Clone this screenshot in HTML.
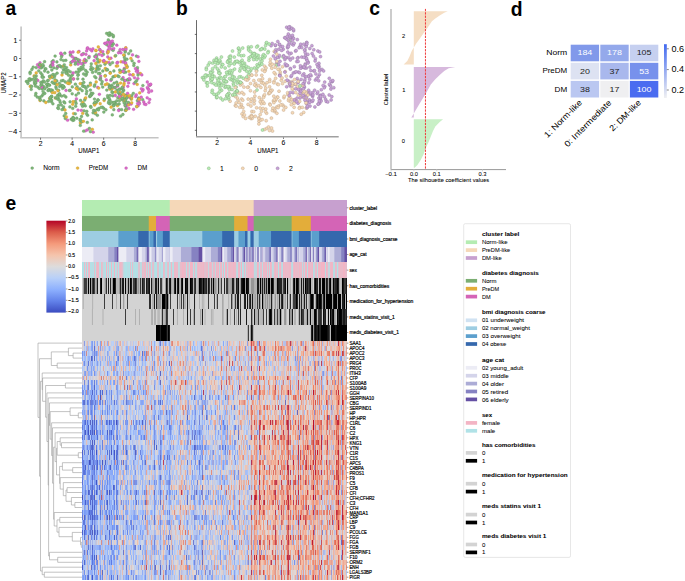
<!DOCTYPE html>
<html><head><meta charset="utf-8"><style>
html,body{margin:0;padding:0;background:#fff;width:685px;height:581px;overflow:hidden}
body{position:relative;font-family:"Liberation Sans", sans-serif}
.hr{position:absolute;left:82px;width:265px}
.aN{fill:rgb(128, 182, 122);stroke:rgb(96, 150, 92)}.aP{fill:rgb(232, 182, 62);stroke:rgb(196, 150, 45)}.aD{fill:rgb(218, 108, 200);stroke:rgb(185, 80, 168)}.b0{fill:rgb(245, 216, 182);stroke:rgb(185, 160, 135)}.b1{fill:rgb(184, 236, 180);stroke:rgb(125, 170, 122)}.b2{fill:rgb(200, 162, 214);stroke:rgb(145, 115, 160)}
</style></head><body>
<div class="hr" style="top:200.00px;height:16.09px;background:linear-gradient(90deg,#b4ecb2 87px,#c5e7b4 0 88px,#f5d8b8 0 171px,#e6c5c0 0 172px,#c7a0cf 0 265px)"></div>
<div class="hr" style="top:215.59px;height:16.09px;background:linear-gradient(90deg,#7bae72 66px,#94ae65 0 67px,#e3ad3a 0 74px,#d464b6 0 87px,#bd77a5 0 88px,#7bae72 0 152px,#d5ad42 0 153px,#e3ad3a 0 165px,#dc8a76 0 166px,#d464b6 0 171px,#b77d9f 0 172px,#7bae72 0 209px,#9fae5f 0 210px,#e3ad3a 0 228px,#e0a050 0 229px,#d464b6 0 265px)"></div>
<div class="hr" style="top:231.18px;height:16.09px;background:linear-gradient(90deg,#9dcde2 36px,#74b0d5 0 37px,#5b9fcd 0 56px,#3f77b6 0 57px,#3568ad 0 66px,#4e80ba 0 67px,#7bb5d7 0 68px,#5b9fcd 0 71px,#4782bc 0 72px,#3568ad 0 74px,#9dcde2 0 75px,#60a3cf 0 76px,#5b9fcd 0 80px,#5698c9 0 81px,#3568ad 0 87px,#5082bb 0 88px,#9dcde2 0 120px,#6fadd3 0 121px,#5b9fcd 0 140px,#3c73b3 0 141px,#3568ad 0 152px,#8fbfdb 0 153px,#9dcde2 0 156px,#7ab5d7 0 157px,#5b9fcd 0 162px,#5b9ecd 0 163px,#3568ad 0 165px,#6799c6 0 166px,#9dcde2 0 168px,#5695c7 0 169px,#3568ad 0 171px,#5789bf 0 172px,#9dcde2 0 176px,#8bc1dc 0 177px,#5b9fcd 0 189px,#366aae 0 190px,#3568ad 0 209px,#598bbf 0 210px,#74b0d5 0 211px,#5b9fcd 0 216px,#5799c9 0 217px,#3568ad 0 228px,#477ab6 0 229px,#7fb8d9 0 230px,#5b9fcd 0 237px,#3b70b2 0 238px,#3568ad 0 265px)"></div>
<div class="hr" style="top:246.77px;height:16.09px;background:linear-gradient(90deg,#ececf5 11px,#dedeef 0 12px,#d4d4ea 0 26px,#b6b6db 0 27px,#acacd6 0 32px,#9593ca 0 33px,#8682c2 0 34px,#847ec0 0 35px,#6550a4 0 36px,#b9b2d7 0 37px,#ececf5 0 44px,#dcdcee 0 45px,#d4d4ea 0 51px,#d1d1e9 0 52px,#acacd6 0 54px,#9895cb 0 55px,#776bb4 0 56px,#c7c2df 0 57px,#ececf5 0 59px,#e9e9f4 0 60px,#d4d4ea 0 63px,#c0c0e0 0 64px,#aaaad5 0 65px,#6f60ad 0 66px,#7f6fb5 0 67px,#d2d2e8 0 68px,#ececf5 0 69px,#dbdbed 0 70px,#cacae5 0 72px,#c2c2e1 0 73px,#918ec8 0 74px,#d1d1e8 0 75px,#e7e7f2 0 76px,#e1e1f0 0 77px,#d4d4ea 0 79px,#cbcbe6 0 80px,#a7a5d3 0 81px,#ececf5 0 83px,#dedeee 0 84px,#d4d4ea 0 87px,#cccce6 0 88px,#ececf5 0 90px,#e3e3f1 0 91px,#d4d4ea 0 98px,#d2d2e9 0 99px,#acacd6 0 109px,#9795cb 0 110px,#8682c2 0 116px,#7c72b8 0 117px,#6550a4 0 120px,#c3bddd 0 121px,#ececf5 0 123px,#d9d9ec 0 124px,#d4d4ea 0 128px,#d3d3ea 0 129px,#acacd6 0 135px,#a7a6d3 0 136px,#8682c2 0 139px,#6956a7 0 140px,#d1cde5 0 141px,#ececf5 0 142px,#d4d4ea 0 145px,#b6b6db 0 146px,#acacd6 0 148px,#a7a7d4 0 149px,#8682c2 0 151px,#6752a5 0 152px,#d6d4e9 0 153px,#d2d2e9 0 154px,#acacd6 0 155px,#8d86c2 0 156px,#aca2ce 0 157px,#e1e1f0 0 158px,#d4d4ea 0 160px,#b0b0d8 0 161px,#8a85c3 0 162px,#6652a5 0 163px,#c8c8e4 0 164px,#9694cb 0 165px,#a8a0ce 0 166px,#c4c4e2 0 167px,#968fc6 0 168px,#a69dcd 0 169px,#acacd6 0 170px,#847fc0 0 171px,#9284bf 0 172px,#d5d5ea 0 173px,#bbbbdd 0 174px,#dedeef 0 175px,#918ec8 0 176px,#958cc5 0 177px,#e8e8f3 0 178px,#b3b3da 0 179px,#ababd5 0 180px,#bdb5d9 0 181px,#d6d6eb 0 182px,#d4d4ea 0 183px,#b6b6db 0 184px,#acacd6 0 186px,#a7a6d3 0 187px,#8682c2 0 188px,#7b72b8 0 189px,#d9d8ec 0 190px,#d4d4ea 0 191px,#c3c3e1 0 192px,#acacd6 0 193px,#a2a1d1 0 194px,#8079bd 0 195px,#a397c9 0 196px,#ececf5 0 197px,#d4d4ea 0 198px,#cccce6 0 199px,#9a98cc 0 200px,#8581c1 0 201px,#bfb8da 0 202px,#ececf5 0 203px,#e0e0f0 0 204px,#d4d4ea 0 205px,#b8b8dc 0 206px,#acacd6 0 208px,#8e8bc6 0 209px,#9391c9 0 210px,#d4d4e9 0 211px,#d6d6eb 0 212px,#b3b3da 0 213px,#908dc7 0 214px,#7d74ba 0 215px,#cbcae4 0 216px,#babadd 0 217px,#dadaed 0 218px,#d4d4ea 0 221px,#b5b5db 0 222px,#acacd6 0 223px,#9593ca 0 224px,#7e6eb4 0 225px,#d9d9ec 0 226px,#b8b8dc 0 227px,#acacd6 0 228px,#8070b5 0 229px,#dfdfef 0 230px,#cccce6 0 231px,#8a83c1 0 232px,#dcdbec 0 233px,#d0d0e8 0 234px,#9d9cce 0 235px,#8682c2 0 236px,#6753a6 0 237px,#d8d5e9 0 238px,#dadaed 0 239px,#d4d4ea 0 240px,#aeaed7 0 241px,#a6a6d3 0 242px,#8682c2 0 243px,#6f5fad 0 244px,#dbdaed 0 245px,#d2d2e9 0 246px,#ececf5 0 247px,#e3e3f1 0 248px,#d4d4ea 0 252px,#babadd 0 253px,#acacd6 0 259px,#8e8bc6 0 260px,#8682c2 0 262px,#7467b2 0 263px,#6550a4 0 265px)"></div>
<div class="hr" style="top:262.36px;height:16.09px;background:linear-gradient(90deg,#b0e2e7 2px,#e8bcca 0 3px,#b3e0e6 0 4px,#ebbac8 0 5px,#b0e2e7 0 6px,#eabac9 0 7px,#f1b6c5 0 8px,#b5dfe5 0 9px,#b1e1e6 0 10px,#badbe2 0 11px,#b0e2e7 0 12px,#e0c1ce 0 13px,#b2e1e6 0 14px,#e9bbc9 0 15px,#f2b5c4 0 16px,#eeb7c7 0 17px,#bbdbe1 0 18px,#b0e2e7 0 19px,#ebbac8 0 20px,#e0c1ce 0 21px,#bed9e0 0 22px,#b8dce3 0 23px,#b0e2e7 0 24px,#f1b6c5 0 25px,#b5dfe4 0 26px,#e0c1ce 0 27px,#b0e2e7 0 29px,#ebbac8 0 30px,#b2e1e6 0 31px,#b9dce2 0 32px,#f2b5c5 0 33px,#b4e0e5 0 34px,#bbdbe1 0 35px,#e0c1ce 0 36px,#b0e2e7 0 37px,#e5becb 0 38px,#f0b6c5 0 39px,#ebbac8 0 40px,#e0c1ce 0 41px,#c1d6de 0 42px,#b5dfe4 0 43px,#b0e2e7 0 45px,#b7dde4 0 46px,#b4dfe5 0 47px,#b0e2e7 0 48px,#e0c1ce 0 49px,#b0e2e7 0 50px,#e4becc 0 51px,#b8dce3 0 52px,#b9dce2 0 53px,#b0e2e7 0 54px,#b5dee4 0 55px,#b6dee4 0 56px,#e0c1ce 0 58px,#bbdbe1 0 60px,#ebbac8 0 61px,#e0c1ce 0 62px,#ebbac8 0 63px,#efb7c6 0 64px,#c2d6de 0 65px,#eabbc9 0 66px,#b8dce3 0 67px,#eeb7c6 0 68px,#e0c1ce 0 69px,#b0e2e7 0 70px,#e0c1ce 0 72px,#bbdbe1 0 73px,#b0e2e7 0 75px,#e0c1ce 0 77px,#b1e2e7 0 78px,#c3d5dd 0 79px,#b2e1e6 0 80px,#b0e2e7 0 81px,#ebbac8 0 82px,#e0c1ce 0 83px,#b7dde3 0 84px,#b4dfe5 0 85px,#e2c0cd 0 86px,#e9bbc9 0 87px,#b0e2e7 0 88px,#c0d7df 0 89px,#f0b6c5 0 90px,#bbdbe1 0 91px,#b8dce3 0 92px,#edb8c7 0 93px,#eeb8c7 0 94px,#e8bbca 0 95px,#eabac9 0 96px,#bbdbe1 0 97px,#bfd8df 0 98px,#e7bcca 0 99px,#e9bbc9 0 100px,#f3b4c4 0 101px,#efb7c6 0 102px,#edb8c7 0 103px,#e9bbc9 0 104px,#bbdbe1 0 105px,#ebbac8 0 106px,#e0c1ce 0 107px,#bbdbe1 0 108px,#f3b4c4 0 110px,#f0b6c6 0 111px,#bbdbe1 0 112px,#e9bbc9 0 113px,#bdd9e0 0 114px,#bfd8df 0 115px,#e8bbca 0 116px,#f3b4c4 0 117px,#ecb9c8 0 118px,#ebbac8 0 119px,#edb8c7 0 120px,#e9bbc9 0 121px,#f2b4c4 0 122px,#e3bfcc 0 123px,#e0c1ce 0 124px,#ebbac8 0 126px,#c1d7de 0 127px,#e8bbca 0 128px,#f2b4c4 0 129px,#e9bbc9 0 130px,#c3d5dd 0 131px,#e8bbca 0 133px,#c3d5dd 0 134px,#f3b4c4 0 135px,#e8bbca 0 136px,#f3b4c4 0 137px,#c3d5dd 0 138px,#e8bbca 0 139px,#eeb7c7 0 140px,#bdd9e0 0 141px,#f3b4c4 0 142px,#b0e2e7 0 143px,#f0b6c5 0 144px,#f3b4c4 0 145px,#c3d5dd 0 146px,#e9bbc9 0 147px,#f3b4c4 0 148px,#efb7c6 0 149px,#ebbac8 0 150px,#e9bbc9 0 151px,#f3b4c4 0 152px,#efb7c6 0 153px,#ecb9c7 0 154px,#c3d5dd 0 155px,#bcdae1 0 156px,#f0b6c6 0 157px,#f3b4c4 0 158px,#c3d5dd 0 159px,#f3b4c4 0 160px,#b3e0e6 0 161px,#bed8e0 0 162px,#e8bbca 0 163px,#bbdbe2 0 164px,#ebbac8 0 165px,#e3bfcc 0 166px,#f2b5c5 0 167px,#e9bbc9 0 168px,#f3b4c4 0 170px,#f1b5c5 0 171px,#eabac9 0 172px,#bcdae1 0 173px,#c0d7df 0 174px,#c3d5dd 0 175px,#f3b4c4 0 176px,#e8bbca 0 177px,#b8dce3 0 178px,#e8bbca 0 180px,#bbdbe1 0 181px,#f1b6c5 0 182px,#e8bbca 0 184px,#f3b4c4 0 185px,#c3d5dd 0 186px,#f3b4c4 0 187px,#c3d5dd 0 188px,#f3b4c4 0 189px,#e8bbca 0 190px,#b8dce3 0 191px,#c3d5dd 0 192px,#e8bbca 0 193px,#f3b4c4 0 194px,#e3bfcd 0 195px,#ebbac8 0 196px,#b0e2e7 0 197px,#e8bbca 0 198px,#f3b4c4 0 199px,#c3d5dd 0 200px,#b8dce3 0 201px,#f3b4c4 0 202px,#e8bbca 0 203px,#efb7c6 0 204px,#ecb9c8 0 205px,#e9bbc9 0 206px,#ebbac8 0 207px,#efb6c6 0 208px,#f3b4c4 0 209px,#c3d5dd 0 210px,#b8dce3 0 211px,#e8bbca 0 212px,#f3b4c4 0 213px,#e8bbca 0 214px,#eabac8 0 215px,#ebbac8 0 216px,#e3bfcc 0 217px,#f2b5c4 0 218px,#e9bbc9 0 219px,#ecb9c7 0 220px,#bfd8df 0 221px,#e8bbca 0 222px,#c3d5dd 0 223px,#f3b4c4 0 225px,#b8dce3 0 226px,#f3b4c4 0 228px,#e8bbca 0 230px,#f3b4c4 0 231px,#b8dce3 0 232px,#c3d5dd 0 233px,#e5becb 0 234px,#ebbac8 0 235px,#b9dce2 0 236px,#f3b4c4 0 238px,#e8bbca 0 239px,#f3b4c4 0 242px,#f1b5c5 0 243px,#badbe2 0 244px,#f3b4c4 0 245px,#e8bbca 0 246px,#c3d5dd 0 248px,#ebbac8 0 249px,#f0b6c5 0 250px,#f0b6c6 0 251px,#bbdbe1 0 252px,#b9dce2 0 253px,#e8bbca 0 254px,#e4becc 0 255px,#b0e2e7 0 256px,#e0c1ce 0 257px,#ebbac8 0 260px,#eabac9 0 261px,#f3b4c4 0 263px,#e8bbca 0 265px)"></div>
<div class="hr" style="top:277.95px;height:16.09px;background:linear-gradient(90deg,#cacaca 1px,#969696 0 2px,#3c3c3c 0 3px,#3d3d3d 0 5px,#b0b0b0 0 6px,#000000 0 7px,#b9b9b9 0 8px,#000000 0 9px,#9a9a9a 0 10px,#3d3d3d 0 11px,#1a1a1a 0 12px,#3d3d3d 0 13px,#acacac 0 14px,#969696 0 15px,#171717 0 16px,#d3d3d3 0 18px,#1b1b1b 0 19px,#000000 0 20px,#cacaca 0 22px,#b9b9b9 0 23px,#969696 0 24px,#353535 0 25px,#d3d3d3 0 26px,#1a1a1a 0 27px,#d3d3d3 0 28px,#282828 0 29px,#b9b9b9 0 30px,#969696 0 31px,#000000 0 33px,#222222 0 34px,#b9b9b9 0 35px,#b8b8b8 0 36px,#bababa 0 37px,#969696 0 38px,#222222 0 39px,#969696 0 40px,#1b1b1b 0 41px,#1a1a1a 0 42px,#c8c8c8 0 43px,#030303 0 44px,#b6b6b6 0 45px,#ababab 0 46px,#1a1a1a 0 47px,#acacac 0 48px,#000000 0 49px,#171717 0 50px,#b1b1b1 0 51px,#3d3d3d 0 53px,#1a1a1a 0 54px,#3d3d3d 0 55px,#a8a8a8 0 56px,#979797 0 57px,#b8b8b8 0 58px,#353535 0 59px,#b1b1b1 0 60px,#1a1a1a 0 61px,#3d3d3d 0 63px,#d3d3d3 0 64px,#1a1a1a 0 65px,#3d3d3d 0 66px,#262626 0 67px,#0f0f0f 0 68px,#d3d3d3 0 69px,#1c1c1c 0 70px,#969696 0 71px,#a7a7a7 0 72px,#b1b1b1 0 73px,#1a1a1a 0 74px,#1b1b1b 0 75px,#9e9e9e 0 76px,#0a0a0a 0 77px,#d3d3d3 0 78px,#3d3d3d 0 80px,#b1b1b1 0 81px,#d3d3d3 0 83px,#9a9a9a 0 84px,#0e0e0e 0 85px,#3d3d3d 0 86px,#b3b3b3 0 87px,#222222 0 88px,#101010 0 89px,#a8a8a8 0 90px,#b9b9b9 0 91px,#b1b1b1 0 92px,#2a2a2a 0 93px,#000000 0 94px,#b9b9b9 0 95px,#1c1c1c 0 96px,#060606 0 97px,#a3a3a3 0 98px,#b1b1b1 0 99px,#1e1e1e 0 100px,#000000 0 101px,#c7c7c7 0 102px,#cdcdcd 0 103px,#000000 0 104px,#181818 0 105px,#0a0a0a 0 106px,#b9b9b9 0 108px,#000000 0 109px,#121212 0 110px,#1a1a1a 0 111px,#b1b1b1 0 112px,#3d3d3d 0 113px,#292929 0 114px,#b9b9b9 0 116px,#969696 0 117px,#000000 0 118px,#0e0e0e 0 119px,#1a1a1a 0 120px,#3d3d3d 0 121px,#020202 0 122px,#323232 0 123px,#353535 0 124px,#222222 0 125px,#979797 0 126px,#121212 0 127px,#333333 0 128px,#bababa 0 129px,#212121 0 130px,#969696 0 131px,#000000 0 132px,#969696 0 134px,#acacac 0 135px,#c5c5c5 0 136px,#282828 0 137px,#b3b3b3 0 138px,#aeaeae 0 139px,#3d3d3d 0 140px,#d3d3d3 0 142px,#232323 0 143px,#cacaca 0 144px,#3d3d3d 0 145px,#3b3b3b 0 146px,#969696 0 147px,#aaaaaa 0 148px,#a5a5a5 0 149px,#9a9a9a 0 150px,#1f1f1f 0 151px,#222222 0 152px,#969696 0 153px,#bebebe 0 154px,#1d1d1d 0 155px,#3a3a3a 0 156px,#0b0b0b 0 157px,#b9b9b9 0 158px,#969696 0 159px,#1a1a1a 0 160px,#090909 0 161px,#000000 0 163px,#969696 0 164px,#000000 0 165px,#0b0b0b 0 166px,#171717 0 167px,#b4b4b4 0 168px,#bebebe 0 169px,#969696 0 172px,#aeaeae 0 173px,#b1b1b1 0 175px,#1b1b1b 0 176px,#191919 0 177px,#9f9f9f 0 178px,#000000 0 179px,#969696 0 180px,#1b1b1b 0 181px,#9d9d9d 0 182px,#222222 0 183px,#969696 0 184px,#1d1d1d 0 185px,#9b9b9b 0 186px,#000000 0 188px,#969696 0 189px,#000000 0 191px,#292929 0 192px,#b2b2b2 0 193px,#b0b0b0 0 194px,#a0a0a0 0 195px,#090909 0 196px,#1a1a1a 0 197px,#222222 0 200px,#999999 0 201px,#3d3d3d 0 202px,#282828 0 203px,#0d0d0d 0 204px,#cecece 0 205px,#000000 0 206px,#b9b9b9 0 207px,#c8c8c8 0 208px,#b1b1b1 0 209px,#d3d3d3 0 210px,#bababa 0 211px,#222222 0 212px,#000000 0 213px,#969696 0 214px,#000000 0 216px,#222222 0 217px,#969696 0 218px,#b3b3b3 0 219px,#1a1a1a 0 220px,#b1b1b1 0 221px,#1a1a1a 0 222px,#b4b4b4 0 223px,#000000 0 224px,#313131 0 225px,#1a1a1a 0 226px,#3d3d3d 0 227px,#242424 0 228px,#000000 0 229px,#b9b9b9 0 231px,#d3d3d3 0 232px,#2a2a2a 0 233px,#000000 0 234px,#222222 0 235px,#1d1d1d 0 236px,#bebebe 0 237px,#0c0c0c 0 238px,#161616 0 239px,#b5b5b5 0 240px,#040404 0 241px,#000000 0 243px,#969696 0 244px,#181818 0 245px,#2c2c2c 0 246px,#9f9f9f 0 247px,#1a1a1a 0 248px,#000000 0 249px,#a9a9a9 0 250px,#a6a6a6 0 251px,#020202 0 252px,#3d3d3d 0 253px,#282828 0 254px,#222222 0 255px,#040404 0 256px,#1e1e1e 0 257px,#adadad 0 258px,#c5c5c5 0 259px,#b9b9b9 0 260px,#000000 0 261px,#181818 0 262px,#3d3d3d 0 264px,#1a1a1a 0 265px)"></div>
<div class="hr" style="top:293.54px;height:16.09px;background:linear-gradient(90deg,#cacaca 1px,#b8b8b8 0 2px,#d3d3d3 0 10px,#b6b6b6 0 11px,#cecece 0 12px,#d3d3d3 0 22px,#3d3d3d 0 23px,#d3d3d3 0 30px,#3d3d3d 0 31px,#d3d3d3 0 34px,#b1b1b1 0 35px,#d3d3d3 0 38px,#3d3d3d 0 39px,#d3d3d3 0 41px,#9e9e9e 0 42px,#c4c4c4 0 43px,#d3d3d3 0 45px,#3d3d3d 0 46px,#d3d3d3 0 67px,#2e2e2e 0 68px,#292929 0 69px,#d3d3d3 0 70px,#b1b1b1 0 72px,#1a1a1a 0 73px,#d3d3d3 0 74px,#222222 0 75px,#969696 0 79px,#b9b9b9 0 80px,#000000 0 83px,#393939 0 84px,#2e2e2e 0 85px,#000000 0 86px,#969696 0 87px,#d1d1d1 0 88px,#3d3d3d 0 89px,#d3d3d3 0 95px,#3d3d3d 0 96px,#d3d3d3 0 97px,#a5a5a5 0 98px,#bdbdbd 0 99px,#3d3d3d 0 100px,#d3d3d3 0 101px,#3d3d3d 0 102px,#b1b1b1 0 103px,#b3b3b3 0 104px,#d1d1d1 0 105px,#1a1a1a 0 106px,#cbcbcb 0 107px,#b9b9b9 0 108px,#d3d3d3 0 112px,#202020 0 113px,#cdcdcd 0 114px,#d3d3d3 0 117px,#b1b1b1 0 118px,#d3d3d3 0 119px,#cdcdcd 0 120px,#b6b6b6 0 121px,#bbbbbb 0 122px,#c9c9c9 0 123px,#d3d3d3 0 126px,#3d3d3d 0 127px,#d3d3d3 0 132px,#3d3d3d 0 133px,#d3d3d3 0 134px,#b1b1b1 0 135px,#3d3d3d 0 136px,#d3d3d3 0 140px,#a9a9a9 0 141px,#b8b8b8 0 142px,#d3d3d3 0 146px,#b7b7b7 0 147px,#cccccc 0 148px,#d3d3d3 0 149px,#393939 0 150px,#969696 0 151px,#cecece 0 152px,#b1b1b1 0 153px,#373737 0 154px,#b6b6b6 0 155px,#1a1a1a 0 157px,#d3d3d3 0 158px,#3d3d3d 0 159px,#d3d3d3 0 161px,#cacaca 0 162px,#222222 0 163px,#1b1b1b 0 164px,#d3d3d3 0 165px,#0f0f0f 0 166px,#bcbcbc 0 167px,#3d3d3d 0 168px,#1a1a1a 0 169px,#b1b1b1 0 170px,#1a1a1a 0 171px,#b4b4b4 0 172px,#aeaeae 0 173px,#a1a1a1 0 174px,#c0c0c0 0 175px,#3d3d3d 0 176px,#b1b1b1 0 177px,#2b2b2b 0 178px,#a0a0a0 0 179px,#d2d2d2 0 180px,#000000 0 181px,#969696 0 182px,#b9b9b9 0 183px,#999999 0 184px,#b6b6b6 0 185px,#969696 0 186px,#b9b9b9 0 187px,#9b9b9b 0 188px,#b4b4b4 0 189px,#222222 0 190px,#a5a5a5 0 191px,#cccccc 0 192px,#b8b8b8 0 193px,#989898 0 194px,#cacaca 0 195px,#a8a8a8 0 196px,#bababa 0 197px,#222222 0 198px,#b9b9b9 0 199px,#2d2d2d 0 200px,#171717 0 201px,#969696 0 202px,#b9b9b9 0 203px,#a3a3a3 0 204px,#d3d3d3 0 205px,#3d3d3d 0 206px,#d3d3d3 0 207px,#a2a2a2 0 208px,#292929 0 209px,#d3d3d3 0 210px,#b1b1b1 0 211px,#3d3d3d 0 213px,#3c3c3c 0 214px,#000000 0 215px,#222222 0 216px,#c3c3c3 0 217px,#181818 0 218px,#b3b3b3 0 219px,#282828 0 220px,#b9b9b9 0 221px,#9b9b9b 0 222px,#1e1e1e 0 223px,#b9b9b9 0 224px,#313131 0 225px,#cccccc 0 226px,#b7b7b7 0 227px,#989898 0 228px,#222222 0 229px,#000000 0 231px,#3d3d3d 0 232px,#d3d3d3 0 233px,#a6a6a6 0 234px,#222222 0 235px,#000000 0 236px,#222222 0 237px,#000000 0 239px,#1f1f1f 0 240px,#9a9a9a 0 241px,#222222 0 242px,#000000 0 243px,#969696 0 244px,#000000 0 250px,#a1a1a1 0 251px,#181818 0 252px,#000000 0 255px,#969696 0 256px,#000000 0 259px,#bfbfbf 0 260px,#1c1c1c 0 261px,#222222 0 262px,#000000 0 263px,#b9b9b9 0 264px,#000000 0 265px)"></div>
<div class="hr" style="top:309.13px;height:16.09px;background:linear-gradient(90deg,#d3d3d3 9px,#d0d0d0 0 10px,#b4b4b4 0 11px,#d3d3d3 0 20px,#c2c2c2 0 22px,#d3d3d3 0 43px,#3d3d3d 0 44px,#d3d3d3 0 53px,#b1b1b1 0 54px,#d3d3d3 0 56px,#d2d2d2 0 57px,#b1b1b1 0 58px,#d3d3d3 0 69px,#b2b2b2 0 70px,#afafaf 0 71px,#d3d3d3 0 72px,#b1b1b1 0 74px,#d3d3d3 0 75px,#c1c1c1 0 76px,#b9b9b9 0 77px,#bbbbbb 0 78px,#d3d3d3 0 79px,#b1b1b1 0 80px,#303030 0 81px,#b9b9b9 0 82px,#b5b5b5 0 83px,#9a9a9a 0 84px,#313131 0 85px,#3d3d3d 0 86px,#d3d3d3 0 91px,#3d3d3d 0 92px,#d3d3d3 0 94px,#d1d1d1 0 95px,#b3b3b3 0 96px,#d3d3d3 0 101px,#b1b1b1 0 102px,#d3d3d3 0 105px,#1a1a1a 0 106px,#d3d3d3 0 108px,#3d3d3d 0 109px,#d3d3d3 0 111px,#b1b1b1 0 112px,#3d3d3d 0 113px,#d3d3d3 0 118px,#a3a3a3 0 119px,#bfbfbf 0 120px,#1d1d1d 0 121px,#d1d1d1 0 122px,#c3c3c3 0 123px,#c1c1c1 0 124px,#d3d3d3 0 128px,#d1d1d1 0 129px,#b2b2b2 0 130px,#bfbfbf 0 131px,#c4c4c4 0 132px,#d3d3d3 0 140px,#a9a9a9 0 141px,#b8b8b8 0 142px,#d3d3d3 0 144px,#a7a7a7 0 145px,#242424 0 146px,#d3d3d3 0 148px,#b1b1b1 0 149px,#d3d3d3 0 152px,#3d3d3d 0 153px,#d3d3d3 0 154px,#b3b3b3 0 155px,#d0d0d0 0 156px,#3d3d3d 0 157px,#cccccc 0 158px,#222222 0 159px,#d3d3d3 0 164px,#1a1a1a 0 165px,#d3d3d3 0 169px,#2f2f2f 0 170px,#9c9c9c 0 171px,#d3d3d3 0 172px,#1a1a1a 0 173px,#b1b1b1 0 175px,#b2b2b2 0 176px,#3c3c3c 0 177px,#c2c2c2 0 178px,#b9b9b9 0 180px,#b2b2b2 0 181px,#3d3d3d 0 182px,#d3d3d3 0 184px,#3d3d3d 0 185px,#d3d3d3 0 186px,#b1b1b1 0 187px,#151515 0 188px,#000000 0 189px,#171717 0 190px,#b1b1b1 0 191px,#d3d3d3 0 192px,#3d3d3d 0 193px,#b1b1b1 0 195px,#3d3d3d 0 196px,#b0b0b0 0 197px,#969696 0 198px,#000000 0 199px,#a1a1a1 0 200px,#d3d3d3 0 202px,#9c9c9c 0 203px,#969696 0 204px,#bebebe 0 205px,#d3d3d3 0 207px,#2e2e2e 0 208px,#969696 0 210px,#191919 0 211px,#d3d3d3 0 212px,#b1b1b1 0 214px,#d3d3d3 0 216px,#b1b1b1 0 217px,#3a3a3a 0 218px,#b3b3b3 0 219px,#1a1a1a 0 220px,#3d3d3d 0 222px,#b4b4b4 0 223px,#b9b9b9 0 224px,#a5a5a5 0 225px,#141414 0 226px,#b7b7b7 0 227px,#b1b1b1 0 228px,#0a0a0a 0 229px,#c1c1c1 0 230px,#b0b0b0 0 231px,#b1b1b1 0 232px,#080808 0 233px,#000000 0 234px,#252525 0 235px,#b6b6b6 0 236px,#373737 0 237px,#303030 0 238px,#272727 0 239px,#3d3d3d 0 240px,#d3d3d3 0 241px,#0c0c0c 0 242px,#292929 0 243px,#1c1c1c 0 244px,#d1d1d1 0 245px,#c3c3c3 0 246px,#080808 0 247px,#d3d3d3 0 248px,#000000 0 249px,#353535 0 250px,#101010 0 251px,#000000 0 252px,#969696 0 253px,#ababab 0 254px,#c7c7c7 0 255px,#040404 0 256px,#1e1e1e 0 257px,#000000 0 259px,#060606 0 260px,#3d3d3d 0 261px,#1a1a1a 0 263px,#353535 0 264px,#222222 0 265px)"></div>
<div class="hr" style="top:324.72px;height:16.09px;background:linear-gradient(90deg,#d3d3d3 74px,#000000 0 77px,#020202 0 78px,#202020 0 79px,#000000 0 84px,#0e0e0e 0 85px,#363636 0 86px,#000000 0 87px,#181818 0 88px,#d3d3d3 0 165px,#b1b1b1 0 166px,#3d3d3d 0 167px,#d3d3d3 0 168px,#9b9b9b 0 169px,#0d0d0d 0 170px,#373737 0 171px,#b6b6b6 0 172px,#d3d3d3 0 228px,#c2c2c2 0 229px,#222222 0 230px,#000000 0 231px,#969696 0 232px,#222222 0 233px,#0a0a0a 0 234px,#1a1a1a 0 235px,#202020 0 236px,#000000 0 237px,#222222 0 239px,#000000 0 245px,#101010 0 246px,#1a1a1a 0 247px,#3d3d3d 0 248px,#b9b9b9 0 249px,#000000 0 253px,#141414 0 254px,#0e0e0e 0 255px,#000000 0 265px)"></div>
<div class="hr" style="top:340.65px;height:5.48px;background:linear-gradient(90deg,#dad3d7 1px,#d4cdd6 0 2px,#8c9ce3 0 3px,#ced7e7 0 4px,#e1cbc6 0 5px,#debcb7 0 6px,#bbcbee 0 7px,#e1d3d0 0 8px,#d1d3e0 0 9px,#8faef7 0 10px,#839dec 0 11px,#c6d4ee 0 12px,#85a1f0 0 13px,#e7cec4 0 14px,#b4cdf9 0 15px,#93a9ed 0 16px,#cfd8e7 0 17px,#d2d5e0 0 18px,#87a4f2 0 19px,#ea9781 0 20px,#ddd6d6 0 21px,#c0d2f2 0 22px,#e0a9a1 0 23px,#d7cdd3 0 24px,#e7cac0 0 25px,#8faffa 0 26px,#e2a59a 0 27px,#dfd2d1 0 28px,#d6d2d9 0 29px,#bccef1 0 30px,#bbd1f6 0 31px,#b8cef6 0 32px,#e1cecb 0 33px,#b8c1e7 0 34px,#d2bdc2 0 35px,#9dbaf9 0 36px,#d2ced7 0 37px,#e8bdb1 0 38px,#e6ab9d 0 39px,#dfd6d4 0 40px,#b8c8ee 0 41px,#bac7ec 0 42px,#ecc7b8 0 43px,#d1d3e0 0 44px,#d2c6d0 0 45px,#bbcdf2 0 46px,#d1d8e5 0 47px,#d7d9e0 0 48px,#c9c6da 0 49px,#cccfdf 0 50px,#dccdcf 0 51px,#b9caf0 0 52px,#ccd5e8 0 53px,#c3d0eb 0 54px,#c3cfec 0 55px,#e3d4ce 0 56px,#e6aea1 0 57px,#ebccbe 0 58px,#bccef2 0 59px,#d3d6e1 0 60px,#b2cbf8 0 61px,#ebbdae 0 62px,#dac9cb 0 63px,#ced1e2 0 64px,#e2cfcb 0 65px,#e6cdc5 0 66px,#e2c9c4 0 67px,#bcc4e0 0 68px,#c9d6eb 0 69px,#e5a496 0 70px,#bdd1f4 0 71px,#c2d3f1 0 72px,#95b2f6 0 73px,#bbd1f7 0 74px,#e2d4cf 0 75px,#d5d5de 0 76px,#cfcfdb 0 77px,#94abed 0 78px,#6b7ad3 0 79px,#bbcef2 0 80px,#afbdeb 0 81px,#ebb1a0 0 82px,#acc5f7 0 83px,#85a2f1 0 84px,#a6bef5 0 85px,#d5d4dd 0 86px,#b1c8f6 0 87px,#9bb1ee 0 88px,#cacedf 0 89px,#e59887 0 90px,#de8578 0 91px,#e6cec6 0 92px,#eecaba 0 93px,#e4cdc6 0 94px,#e1d8d5 0 95px,#f2aa90 0 96px,#f0ad95 0 97px,#e1d4cf 0 98px,#d5c8ce 0 99px,#dad1d3 0 100px,#e5d2cb 0 101px,#eacabe 0 102px,#c1d2f1 0 103px,#e5c4bb 0 104px,#dfc4c1 0 105px,#a4b8f0 0 106px,#bec3e3 0 107px,#eac0b3 0 108px,#efa68f 0 109px,#e8ccc2 0 110px,#d7d4da 0 111px,#9ab7f9 0 112px,#bad0f7 0 113px,#e1d1cd 0 114px,#f0c6b4 0 115px,#b3cbf8 0 116px,#c5d2ed 0 117px,#bacff5 0 118px,#acc3f5 0 119px,#93a8eb 0 120px,#e0cec9 0 121px,#da867d 0 122px,#e7c8be 0 123px,#a2b2ea 0 124px,#b5caf3 0 125px,#c8d0e8 0 126px,#f2ac92 0 127px,#c7cde6 0 128px,#dcd5d6 0 129px,#c1d0f0 0 130px,#c2bdda 0 131px,#c6c6df 0 132px,#e8beb3 0 133px,#dcd6d7 0 134px,#bcd0f4 0 135px,#d5cad3 0 136px,#e8a18f 0 137px,#cac8dd 0 138px,#cdd2e3 0 139px,#d7d9df 0 140px,#cfd6e5 0 141px,#87a9fa 0 142px,#d7d8df 0 143px,#b7cdf6 0 144px,#d1c8d3 0 145px,#90abf2 0 146px,#ebccbf 0 147px,#e3b5ad 0 148px,#f0c8b6 0 149px,#dccfd0 0 150px,#cad1e7 0 151px,#efc2b1 0 152px,#e0cfcd 0 153px,#ded7d6 0 154px,#cfd8e7 0 155px,#d0d0de 0 156px,#c9d1e8 0 157px,#e9a593 0 158px,#c4cae4 0 159px,#efbba8 0 160px,#eaccbf 0 161px,#ddbcba 0 162px,#dad8dc 0 163px,#eacec2 0 164px,#e4cec8 0 165px,#8da3ea 0 166px,#efb8a3 0 167px,#e7d0c7 0 168px,#e9b0a0 0 169px,#cb4953 0 170px,#f29d81 0 171px,#d97069 0 172px,#eaa28f 0 173px,#e3c9c3 0 174px,#eeb09b 0 175px,#8ca1ea 0 176px,#98a9e8 0 177px,#d06264 0 178px,#dfcecc 0 179px,#c6c1d8 0 180px,#ded7d7 0 181px,#f0a087 0 182px,#f4a68a 0 183px,#f1b29a 0 184px,#c0c9e8 0 185px,#eccbbd 0 186px,#efc7b5 0 187px,#dfcfcd 0 188px,#efc4b1 0 189px,#c6cbe5 0 190px,#f1c7b4 0 191px,#e8cac0 0 192px,#d1d8e5 0 193px,#df7b6b 0 194px,#e6d0c6 0 195px,#f3b198 0 196px,#f4b39a 0 197px,#c2c2de 0 198px,#d3d5e0 0 199px,#e1d0cc 0 200px,#e8a899 0 201px,#b4c4ee 0 202px,#b4bfe8 0 203px,#b7bee5 0 204px,#e2988f 0 205px,#ea9985 0 206px,#e7baaf 0 207px,#eea892 0 208px,#ba3a57 0 209px,#e49989 0 210px,#c9bace 0 211px,#edbeae 0 212px,#ddd8d9 0 213px,#f1b098 0 214px,#d1c0cc 0 215px,#b4b9e3 0 216px,#e9c9bc 0 217px,#dbd1d4 0 218px,#f2a488 0 219px,#da7a70 0 220px,#beb2d3 0 221px,#97a6e6 0 222px,#e5d4cc 0 223px,#e79a89 0 224px,#f3b69d 0 225px,#d2cedb 0 226px,#f1bda8 0 227px,#d8d8de 0 228px,#ecc5b5 0 229px,#eac0b4 0 230px,#f1977b 0 231px,#e16854 0 232px,#b4aed6 0 233px,#ecb8a8 0 234px,#dccfd0 0 235px,#f4a082 0 236px,#d5b5bb 0 237px,#ea9685 0 238px,#e5d2ca 0 239px,#eca08a 0 240px,#a9b9ec 0 241px,#f0bca8 0 242px,#e3cac5 0 243px,#d1cedc 0 244px,#f0c5b2 0 245px,#eb957d 0 246px,#cacfe4 0 247px,#efb19b 0 248px,#e4c6bf 0 249px,#d5c8cf 0 250px,#dec8c5 0 251px,#eebca9 0 252px,#c6c2db 0 253px,#efc3b1 0 254px,#e6d2ca 0 255px,#cac1d5 0 256px,#c53245 0 257px,#f1a78e 0 258px,#f4c2ac 0 259px,#b3bee8 0 260px,#ea846c 0 261px,#eea794 0 262px,#e3cac4 0 263px,#e5d0c8 0 264px,#ecccbf 0 265px)"></div>
<div class="hr" style="top:345.63px;height:5.48px;background:linear-gradient(90deg,#dccfd1 1px,#d0d4e0 0 2px,#b7c6ee 0 3px,#cad1e6 0 4px,#9db8f5 0 5px,#cdadb7 0 6px,#9bb4f5 0 7px,#b3c8f4 0 8px,#b6c8f0 0 9px,#87a8f8 0 10px,#829ff0 0 11px,#cfd1e0 0 12px,#6270ce 0 13px,#bac6eb 0 14px,#cfcdda 0 15px,#bcd0f4 0 16px,#e09c92 0 17px,#c6cee6 0 18px,#819ced 0 19px,#e1c3c0 0 20px,#a3b8f2 0 21px,#e6c1b8 0 22px,#afbfea 0 23px,#aec3f0 0 24px,#c8d5ec 0 25px,#c7d2ea 0 26px,#aec8fa 0 27px,#92b2fa 0 28px,#b3c9f3 0 29px,#cdd4e3 0 30px,#cbd5e9 0 31px,#e7c2b8 0 32px,#bbcbed 0 33px,#e3c8c0 0 34px,#9ab0ed 0 35px,#93abee 0 36px,#839fee 0 37px,#cbd2e3 0 38px,#d3d2db 0 39px,#e4c1ba 0 40px,#c1c9e1 0 41px,#d4d7e2 0 42px,#d2d7e3 0 43px,#b5cbf5 0 44px,#96aff3 0 45px,#99b7f9 0 46px,#e9baac 0 47px,#adc2f3 0 48px,#abc5f8 0 49px,#bacdf1 0 50px,#b2c9f6 0 51px,#a0b7f2 0 52px,#e8d0c5 0 53px,#788ee4 0 54px,#9ebaf9 0 55px,#d7908c 0 56px,#c3d3f0 0 57px,#aec8f9 0 58px,#bacff6 0 59px,#bdcbeb 0 60px,#c5cee4 0 61px,#b8cef6 0 62px,#d4c8cf 0 63px,#bed2f4 0 64px,#e4c6c1 0 65px,#bacff4 0 66px,#ecc2b4 0 67px,#dcd3d5 0 68px,#cbd5e8 0 69px,#d26061 0 70px,#e5d3cc 0 71px,#becbec 0 72px,#9db6f4 0 73px,#cdd3e5 0 74px,#f3a489 0 75px,#e2ccc6 0 76px,#e9b6a8 0 77px,#acc2f4 0 78px,#adc0f0 0 79px,#ded1d0 0 80px,#dbd1d3 0 81px,#e79a89 0 82px,#d3d9e4 0 83px,#eeb5a1 0 84px,#dbcbcd 0 85px,#eead97 0 86px,#e9cec2 0 87px,#a5baf2 0 88px,#9bb7f8 0 89px,#d0cfda 0 90px,#dad9dd 0 91px,#d5c3c6 0 92px,#e3bab2 0 93px,#d5d8e1 0 94px,#a1bdf9 0 95px,#b5cdf7 0 96px,#bfcfed 0 97px,#b3c8f3 0 98px,#df9185 0 99px,#e4d1ca 0 100px,#b4c4ed 0 101px,#eab8a9 0 102px,#ebbaaa 0 103px,#bac1e0 0 104px,#cec5d2 0 105px,#88a7f5 0 106px,#e8d1c6 0 107px,#ccd2e6 0 108px,#e39384 0 109px,#cbd4e8 0 110px,#97b7fd 0 111px,#c4d4ef 0 112px,#9ebbf9 0 113px,#aec8f9 0 114px,#c8d5ec 0 115px,#abc3f6 0 116px,#c2d2f0 0 117px,#c0d0f0 0 118px,#a2c0fb 0 119px,#5e76da 0 120px,#91a1e3 0 121px,#dcc4c2 0 122px,#dfc7c5 0 123px,#d7d2d9 0 124px,#d8d8dd 0 125px,#a2bef8 0 126px,#cad1e4 0 127px,#c6cde7 0 128px,#d8d7dd 0 129px,#7997ef 0 130px,#e1d5d1 0 131px,#a2b4ec 0 132px,#d1d8e6 0 133px,#eaac9b 0 134px,#e5d4cc 0 135px,#bfcae7 0 136px,#d8d9df 0 137px,#d1cddb 0 138px,#9fbbf8 0 139px,#f0b8a3 0 140px,#e1d2cf 0 141px,#b0c9f9 0 142px,#edc1b2 0 143px,#cdcad7 0 144px,#dfc1bf 0 145px,#a3c1fb 0 146px,#ecb9a7 0 147px,#bacbf1 0 148px,#b7caf2 0 149px,#adbded 0 150px,#ebb9a9 0 151px,#cad2e5 0 152px,#cad3e7 0 153px,#c6d2ec 0 154px,#f0a58c 0 155px,#cbcadd 0 156px,#c3c2dd 0 157px,#dc7b70 0 158px,#f1b59f 0 159px,#eaccbe 0 160px,#f4b095 0 161px,#e2d3ce 0 162px,#e6b6ab 0 163px,#8296e5 0 164px,#e5bdb2 0 165px,#cad2e7 0 166px,#b7bde3 0 167px,#bfd2f3 0 168px,#9ab8fa 0 169px,#c45c6c 0 170px,#e5cbc5 0 171px,#c7cce4 0 172px,#e27e6c 0 173px,#d24e4c 0 174px,#ed967e 0 175px,#b0b4e0 0 176px,#c9d2e9 0 177px,#e28674 0 178px,#d75b56 0 179px,#cdb7c8 0 180px,#edb7a4 0 181px,#f0af99 0 182px,#d14f50 0 183px,#aec1f0 0 184px,#ccd0e3 0 185px,#e7c4b8 0 186px,#d3bbc3 0 187px,#ebccbe 0 188px,#ebc5b7 0 189px,#e3cac4 0 190px,#f0a88f 0 191px,#f1b39c 0 192px,#e7ccc1 0 193px,#d5655f 0 194px,#f0a58c 0 195px,#e5ccc2 0 196px,#e77b64 0 197px,#f3ad93 0 198px,#e48f7e 0 199px,#d67872 0 200px,#e9a594 0 201px,#f29b7e 0 202px,#eeac99 0 203px,#d6c9cf 0 204px,#eebaa8 0 205px,#ec9b89 0 206px,#f09e84 0 207px,#f1a58b 0 208px,#f1a489 0 209px,#c4cae6 0 210px,#979dd9 0 211px,#d6d2db 0 212px,#dec9c9 0 213px,#dbd2d4 0 214px,#efc5b3 0 215px,#a7bdf2 0 216px,#ed9881 0 217px,#e7cac1 0 218px,#c4c3dd 0 219px,#e8d0c6 0 220px,#d5cdd5 0 221px,#f1ad95 0 222px,#efb6a2 0 223px,#b94462 0 224px,#eea18a 0 225px,#e5beb6 0 226px,#cebecd 0 227px,#e2d5d1 0 228px,#dfccc8 0 229px,#dcd6d7 0 230px,#f2b69f 0 231px,#ee9176 0 232px,#bcc1e3 0 233px,#f4b49b 0 234px,#c2c8e5 0 235px,#e7c4b8 0 236px,#e0aaa4 0 237px,#f0a58e 0 238px,#f0c3af 0 239px,#e5a092 0 240px,#c5cce7 0 241px,#d6d6de 0 242px,#ebb4a2 0 243px,#9babe7 0 244px,#eb9882 0 245px,#dfd6d5 0 246px,#dad6da 0 247px,#e1d8d5 0 248px,#e5b9b0 0 249px,#f0b5a0 0 250px,#d8c9ce 0 251px,#ecc9ba 0 252px,#e4c3bb 0 253px,#e7ccc2 0 254px,#eebca9 0 255px,#f2ad93 0 256px,#f19f84 0 257px,#eb8c75 0 258px,#edcaba 0 259px,#b2c5f1 0 260px,#edcbbc 0 261px,#ea917a 0 262px,#e4d2cb 0 263px,#dad7d9 0 264px,#daa7a3 0 265px)"></div>
<div class="hr" style="top:350.61px;height:5.48px;background:linear-gradient(90deg,#7495f2 1px,#a2baf2 0 2px,#859be7 0 3px,#adc7fa 0 4px,#cf8a8c 0 5px,#c3d0ea 0 6px,#a7c0f5 0 7px,#b1c9f7 0 8px,#c3d2ee 0 9px,#bacff5 0 10px,#93a9ee 0 11px,#a2b4ed 0 12px,#7089e4 0 13px,#95a6e8 0 14px,#7292ee 0 15px,#96aff3 0 16px,#dfb3af 0 17px,#b3c7f2 0 18px,#ddbdbc 0 19px,#e5cfc8 0 20px,#d3cfd9 0 21px,#decccc 0 22px,#b8c8ec 0 23px,#c6cee5 0 24px,#cfd6e6 0 25px,#8ba4ed 0 26px,#9eb8f4 0 27px,#d8cdd1 0 28px,#c8d2e7 0 29px,#cad0e2 0 30px,#d8d6dc 0 31px,#b3cbf7 0 32px,#8eacf7 0 33px,#e2c7c0 0 34px,#7c93e5 0 35px,#a3baf4 0 36px,#aebfe9 0 37px,#e7b6a8 0 38px,#d1b8be 0 39px,#cfd1e0 0 40px,#d1ced8 0 41px,#b7cef8 0 42px,#dfccc9 0 43px,#adc7f8 0 44px,#a2bdf7 0 45px,#bacbee 0 46px,#c8cbe2 0 47px,#eec9b9 0 48px,#d5d9e1 0 49px,#ddbfbe 0 50px,#d4c2c8 0 51px,#a5bff7 0 52px,#9eb1eb 0 53px,#dcd9db 0 54px,#9bb9fa 0 55px,#ced6e6 0 56px,#95b4f9 0 57px,#85a7fa 0 58px,#dec5c4 0 59px,#d6d8df 0 60px,#5871da 0 61px,#ddadaa 0 62px,#718feb 0 63px,#96b3f7 0 64px,#d07777 0 65px,#ce9da1 0 66px,#e69987 0 67px,#d6d9e1 0 68px,#e4d2cc 0 69px,#dea49e 0 70px,#a4bbf4 0 71px,#d0c8d3 0 72px,#8f9bde 0 73px,#cdcedd 0 74px,#dacccf 0 75px,#dbc9cb 0 76px,#d9c0c3 0 77px,#c9d5eb 0 78px,#b1c2ef 0 79px,#d4d2da 0 80px,#c2cbe6 0 81px,#e07f6f 0 82px,#dac7ca 0 83px,#d7dae1 0 84px,#b0bfec 0 85px,#e7cac2 0 86px,#a3b5ed 0 87px,#7e97e8 0 88px,#c6d1e9 0 89px,#d5d3db 0 90px,#d4d2db 0 91px,#e7c5bc 0 92px,#d5ced6 0 93px,#d8d8de 0 94px,#a6c1f8 0 95px,#aac4f9 0 96px,#e4cfc9 0 97px,#c0ceee 0 98px,#c2cae5 0 99px,#f4bfa8 0 100px,#e0cfcb 0 101px,#c7d2ea 0 102px,#dbced1 0 103px,#e5c4bc 0 104px,#d4ced6 0 105px,#b9c3e8 0 106px,#ced3e4 0 107px,#cbd1e5 0 108px,#eacfc3 0 109px,#d8d3d9 0 110px,#ced6e7 0 111px,#ebc3b5 0 112px,#ddc5c3 0 113px,#a5b7ee 0 114px,#f2a88e 0 115px,#b8c3e9 0 116px,#edc0b0 0 117px,#cccadc 0 118px,#d9d5d9 0 119px,#a8bdf2 0 120px,#837fc6 0 121px,#ddc3c0 0 122px,#a4bff7 0 123px,#cecfdf 0 124px,#becdee 0 125px,#ced7e7 0 126px,#ccd6e9 0 127px,#c7b5cc 0 128px,#afc1ef 0 129px,#d3d9e4 0 130px,#97aaea 0 131px,#d2d8e4 0 132px,#b2ccf9 0 133px,#aac2f5 0 134px,#c1c8e6 0 135px,#bccef2 0 136px,#dbcccf 0 137px,#c8cae0 0 138px,#efc9b8 0 139px,#e8aa9a 0 140px,#b8cff7 0 141px,#aec5f5 0 142px,#d5cdd4 0 143px,#b4c5ee 0 144px,#d8827c 0 145px,#7c92e3 0 146px,#e6a99b 0 147px,#e3c6c1 0 148px,#ddd6d6 0 149px,#dcd1d2 0 150px,#b2caf8 0 151px,#d5cfd5 0 152px,#b5c9f2 0 153px,#f1bfaa 0 154px,#eb947e 0 155px,#c3d0eb 0 156px,#cecede 0 157px,#e5aea2 0 158px,#e7c5b9 0 159px,#d8c2c4 0 160px,#e9cabf 0 161px,#ddd7d7 0 162px,#d0d3e2 0 163px,#c9d2e9 0 164px,#cbbecf 0 165px,#bdc3e3 0 166px,#ea866f 0 167px,#dbd6d9 0 168px,#d0d1dd 0 169px,#d16b6a 0 170px,#ded1cf 0 171px,#f1c8b4 0 172px,#aebeed 0 173px,#d0d2e0 0 174px,#f3c0ab 0 175px,#8495e1 0 176px,#cad4e9 0 177px,#ddd7d8 0 178px,#d3d3de 0 179px,#d2cdd9 0 180px,#e8aa99 0 181px,#de7265 0 182px,#e17e6d 0 183px,#e5d0c9 0 184px,#b0c7f5 0 185px,#cdcbdc 0 186px,#c3c8e4 0 187px,#d2d1dc 0 188px,#ceccdd 0 189px,#a7c3fa 0 190px,#e6cfc6 0 191px,#bbccf0 0 192px,#e8937f 0 193px,#e19d92 0 194px,#c2d2ef 0 195px,#efa68e 0 196px,#eca590 0 197px,#bfcff0 0 198px,#b7cdf6 0 199px,#d5d3da 0 200px,#e19c91 0 201px,#e6b7ae 0 202px,#bdc2e3 0 203px,#a0afe8 0 204px,#eea791 0 205px,#efc6b5 0 206px,#e7907c 0 207px,#dcd4d5 0 208px,#f3b39a 0 209px,#e8cec3 0 210px,#d6d7de 0 211px,#e8beb2 0 212px,#d5d7e0 0 213px,#f3a083 0 214px,#d9d3d7 0 215px,#9aa4e1 0 216px,#f2af97 0 217px,#cfd4e3 0 218px,#dad3d6 0 219px,#f1af96 0 220px,#efb8a4 0 221px,#f1987c 0 222px,#c7d5ed 0 223px,#e7b2a5 0 224px,#f3bfa9 0 225px,#e9b1a1 0 226px,#e9cabd 0 227px,#e8cbc0 0 228px,#efa58d 0 229px,#ebab99 0 230px,#f4a88c 0 231px,#e26d5b 0 232px,#c5b8d0 0 233px,#d35352 0 234px,#f2a88f 0 235px,#e89f91 0 236px,#ebb3a4 0 237px,#eb8a74 0 238px,#f4bda5 0 239px,#da675f 0 240px,#e2d2cb 0 241px,#f2bba5 0 242px,#dbcecf 0 243px,#ded7d6 0 244px,#e9c9bf 0 245px,#ea8971 0 246px,#e9836b 0 247px,#e67c65 0 248px,#d1d3e1 0 249px,#e1c9c2 0 250px,#e17766 0 251px,#de6658 0 252px,#f4ab8f 0 253px,#e7ccc3 0 254px,#ca545e 0 255px,#e2bdb8 0 256px,#c2354a 0 257px,#f2ab91 0 258px,#f4b49b 0 259px,#b1c0ec 0 260px,#ce4044 0 261px,#d25c5a 0 262px,#bcbedf 0 263px,#f2c1ab 0 264px,#eb9f8a 0 265px)"></div>
<div class="hr" style="top:355.59px;height:5.48px;background:linear-gradient(90deg,#88aafa 1px,#bfcdeb 0 2px,#9ebcfb 0 3px,#9bbafc 0 4px,#c6cee3 0 5px,#a9c2f7 0 6px,#94b2f7 0 7px,#8faff8 0 8px,#bac6ea 0 9px,#5062c9 0 10px,#6680e0 0 11px,#c8d3eb 0 12px,#5d6dcc 0 13px,#c4d3ef 0 14px,#8cabf7 0 15px,#b2c3ec 0 16px,#e8c9bf 0 17px,#a4c0f9 0 18px,#abc0f2 0 19px,#e3c4bf 0 20px,#9eb8f6 0 21px,#d1c8d2 0 22px,#c7ccdd 0 23px,#92acf2 0 24px,#e0d3d0 0 25px,#9bb5f4 0 26px,#cccfdf 0 27px,#8ea9f2 0 28px,#dbcbcd 0 29px,#bcc7e6 0 30px,#e4cfc9 0 31px,#9cb8f7 0 32px,#b2c2e9 0 33px,#dfcfce 0 34px,#ced5e5 0 35px,#7c9cf2 0 36px,#607adf 0 37px,#d7cfd5 0 38px,#e5b7ae 0 39px,#d0d3e2 0 40px,#e1b0a9 0 41px,#a8bef2 0 42px,#c7d3ec 0 43px,#a1bbf5 0 44px,#b8d0f9 0 45px,#8daffc 0 46px,#7e8fde 0 47px,#a8bef3 0 48px,#a0b9f5 0 49px,#e1cac8 0 50px,#9ebaf8 0 51px,#97b5f8 0 52px,#5b72d6 0 53px,#7b8fe0 0 54px,#a3b7f0 0 55px,#ccd4e6 0 56px,#a1befa 0 57px,#ddb7b2 0 58px,#d0c5d0 0 59px,#9cbbfc 0 60px,#7596f3 0 61px,#d3bbc3 0 62px,#a6c3fb 0 63px,#7e95e7 0 64px,#e18a7b 0 65px,#c8d2e7 0 66px,#b4c9f4 0 67px,#d6b9bb 0 68px,#d3d9e3 0 69px,#d9d0d5 0 70px,#93a4e6 0 71px,#cfd3e0 0 72px,#98b7fb 0 73px,#d9dadf 0 74px,#e0d4d2 0 75px,#f4a88c 0 76px,#e9a18e 0 77px,#89a6f3 0 78px,#c2d1ef 0 79px,#b4caf6 0 80px,#e9c9be 0 81px,#f0b7a2 0 82px,#d1cfdc 0 83px,#dcd8da 0 84px,#d3c8d2 0 85px,#abc3f6 0 86px,#c4d0e9 0 87px,#b5c7f0 0 88px,#d5c6ca 0 89px,#dcc6c4 0 90px,#b4c7f1 0 91px,#e8b8ac 0 92px,#d6d1d8 0 93px,#e4d0c8 0 94px,#ebcdc0 0 95px,#eecbbb 0 96px,#aec3f4 0 97px,#d1d4e1 0 98px,#dbcbcd 0 99px,#cfd7e7 0 100px,#f1c2ae 0 101px,#c5d2ec 0 102px,#cdd4e6 0 103px,#e7ad9f 0 104px,#c1c2dc 0 105px,#9eb4f1 0 106px,#c0ccec 0 107px,#e3d4ce 0 108px,#c0d1f1 0 109px,#b5c9f3 0 110px,#a4bdf5 0 111px,#b3c8f3 0 112px,#c6cbe4 0 113px,#d0d5e3 0 114px,#d7d3da 0 115px,#e0d7d4 0 116px,#eac7bb 0 117px,#8fa5ec 0 118px,#c6d4ee 0 119px,#9ab6f8 0 120px,#888bd1 0 121px,#d27b78 0 122px,#bacef3 0 123px,#c5cde6 0 124px,#bdcaec 0 125px,#bdd0f2 0 126px,#dad6da 0 127px,#9eb5f1 0 128px,#97afef 0 129px,#c7cee6 0 130px,#c4ceea 0 131px,#de8275 0 132px,#decdcc 0 133px,#7495f1 0 134px,#b2c5f1 0 135px,#b9c3e2 0 136px,#a9c5fb 0 137px,#b3caf5 0 138px,#abc1f2 0 139px,#c2586a 0 140px,#88a0ec 0 141px,#b1cafa 0 142px,#e7c9c1 0 143px,#cdd1e0 0 144px,#dfb9b6 0 145px,#c2d1ef 0 146px,#ddd0d0 0 147px,#d9928d 0 148px,#efc6b4 0 149px,#d7d7de 0 150px,#e8c3b9 0 151px,#b6c7ed 0 152px,#abc4f7 0 153px,#7d88d8 0 154px,#f0bfab 0 155px,#cbd3e7 0 156px,#b8caf2 0 157px,#e49a8b 0 158px,#bbcaed 0 159px,#c3c8e1 0 160px,#c4d2ee 0 161px,#dfb5b0 0 162px,#b2c8f3 0 163px,#bbcbf1 0 164px,#d7d5dc 0 165px,#b9cdf4 0 166px,#e5aca4 0 167px,#b0bbe6 0 168px,#aac3f7 0 169px,#c76e77 0 170px,#c3c5de 0 171px,#f1c2ad 0 172px,#d0cfde 0 173px,#eaaa9c 0 174px,#efbda9 0 175px,#aeb7e5 0 176px,#8ca0e8 0 177px,#dd7164 0 178px,#eeaa93 0 179px,#e3cdc5 0 180px,#d5d5de 0 181px,#f2ab91 0 182px,#eab8a9 0 183px,#bdd0f4 0 184px,#a6c2fa 0 185px,#e1d7d3 0 186px,#f1c7b4 0 187px,#a5bdf5 0 188px,#decac8 0 189px,#ded5d4 0 190px,#f2bfab 0 191px,#eeb19d 0 192px,#b2c3ee 0 193px,#d87f77 0 194px,#c7d0e8 0 195px,#ebc8ba 0 196px,#eba38e 0 197px,#aebceb 0 198px,#adc4f5 0 199px,#f0aa92 0 200px,#e2c1bb 0 201px,#f0b7a2 0 202px,#e8b2a4 0 203px,#b2bae4 0 204px,#dbcdcf 0 205px,#e47661 0 206px,#e4a395 0 207px,#b4cbf6 0 208px,#e0d4d1 0 209px,#e4d3cd 0 210px,#c7d4eb 0 211px,#e4c7c1 0 212px,#b4cbf6 0 213px,#848dd7 0 214px,#e1bcb5 0 215px,#909adb 0 216px,#f3ad92 0 217px,#a4b6ee 0 218px,#ef9276 0 219px,#cbd4e9 0 220px,#afb8e5 0 221px,#eab3a5 0 222px,#e0d9d5 0 223px,#e8baae 0 224px,#f3c3ad 0 225px,#eac9bd 0 226px,#adafdd 0 227px,#cfd3e3 0 228px,#dcd9da 0 229px,#b8cbf2 0 230px,#dfd3d2 0 231px,#afa9d5 0 232px,#b9c0e5 0 233px,#f4bea6 0 234px,#e9cabf 0 235px,#dccaca 0 236px,#b6bce3 0 237px,#c1c2df 0 238px,#cad6eb 0 239px,#deb6b3 0 240px,#a5bbf2 0 241px,#ccd3e4 0 242px,#e6c3bb 0 243px,#f5bca4 0 244px,#efb099 0 245px,#ded6d6 0 246px,#bcd1f5 0 247px,#efb29c 0 248px,#bbcbf0 0 249px,#dbdadc 0 250px,#cbd0e3 0 251px,#aab5e6 0 252px,#e1d6d2 0 253px,#c1d1f1 0 254px,#e2cfcb 0 255px,#eac0b2 0 256px,#eeb39f 0 257px,#cfcede 0 258px,#87a2ef 0 259px,#8492dc 0 260px,#e1cac4 0 261px,#c4cee9 0 262px,#eabdaf 0 263px,#c5cee9 0 264px,#d1d4df 0 265px)"></div>
<div class="hr" style="top:360.57px;height:5.48px;background:linear-gradient(90deg,#e4cdc6 1px,#9eb5f3 0 2px,#748ee6 0 3px,#a8c3f9 0 4px,#b5c6ed 0 5px,#b2bfe4 0 6px,#5f78dc 0 7px,#c1ceea 0 8px,#a6b0e5 0 9px,#94b4fc 0 10px,#87a0ee 0 11px,#c5d3ed 0 12px,#a3bef8 0 13px,#bbcdf1 0 14px,#a0bbf6 0 15px,#849eed 0 16px,#b0c4f1 0 17px,#c0d0ee 0 18px,#87a4f1 0 19px,#c7cee4 0 20px,#d0d4e1 0 21px,#b4cbf7 0 22px,#b5ccf8 0 23px,#c9c9db 0 24px,#e0c9c7 0 25px,#8eaef9 0 26px,#daafaf 0 27px,#9ebcfb 0 28px,#8db0fd 0 29px,#acbeeb 0 30px,#c9d5ec 0 31px,#acc1ef 0 32px,#9cbafb 0 33px,#eab8a9 0 34px,#6885e7 0 35px,#95b2f7 0 36px,#91b2fd 0 37px,#d5d8e1 0 38px,#d7c0c4 0 39px,#e3d6d0 0 40px,#c2cfea 0 41px,#a0b7f3 0 42px,#c0cbeb 0 43px,#bccff2 0 44px,#92acf1 0 45px,#9ab9fb 0 46px,#8798e2 0 47px,#f2a88e 0 48px,#9fbcfa 0 49px,#a2bbf3 0 50px,#baccf1 0 51px,#97b5f9 0 52px,#9db5f2 0 53px,#798ddf 0 54px,#b2c8f5 0 55px,#c9d5ea 0 56px,#aec5f6 0 57px,#e0cfce 0 58px,#d1d7e3 0 59px,#c2cfeb 0 60px,#97b4f6 0 61px,#bfcae7 0 62px,#b2caf8 0 63px,#9cbbfc 0 64px,#c8d4eb 0 65px,#d9d3d7 0 66px,#dfd7d5 0 67px,#d4cdd5 0 68px,#bbcdf2 0 69px,#e5c4bd 0 70px,#aac4f7 0 71px,#e8afa0 0 72px,#7a91e2 0 73px,#b8cdf5 0 74px,#d5d7e0 0 75px,#f3b299 0 76px,#e8a696 0 77px,#ccd6e9 0 78px,#899ae4 0 79px,#c9d5ea 0 80px,#c7d4ec 0 81px,#d8948e 0 82px,#e1c8c3 0 83px,#e0cecc 0 84px,#90a3e8 0 85px,#e0d3d1 0 86px,#aec8f9 0 87px,#586cd1 0 88px,#e1cfcc 0 89px,#cd656b 0 90px,#c8d0e7 0 91px,#d9c9cb 0 92px,#bfcaeb 0 93px,#c9d4ea 0 94px,#ced2e3 0 95px,#e4b3aa 0 96px,#c0d1f1 0 97px,#eeb5a0 0 98px,#e98e78 0 99px,#dacfd1 0 100px,#f0c4b2 0 101px,#d88d87 0 102px,#d6cfd4 0 103px,#dabebf 0 104px,#aab6e6 0 105px,#c8c9de 0 106px,#cfc4d2 0 107px,#e2cec9 0 108px,#f1bca7 0 109px,#e2cbc8 0 110px,#b2c9f7 0 111px,#f1c6b3 0 112px,#bcccef 0 113px,#adc3f4 0 114px,#c6d3ec 0 115px,#e8cfc4 0 116px,#decac7 0 117px,#bed2f4 0 118px,#9bb4f4 0 119px,#cad1e6 0 120px,#bec7e7 0 121px,#dcd7d8 0 122px,#e0d6d4 0 123px,#969edc 0 124px,#d5d1d8 0 125px,#c4c8e4 0 126px,#d6d8e0 0 127px,#c0cff0 0 128px,#c3ceea 0 129px,#c4d1eb 0 130px,#e0d2ce 0 131px,#becced 0 132px,#cdd7e8 0 133px,#b0c3f0 0 134px,#ecbeae 0 135px,#e9cec2 0 136px,#d3d9e4 0 137px,#ded5d5 0 138px,#bbcff4 0 139px,#d68985 0 140px,#d5d4de 0 141px,#bacef2 0 142px,#f0bca8 0 143px,#c7d2ea 0 144px,#e3bbb3 0 145px,#9cb4f2 0 146px,#e2d7d2 0 147px,#bc4b64 0 148px,#e1cecb 0 149px,#ddd7d7 0 150px,#cc565f 0 151px,#dfc4c2 0 152px,#a7bdf3 0 153px,#e0d0ce 0 154px,#d9d1d4 0 155px,#e7a899 0 156px,#b3c0eb 0 157px,#e6d1c8 0 158px,#b5bae1 0 159px,#e5d1c9 0 160px,#c9d3e9 0 161px,#bbcdf1 0 162px,#d7cacf 0 163px,#96adef 0 164px,#e0d7d4 0 165px,#ced3e4 0 166px,#a3a9df 0 167px,#cad4e8 0 168px,#e1cfcc 0 169px,#e59281 0 170px,#f2c4af 0 171px,#d6dae2 0 172px,#d3cbd4 0 173px,#eacbbe 0 174px,#e1d6d2 0 175px,#9db8f7 0 176px,#93b4fc 0 177px,#eac2b5 0 178px,#b8ccf3 0 179px,#e3d0ca 0 180px,#e8cdc3 0 181px,#eebdab 0 182px,#e0988e 0 183px,#bbd0f4 0 184px,#88a7f6 0 185px,#f1c6b3 0 186px,#a6b3e9 0 187px,#e7cfc6 0 188px,#a5c0f9 0 189px,#b6cbf4 0 190px,#e5bdb4 0 191px,#d1cdd8 0 192px,#e5cfc6 0 193px,#d9d5d9 0 194px,#dfbfbe 0 195px,#dfd4d2 0 196px,#ecbbab 0 197px,#c3d2ee 0 198px,#adc5f6 0 199px,#f0c5b2 0 200px,#ced0e0 0 201px,#d8c2c5 0 202px,#a6b0e5 0 203px,#b5caf4 0 204px,#b0bfed 0 205px,#e9cec2 0 206px,#d3acb1 0 207px,#bdcff1 0 208px,#ebccbf 0 209px,#c8d5ec 0 210px,#e0d2ce 0 211px,#e1d2cf 0 212px,#c8d1e8 0 213px,#a2b9f2 0 214px,#a3ade6 0 215px,#b5bbe3 0 216px,#f0a58c 0 217px,#89a2ec 0 218px,#ebcdbf 0 219px,#dec3c1 0 220px,#a9a6d8 0 221px,#e4cfc7 0 222px,#d2d3df 0 223px,#e6a899 0 224px,#ddd2d3 0 225px,#d8d3d8 0 226px,#f2c6b2 0 227px,#aec3f3 0 228px,#a4afe6 0 229px,#d6d4db 0 230px,#efbfac 0 231px,#efb8a5 0 232px,#8b8ccf 0 233px,#e98c76 0 234px,#f4b69c 0 235px,#f19f85 0 236px,#8080c8 0 237px,#d6b8bd 0 238px,#dcd8da 0 239px,#bb425e 0 240px,#a9bdf0 0 241px,#c0c4e3 0 242px,#f29b7e 0 243px,#e6d2ca 0 244px,#f4ac90 0 245px,#f4c0a9 0 246px,#ecc8b8 0 247px,#eba591 0 248px,#d3cfd9 0 249px,#bfadcd 0 250px,#d0cddb 0 251px,#e9c7ba 0 252px,#e4bab2 0 253px,#b8caf1 0 254px,#f2b69e 0 255px,#f0997e 0 256px,#c53645 0 257px,#e6b2a5 0 258px,#df7f71 0 259px,#a3b6ef 0 260px,#e87c64 0 261px,#eaa593 0 262px,#ddcbca 0 263px,#eeb4a1 0 264px,#eebaa8 0 265px)"></div>
<div class="hr" style="top:365.55px;height:5.48px;background:linear-gradient(90deg,#adc8fa 1px,#c0cded 0 2px,#bdcbee 0 3px,#dcd5d6 0 4px,#becae8 0 5px,#7695ef 0 6px,#b5c1ea 0 7px,#b7c5ec 0 8px,#bfc7e7 0 9px,#84a3f3 0 10px,#b1c6f2 0 11px,#92a8ec 0 12px,#9cb6f5 0 13px,#decac7 0 14px,#c9d0e4 0 15px,#98b7fb 0 16px,#d0d7e4 0 17px,#c4cfe8 0 18px,#a8c3f8 0 19px,#dcd7d9 0 20px,#c9d4e9 0 21px,#e2aaa1 0 22px,#ccd4e5 0 23px,#beceef 0 24px,#c9d2e6 0 25px,#d2d4e0 0 26px,#c8d2e8 0 27px,#c5cae3 0 28px,#e0d0ce 0 29px,#95b1f5 0 30px,#e4cbc5 0 31px,#dc958c 0 32px,#8baaf7 0 33px,#efa58d 0 34px,#a4bef7 0 35px,#bac8ed 0 36px,#d4d7e0 0 37px,#adc6f8 0 38px,#cbcddd 0 39px,#f0b59f 0 40px,#decdcc 0 41px,#9ab5f7 0 42px,#dfcecb 0 43px,#dfb6b2 0 44px,#b2caf6 0 45px,#bcd0f4 0 46px,#bccdf0 0 47px,#f1bfab 0 48px,#aec8fa 0 49px,#d5d9e2 0 50px,#b6ccf6 0 51px,#c1d3f2 0 52px,#abc2f4 0 53px,#8da8f1 0 54px,#c5d0eb 0 55px,#ddb8b6 0 56px,#bacef4 0 57px,#95aff3 0 58px,#ccd3e5 0 59px,#94b0f5 0 60px,#bbcbed 0 61px,#d6d1d8 0 62px,#d5d2db 0 63px,#a4b3ea 0 64px,#e7a393 0 65px,#dfa9a2 0 66px,#cbd3e5 0 67px,#a0bbf7 0 68px,#e1cac7 0 69px,#d9c6c9 0 70px,#7f8fdc 0 71px,#e9bdb0 0 72px,#8ba5ef 0 73px,#b5cdf9 0 74px,#d4d6e1 0 75px,#ebbfb1 0 76px,#e1d2ce 0 77px,#aebcea 0 78px,#eac6b8 0 79px,#d4c2ca 0 80px,#e3cfc9 0 81px,#e49181 0 82px,#dbd3d4 0 83px,#aec3f3 0 84px,#d2d1de 0 85px,#a4bef7 0 86px,#d3d8e3 0 87px,#c7d0e9 0 88px,#8ba4ed 0 89px,#d9b2b3 0 90px,#b6cdf8 0 91px,#e4d2cc 0 92px,#e7c8c0 0 93px,#d9d5da 0 94px,#d8d7dc 0 95px,#dfbebb 0 96px,#e9b9ab 0 97px,#bcccf0 0 98px,#ebcbbd 0 99px,#dcd1d2 0 100px,#d9c0c4 0 101px,#bdc0e3 0 102px,#b6c7ef 0 103px,#e6a190 0 104px,#d5d1d8 0 105px,#c5cae3 0 106px,#dfcdca 0 107px,#e5a497 0 108px,#e6c2b7 0 109px,#b5c7ef 0 110px,#a6bef3 0 111px,#ced7e8 0 112px,#d5dae2 0 113px,#c8d4eb 0 114px,#cacbe0 0 115px,#93a6e8 0 116px,#cfd6e5 0 117px,#edc8b8 0 118px,#ced3e2 0 119px,#b6c6ef 0 120px,#d6cbd1 0 121px,#eca895 0 122px,#c3cbe8 0 123px,#d5d8e1 0 124px,#bbcdf2 0 125px,#e9b8aa 0 126px,#e4d1ca 0 127px,#bfd2f3 0 128px,#e0d8d5 0 129px,#ebc5b7 0 130px,#e0d4d1 0 131px,#efc4b2 0 132px,#dcd7d8 0 133px,#b3c8f4 0 134px,#d7c8ce 0 135px,#d3d4de 0 136px,#a2bef8 0 137px,#d7d7de 0 138px,#e8ccc2 0 139px,#d9786f 0 140px,#ebc9bc 0 141px,#a5c1f9 0 142px,#dcbebf 0 143px,#d2ccd6 0 144px,#d07877 0 145px,#ced4e5 0 146px,#d8ccd0 0 147px,#dfb8b3 0 148px,#cdd3e5 0 149px,#849eed 0 150px,#c8cee6 0 151px,#a9b9ed 0 152px,#89a5f2 0 153px,#cfd5e5 0 154px,#c4d1ec 0 155px,#c2d0ee 0 156px,#b3bee8 0 157px,#e18f82 0 158px,#cad4e9 0 159px,#c55465 0 160px,#e7c5bc 0 161px,#b5c7ef 0 162px,#dbbfbd 0 163px,#f1c1ac 0 164px,#e6c0b5 0 165px,#adc0f1 0 166px,#c2bdd8 0 167px,#afc1f0 0 168px,#d0cdd9 0 169px,#af385e 0 170px,#dcd7d9 0 171px,#f1b9a3 0 172px,#ebbcae 0 173px,#e2cfc9 0 174px,#edc1b0 0 175px,#919ddf 0 176px,#dbcfd1 0 177px,#ba3957 0 178px,#e9cdc2 0 179px,#f4c1aa 0 180px,#d8ced4 0 181px,#e5ccc4 0 182px,#efa68e 0 183px,#e3cfca 0 184px,#bacdf1 0 185px,#c4d1ec 0 186px,#dfcdcb 0 187px,#e7c7be 0 188px,#e1d7d4 0 189px,#d1d3e0 0 190px,#e3c7c1 0 191px,#c8c6d8 0 192px,#99b7fa 0 193px,#f1b9a3 0 194px,#d6d5dd 0 195px,#b8c9f0 0 196px,#e7b7ab 0 197px,#d8d2d6 0 198px,#d8d4da 0 199px,#d9ced2 0 200px,#dccaca 0 201px,#e6c0b5 0 202px,#d1c6d1 0 203px,#cfcfdf 0 204px,#e8c7bc 0 205px,#eeae9b 0 206px,#e19c92 0 207px,#e3d3cd 0 208px,#db847a 0 209px,#dcc1c1 0 210px,#c5d2ec 0 211px,#edcbbc 0 212px,#eac7bb 0 213px,#f3b299 0 214px,#b6b5dd 0 215px,#b8b6db 0 216px,#ee9c83 0 217px,#8ea3e9 0 218px,#e5d4cc 0 219px,#eccbbd 0 220px,#dbcfd0 0 221px,#ed9c86 0 222px,#edc1b0 0 223px,#dc958e 0 224px,#ddc4c3 0 225px,#efbfad 0 226px,#db766b 0 227px,#eec2b0 0 228px,#e9cec3 0 229px,#edc1b1 0 230px,#ddd2d3 0 231px,#e6d1c8 0 232px,#8a8fd3 0 233px,#e16c59 0 234px,#e7cdc2 0 235px,#d7bbbf 0 236px,#d1cdda 0 237px,#b3bfea 0 238px,#b4c6f0 0 239px,#ebc9bc 0 240px,#c9d2e9 0 241px,#cdd6e8 0 242px,#c7d0e8 0 243px,#d8dae0 0 244px,#e5bbb2 0 245px,#de6b5b 0 246px,#e4c8c0 0 247px,#eec4b3 0 248px,#e6bbb1 0 249px,#a5baf0 0 250px,#ef9d84 0 251px,#d0d0df 0 252px,#e7d0c6 0 253px,#e8cbc0 0 254px,#e79c89 0 255px,#e8c0b3 0 256px,#e77860 0 257px,#e0d7d4 0 258px,#e5cfc8 0 259px,#bac9ee 0 260px,#eb8d75 0 261px,#ecc4b4 0 262px,#efb8a5 0 263px,#d9d0d3 0 264px,#a4c0f9 0 265px)"></div>
<div class="hr" style="top:370.53px;height:5.48px;background:linear-gradient(90deg,#c0cfed 1px,#d3cdd7 0 2px,#8ba6f0 0 3px,#819eee 0 4px,#cabfcf 0 5px,#ccb9c6 0 6px,#93aff4 0 7px,#97b7fc 0 8px,#a6baf1 0 9px,#80a0f4 0 10px,#adc5f6 0 11px,#ded4d4 0 12px,#7792e8 0 13px,#a3b9f3 0 14px,#acc4f6 0 15px,#d1ced9 0 16px,#d8d1d6 0 17px,#dab7b7 0 18px,#b0c5f2 0 19px,#beceee 0 20px,#cad3e6 0 21px,#c0d1f1 0 22px,#d5b5b7 0 23px,#c4d1eb 0 24px,#c7d5ed 0 25px,#7493ef 0 26px,#a6c2fa 0 27px,#b2cbf9 0 28px,#d3d7e3 0 29px,#eaccc0 0 30px,#dcdadb 0 31px,#89aaf9 0 32px,#8fadf6 0 33px,#c9d5eb 0 34px,#99b1f0 0 35px,#8f9bde 0 36px,#adc8fa 0 37px,#c9d1e7 0 38px,#dab9ba 0 39px,#c3cbe8 0 40px,#e7ccc4 0 41px,#8b94d9 0 42px,#becff1 0 43px,#9fbaf8 0 44px,#a9bff3 0 45px,#a6c3fb 0 46px,#91aff7 0 47px,#a9c2f6 0 48px,#b7cdf6 0 49px,#b3c1e6 0 50px,#b5ccf7 0 51px,#a9bdf0 0 52px,#899ce7 0 53px,#a7bdf2 0 54px,#bdcff2 0 55px,#afc5f4 0 56px,#bbccf1 0 57px,#afc7f6 0 58px,#d7d0d7 0 59px,#a4c0f8 0 60px,#c3c8df 0 61px,#a1bcf5 0 62px,#c2c9e3 0 63px,#c0d1f0 0 64px,#d97a71 0 65px,#c2cce7 0 66px,#eac8bd 0 67px,#d6d9e1 0 68px,#dad5d9 0 69px,#e7ad9f 0 70px,#d9cdd0 0 71px,#e2b2aa 0 72px,#cbd3e7 0 73px,#cdc3d2 0 74px,#9badea 0 75px,#e4d4ce 0 76px,#d1d3e0 0 77px,#b8c6ed 0 78px,#5e65c0 0 79px,#c4d1ea 0 80px,#c6cde5 0 81px,#e9bbae 0 82px,#abc5f8 0 83px,#c1d2f1 0 84px,#a7baef 0 85px,#e6ccc5 0 86px,#d0d8e6 0 87px,#a3bdf7 0 88px,#abbff0 0 89px,#dc7f72 0 90px,#a5bcf3 0 91px,#e7d2c9 0 92px,#e9cec2 0 93px,#f3b299 0 94px,#efc7b6 0 95px,#eccabb 0 96px,#eec7b8 0 97px,#d6d4dc 0 98px,#dfcbc9 0 99px,#ea957e 0 100px,#cdcbdd 0 101px,#efb49f 0 102px,#e4d0c9 0 103px,#e3c2bc 0 104px,#c9cbe0 0 105px,#b8c1e7 0 106px,#a9a5d5 0 107px,#ccd1e4 0 108px,#c9d1e8 0 109px,#e5c3ba 0 110px,#bdc9eb 0 111px,#d1d6e4 0 112px,#e9ccc1 0 113px,#a0b8f4 0 114px,#d4c8d0 0 115px,#c6cde6 0 116px,#e5d3cb 0 117px,#edc3b3 0 118px,#e7d0c6 0 119px,#c4cbe6 0 120px,#e5cac1 0 121px,#ec9b84 0 122px,#edcaba 0 123px,#a2aae1 0 124px,#e4d3cc 0 125px,#d0d3e2 0 126px,#efcab9 0 127px,#d9ced1 0 128px,#ceccdd 0 129px,#c4d1ed 0 130px,#999cd7 0 131px,#f2b7a0 0 132px,#e2c7c2 0 133px,#d8bec2 0 134px,#eec7b6 0 135px,#dad1d4 0 136px,#e6ccc3 0 137px,#dfd6d5 0 138px,#f0ad95 0 139px,#cecfe0 0 140px,#d9ced3 0 141px,#b0c6f5 0 142px,#b9d0f7 0 143px,#bacff6 0 144px,#da9893 0 145px,#cfd0df 0 146px,#e8c3b9 0 147px,#ded5d3 0 148px,#ebc7b9 0 149px,#cad5ea 0 150px,#b6caf2 0 151px,#dec7c6 0 152px,#d5cfd7 0 153px,#ecccbe 0 154px,#c4c5de 0 155px,#e6c5bd 0 156px,#a8bef3 0 157px,#ecc3b3 0 158px,#e0bfbb 0 159px,#dfc9c5 0 160px,#e1d0cc 0 161px,#e4cfc7 0 162px,#aac0f3 0 163px,#c3d1ef 0 164px,#d7d8df 0 165px,#f3baa3 0 166px,#eec0ae 0 167px,#bac9ee 0 168px,#d6cfd7 0 169px,#eeb9a5 0 170px,#ebbdae 0 171px,#a3abe1 0 172px,#eeb6a3 0 173px,#d6cfd6 0 174px,#eebfad 0 175px,#bfcff1 0 176px,#adc2f3 0 177px,#f0b099 0 178px,#d3d4de 0 179px,#bdd1f5 0 180px,#eec5b5 0 181px,#f2c1ac 0 182px,#e3d6cf 0 183px,#dcdadb 0 184px,#a8c4fa 0 185px,#e8cec3 0 186px,#e9cdc2 0 187px,#d6cfd6 0 188px,#dad9dd 0 189px,#b9cbf1 0 190px,#bbccf2 0 191px,#eebfad 0 192px,#d7d4da 0 193px,#e0b8b3 0 194px,#bed0f1 0 195px,#cfd3e3 0 196px,#c8d2e9 0 197px,#b8c5eb 0 198px,#b2c8f4 0 199px,#e4bfb9 0 200px,#ddbdbb 0 201px,#e8bfb3 0 202px,#bfc2e1 0 203px,#cdd4e6 0 204px,#ecb6a5 0 205px,#e5cdc4 0 206px,#e4bdb5 0 207px,#bdcef0 0 208px,#eab9aa 0 209px,#c0cfef 0 210px,#d3d9e4 0 211px,#d9d6da 0 212px,#b9c8ee 0 213px,#d2d5e1 0 214px,#e6c5ba 0 215px,#b5c0e8 0 216px,#e58874 0 217px,#acc4f5 0 218px,#e6cbc2 0 219px,#f1c0ab 0 220px,#b2b2dc 0 221px,#d45853 0 222px,#ccd4e5 0 223px,#e1bdb8 0 224px,#f1ac93 0 225px,#d4d2dc 0 226px,#a8a1d1 0 227px,#d1d3e1 0 228px,#e6c9be 0 229px,#e2c6c2 0 230px,#ced7e8 0 231px,#efad95 0 232px,#b3b0d9 0 233px,#f0c6b3 0 234px,#dfb7b3 0 235px,#e7c9be 0 236px,#c8c2d8 0 237px,#d2c6d1 0 238px,#eacbbd 0 239px,#e7c5bb 0 240px,#91acf1 0 241px,#7f97e9 0 242px,#bfc6e6 0 243px,#e7c8bf 0 244px,#adb2e1 0 245px,#eea892 0 246px,#bfd2f3 0 247px,#c8d4ea 0 248px,#cbd5e8 0 249px,#9daae5 0 250px,#de8376 0 251px,#c3c9e6 0 252px,#b3c2ed 0 253px,#a2bbf5 0 254px,#cacfe4 0 255px,#f1b59e 0 256px,#db756b 0 257px,#e7cfc5 0 258px,#edbead 0 259px,#a3b9f2 0 260px,#f2b9a2 0 261px,#e5ccc3 0 262px,#eaa38f 0 263px,#b7cdf5 0 264px,#dec8c6 0 265px)"></div>
<div class="hr" style="top:375.51px;height:5.48px;background:linear-gradient(90deg,#dfb2ae 1px,#99aeef 0 2px,#f5bea6 0 3px,#d3d6e1 0 4px,#dc9c94 0 5px,#c6d1ea 0 6px,#b0c8f7 0 7px,#ebcabd 0 8px,#cbc8db 0 9px,#cad6ea 0 10px,#cfcbda 0 11px,#d9d1d5 0 12px,#d9d7db 0 13px,#d2d4e0 0 14px,#d3cfd9 0 15px,#ded5d5 0 16px,#e5cfc8 0 17px,#e8c1b7 0 18px,#e3c6c0 0 19px,#d77f78 0 20px,#ccd6ea 0 21px,#df9186 0 22px,#decdcc 0 23px,#eecbbb 0 24px,#e8b1a3 0 25px,#c6d3ec 0 26px,#e7c1b6 0 27px,#cdc8d7 0 28px,#e4a89c 0 29px,#bfc0d9 0 30px,#e0ceca 0 31px,#d3d0da 0 32px,#e7d0c7 0 33px,#f2b69f 0 34px,#ced2e1 0 35px,#b2bfea 0 36px,#b3c7f2 0 37px,#e8a18f 0 38px,#dd9086 0 39px,#ddd6d6 0 40px,#df887c 0 41px,#cad3e8 0 42px,#e6c8bf 0 43px,#eebeac 0 44px,#6e82d9 0 45px,#a6c3fb 0 46px,#e3d1cb 0 47px,#eacdc1 0 48px,#a7c1f8 0 49px,#bdcae9 0 50px,#e9c1b3 0 51px,#d8d0d5 0 52px,#b3bee8 0 53px,#acbdee 0 54px,#ddd5d5 0 55px,#d6d2da 0 56px,#e0c4c1 0 57px,#d2d6e2 0 58px,#cacddf 0 59px,#b2caf7 0 60px,#d3d3de 0 61px,#dbd4d7 0 62px,#d3d1dd 0 63px,#c7c8e0 0 64px,#e9b4a6 0 65px,#dec7c7 0 66px,#ddcecf 0 67px,#d2d6e2 0 68px,#bed2f4 0 69px,#cbd5e8 0 70px,#c8d5ec 0 71px,#d7d7de 0 72px,#d3d2dd 0 73px,#c7d2eb 0 74px,#c0d2f3 0 75px,#e67d67 0 76px,#d4d2dc 0 77px,#8dabf6 0 78px,#cdc9da 0 79px,#ddced0 0 80px,#d6d9e1 0 81px,#e2b6af 0 82px,#bfceef 0 83px,#ddd8d9 0 84px,#9298d7 0 85px,#b1beeb 0 86px,#ced0e0 0 87px,#b8cef5 0 88px,#aec1ef 0 89px,#d4c4c8 0 90px,#c5d0ea 0 91px,#e2cfcb 0 92px,#e4c5bf 0 93px,#edc6b7 0 94px,#b7cbf3 0 95px,#b3ccf9 0 96px,#dfbab8 0 97px,#e4b6ad 0 98px,#bbcaec 0 99px,#e3c2bb 0 100px,#c7c8df 0 101px,#b2c3ef 0 102px,#bfd2f3 0 103px,#d6d5dd 0 104px,#acbef0 0 105px,#bbcdf2 0 106px,#94abee 0 107px,#cbd6ea 0 108px,#b9c7ec 0 109px,#8aa9f5 0 110px,#ccd2e3 0 111px,#ced7e8 0 112px,#b0c1ee 0 113px,#b2c1ec 0 114px,#e4cec7 0 115px,#c4cbe6 0 116px,#e6d3cb 0 117px,#cfd6e6 0 118px,#c5d0e8 0 119px,#a4c0fa 0 120px,#9fa9e2 0 121px,#e2c7c2 0 122px,#e8cbc1 0 123px,#d5d7e0 0 124px,#ccd4e7 0 125px,#e0d5d3 0 126px,#d6d7df 0 127px,#97aff1 0 128px,#d6d5db 0 129px,#c7cde0 0 130px,#d4ccd4 0 131px,#e1cec9 0 132px,#dfcecc 0 133px,#87a9fa 0 134px,#acc5f8 0 135px,#c0cfee 0 136px,#9dbbfb 0 137px,#b9ccf2 0 138px,#d4d6e0 0 139px,#efb19b 0 140px,#97b1f3 0 141px,#99b7fa 0 142px,#c0d0ee 0 143px,#bbcef1 0 144px,#d58e8c 0 145px,#b5cdf8 0 146px,#dc867c 0 147px,#cf7a79 0 148px,#aebfee 0 149px,#dda099 0 150px,#d6c3ca 0 151px,#e2cfca 0 152px,#b8cff8 0 153px,#c1d1f0 0 154px,#ebb1a0 0 155px,#efb19c 0 156px,#90aaf1 0 157px,#ebb6a5 0 158px,#b0beeb 0 159px,#dcd1d3 0 160px,#efbca8 0 161px,#e9c3b7 0 162px,#a5bbf1 0 163px,#e3d3cd 0 164px,#dbc8c9 0 165px,#8f94d6 0 166px,#f0977c 0 167px,#dfdad8 0 168px,#d5d4dc 0 169px,#e99e89 0 170px,#a7b8ed 0 171px,#ec9982 0 172px,#e78774 0 173px,#efb49f 0 174px,#e58a78 0 175px,#e7c5ba 0 176px,#b9cef4 0 177px,#d56463 0 178px,#f1ad95 0 179px,#ee8c71 0 180px,#f3c6b0 0 181px,#d65953 0 182px,#f2ab92 0 183px,#ddd6d7 0 184px,#afbbe8 0 185px,#ecc8b9 0 186px,#ced5e6 0 187px,#f2a88d 0 188px,#f2c6b1 0 189px,#f0c6b3 0 190px,#eec0ae 0 191px,#f2b8a2 0 192px,#eab6a6 0 193px,#d56765 0 194px,#e8d0c6 0 195px,#f39f81 0 196px,#f4bda6 0 197px,#ded1d0 0 198px,#eeb8a4 0 199px,#e8cdc3 0 200px,#e9b7a9 0 201px,#eebcaa 0 202px,#ccbecf 0 203px,#e4c9c1 0 204px,#e4c3ba 0 205px,#cd3c42 0 206px,#d5726d 0 207px,#f1aa91 0 208px,#f4b197 0 209px,#c2d3f1 0 210px,#bacef4 0 211px,#e1c3c0 0 212px,#bfc9e6 0 213px,#c6cce5 0 214px,#dbb8b8 0 215px,#b8c0e7 0 216px,#e9bdb1 0 217px,#c4cee6 0 218px,#edcbbc 0 219px,#e1d2cf 0 220px,#bfc6e5 0 221px,#dab3b6 0 222px,#b7cdf5 0 223px,#dac5c8 0 224px,#eec4b4 0 225px,#e3cac6 0 226px,#c5cee8 0 227px,#dbdadc 0 228px,#b6bce2 0 229px,#e8c8bd 0 230px,#f3ac91 0 231px,#f4b8a0 0 232px,#a4a8de 0 233px,#e17f6f 0 234px,#e4b7af 0 235px,#eab6a8 0 236px,#cdb7c8 0 237px,#c2b2cd 0 238px,#dfd4d2 0 239px,#d57069 0 240px,#b0bce9 0 241px,#c0cbeb 0 242px,#d3d8e3 0 243px,#d5d4dd 0 244px,#ed947b 0 245px,#ef9c83 0 246px,#e4cfc9 0 247px,#e2d7d2 0 248px,#ddcdce 0 249px,#9e9bd4 0 250px,#dfd0cd 0 251px,#f4bba3 0 252px,#e9937e 0 253px,#d8d1d6 0 254px,#edcbbc 0 255px,#c9c6da 0 256px,#df7362 0 257px,#f0c6b3 0 258px,#ccd2e4 0 259px,#6f7fd3 0 260px,#ee8e73 0 261px,#dad3d6 0 262px,#ded6d5 0 263px,#e5d2cb 0 264px,#eba38d 0 265px)"></div>
<div class="hr" style="top:380.49px;height:5.48px;background:linear-gradient(90deg,#c4cbe1 1px,#ddd8d9 0 2px,#738ce3 0 3px,#d0cad6 0 4px,#cbd0e1 0 5px,#aec4f2 0 6px,#6f85df 0 7px,#d8d7dc 0 8px,#b8cdf4 0 9px,#789af4 0 10px,#87a1ef 0 11px,#c0ceed 0 12px,#687fde 0 13px,#cbd1e4 0 14px,#7797f1 0 15px,#a9bdf1 0 16px,#e5cdc7 0 17px,#bccdef 0 18px,#a2bdf6 0 19px,#d8ccd2 0 20px,#9fbdfb 0 21px,#c5d1ea 0 22px,#d7b6b7 0 23px,#bcd0f4 0 24px,#c9d5ec 0 25px,#7492ed 0 26px,#d1d4df 0 27px,#e5bfb6 0 28px,#87a9fa 0 29px,#afc8f9 0 30px,#e4cfc9 0 31px,#85a6f8 0 32px,#7d9ef5 0 33px,#eabcaf 0 34px,#c8c9dc 0 35px,#92a1e3 0 36px,#c3cbe1 0 37px,#eabcad 0 38px,#e3b9b1 0 39px,#f1b6a0 0 40px,#c0d1f0 0 41px,#acc5f7 0 42px,#e69786 0 43px,#cccfe0 0 44px,#ebcabc 0 45px,#c3cde7 0 46px,#dbd3d6 0 47px,#eec4b4 0 48px,#d6d0d7 0 49px,#d9c6c9 0 50px,#ced4e4 0 51px,#7e8bd7 0 52px,#c5d0eb 0 53px,#bdd1f4 0 54px,#e3cac5 0 55px,#f2c5b0 0 56px,#afb6e3 0 57px,#96aff2 0 58px,#a0bdf9 0 59px,#c3d2ed 0 60px,#dab8b9 0 61px,#bfd1f3 0 62px,#e5b6ad 0 63px,#839ae8 0 64px,#e08b7e 0 65px,#c1cbe5 0 66px,#dcdbdb 0 67px,#dcd3d5 0 68px,#d5d8e1 0 69px,#d0c5d0 0 70px,#dfd2d0 0 71px,#d9d2d7 0 72px,#9aaae8 0 73px,#a2bcf6 0 74px,#d5d1da 0 75px,#e4cac3 0 76px,#b6c8ef 0 77px,#95b5fc 0 78px,#656abf 0 79px,#cfd8e7 0 80px,#ddd2d3 0 81px,#ebcdbf 0 82px,#abc6fa 0 83px,#e6cec6 0 84px,#c1cceb 0 85px,#c8d1e7 0 86px,#b2c9f6 0 87px,#9dbcfc 0 88px,#dfb9b4 0 89px,#e19183 0 90px,#d3cfd9 0 91px,#efc3b1 0 92px,#f0bda9 0 93px,#c65160 0 94px,#e4a599 0 95px,#c4cbe7 0 96px,#d6d7de 0 97px,#e8d0c5 0 98px,#ebcbbc 0 99px,#df7564 0 100px,#ee9f89 0 101px,#edae9a 0 102px,#c0c8e7 0 103px,#c84d59 0 104px,#f1a68b 0 105px,#9fb3ef 0 106px,#d0c5d3 0 107px,#e7bdb2 0 108px,#e9c5bb 0 109px,#ecbbab 0 110px,#ddd7d7 0 111px,#dbd8da 0 112px,#b2c0ec 0 113px,#9aace9 0 114px,#e7d0c6 0 115px,#e9c5b8 0 116px,#e29c91 0 117px,#cccbdc 0 118px,#a2bffa 0 119px,#e3d4cd 0 120px,#f2bda7 0 121px,#e08576 0 122px,#e1cfc9 0 123px,#d9bcbe 0 124px,#afc0ee 0 125px,#d3ced8 0 126px,#e5cfc7 0 127px,#cac8dc 0 128px,#eacdc1 0 129px,#e9b7a8 0 130px,#e8d0c5 0 131px,#dad1d4 0 132px,#edac97 0 133px,#e1d0cd 0 134px,#e7cfc5 0 135px,#dcd7d8 0 136px,#c2cdec 0 137px,#e1d5d1 0 138px,#c4bfd9 0 139px,#e38573 0 140px,#edc7b7 0 141px,#bbcbf0 0 142px,#efc0ac 0 143px,#dfcecd 0 144px,#c0576b 0 145px,#cfcedd 0 146px,#f5c3ac 0 147px,#df7b6c 0 148px,#bbb9da 0 149px,#c3cbe7 0 150px,#f2c5b1 0 151px,#e6bcb2 0 152px,#afc9f9 0 153px,#d0d6e5 0 154px,#b8c2e7 0 155px,#dfd2d1 0 156px,#aabff2 0 157px,#e0a49a 0 158px,#dec6c4 0 159px,#b4c1eb 0 160px,#e4cac4 0 161px,#dbc5c7 0 162px,#e6cfc7 0 163px,#eab9aa 0 164px,#eacdc0 0 165px,#e6c7be 0 166px,#dbbdbb 0 167px,#c6d3ec 0 168px,#d7cbd2 0 169px,#ebbfaf 0 170px,#aebeed 0 171px,#a9bdf1 0 172px,#eec8b8 0 173px,#bdbbda 0 174px,#ebcabc 0 175px,#a3abe2 0 176px,#809beb 0 177px,#e1b6b0 0 178px,#ddcbca 0 179px,#d0d4e2 0 180px,#d9d2d6 0 181px,#dbcfd1 0 182px,#ee977e 0 183px,#c6d1eb 0 184px,#c1cde9 0 185px,#d0d1e1 0 186px,#e88972 0 187px,#f0baa6 0 188px,#d2d1dc 0 189px,#dbd9db 0 190px,#d6d6dd 0 191px,#f2ab91 0 192px,#e9cabd 0 193px,#e4a396 0 194px,#97aef1 0 195px,#e6c4ba 0 196px,#bbd1f6 0 197px,#a2b5ef 0 198px,#dfd8d6 0 199px,#bdc6e8 0 200px,#d5b4bb 0 201px,#d27975 0 202px,#d3d7e2 0 203px,#cacade 0 204px,#e8c7bc 0 205px,#decbca 0 206px,#eab8a9 0 207px,#aec4f4 0 208px,#e58875 0 209px,#dfcbca 0 210px,#c3c4e0 0 211px,#ebc0b2 0 212px,#e3c1bb 0 213px,#d5d4dd 0 214px,#abb4e5 0 215px,#d5c7cf 0 216px,#cf4c4f 0 217px,#d5d1d9 0 218px,#e5d3cb 0 219px,#f3a488 0 220px,#deccc9 0 221px,#ebb7a6 0 222px,#d9d9de 0 223px,#ebc0b0 0 224px,#eacec2 0 225px,#dc7e72 0 226px,#f5b69c 0 227px,#d8d8dd 0 228px,#e0b6b1 0 229px,#d7ced3 0 230px,#f1b49c 0 231px,#e4c8bf 0 232px,#c3bbd6 0 233px,#dd5f4f 0 234px,#dfc9c5 0 235px,#e67661 0 236px,#b9b6d8 0 237px,#f5b89f 0 238px,#bac1e5 0 239px,#dc928a 0 240px,#aabdf0 0 241px,#d1d8e5 0 242px,#d7d8df 0 243px,#c5d0eb 0 244px,#eeae98 0 245px,#d75953 0 246px,#c4cae4 0 247px,#eacabd 0 248px,#e6c4bc 0 249px,#d3d4de 0 250px,#e18273 0 251px,#f2af97 0 252px,#ef997f 0 253px,#888cd2 0 254px,#f1baa4 0 255px,#e6beb3 0 256px,#e57c67 0 257px,#d1c4cf 0 258px,#efa78f 0 259px,#889ee7 0 260px,#ee8a6e 0 261px,#c5c8e2 0 262px,#cdd3e4 0 263px,#ded8d6 0 264px,#f4ad92 0 265px)"></div>
<div class="hr" style="top:385.47px;height:5.48px;background:linear-gradient(90deg,#7797f0 1px,#b8c9ef 0 2px,#7d9df3 0 3px,#a5c2fb 0 4px,#c1c5db 0 5px,#7897ee 0 6px,#6179da 0 7px,#cbd4e7 0 8px,#d7d7de 0 9px,#7d9ef4 0 10px,#88a6f3 0 11px,#a1b8f3 0 12px,#5364cb 0 13px,#bacff4 0 14px,#90b1fc 0 15px,#9bbafb 0 16px,#a7bff5 0 17px,#dabfc2 0 18px,#c6cde3 0 19px,#e2b7b0 0 20px,#dad2d5 0 21px,#e1beba 0 22px,#c1c6dc 0 23px,#9cb3f1 0 24px,#b2caf7 0 25px,#b1c6f2 0 26px,#d4cdd5 0 27px,#bdc8e9 0 28px,#e1bab5 0 29px,#b0c8f7 0 30px,#cdd6e8 0 31px,#bbd1f6 0 32px,#cfd6e4 0 33px,#e8cac0 0 34px,#7998f0 0 35px,#849eec 0 36px,#b1caf9 0 37px,#d5d6df 0 38px,#dbb6b3 0 39px,#e3d5cf 0 40px,#cfd6e3 0 41px,#c2d3f0 0 42px,#d8726b 0 43px,#ccc4d4 0 44px,#d2d7e3 0 45px,#6374d2 0 46px,#c9c7dc 0 47px,#e59280 0 48px,#85a6f8 0 49px,#d3b0b5 0 50px,#dbbcbc 0 51px,#bfd1f1 0 52px,#bacdf1 0 53px,#b7caf3 0 54px,#c9d4ea 0 55px,#eca38e 0 56px,#aac3f7 0 57px,#b2c1ec 0 58px,#809dee 0 59px,#bbc9ee 0 60px,#b0c5f1 0 61px,#cf9b9f 0 62px,#debebc 0 63px,#8fa7ed 0 64px,#ddcfcf 0 65px,#e3b0a6 0 66px,#f4aa8f 0 67px,#c1cfed 0 68px,#c4d2ed 0 69px,#ced7e8 0 70px,#d7d9df 0 71px,#dfd6d4 0 72px,#7c91e0 0 73px,#b5cbf6 0 74px,#decdcc 0 75px,#c4cfeb 0 76px,#bfc9e7 0 77px,#c3d2ed 0 78px,#99b4f5 0 79px,#b9cbef 0 80px,#c0ceec 0 81px,#edab95 0 82px,#ded2d3 0 83px,#a9c3f7 0 84px,#cad1e7 0 85px,#90adf5 0 86px,#acc7fa 0 87px,#7a99f0 0 88px,#c5cae1 0 89px,#e4ab9f 0 90px,#c3d4f0 0 91px,#d8ced2 0 92px,#e9b2a3 0 93px,#d3d6e1 0 94px,#dcd3d5 0 95px,#dad5d9 0 96px,#d2c4cd 0 97px,#edb9a7 0 98px,#dc8277 0 99px,#e5cfc8 0 100px,#dad0d3 0 101px,#edc8b8 0 102px,#c0cfef 0 103px,#e5b9b0 0 104px,#bac6eb 0 105px,#bac3e2 0 106px,#c2ceec 0 107px,#ccd4e7 0 108px,#d1ccd8 0 109px,#8faaf1 0 110px,#f1baa4 0 111px,#d6d7e0 0 112px,#c0cded 0 113px,#828ed8 0 114px,#f3c2ad 0 115px,#95a1e0 0 116px,#bec0e0 0 117px,#eebfad 0 118px,#b2c8f5 0 119px,#a8c1f7 0 120px,#cdd3e5 0 121px,#d4c0c4 0 122px,#e4c5bc 0 123px,#c0cceb 0 124px,#a8bff5 0 125px,#edbfae 0 126px,#cdd6e7 0 127px,#e4cec5 0 128px,#aeb3e0 0 129px,#e3d4cd 0 130px,#e9c6b9 0 131px,#e5ccc2 0 132px,#e9cec3 0 133px,#e6c0b7 0 134px,#e4cec5 0 135px,#dacbce 0 136px,#afc0ee 0 137px,#b6c4ec 0 138px,#d8dae0 0 139px,#c34d60 0 140px,#d4d5df 0 141px,#d7cbd1 0 142px,#a6bbf1 0 143px,#ddcdcd 0 144px,#d4d0da 0 145px,#9eaeeb 0 146px,#eccabd 0 147px,#d8d3d9 0 148px,#f0bca8 0 149px,#ebcbbe 0 150px,#df8274 0 151px,#ddd4d5 0 152px,#b2c8f5 0 153px,#dad7db 0 154px,#c3d1ee 0 155px,#a8bef3 0 156px,#ccd6e8 0 157px,#b2345a 0 158px,#eea38c 0 159px,#eba692 0 160px,#cdd6e8 0 161px,#eec8b8 0 162px,#e6cbc2 0 163px,#e5d3ca 0 164px,#d5cad2 0 165px,#bfceee 0 166px,#e8c4b7 0 167px,#ddcdcd 0 168px,#bdcdee 0 169px,#b3355a 0 170px,#e2d1cc 0 171px,#e8d1c7 0 172px,#ecb9a9 0 173px,#e8b0a3 0 174px,#e98770 0 175px,#e8b0a2 0 176px,#bdcaec 0 177px,#c03d54 0 178px,#efb9a6 0 179px,#c7c8e0 0 180px,#e8c9bf 0 181px,#ebad9e 0 182px,#ee9379 0 183px,#cbd3e7 0 184px,#ccd4e7 0 185px,#cdccde 0 186px,#bfc9e9 0 187px,#d8817a 0 188px,#eecbbb 0 189px,#e5d0c9 0 190px,#ebb3a2 0 191px,#f0a78e 0 192px,#e7b6a9 0 193px,#c3364b 0 194px,#c6d1eb 0 195px,#f4baa2 0 196px,#f2b69f 0 197px,#bac9ef 0 198px,#c8d4eb 0 199px,#e68d7a 0 200px,#e0968a 0 201px,#edbfae 0 202px,#e9c3b6 0 203px,#e9c9bd 0 204px,#efb29d 0 205px,#f0ae97 0 206px,#f0aa92 0 207px,#ccccde 0 208px,#dc6f64 0 209px,#d6d8e0 0 210px,#a7baef 0 211px,#eec2b0 0 212px,#bbcff3 0 213px,#eecbba 0 214px,#e5b4ab 0 215px,#bbc0e3 0 216px,#ca4d58 0 217px,#cdd4e5 0 218px,#f3a488 0 219px,#ef947a 0 220px,#dfb6b2 0 221px,#e9c7ba 0 222px,#f4ad92 0 223px,#dfd8d7 0 224px,#f2a286 0 225px,#e3cec7 0 226px,#f0c6b3 0 227px,#ded0ce 0 228px,#ddd0d1 0 229px,#d3d3dd 0 230px,#f0c7b4 0 231px,#ea8067 0 232px,#edc7b6 0 233px,#f19376 0 234px,#d7ccd2 0 235px,#efb09b 0 236px,#d2bec9 0 237px,#eca898 0 238px,#d8d2d7 0 239px,#e28170 0 240px,#9eb2ef 0 241px,#a6baf1 0 242px,#e6cec5 0 243px,#cfd5e5 0 244px,#ecccbe 0 245px,#f3bea7 0 246px,#d3cbd5 0 247px,#e8b1a2 0 248px,#e7c4bb 0 249px,#e6b6ab 0 250px,#d6cbd1 0 251px,#d8c4c7 0 252px,#ee9c83 0 253px,#f2c2ad 0 254px,#efc0ae 0 255px,#e5765f 0 256px,#ec9179 0 257px,#eecbba 0 258px,#efb39f 0 259px,#b1c9f7 0 260px,#ea836a 0 261px,#f2ac92 0 262px,#e7c9bf 0 263px,#ebae9c 0 264px,#eca995 0 265px)"></div>
<div class="hr" style="top:390.45px;height:5.48px;background:linear-gradient(90deg,#6f8fee 1px,#7d94e7 0 2px,#b0c8f7 0 3px,#7e9ef5 0 4px,#cb959a 0 5px,#7695ef 0 6px,#86a2f0 0 7px,#abbbec 0 8px,#89a4f0 0 9px,#8aadfc 0 10px,#5266cd 0 11px,#a6c1f9 0 12px,#6d8ceb 0 13px,#b2c4f0 0 14px,#6584e8 0 15px,#acc6f9 0 16px,#c2d2ef 0 17px,#a9bff1 0 18px,#5265cc 0 19px,#a8c0f3 0 20px,#4f67d3 0 21px,#d6c3ca 0 22px,#adc3f2 0 23px,#c8c0d0 0 24px,#607ee5 0 25px,#a8c2f8 0 26px,#bdcbea 0 27px,#83a0f0 0 28px,#b1c3ec 0 29px,#6e8ceb 0 30px,#b7ccf4 0 31px,#bcc6e4 0 32px,#d1cdd7 0 33px,#c7d3ea 0 34px,#abbeed 0 35px,#809ff2 0 36px,#acc1f0 0 37px,#a8bef4 0 38px,#9bb6f6 0 39px,#cad3e7 0 40px,#b9c8ea 0 41px,#b2c6f3 0 42px,#d4d0d9 0 43px,#d5d0d6 0 44px,#8cadfa 0 45px,#c6cfe6 0 46px,#d9c4c7 0 47px,#d2d6e2 0 48px,#c7cee2 0 49px,#9cbafa 0 50px,#b4c9f3 0 51px,#6d85e0 0 52px,#6f8eed 0 53px,#8dabf6 0 54px,#b0c6f4 0 55px,#b9cdf4 0 56px,#7f9def 0 57px,#d2c4ce 0 58px,#c7cadd 0 59px,#97b6fb 0 60px,#b6cbf4 0 61px,#728ee8 0 62px,#9ebcfb 0 63px,#86a6f7 0 64px,#db887f 0 65px,#c5bed2 0 66px,#e0b0a9 0 67px,#c3d2ef 0 68px,#afc8f7 0 69px,#f0bfac 0 70px,#c2d3f1 0 71px,#cfd7e6 0 72px,#dfcdcc 0 73px,#d2d5e2 0 74px,#d5d9e2 0 75px,#eccbbd 0 76px,#dcd2d3 0 77px,#d5d4db 0 78px,#9cb7f7 0 79px,#cad5ea 0 80px,#e8cfc4 0 81px,#e5aa9e 0 82px,#e9ac9c 0 83px,#7794ec 0 84px,#d8ccd0 0 85px,#a9b5e8 0 86px,#b2bde8 0 87px,#acc1f2 0 88px,#8899e3 0 89px,#d3ced8 0 90px,#99b4f5 0 91px,#cad6eb 0 92px,#99aeed 0 93px,#d6d3da 0 94px,#c8d1e9 0 95px,#a5b8f0 0 96px,#d4d9e3 0 97px,#e0aca4 0 98px,#d3d3dd 0 99px,#c8c9de 0 100px,#f1c3b0 0 101px,#c8cee5 0 102px,#c0cfec 0 103px,#e0a398 0 104px,#d8d0d5 0 105px,#c2cbe8 0 106px,#e1d4cf 0 107px,#dad9dd 0 108px,#e59381 0 109px,#d8c8cb 0 110px,#bdccec 0 111px,#cfd7e6 0 112px,#c1cfee 0 113px,#7b95e9 0 114px,#d2d8e4 0 115px,#e7cbc2 0 116px,#b3caf6 0 117px,#bcc6e9 0 118px,#ccd4e6 0 119px,#83a2f4 0 120px,#c7d1e9 0 121px,#af3b5d 0 122px,#c7cbdf 0 123px,#aec1f0 0 124px,#adbfef 0 125px,#e7cfc6 0 126px,#d6d4dc 0 127px,#a8b0e3 0 128px,#b5bee7 0 129px,#adc7f9 0 130px,#e8c8bc 0 131px,#b2bae4 0 132px,#d79892 0 133px,#d6d1d7 0 134px,#d6d5dc 0 135px,#d2bec6 0 136px,#becef0 0 137px,#e8cfc5 0 138px,#bdcef1 0 139px,#e8a999 0 140px,#ced4e5 0 141px,#9db6f3 0 142px,#b9c6e9 0 143px,#c5becf 0 144px,#e8b4a6 0 145px,#b3caf5 0 146px,#d8d2d6 0 147px,#e8cac0 0 148px,#e1cfcb 0 149px,#d7d3d9 0 150px,#ea9781 0 151px,#9ab8fb 0 152px,#b8cdf4 0 153px,#b7c6ee 0 154px,#d3d7e2 0 155px,#e7c5bc 0 156px,#8a93d9 0 157px,#ebc4b6 0 158px,#eebeac 0 159px,#cec3cd 0 160px,#ced5e5 0 161px,#cad4e7 0 162px,#e0b8b3 0 163px,#e3d0c9 0 164px,#d7ccd2 0 165px,#8397e5 0 166px,#f3ad94 0 167px,#d7c7ca 0 168px,#e7beb3 0 169px,#db8980 0 170px,#ecc2b2 0 171px,#c4c5df 0 172px,#dc6b5f 0 173px,#e2735f 0 174px,#f09174 0 175px,#c8c8e0 0 176px,#acb9e8 0 177px,#d25a5b 0 178px,#e38473 0 179px,#f0c0ad 0 180px,#f19d82 0 181px,#ef9981 0 182px,#e98770 0 183px,#dcd1d1 0 184px,#d5d0d9 0 185px,#f2b9a2 0 186px,#b6b8de 0 187px,#efa68e 0 188px,#efc7b6 0 189px,#d4d3dd 0 190px,#f3aa8f 0 191px,#f29e82 0 192px,#e5806b 0 193px,#d56966 0 194px,#edc9b9 0 195px,#d5ced6 0 196px,#f1a086 0 197px,#d1c7d2 0 198px,#dbd2d4 0 199px,#dd7f72 0 200px,#ecbcac 0 201px,#e8a898 0 202px,#f3b49b 0 203px,#dfc7c3 0 204px,#f1b19a 0 205px,#e37868 0 206px,#b72644 0 207px,#edb8a6 0 208px,#e57761 0 209px,#f3a98e 0 210px,#bfd0f2 0 211px,#dbd1d2 0 212px,#afc3f2 0 213px,#f1c8b6 0 214px,#f2c5b1 0 215px,#ed9f8b 0 216px,#ee8b70 0 217px,#bdcaec 0 218px,#f4a689 0 219px,#cad3e8 0 220px,#f4b79f 0 221px,#eb9b8a 0 222px,#f4a88b 0 223px,#e6a597 0 224px,#d96b5f 0 225px,#d8d9df 0 226px,#f1bea9 0 227px,#91a5eb 0 228px,#dfc8c4 0 229px,#e6ada1 0 230px,#d5cdd6 0 231px,#bc152d 0 232px,#e2a099 0 233px,#e27060 0 234px,#dad6d9 0 235px,#eac0b1 0 236px,#d6c9cf 0 237px,#ebb3a2 0 238px,#e9c7ba 0 239px,#e48a78 0 240px,#9ca9e6 0 241px,#e6c0b8 0 242px,#d8cfd5 0 243px,#f3c2ac 0 244px,#dc6f64 0 245px,#f4af95 0 246px,#dcd4d5 0 247px,#eecbba 0 248px,#db7f75 0 249px,#9394d5 0 250px,#eda995 0 251px,#ecb4a2 0 252px,#f0ad99 0 253px,#e8a898 0 254px,#d14f51 0 255px,#f5b79e 0 256px,#c2273a 0 257px,#eec7b6 0 258px,#f2b9a2 0 259px,#bacef4 0 260px,#dd685c 0 261px,#eda48f 0 262px,#f2a58a 0 263px,#f1b59f 0 264px,#e6c8c0 0 265px)"></div>
<div class="hr" style="top:395.43px;height:5.48px;background:linear-gradient(90deg,#adc2f1 1px,#dbc9ca 0 2px,#96b6fb 0 3px,#86a7f7 0 4px,#d2d5e0 0 5px,#b1c1e9 0 6px,#a0bdfa 0 7px,#8ea7ef 0 8px,#abbcee 0 9px,#647bda 0 10px,#8cadfb 0 11px,#8bacf9 0 12px,#6d85e0 0 13px,#a5bdf4 0 14px,#b4c7f1 0 15px,#90adf5 0 16px,#e7a18f 0 17px,#c3d0eb 0 18px,#4154c6 0 19px,#d0a1a6 0 20px,#afc3f0 0 21px,#cdcfde 0 22px,#cfd6e5 0 23px,#d2d6e1 0 24px,#87a5f3 0 25px,#9ebcfb 0 26px,#afc6f4 0 27px,#95aff3 0 28px,#b7ccf3 0 29px,#687edb 0 30px,#ddd5d5 0 31px,#d8d8dd 0 32px,#a9c4f9 0 33px,#bdd0f2 0 34px,#b6ccf6 0 35px,#8d9ce0 0 36px,#b1c2ef 0 37px,#c9d1e8 0 38px,#e0cbc9 0 39px,#f2c5b0 0 40px,#e4d3cd 0 41px,#b2bfec 0 42px,#c4b2cb 0 43px,#ced4e5 0 44px,#7c87d4 0 45px,#acc0f0 0 46px,#cacfe2 0 47px,#f3b79f 0 48px,#a9bef2 0 49px,#d5b3b6 0 50px,#b4cdf9 0 51px,#a2bef9 0 52px,#dbd7d9 0 53px,#a6bef6 0 54px,#d1d6e3 0 55px,#e88f7a 0 56px,#c5cfe9 0 57px,#a1b2ec 0 58px,#dacdd0 0 59px,#e2ccc8 0 60px,#c0d1f1 0 61px,#ebc6b9 0 62px,#bccef2 0 63px,#99aceb 0 64px,#c3d4f0 0 65px,#e0a9a2 0 66px,#c2ceec 0 67px,#c4cde5 0 68px,#abc4f7 0 69px,#a3b5e7 0 70px,#b3c5ef 0 71px,#d7acaa 0 72px,#a9c3f8 0 73px,#cdcfde 0 74px,#e1d5d0 0 75px,#e9cac0 0 76px,#99b5f8 0 77px,#c2d2f0 0 78px,#9aaeee 0 79px,#a1bef9 0 80px,#d2d3dd 0 81px,#e8a898 0 82px,#b2caf8 0 83px,#d5d4de 0 84px,#b0c3f0 0 85px,#96abec 0 86px,#afc9fa 0 87px,#c5d0e9 0 88px,#b3c8f2 0 89px,#d2bcc3 0 90px,#a8c0f5 0 91px,#b7c6ed 0 92px,#a0bcf8 0 93px,#c5d0e7 0 94px,#85a2f1 0 95px,#d0d4e3 0 96px,#97b1f4 0 97px,#dbd0d3 0 98px,#e1968a 0 99px,#b7c5ed 0 100px,#b3caf6 0 101px,#ddcbcc 0 102px,#e1cac6 0 103px,#d5c2c9 0 104px,#b5caf3 0 105px,#a9c0f5 0 106px,#d3cad5 0 107px,#b7ccf4 0 108px,#ccd6e8 0 109px,#91abf2 0 110px,#a0bdf9 0 111px,#c5d0e8 0 112px,#6170ca 0 113px,#8cabf6 0 114px,#abc4f7 0 115px,#c0ccec 0 116px,#b1c6f4 0 117px,#90adf6 0 118px,#9ebaf9 0 119px,#6981df 0 120px,#a9c2f5 0 121px,#e5c2b9 0 122px,#d4d6df 0 123px,#6e7ed2 0 124px,#ced6e6 0 125px,#c4d3ef 0 126px,#d2d6e2 0 127px,#838cd6 0 128px,#96b2f4 0 129px,#c0d3f2 0 130px,#90a6ed 0 131px,#ded1cf 0 132px,#ced6e6 0 133px,#97b7fc 0 134px,#a4bcf5 0 135px,#b0cafa 0 136px,#7289e0 0 137px,#98b6f9 0 138px,#bdd1f4 0 139px,#e4c5c0 0 140px,#c8d4ea 0 141px,#afc9f9 0 142px,#c5d2ec 0 143px,#5d76db 0 144px,#c7b7c5 0 145px,#8cabf7 0 146px,#db7f74 0 147px,#dfbfbc 0 148px,#b5cbf6 0 149px,#cecfe0 0 150px,#b6cdf7 0 151px,#7d98ec 0 152px,#e1c8c5 0 153px,#cad4e9 0 154px,#ddd9d9 0 155px,#bbc1e3 0 156px,#eaccc0 0 157px,#cad2e6 0 158px,#d5d8e0 0 159px,#dad4d7 0 160px,#cdcedf 0 161px,#dbdadc 0 162px,#c2d2f0 0 163px,#e1d7d3 0 164px,#f0ad96 0 165px,#7c9bf0 0 166px,#cad6eb 0 167px,#abc0f3 0 168px,#c2cbe5 0 169px,#b75069 0 170px,#b2c5f1 0 171px,#97a8e8 0 172px,#e2cec9 0 173px,#ddc9c7 0 174px,#eac0b1 0 175px,#bcc0e1 0 176px,#849dea 0 177px,#d47d79 0 178px,#e6cbc3 0 179px,#d7c6ca 0 180px,#e6cec6 0 181px,#f19d82 0 182px,#e7d0c6 0 183px,#d3d3df 0 184px,#dac3c3 0 185px,#e7c8bd 0 186px,#d4d0da 0 187px,#bed1f3 0 188px,#d1d7e5 0 189px,#e4cdc5 0 190px,#eac9bb 0 191px,#ee987f 0 192px,#ea8f78 0 193px,#e7b2a4 0 194px,#c2d1ee 0 195px,#a6b6ed 0 196px,#e67f69 0 197px,#bfc6e4 0 198px,#a0baf6 0 199px,#efb39e 0 200px,#d1ceda 0 201px,#e8cdc3 0 202px,#eecaba 0 203px,#9baae7 0 204px,#b7bfe6 0 205px,#d7c9ce 0 206px,#d78781 0 207px,#e2cec8 0 208px,#e2d7d2 0 209px,#f0bfab 0 210px,#eacabc 0 211px,#df6d5e 0 212px,#e78772 0 213px,#d5615d 0 214px,#ee9881 0 215px,#c9c2d7 0 216px,#f09175 0 217px,#ded3d2 0 218px,#c63646 0 219px,#f4ae92 0 220px,#f1ab94 0 221px,#eb9b8a 0 222px,#c7cce5 0 223px,#da8a82 0 224px,#ecb7a6 0 225px,#e1cfcc 0 226px,#e26a55 0 227px,#d0c7d3 0 228px,#f0b3a0 0 229px,#eabaad 0 230px,#f2b69e 0 231px,#e77c69 0 232px,#bba6c9 0 233px,#ebc4b4 0 234px,#e1cdc8 0 235px,#e36f5d 0 236px,#c9b4c7 0 237px,#e37061 0 238px,#e5ccc2 0 239px,#f2ab91 0 240px,#dbc7c6 0 241px,#f2b8a1 0 242px,#c9d2e8 0 243px,#f3aa8f 0 244px,#f09377 0 245px,#f0af9a 0 246px,#a499cf 0 247px,#ee8e73 0 248px,#d7d0d6 0 249px,#bfabc9 0 250px,#eec2b0 0 251px,#e3c2ba 0 252px,#f0baa6 0 253px,#f4b69d 0 254px,#eb967f 0 255px,#ef9075 0 256px,#e47c68 0 257px,#ed876c 0 258px,#eac8ba 0 259px,#b5c2ea 0 260px,#d44d4a 0 261px,#f4b69e 0 262px,#f3af95 0 263px,#f1977b 0 264px,#e78c77 0 265px)"></div>
<div class="hr" style="top:400.41px;height:5.48px;background:linear-gradient(90deg,#82a4f8 1px,#6076d8 0 2px,#5d6ecc 0 3px,#93b0f4 0 4px,#acc1ef 0 5px,#5d7ae1 0 6px,#708fee 0 7px,#abc3f5 0 8px,#6f7bcf 0 9px,#617ce0 0 10px,#667edd 0 11px,#7a97ed 0 12px,#86a4f3 0 13px,#6c78cf 0 14px,#83a4f7 0 15px,#7c9df4 0 16px,#e2c3be 0 17px,#7391ed 0 18px,#6482e8 0 19px,#c4cde4 0 20px,#6885e6 0 21px,#d0c0c9 0 22px,#d9b9b9 0 23px,#6a86e5 0 24px,#bbcef3 0 25px,#86a9fa 0 26px,#b9c5e5 0 27px,#9cb8f7 0 28px,#b2c1e9 0 29px,#7c9cf3 0 30px,#afc4f0 0 31px,#b1c0e8 0 32px,#5a71d7 0 33px,#c3ceea 0 34px,#7694ef 0 35px,#9cb3f2 0 36px,#bdc4df 0 37px,#d2d2de 0 38px,#cdcbda 0 39px,#aec1f1 0 40px,#b2caf7 0 41px,#7d9aee 0 42px,#c8cadf 0 43px,#b6c7ed 0 44px,#6378d6 0 45px,#809ced 0 46px,#869de9 0 47px,#91abf1 0 48px,#98aeee 0 49px,#adbfec 0 50px,#7392ee 0 51px,#cbd2e3 0 52px,#c8d4eb 0 53px,#8faffb 0 54px,#b5bfe8 0 55px,#d2d8e4 0 56px,#cad5ea 0 57px,#cad4e8 0 58px,#92b0f8 0 59px,#8ca5ed 0 60px,#83a5f9 0 61px,#8daefc 0 62px,#d7ccd1 0 63px,#b2c8f4 0 64px,#e7bfb5 0 65px,#dec4c3 0 66px,#dcd1d2 0 67px,#ddc0c0 0 68px,#9ab8f9 0 69px,#cdb3be 0 70px,#bacdf2 0 71px,#bacdf0 0 72px,#768bde 0 73px,#7a9af2 0 74px,#c0caea 0 75px,#dfcfce 0 76px,#7085df 0 77px,#8ca7f0 0 78px,#586acd 0 79px,#abc5f9 0 80px,#6c89e8 0 81px,#e1d1ce 0 82px,#d7c4ca 0 83px,#bfcff0 0 84px,#a8b4e8 0 85px,#9db9f9 0 86px,#bdcced 0 87px,#a2bffc 0 88px,#a7c1f6 0 89px,#dcc1c0 0 90px,#cdd0e1 0 91px,#c0d1f1 0 92px,#ecb4a2 0 93px,#cbd1e2 0 94px,#ebc9bb 0 95px,#a1bcf7 0 96px,#96b6fc 0 97px,#c4d0e9 0 98px,#e3bbb3 0 99px,#e7c7be 0 100px,#c3cdeb 0 101px,#dad9dc 0 102px,#d7ccd2 0 103px,#e9b1a1 0 104px,#eec2b0 0 105px,#a9bcf0 0 106px,#9fa7df 0 107px,#e3c5bf 0 108px,#cfcedc 0 109px,#b8cef6 0 110px,#d1d7e4 0 111px,#9fb7f4 0 112px,#cbd2e7 0 113px,#bfc2e1 0 114px,#eebfae 0 115px,#9cb7f7 0 116px,#96a0de 0 117px,#dad8db 0 118px,#cdd1e2 0 119px,#adbeee 0 120px,#919ee0 0 121px,#95b2f6 0 122px,#85a1ef 0 123px,#92a0e2 0 124px,#b4c6f0 0 125px,#9faee8 0 126px,#cdd0e1 0 127px,#d4d7e1 0 128px,#cbcbde 0 129px,#e3d3cc 0 130px,#d9d3d8 0 131px,#b9c7ed 0 132px,#cccede 0 133px,#e8a190 0 134px,#ecc1b2 0 135px,#e3c5c0 0 136px,#dcd7d8 0 137px,#a1b9f4 0 138px,#d5d5df 0 139px,#eebfae 0 140px,#9ab7f8 0 141px,#9ebaf7 0 142px,#d5ced5 0 143px,#b6caf3 0 144px,#cbd0e2 0 145px,#a4b3ea 0 146px,#e1a9a0 0 147px,#efc9b7 0 148px,#efcab9 0 149px,#ddcbcb 0 150px,#c1d2f1 0 151px,#bdcae9 0 152px,#e3cac4 0 153px,#e2d5cf 0 154px,#cecfdf 0 155px,#d6d2db 0 156px,#e1d7d4 0 157px,#df8476 0 158px,#f1bea8 0 159px,#e8ab9f 0 160px,#e7a596 0 161px,#e79b89 0 162px,#df8577 0 163px,#f0ad96 0 164px,#d5d9e2 0 165px,#abc2f3 0 166px,#f2b59e 0 167px,#c1d3f2 0 168px,#d9d9dd 0 169px,#e0c6c4 0 170px,#e69280 0 171px,#f3a387 0 172px,#d9d2d6 0 173px,#edb29e 0 174px,#e2cfcb 0 175px,#b0c0ed 0 176px,#e7cac2 0 177px,#e89784 0 178px,#ecbeaf 0 179px,#cbc4d6 0 180px,#f1c6b3 0 181px,#e0d8d5 0 182px,#eccabc 0 183px,#b2caf8 0 184px,#d1d3e0 0 185px,#e6d0c7 0 186px,#d8d4da 0 187px,#efcab9 0 188px,#b3caf5 0 189px,#dec7c6 0 190px,#e2c8c3 0 191px,#e7cdc2 0 192px,#eec3b2 0 193px,#ecbbac 0 194px,#d6d8df 0 195px,#ecaf9d 0 196px,#d6d7de 0 197px,#aab6e7 0 198px,#cccfe1 0 199px,#ebc0b2 0 200px,#d6cbd1 0 201px,#cccfe1 0 202px,#efcab8 0 203px,#6f6dbd 0 204px,#d5d8e1 0 205px,#e7c8bc 0 206px,#ebb2a0 0 207px,#becdf0 0 208px,#e0d7d5 0 209px,#dbdadc 0 210px,#c9d2e9 0 211px,#e6d0c6 0 212px,#d9ced2 0 213px,#eda690 0 214px,#da968f 0 215px,#bcc3e6 0 216px,#efb6a1 0 217px,#c0d2f3 0 218px,#dfd5d2 0 219px,#ea9781 0 220px,#ddbfbd 0 221px,#dfb4b1 0 222px,#cbd5e8 0 223px,#ecc6b8 0 224px,#f2af96 0 225px,#cbd0e3 0 226px,#e3d4ce 0 227px,#e8b5a6 0 228px,#e3cec7 0 229px,#e69d8d 0 230px,#f4bba3 0 231px,#e06b5c 0 232px,#e8c3b6 0 233px,#d65049 0 234px,#e2d1cc 0 235px,#e97d64 0 236px,#c7bacf 0 237px,#e26f5e 0 238px,#f5bfa8 0 239px,#e78b76 0 240px,#c2cae7 0 241px,#dfd5d3 0 242px,#f4b79e 0 243px,#e3d0c9 0 244px,#ce474f 0 245px,#e17867 0 246px,#c3aec8 0 247px,#ebbaaa 0 248px,#eabfb1 0 249px,#cfbbc7 0 250px,#ed9c84 0 251px,#eac5b7 0 252px,#eabeaf 0 253px,#e7cec3 0 254px,#f3ab90 0 255px,#f0967b 0 256px,#ca343d 0 257px,#f09f86 0 258px,#efc3b1 0 259px,#cdd2e5 0 260px,#c22537 0 261px,#e06755 0 262px,#ebc4b5 0 263px,#bdccef 0 264px,#eec9b7 0 265px)"></div>
<div class="hr" style="top:405.39px;height:5.48px;background:linear-gradient(90deg,#b3cbf7 1px,#9caeec 0 2px,#a3b6ee 0 3px,#bec7e2 0 4px,#cfd0dd 0 5px,#9fbaf5 0 6px,#82a4f9 0 7px,#b1c9f8 0 8px,#8697e2 0 9px,#7191ef 0 10px,#81a0f3 0 11px,#cbd5e7 0 12px,#5e77dc 0 13px,#8ca8f1 0 14px,#a2bbf4 0 15px,#9bbafc 0 16px,#e8bbae 0 17px,#e8c0b4 0 18px,#a7c1f8 0 19px,#bacef3 0 20px,#85a5f6 0 21px,#dcd9db 0 22px,#d7d5dc 0 23px,#8fb1fd 0 24px,#acc6f9 0 25px,#6d8ced 0 26px,#c0c7df 0 27px,#7a92e5 0 28px,#c9c8d9 0 29px,#b8cef7 0 30px,#aac5f9 0 31px,#a5c2fb 0 32px,#9eb4ec 0 33px,#bdc8e9 0 34px,#b5cdf8 0 35px,#9eb6f3 0 36px,#a4c0fa 0 37px,#ccd3e6 0 38px,#b6c4e8 0 39px,#e1c6bf 0 40px,#e7cbc2 0 41px,#dbd8da 0 42px,#c1cded 0 43px,#bfcaeb 0 44px,#b9c3e8 0 45px,#abc5f9 0 46px,#d0d8e6 0 47px,#efb8a4 0 48px,#a8bef3 0 49px,#c9d2e6 0 50px,#d6d4db 0 51px,#c7d4ec 0 52px,#d2d3de 0 53px,#7fa0f6 0 54px,#a6bdf2 0 55px,#c4d1ed 0 56px,#c5c6dc 0 57px,#9bb2f1 0 58px,#c6cde1 0 59px,#a6c2f9 0 60px,#bfcce8 0 61px,#d9d4d8 0 62px,#b2c8f4 0 63px,#9fb0eb 0 64px,#dfb7b4 0 65px,#d78782 0 66px,#dd8f86 0 67px,#c2d0ee 0 68px,#d3d7e2 0 69px,#c45d6c 0 70px,#a1b6f1 0 71px,#d8c3c7 0 72px,#8ba7f1 0 73px,#afc5f3 0 74px,#d1cdda 0 75px,#c6cfe9 0 76px,#ced3e3 0 77px,#9bb8f9 0 78px,#b2caf7 0 79px,#d1d1de 0 80px,#e7bab0 0 81px,#e8bdb1 0 82px,#debdbd 0 83px,#9fb9f7 0 84px,#b5bce3 0 85px,#e5d0c9 0 86px,#95b6fd 0 87px,#d7d4db 0 88px,#c8cee0 0 89px,#dc968d 0 90px,#8ca0e8 0 91px,#cbcadd 0 92px,#a1bffc 0 93px,#ddcdce 0 94px,#b5c6ef 0 95px,#bcd1f4 0 96px,#c5d2ec 0 97px,#b7caf2 0 98px,#e1b3ab 0 99px,#ddd7d7 0 100px,#ec8e75 0 101px,#eda994 0 102px,#e0d5d2 0 103px,#d87d75 0 104px,#dfc0be 0 105px,#abc0f3 0 106px,#8a90d6 0 107px,#bfd0f1 0 108px,#e8b3a6 0 109px,#d8c7cc 0 110px,#ced1e2 0 111px,#cfd5e3 0 112px,#8da8f2 0 113px,#819ef0 0 114px,#eac0b3 0 115px,#c1cfec 0 116px,#abbef0 0 117px,#a3b6f0 0 118px,#98b7fa 0 119px,#93abf0 0 120px,#828cd6 0 121px,#eaa795 0 122px,#cdd4e6 0 123px,#7180d2 0 124px,#b1c7f5 0 125px,#c3cde8 0 126px,#e5cdc5 0 127px,#e4d1ca 0 128px,#b0b7e2 0 129px,#adc6f7 0 130px,#d9d9de 0 131px,#d3d7e2 0 132px,#b2c9f6 0 133px,#a0bdf9 0 134px,#baccf2 0 135px,#e3a093 0 136px,#d4d9e3 0 137px,#93a8ec 0 138px,#dfd7d5 0 139px,#e5cfc8 0 140px,#d7dae0 0 141px,#bccff4 0 142px,#dfada7 0 143px,#b2c9f5 0 144px,#dda6a1 0 145px,#d1ccd7 0 146px,#c8d1e8 0 147px,#cfd0dd 0 148px,#ced7e7 0 149px,#839eec 0 150px,#ebc9bc 0 151px,#e8b6a8 0 152px,#5c76dc 0 153px,#a6c3fb 0 154px,#d8d0d6 0 155px,#9cbbfc 0 156px,#d8d9de 0 157px,#e4bbb3 0 158px,#c7d2e9 0 159px,#e7ccc3 0 160px,#cdcbdb 0 161px,#c9d1e6 0 162px,#b9c0e5 0 163px,#f1bca7 0 164px,#c7d4ed 0 165px,#8ca9f4 0 166px,#e8c3b7 0 167px,#ded7d7 0 168px,#e3b4ab 0 169px,#d56461 0 170px,#c9c5d9 0 171px,#ebbaab 0 172px,#f0b8a3 0 173px,#dac7c7 0 174px,#f3a58a 0 175px,#ebbfaf 0 176px,#dbcacb 0 177px,#eeb29e 0 178px,#efa087 0 179px,#f1c8b5 0 180px,#dbcfd0 0 181px,#e99380 0 182px,#d86159 0 183px,#cfc9d8 0 184px,#ef987e 0 185px,#df6655 0 186px,#dfc0bc 0 187px,#ee9076 0 188px,#e9cec2 0 189px,#d7d3d9 0 190px,#f2a489 0 191px,#eac2b5 0 192px,#e3cbc5 0 193px,#ce595e 0 194px,#d0d1e0 0 195px,#d3c8d1 0 196px,#ce4144 0 197px,#dfd2cf 0 198px,#d2d4e0 0 199px,#d04c50 0 200px,#e59b8c 0 201px,#e4a198 0 202px,#f0a189 0 203px,#b2b2db 0 204px,#e7b1a5 0 205px,#d44d49 0 206px,#b2335a 0 207px,#f2b29b 0 208px,#f5bba2 0 209px,#aebceb 0 210px,#d4d6e1 0 211px,#eac5b8 0 212px,#bfc0df 0 213px,#f4a98d 0 214px,#dbbbb9 0 215px,#cbcce0 0 216px,#e37764 0 217px,#a4bbf2 0 218px,#f3aa90 0 219px,#f1c3ae 0 220px,#e1bab4 0 221px,#f4b399 0 222px,#d4d5df 0 223px,#e5907e 0 224px,#e6d0c8 0 225px,#d7dae0 0 226px,#e6d2ca 0 227px,#cad6ea 0 228px,#e1d2ce 0 229px,#e0cecb 0 230px,#f0c5b3 0 231px,#df6657 0 232px,#cdc3d2 0 233px,#ef9b83 0 234px,#c9c6dc 0 235px,#e7c4b8 0 236px,#d8c4c8 0 237px,#a697cb 0 238px,#f3a589 0 239px,#f4bda6 0 240px,#c9cfe6 0 241px,#9fb4f0 0 242px,#c3ceea 0 243px,#a7b6eb 0 244px,#ebcabc 0 245px,#e17b6a 0 246px,#adc0f0 0 247px,#ddd9da 0 248px,#ecbbab 0 249px,#7d87d3 0 250px,#f4b59c 0 251px,#b2aed9 0 252px,#e2d0ca 0 253px,#dbcdce 0 254px,#e89e8b 0 255px,#ee9176 0 256px,#eda58f 0 257px,#edcbbc 0 258px,#c2c6e2 0 259px,#8fa0e5 0 260px,#f3b9a1 0 261px,#eb8d75 0 262px,#dbcfd1 0 263px,#eaaf9d 0 264px,#d6c6ca 0 265px)"></div>
<div class="hr" style="top:410.37px;height:5.48px;background:linear-gradient(90deg,#83a5f8 1px,#9ab3f4 0 2px,#8aa2ed 0 3px,#a0bcf7 0 4px,#dcbdbc 0 5px,#86a5f4 0 6px,#6a87e6 0 7px,#d0d0db 0 8px,#7f9aec 0 9px,#6380e5 0 10px,#81a1f5 0 11px,#dbd3d6 0 12px,#6e8ae7 0 13px,#b1c9f7 0 14px,#b6c8ee 0 15px,#bccff1 0 16px,#afc8f9 0 17px,#c8d4eb 0 18px,#91b3fc 0 19px,#c8c3d5 0 20px,#6888eb 0 21px,#b9cbef 0 22px,#9eb7f2 0 23px,#84a2f3 0 24px,#bbcef2 0 25px,#6e87e1 0 26px,#a2bcf6 0 27px,#89abfb 0 28px,#d4d7e1 0 29px,#7695ef 0 30px,#bdc9ec 0 31px,#94b0f4 0 32px,#adc7fa 0 33px,#eac8bb 0 34px,#8aa8f5 0 35px,#6a86e6 0 36px,#aec8f9 0 37px,#dad7db 0 38px,#cacbdc 0 39px,#c5d0ea 0 40px,#8da2ea 0 41px,#acc3f6 0 42px,#e7c1b6 0 43px,#d7c6ca 0 44px,#728ce4 0 45px,#a1bffb 0 46px,#d1d1dd 0 47px,#c0c9e8 0 48px,#aec8f9 0 49px,#bdceef 0 50px,#dac6c9 0 51px,#afc9fa 0 52px,#bbcaee 0 53px,#dadade 0 54px,#a3bffa 0 55px,#d7d9df 0 56px,#acc2f4 0 57px,#bcd0f4 0 58px,#c0d0f0 0 59px,#c5d2eb 0 60px,#97b7fd 0 61px,#c4d0ec 0 62px,#e7c8bf 0 63px,#95a2e3 0 64px,#e1c7c3 0 65px,#bfcfee 0 66px,#ebc4b5 0 67px,#c9cee0 0 68px,#cbd3e6 0 69px,#e8ccc2 0 70px,#b9c4e8 0 71px,#a9c3f7 0 72px,#96b4f8 0 73px,#89a7f4 0 74px,#c7d2eb 0 75px,#c8d4eb 0 76px,#9db9f6 0 77px,#aabfee 0 78px,#869eeb 0 79px,#91aef5 0 80px,#93b3fb 0 81px,#e1aaa2 0 82px,#c3d1eb 0 83px,#afc3f2 0 84px,#6470c7 0 85px,#93b2fa 0 86px,#a2bffb 0 87px,#7494f0 0 88px,#9cb5f2 0 89px,#d1b1b8 0 90px,#7d90e0 0 91px,#b6cef9 0 92px,#a7c3fa 0 93px,#bdcff0 0 94px,#b6c0e8 0 95px,#eabcae 0 96px,#d8c2c6 0 97px,#c6d4ee 0 98px,#bcd1f6 0 99px,#ded8d7 0 100px,#dec5c3 0 101px,#d28987 0 102px,#afbeec 0 103px,#dfc6c3 0 104px,#e3b3ab 0 105px,#7e98eb 0 106px,#a1b5ef 0 107px,#99b8fa 0 108px,#ddd3d3 0 109px,#bdcdee 0 110px,#87a6f6 0 111px,#b4c5f0 0 112px,#96b6fd 0 113px,#7790e5 0 114px,#bbccf0 0 115px,#afc8f7 0 116px,#cad3e7 0 117px,#99b8fc 0 118px,#c1cfed 0 119px,#a6bdf4 0 120px,#626fc8 0 121px,#e4cbc4 0 122px,#d6dae1 0 123px,#c3d3f0 0 124px,#7f98ea 0 125px,#96abec 0 126px,#bfcbeb 0 127px,#afb9e7 0 128px,#bcd0f5 0 129px,#7e9df2 0 130px,#bfd0f1 0 131px,#c1d1f0 0 132px,#bccdf0 0 133px,#6e8eee 0 134px,#dcd5d6 0 135px,#e2c1bd 0 136px,#e7cac0 0 137px,#c3d0ec 0 138px,#b9cef5 0 139px,#ded2d2 0 140px,#cdd3e4 0 141px,#b5c5eb 0 142px,#acc3f5 0 143px,#88abfc 0 144px,#ddaba6 0 145px,#9eb1ed 0 146px,#ced1e2 0 147px,#d0c1c9 0 148px,#c4d0ea 0 149px,#a6c1f8 0 150px,#d6d4db 0 151px,#becbea 0 152px,#c5cfe6 0 153px,#dccccc 0 154px,#cacfe5 0 155px,#d7d5db 0 156px,#f0bfac 0 157px,#e38d7c 0 158px,#c4cde9 0 159px,#dac8ca 0 160px,#a0b9f5 0 161px,#edbeae 0 162px,#abc7fa 0 163px,#d5d2da 0 164px,#eec5b4 0 165px,#8f97d9 0 166px,#eeaa97 0 167px,#d9d5d9 0 168px,#edb7a4 0 169px,#e07e6e 0 170px,#e67861 0 171px,#eac6b8 0 172px,#eaa08d 0 173px,#e0c8c4 0 174px,#e3bfb8 0 175px,#aab5e5 0 176px,#b8cef6 0 177px,#d46a66 0 178px,#e18e80 0 179px,#f1ae98 0 180px,#cccfe1 0 181px,#f4c1aa 0 182px,#f1ae95 0 183px,#aec5f4 0 184px,#e3d0cb 0 185px,#f4baa2 0 186px,#e7cec4 0 187px,#decccc 0 188px,#e5b1a6 0 189px,#b0cafa 0 190px,#e7d0c6 0 191px,#e6d3ca 0 192px,#e9ad9c 0 193px,#e5bcb4 0 194px,#e6b8ae 0 195px,#dfd0cc 0 196px,#dfd6d4 0 197px,#bfc7e7 0 198px,#c7d1e8 0 199px,#e68e7c 0 200px,#e8846f 0 201px,#e1d4d1 0 202px,#dcd4d5 0 203px,#7c80cc 0 204px,#edc5b5 0 205px,#e07362 0 206px,#c55562 0 207px,#eabeaf 0 208px,#ef9b81 0 209px,#d9d7db 0 210px,#bbc5e9 0 211px,#f0bba6 0 212px,#abc5f9 0 213px,#decece 0 214px,#d0c1ce 0 215px,#6767b9 0 216px,#f0bda9 0 217px,#d3c9d1 0 218px,#d3cdd6 0 219px,#d9d7db 0 220px,#deb4b3 0 221px,#e8aa9e 0 222px,#a6bff6 0 223px,#e1d8d5 0 224px,#edcabb 0 225px,#e9927d 0 226px,#f2c0ab 0 227px,#d1d0de 0 228px,#f1b9a3 0 229px,#e8c1b6 0 230px,#efa088 0 231px,#f2b59d 0 232px,#8e89cb 0 233px,#e9856e 0 234px,#edbdab 0 235px,#ef9d85 0 236px,#d6c6cc 0 237px,#f19174 0 238px,#ddcdcd 0 239px,#e48775 0 240px,#cdcedf 0 241px,#c4c9e5 0 242px,#f4a285 0 243px,#e0d5d2 0 244px,#f2a88e 0 245px,#ee9075 0 246px,#e6d2c9 0 247px,#efcab9 0 248px,#cbcfe3 0 249px,#b8afd3 0 250px,#c6afc6 0 251px,#d5cbd4 0 252px,#e6baae 0 253px,#eac4b6 0 254px,#efbba8 0 255px,#ee8c71 0 256px,#f3ad92 0 257px,#b5bee7 0 258px,#f0c7b4 0 259px,#c8cde5 0 260px,#e5765f 0 261px,#e67a64 0 262px,#ecb7a5 0 263px,#e0d8d5 0 264px,#e7d2c9 0 265px)"></div>
<div class="hr" style="top:415.35px;height:5.48px;background:linear-gradient(90deg,#d8d6db 1px,#a9b7ea 0 2px,#a9c3f9 0 3px,#8ea6ed 0 4px,#d9a8a5 0 5px,#cbc8d7 0 6px,#8fb1fd 0 7px,#dfd5d3 0 8px,#c2ceec 0 9px,#7d9cf2 0 10px,#7d97eb 0 11px,#d3d3df 0 12px,#626cc5 0 13px,#efc4b2 0 14px,#abc4f7 0 15px,#bacdf1 0 16px,#ceccdb 0 17px,#b7c6ed 0 18px,#a2bbf3 0 19px,#cf898b 0 20px,#d6d9e0 0 21px,#d4d1db 0 22px,#dcd2d4 0 23px,#b0bfec 0 24px,#becdee 0 25px,#98b1f2 0 26px,#dbd2d4 0 27px,#afc2f2 0 28px,#cbd5e8 0 29px,#c8d4ea 0 30px,#c8cee2 0 31px,#8fb0fb 0 32px,#aac5f9 0 33px,#d1d5e1 0 34px,#8babf8 0 35px,#a3bdf6 0 36px,#d9cace 0 37px,#e4c7c0 0 38px,#b0c6f3 0 39px,#c8d3eb 0 40px,#d5d6df 0 41px,#bdc6e8 0 42px,#d4cdd6 0 43px,#d8d5db 0 44px,#7796f0 0 45px,#c6d2ea 0 46px,#decccb 0 47px,#daced1 0 48px,#b3c7f3 0 49px,#cdd5e7 0 50px,#c2cfed 0 51px,#aabdf0 0 52px,#bbccf1 0 53px,#9bb1f0 0 54px,#dcd4d6 0 55px,#e4d5ce 0 56px,#afc2ee 0 57px,#c9d4ea 0 58px,#c0d1f0 0 59px,#b8cdf5 0 60px,#c4d3ed 0 61px,#81a3f8 0 62px,#95aef1 0 63px,#9aa6e3 0 64px,#e5a394 0 65px,#b4cdf9 0 66px,#c3cae6 0 67px,#d4d1da 0 68px,#c2d2ef 0 69px,#c7bdcf 0 70px,#b0bfed 0 71px,#8facf6 0 72px,#6e86e1 0 73px,#c8cee2 0 74px,#abc3f5 0 75px,#ccd2e5 0 76px,#617add 0 77px,#9ab9fc 0 78px,#93b0f5 0 79px,#b0c7f6 0 80px,#d1cdd9 0 81px,#cecfdd 0 82px,#abc4f6 0 83px,#b5c6f0 0 84px,#a1b8f2 0 85px,#a2b8f2 0 86px,#bed0f1 0 87px,#7d99ec 0 88px,#abbcec 0 89px,#dcb7b4 0 90px,#d3d9e3 0 91px,#a7c3fb 0 92px,#aec8fa 0 93px,#d8d1d6 0 94px,#e39586 0 95px,#d7d8df 0 96px,#b9cbef 0 97px,#d0d4e2 0 98px,#b8c2e6 0 99px,#d9d6db 0 100px,#cfd0df 0 101px,#dec2c1 0 102px,#b8cef6 0 103px,#e7c9c0 0 104px,#bcc9eb 0 105px,#5562c5 0 106px,#d6d3db 0 107px,#debebc 0 108px,#bed1f3 0 109px,#adc5f5 0 110px,#a2baf4 0 111px,#c9d5eb 0 112px,#a1b7f1 0 113px,#87a4f2 0 114px,#b0c9f8 0 115px,#cbd4e8 0 116px,#b5c8f2 0 117px,#7b8fe1 0 118px,#c1d0ef 0 119px,#bdceee 0 120px,#8faaf1 0 121px,#e9c6bb 0 122px,#a8c0f6 0 123px,#dcd3d4 0 124px,#6470c7 0 125px,#8298e6 0 126px,#ddd4d4 0 127px,#e1d2ce 0 128px,#b6cef9 0 129px,#d7a9aa 0 130px,#e3ccc5 0 131px,#e9d0c4 0 132px,#e1d7d3 0 133px,#b8cff7 0 134px,#bac9ed 0 135px,#e6b7ad 0 136px,#d0cfdb 0 137px,#919ddf 0 138px,#97a8e8 0 139px,#edc3b4 0 140px,#9fb9f6 0 141px,#cdd5e6 0 142px,#95b5fb 0 143px,#cdbfc9 0 144px,#bac6e6 0 145px,#bcccee 0 146px,#dcd2d3 0 147px,#dca8a2 0 148px,#d3cfd9 0 149px,#b8cff7 0 150px,#c9d6eb 0 151px,#bfc9e5 0 152px,#6f8be8 0 153px,#b6cef8 0 154px,#e9cbc0 0 155px,#b8c3e8 0 156px,#bec8e9 0 157px,#ebc5b7 0 158px,#d0d4e1 0 159px,#dcced0 0 160px,#dabfc1 0 161px,#e6bdb3 0 162px,#e5b3a8 0 163px,#dcd1d2 0 164px,#bdc1e2 0 165px,#b1c4f1 0 166px,#e5bfb5 0 167px,#c5d4ee 0 168px,#e8c6bc 0 169px,#d7716b 0 170px,#e7c8bc 0 171px,#d0d3e2 0 172px,#eaa592 0 173px,#efa992 0 174px,#e8ad9d 0 175px,#c4bbd4 0 176px,#bdcff1 0 177px,#e5afa3 0 178px,#e7baae 0 179px,#c6d0ea 0 180px,#f0bfac 0 181px,#eea18b 0 182px,#ec9279 0 183px,#bcc9eb 0 184px,#ccd7e9 0 185px,#f2c6b2 0 186px,#ed8b70 0 187px,#ded4d2 0 188px,#e4c3bc 0 189px,#d7d0d6 0 190px,#f2b9a2 0 191px,#d8cfd3 0 192px,#dfd0ce 0 193px,#f3ad93 0 194px,#e5c7c0 0 195px,#e2c3bd 0 196px,#f4ac91 0 197px,#a1afe9 0 198px,#cec6d3 0 199px,#e28c7c 0 200px,#cfcddb 0 201px,#d35855 0 202px,#f3ae95 0 203px,#d4d1db 0 204px,#e59788 0 205px,#edab97 0 206px,#cf7071 0 207px,#eda690 0 208px,#f4b49b 0 209px,#c4d4ef 0 210px,#cfc4d1 0 211px,#e78d78 0 212px,#f1c2ad 0 213px,#eebba9 0 214px,#dbc5c6 0 215px,#e5d1ca 0 216px,#eda18a 0 217px,#dcd7d8 0 218px,#e97d64 0 219px,#ef9378 0 220px,#d3bbc3 0 221px,#e49084 0 222px,#efb49f 0 223px,#ddd9d9 0 224px,#f3b9a1 0 225px,#e8baad 0 226px,#f4ac91 0 227px,#d3d2dd 0 228px,#f1ad96 0 229px,#e1cfcb 0 230px,#f3b299 0 231px,#f0a28a 0 232px,#b6a5ca 0 233px,#f1b39c 0 234px,#ddc3c1 0 235px,#ec9a85 0 236px,#e3c4bd 0 237px,#e8ad9f 0 238px,#d9d4d9 0 239px,#dad1d3 0 240px,#c4d0eb 0 241px,#e3c3bd 0 242px,#ed876c 0 243px,#dec9c6 0 244px,#f3ac92 0 245px,#c73644 0 246px,#7a72c1 0 247px,#db685d 0 248px,#cacfe4 0 249px,#ecaf9d 0 250px,#decac8 0 251px,#d3c3cc 0 252px,#e4bcb1 0 253px,#e4735d 0 254px,#c03147 0 255px,#bac3e6 0 256px,#d5635f 0 257px,#e78f7c 0 258px,#dcd5d7 0 259px,#b1bbe7 0 260px,#eb8d75 0 261px,#ebb7a8 0 262px,#ebcabc 0 263px,#d9dade 0 264px,#f1c5b1 0 265px)"></div>
<div class="hr" style="top:420.33px;height:5.48px;background:linear-gradient(90deg,#85a3f1 1px,#83a2f4 0 2px,#6785e8 0 3px,#5068d5 0 4px,#a1b6ec 0 5px,#5975e0 0 6px,#87a9fa 0 7px,#9ab6f7 0 8px,#5863c2 0 9px,#9cbafb 0 10px,#4f60c6 0 11px,#8ca8f2 0 12px,#4f64cd 0 13px,#afc3f1 0 14px,#5068d5 0 15px,#a4c0f9 0 16px,#d6d4dc 0 17px,#99b7fa 0 18px,#87a5f3 0 19px,#c9a1aa 0 20px,#6e8eee 0 21px,#c9d2e6 0 22px,#c2c2d7 0 23px,#a5bff7 0 24px,#566ed6 0 25px,#617fe6 0 26px,#97b3f6 0 27px,#4a5fcd 0 28px,#7897f0 0 29px,#6582e6 0 30px,#b3ccf8 0 31px,#647cdb 0 32px,#6886e8 0 33px,#b8c8ed 0 34px,#4051c3 0 35px,#6f82d8 0 36px,#93aef2 0 37px,#c9d2e6 0 38px,#d5bec3 0 39px,#dcd9da 0 40px,#cfcfdc 0 41px,#86a5f5 0 42px,#ddd8d9 0 43px,#8995de 0 44px,#7d9df3 0 45px,#7495f2 0 46px,#cdd2e2 0 47px,#e7c6bc 0 48px,#d1d5e0 0 49px,#d0898b 0 50px,#bfd0f0 0 51px,#6985e5 0 52px,#cfd7e6 0 53px,#90aef7 0 54px,#6b86e4 0 55px,#94aff3 0 56px,#a7bff4 0 57px,#6e7ed6 0 58px,#a6c2fb 0 59px,#96b4f9 0 60px,#4d60ca 0 61px,#93aef3 0 62px,#b5ccf7 0 63px,#6978d0 0 64px,#d2c4cb 0 65px,#aac2f3 0 66px,#c8cbe2 0 67px,#db958e 0 68px,#8baaf5 0 69px,#e6b6ab 0 70px,#ced4e5 0 71px,#cecfdb 0 72px,#7c84d0 0 73px,#acc1f2 0 74px,#f1ab91 0 75px,#c9d4e9 0 76px,#d5d8e1 0 77px,#a7c2fa 0 78px,#b0c4f2 0 79px,#e5c2bb 0 80px,#ced2e2 0 81px,#d3cfd8 0 82px,#baccf0 0 83px,#bfc8e6 0 84px,#95a5e6 0 85px,#6c7bd3 0 86px,#9ab4f3 0 87px,#7999f2 0 88px,#beceee 0 89px,#cd9fa5 0 90px,#acc6f8 0 91px,#94b1f6 0 92px,#afc8f7 0 93px,#d0c0cb 0 94px,#cad0e5 0 95px,#99b7fa 0 96px,#d6d2d8 0 97px,#afc5f4 0 98px,#d78883 0 99px,#edbcaa 0 100px,#8292e2 0 101px,#afc0f1 0 102px,#d4d7e1 0 103px,#e7cdc3 0 104px,#94b4fa 0 105px,#85a1f0 0 106px,#99b4f5 0 107px,#85a5f5 0 108px,#b8cef6 0 109px,#96b6fc 0 110px,#b0c9f8 0 111px,#bccff2 0 112px,#667cd8 0 113px,#9dafec 0 114px,#b0c1ee 0 115px,#bdcaeb 0 116px,#bdd2f5 0 117px,#7182d8 0 118px,#c4d2ed 0 119px,#b9ccf2 0 120px,#9dbaf9 0 121px,#bdcbed 0 122px,#96b5fa 0 123px,#d6d4dc 0 124px,#c3d0ed 0 125px,#b2c9f7 0 126px,#c5ceea 0 127px,#f0c3b0 0 128px,#95b5fb 0 129px,#a8c4fa 0 130px,#c6cfe8 0 131px,#efc1af 0 132px,#ecab96 0 133px,#e1a89e 0 134px,#c3d0ed 0 135px,#dabdbd 0 136px,#b9c4ea 0 137px,#97acee 0 138px,#ccd4e5 0 139px,#ea9f8c 0 140px,#89a9f9 0 141px,#607ce3 0 142px,#9fbdfb 0 143px,#bccff1 0 144px,#bdc3dd 0 145px,#a0b3ef 0 146px,#eccdbe 0 147px,#e3aea5 0 148px,#d0d4e3 0 149px,#d0d7e6 0 150px,#abc5f8 0 151px,#c4d3ef 0 152px,#d1d8e6 0 153px,#e3d1cc 0 154px,#eacbbf 0 155px,#d9d9de 0 156px,#bdc3e4 0 157px,#dac5c7 0 158px,#f19c80 0 159px,#e4aca0 0 160px,#e5ccc4 0 161px,#e2c8c3 0 162px,#c7c4d7 0 163px,#bbc5e8 0 164px,#ded7d7 0 165px,#b0c7f6 0 166px,#ecc3b4 0 167px,#8bacfa 0 168px,#d8cacf 0 169px,#d68e8c 0 170px,#e9b7a9 0 171px,#eec2b0 0 172px,#d34a47 0 173px,#ddb0ae 0 174px,#ed8d73 0 175px,#c1c7e5 0 176px,#f1bca7 0 177px,#d1565a 0 178px,#c33246 0 179px,#f2b7a0 0 180px,#edab97 0 181px,#e4b5ad 0 182px,#f5bca3 0 183px,#f5baa2 0 184px,#eda088 0 185px,#f19e84 0 186px,#ebb4a4 0 187px,#f0b19a 0 188px,#ba2844 0 189px,#e5a89b 0 190px,#c5394b 0 191px,#efac98 0 192px,#dbd5d8 0 193px,#c83e4c 0 194px,#de695a 0 195px,#f1a990 0 196px,#ef9075 0 197px,#dbc6c7 0 198px,#eb8c74 0 199px,#f19c81 0 200px,#f0af99 0 201px,#d86a62 0 202px,#cccadc 0 203px,#eabdae 0 204px,#d35552 0 205px,#bc223d 0 206px,#ba465e 0 207px,#d3c0c7 0 208px,#d7615c 0 209px,#e8cfc4 0 210px,#a0ace5 0 211px,#f3b59d 0 212px,#f4b9a0 0 213px,#d65550 0 214px,#e1bbb6 0 215px,#e3c5bd 0 216px,#e2735f 0 217px,#becced 0 218px,#e36e58 0 219px,#f4a589 0 220px,#d9babe 0 221px,#e9a396 0 222px,#efc7b5 0 223px,#efb39e 0 224px,#f2a489 0 225px,#edc8b8 0 226px,#e26e59 0 227px,#b6c1e9 0 228px,#e3d4ce 0 229px,#edc3b3 0 230px,#f1c6b3 0 231px,#ba112c 0 232px,#d2adb7 0 233px,#ef8e73 0 234px,#ee9e89 0 235px,#ea7f66 0 236px,#e67e6e 0 237px,#e78c7d 0 238px,#e3725f 0 239px,#d35858 0 240px,#e2d4ce 0 241px,#eac5b6 0 242px,#f2b7a0 0 243px,#e3c0b9 0 244px,#e9846d 0 245px,#d44e4c 0 246px,#ddb2b1 0 247px,#e88973 0 248px,#e9a593 0 249px,#aba8d9 0 250px,#bfbddd 0 251px,#e5c5ba 0 252px,#f5af94 0 253px,#e4826e 0 254px,#dd6859 0 255px,#c3283a 0 256px,#c22537 0 257px,#ee8d72 0 258px,#eea48d 0 259px,#d6d1d8 0 260px,#e5755f 0 261px,#e37c6a 0 262px,#f2b39c 0 263px,#f2baa4 0 264px,#eb9782 0 265px)"></div>
<div class="hr" style="top:425.31px;height:5.48px;background:linear-gradient(90deg,#5e7be3 1px,#87a7f6 0 2px,#6f8deb 0 3px,#b1c8f5 0 4px,#81a2f7 0 5px,#7594ee 0 6px,#475ccc 0 7px,#b9cdf2 0 8px,#8aaaf8 0 9px,#6c8def 0 10px,#5665c7 0 11px,#84a4f5 0 12px,#627cdf 0 13px,#99b0f0 0 14px,#5873dd 0 15px,#b2cbf8 0 16px,#afc7f6 0 17px,#9cb9f9 0 18px,#a2b5ec 0 19px,#c9bccb 0 20px,#80a2f7 0 21px,#9db6f1 0 22px,#9fb7f1 0 23px,#d5d0d8 0 24px,#baccf0 0 25px,#94b0f3 0 26px,#9cb9f8 0 27px,#82a3f6 0 28px,#a5c0f8 0 29px,#a7c1f6 0 30px,#6d88e4 0 31px,#85a6f8 0 32px,#7696f1 0 33px,#c7d0e6 0 34px,#8aa9f5 0 35px,#7086dc 0 36px,#b6cef8 0 37px,#cad5ea 0 38px,#8faff9 0 39px,#edcabb 0 40px,#dcc9ca 0 41px,#acbff0 0 42px,#ccccdf 0 43px,#becdee 0 44px,#8aabfa 0 45px,#99aff1 0 46px,#e2cbc8 0 47px,#e2d6d1 0 48px,#95abee 0 49px,#b1bee5 0 50px,#c5d3ec 0 51px,#a6c2fb 0 52px,#758de2 0 53px,#8da7f1 0 54px,#7a97ef 0 55px,#dbd4d6 0 56px,#bfc4db 0 57px,#b6cef9 0 58px,#95b6fd 0 59px,#ddbcbc 0 60px,#8cacf9 0 61px,#d6babf 0 62px,#e0c0bd 0 63px,#717ed0 0 64px,#dfcecb 0 65px,#b5c3e8 0 66px,#c9d3e7 0 67px,#cecddb 0 68px,#7090ee 0 69px,#c2cee9 0 70px,#c7cbe2 0 71px,#97b6f9 0 72px,#778fe4 0 73px,#bacdf3 0 74px,#b7ccf5 0 75px,#f1c6b3 0 76px,#d6c4c9 0 77px,#bfcbe7 0 78px,#c0d2f2 0 79px,#7692ea 0 80px,#d4d7e1 0 81px,#e9aa99 0 82px,#95b5fb 0 83px,#aac3f7 0 84px,#a2b8f1 0 85px,#aac5fa 0 86px,#abc6fa 0 87px,#5d76dc 0 88px,#6f8ae6 0 89px,#82a1f3 0 90px,#adc6f8 0 91px,#b8cdf5 0 92px,#d4d9e3 0 93px,#c4d2ed 0 94px,#e7d1c7 0 95px,#abc6fb 0 96px,#adc8fa 0 97px,#809def 0 98px,#e3bab2 0 99px,#e4cdc7 0 100px,#e8cabf 0 101px,#afc0ed 0 102px,#e2c8c4 0 103px,#d9c4c8 0 104px,#d4ced6 0 105px,#99b3f4 0 106px,#d3d2dd 0 107px,#d4c2c7 0 108px,#a8c2f7 0 109px,#86a6f7 0 110px,#c8d2e7 0 111px,#a5bff7 0 112px,#95b4fb 0 113px,#d4d4de 0 114px,#a8b9ed 0 115px,#b9ccf2 0 116px,#a0bbf7 0 117px,#89a8f7 0 118px,#9db3ee 0 119px,#a2b7f2 0 120px,#8da0e6 0 121px,#dacccd 0 122px,#bdcff1 0 123px,#cdd3e6 0 124px,#93aef4 0 125px,#d1d8e5 0 126px,#7a96ec 0 127px,#c3cfec 0 128px,#c0ceee 0 129px,#c8d4ea 0 130px,#b3c3ee 0 131px,#dad8dc 0 132px,#dfaca4 0 133px,#829fef 0 134px,#bcc6ea 0 135px,#d7d3d9 0 136px,#d6dae2 0 137px,#c7d5ed 0 138px,#7491eb 0 139px,#deb6b3 0 140px,#a7c3fa 0 141px,#8fb0fb 0 142px,#7286dc 0 143px,#7898f1 0 144px,#cac3d3 0 145px,#6d87e2 0 146px,#dcd5d7 0 147px,#c2cee8 0 148px,#c7cfe8 0 149px,#b8cef5 0 150px,#d2d8e4 0 151px,#c6c1d3 0 152px,#7c9cf2 0 153px,#6580e2 0 154px,#b3c4ef 0 155px,#c3d1ed 0 156px,#878ed7 0 157px,#d3d0da 0 158px,#a8baee 0 159px,#e5a395 0 160px,#d2d6e2 0 161px,#c9d4e8 0 162px,#adc4f4 0 163px,#c2d3f0 0 164px,#bbccf0 0 165px,#c2d2f0 0 166px,#b9bade 0 167px,#c3d2ed 0 168px,#e3b8af 0 169px,#c1596b 0 170px,#f0bca8 0 171px,#e3d3cc 0 172px,#f5b297 0 173px,#d4afb7 0 174px,#e68874 0 175px,#d5d0d8 0 176px,#b0bdea 0 177px,#c03148 0 178px,#e17663 0 179px,#e1d8d5 0 180px,#f1b49d 0 181px,#c93842 0 182px,#d14848 0 183px,#e3d1cb 0 184px,#f0c8b5 0 185px,#f3ac92 0 186px,#e4c8c0 0 187px,#f3af95 0 188px,#e9c5b9 0 189px,#cdd5e7 0 190px,#f3b59c 0 191px,#f1a88e 0 192px,#f5b298 0 193px,#e67e69 0 194px,#e8cfc5 0 195px,#eeac97 0 196px,#e3b2ac 0 197px,#cac5d8 0 198px,#cccfe2 0 199px,#db7a70 0 200px,#ebb2a2 0 201px,#f1a68c 0 202px,#d7c4c8 0 203px,#eab9a9 0 204px,#f3a489 0 205px,#bf374c 0 206px,#b53557 0 207px,#d9d3d8 0 208px,#d96059 0 209px,#e8a18f 0 210px,#e4d5ce 0 211px,#e77b64 0 212px,#efbba6 0 213px,#f3c2ac 0 214px,#f3b39b 0 215px,#c5bdd5 0 216px,#cc3e45 0 217px,#c1c2df 0 218px,#f19c7f 0 219px,#f2aa90 0 220px,#ebb3a4 0 221px,#bc243e 0 222px,#dec6c4 0 223px,#cf5c60 0 224px,#dc685d 0 225px,#de7b6d 0 226px,#eebfad 0 227px,#e2ccc5 0 228px,#c9cadf 0 229px,#e5c2ba 0 230px,#f2a88e 0 231px,#b50727 0 232px,#c2adc6 0 233px,#e77963 0 234px,#d8bfc1 0 235px,#ddbcba 0 236px,#bfb5d4 0 237px,#e27163 0 238px,#ee9176 0 239px,#e37c68 0 240px,#d3bdc5 0 241px,#eaaa98 0 242px,#efc7b5 0 243px,#ecc8b9 0 244px,#ed8c72 0 245px,#cf4f52 0 246px,#c7bfd6 0 247px,#e9b1a1 0 248px,#e1a297 0 249px,#d6aeb4 0 250px,#e4c6bd 0 251px,#dbbdbe 0 252px,#ddc0bf 0 253px,#eebfad 0 254px,#e88068 0 255px,#e47762 0 256px,#e67963 0 257px,#ebb4a4 0 258px,#f3ac92 0 259px,#8b9ce2 0 260px,#e57762 0 261px,#ea8870 0 262px,#e4ccc3 0 263px,#f09479 0 264px,#f2a084 0 265px)"></div>
<div class="hr" style="top:430.29px;height:5.48px;background:linear-gradient(90deg,#93b1f8 1px,#9db7f4 0 2px,#657edd 0 3px,#475bca 0 4px,#92adf1 0 5px,#6c8ae9 0 6px,#4053c6 0 7px,#abc6f9 0 8px,#4d63ce 0 9px,#7592ec 0 10px,#4f5fc6 0 11px,#7894ea 0 12px,#4356c6 0 13px,#ddcccb 0 14px,#5972db 0 15px,#6d8ded 0 16px,#9eb6f3 0 17px,#93b3fa 0 18px,#6a89eb 0 19px,#c5cade 0 20px,#6e8deb 0 21px,#92b3fc 0 22px,#adbfeb 0 23px,#a8c3f9 0 24px,#a5c0f8 0 25px,#495ecb 0 26px,#bccae9 0 27px,#6275d3 0 28px,#7192f0 0 29px,#4d65d2 0 30px,#81a2f7 0 31px,#7c9cf3 0 32px,#b4c6ef 0 33px,#dcd7d8 0 34px,#7392ee 0 35px,#80a1f6 0 36px,#c6bcce 0 37px,#9ab8f9 0 38px,#cccfdf 0 39px,#bfd0f1 0 40px,#bfc8e4 0 41px,#b2c8f4 0 42px,#b1bfea 0 43px,#b5c6ec 0 44px,#7692ea 0 45px,#bbc9ea 0 46px,#dcc1c2 0 47px,#c7d3eb 0 48px,#97b3f7 0 49px,#acc7fa 0 50px,#b7cef6 0 51px,#99b7fb 0 52px,#acc1f2 0 53px,#a1bdf8 0 54px,#a9c4f9 0 55px,#d6cbd2 0 56px,#7495f2 0 57px,#83a6f9 0 58px,#88a8f9 0 59px,#a4c0f9 0 60px,#9fbcf9 0 61px,#aac4f8 0 62px,#c4bbcd 0 63px,#94b3fa 0 64px,#e1a99e 0 65px,#dbbdbc 0 66px,#b7c6eb 0 67px,#ddcbcb 0 68px,#9fbdfb 0 69px,#d6cdd5 0 70px,#d5d7e0 0 71px,#a8c2f7 0 72px,#7690e7 0 73px,#8fabf3 0 74px,#bdcaec 0 75px,#dbd0d2 0 76px,#adc5f6 0 77px,#cdc2d0 0 78px,#8395e3 0 79px,#abc2f4 0 80px,#ded5d4 0 81px,#ecad9a 0 82px,#d4c7cf 0 83px,#abc6fa 0 84px,#dfcbc9 0 85px,#a8c3f9 0 86px,#99aeee 0 87px,#96b6fc 0 88px,#708fec 0 89px,#99b3f2 0 90px,#c5d1ec 0 91px,#b4c8f2 0 92px,#d6ced5 0 93px,#ced7e8 0 94px,#bbcef2 0 95px,#d0d4e2 0 96px,#a5b9eb 0 97px,#819dee 0 98px,#d3b8bc 0 99px,#e5b7ad 0 100px,#d1d4e2 0 101px,#8eacf8 0 102px,#e8b1a3 0 103px,#d0cddb 0 104px,#87a7f7 0 105px,#96b5fb 0 106px,#707dcf 0 107px,#a6bdf2 0 108px,#b8ccf2 0 109px,#a1bdf8 0 110px,#7b85d5 0 111px,#9cb9f8 0 112px,#7e9aec 0 113px,#697bd4 0 114px,#9fb8f4 0 115px,#82a2f5 0 116px,#85a6f7 0 117px,#667ad6 0 118px,#82a1f3 0 119px,#8da9f3 0 120px,#b4c7f1 0 121px,#bdcae9 0 122px,#cfd1df 0 123px,#cad4e9 0 124px,#b2caf7 0 125px,#ced6e7 0 126px,#acc1f2 0 127px,#e3d0ca 0 128px,#ced1e1 0 129px,#decccb 0 130px,#e0d3d1 0 131px,#d0d2e1 0 132px,#e4c5be 0 133px,#90b0fa 0 134px,#bacef3 0 135px,#c1cfec 0 136px,#829eee 0 137px,#b9c7ed 0 138px,#b8cdf4 0 139px,#e6c7bf 0 140px,#9abafc 0 141px,#87a6f6 0 142px,#90aff8 0 143px,#a4b8ed 0 144px,#dcbab8 0 145px,#89a3ed 0 146px,#d4ccd4 0 147px,#cfd1dd 0 148px,#e9ad9c 0 149px,#dcd2d4 0 150px,#d3d7e2 0 151px,#e3beb8 0 152px,#7592eb 0 153px,#e5cdc4 0 154px,#e9cdc1 0 155px,#dbced1 0 156px,#6f7dd1 0 157px,#e5bab0 0 158px,#d2d4e1 0 159px,#edcbbc 0 160px,#e7d2c9 0 161px,#d9cace 0 162px,#b7cdf5 0 163px,#d1d8e6 0 164px,#a7bdf2 0 165px,#acc5f7 0 166px,#d8cbcf 0 167px,#cdd5e5 0 168px,#dcc0c0 0 169px,#dd8b80 0 170px,#e8afa4 0 171px,#f3baa2 0 172px,#c5c0d7 0 173px,#cdc2d1 0 174px,#c5cee8 0 175px,#7c89da 0 176px,#abbff1 0 177px,#d05a5c 0 178px,#ecae9a 0 179px,#d7d8df 0 180px,#ebb4a3 0 181px,#f0bba6 0 182px,#f0b19a 0 183px,#c2d1f0 0 184px,#e8cac0 0 185px,#d6d6de 0 186px,#dcd5d7 0 187px,#d7d6dc 0 188px,#d8d6db 0 189px,#ced1de 0 190px,#bc3f59 0 191px,#c5d4ee 0 192px,#d98a84 0 193px,#e59c8b 0 194px,#c2d1ed 0 195px,#d2ceda 0 196px,#ea917a 0 197px,#c3c3dd 0 198px,#cdd0df 0 199px,#ebb2a1 0 200px,#edac97 0 201px,#c03549 0 202px,#debfbc 0 203px,#ecb7a5 0 204px,#d9b2b5 0 205px,#f09f86 0 206px,#b94360 0 207px,#d0cddb 0 208px,#e9c7bb 0 209px,#d5d3dd 0 210px,#f4b398 0 211px,#f4a68a 0 212px,#efc0ad 0 213px,#ef8f73 0 214px,#dbbebe 0 215px,#d5b5bb 0 216px,#e3ada5 0 217px,#a0b0e9 0 218px,#e06551 0 219px,#f1a389 0 220px,#bcacce 0 221px,#e8a598 0 222px,#edc0af 0 223px,#eca28c 0 224px,#cf4549 0 225px,#edc0af 0 226px,#f19275 0 227px,#e7c7bc 0 228px,#edc0af 0 229px,#d26a67 0 230px,#f5bfa7 0 231px,#d44d4a 0 232px,#d9c0c4 0 233px,#e26e5c 0 234px,#f29f84 0 235px,#e47768 0 236px,#e8a295 0 237px,#c8a9bd 0 238px,#f4a588 0 239px,#e98d77 0 240px,#d3c4cc 0 241px,#f4c0a9 0 242px,#e5c5bb 0 243px,#e0c6c0 0 244px,#e58d7a 0 245px,#e6c5b9 0 246px,#d5c7ce 0 247px,#e58a77 0 248px,#eaccbf 0 249px,#d8adb0 0 250px,#ee9d86 0 251px,#c3acc5 0 252px,#df6554 0 253px,#f4b399 0 254px,#da584c 0 255px,#ec9b87 0 256px,#e67a67 0 257px,#dacfd3 0 258px,#f2ac93 0 259px,#b2bfeb 0 260px,#e87f6d 0 261px,#f2b6a0 0 262px,#e98b79 0 263px,#e8c6ba 0 264px,#eaccbf 0 265px)"></div>
<div class="hr" style="top:435.27px;height:5.48px;background:linear-gradient(90deg,#5874df 1px,#97b3f5 0 2px,#6482e7 0 3px,#c5cce2 0 4px,#a8baea 0 5px,#8ca9f3 0 6px,#5c76dd 0 7px,#5f77d9 0 8px,#b4cbf6 0 9px,#5f78dc 0 10px,#89a8f5 0 11px,#84a5f6 0 12px,#829eee 0 13px,#95adef 0 14px,#86a7f7 0 15px,#556dd6 0 16px,#aec7f7 0 17px,#c5cfe6 0 18px,#9cb5f1 0 19px,#d7b4b6 0 20px,#bbccee 0 21px,#cacddf 0 22px,#8daaf3 0 23px,#9eb8f4 0 24px,#85a7f9 0 25px,#5c79e2 0 26px,#b1c1e9 0 27px,#6a88e9 0 28px,#82a4f9 0 29px,#6e8dec 0 30px,#b2caf7 0 31px,#6074d3 0 32px,#9db8f5 0 33px,#dbc5c4 0 34px,#6f8eec 0 35px,#6478d4 0 36px,#b9d0f8 0 37px,#89a6f4 0 38px,#9fb8f4 0 39px,#bcccf0 0 40px,#d7d0d5 0 41px,#c0caea 0 42px,#c7d1e8 0 43px,#92b0f6 0 44px,#6d8bea 0 45px,#8aa8f4 0 46px,#bac8ea 0 47px,#bbcdf2 0 48px,#586fd6 0 49px,#a7bbed 0 50px,#bdd0f2 0 51px,#b7caf1 0 52px,#c6d3ed 0 53px,#9ab7f8 0 54px,#abbaec 0 55px,#99b8fb 0 56px,#b7c8ed 0 57px,#dbd5d7 0 58px,#95b5fc 0 59px,#708eeb 0 60px,#a6bef3 0 61px,#7c9df5 0 62px,#667cdc 0 63px,#99b3f5 0 64px,#dd9187 0 65px,#c7c5d6 0 66px,#b1c7f3 0 67px,#c9d3e7 0 68px,#c8bbca 0 69px,#ddd3d4 0 70px,#bed0f0 0 71px,#9cb9fa 0 72px,#7f9bee 0 73px,#92aef4 0 74px,#a7bef4 0 75px,#d8d5db 0 76px,#bccaed 0 77px,#acc0f0 0 78px,#7894eb 0 79px,#9ebbfa 0 80px,#93a7ea 0 81px,#de7d6f 0 82px,#91b2fc 0 83px,#b1c7f6 0 84px,#c2d3f1 0 85px,#bfd2f2 0 86px,#aac3f8 0 87px,#b3c6f2 0 88px,#7fa0f5 0 89px,#b0c8f7 0 90px,#91b1fb 0 91px,#cdd7e9 0 92px,#9dbafa 0 93px,#b8cdf5 0 94px,#bec4e3 0 95px,#e1c9c5 0 96px,#9fbdfb 0 97px,#adc2f0 0 98px,#98b1f1 0 99px,#dfd4d2 0 100px,#d2cbd7 0 101px,#b5c9f4 0 102px,#d6d5dc 0 103px,#d8c5c7 0 104px,#baccf0 0 105px,#99b8fb 0 106px,#9599d7 0 107px,#bec5e6 0 108px,#c3d4f0 0 109px,#a6c0f7 0 110px,#7081d4 0 111px,#b2cbf9 0 112px,#5a6dce 0 113px,#9db5f2 0 114px,#9ba5e0 0 115px,#8facf5 0 116px,#b0cafa 0 117px,#7a99f0 0 118px,#84a5f7 0 119px,#bbcbed 0 120px,#8aa5f1 0 121px,#d6bdc1 0 122px,#b6c5ec 0 123px,#aebdec 0 124px,#cad2e3 0 125px,#c4d2ee 0 126px,#b5caf5 0 127px,#c9cbe1 0 128px,#b2c7f4 0 129px,#e2c9c6 0 130px,#afbbe8 0 131px,#e4d1c9 0 132px,#ced7e7 0 133px,#8daffc 0 134px,#ced5e6 0 135px,#a5bef7 0 136px,#afc6f5 0 137px,#c1d3f2 0 138px,#96b1f3 0 139px,#d8b7b9 0 140px,#a4bef7 0 141px,#aec6f5 0 142px,#b9cff6 0 143px,#8aa7f1 0 144px,#d59f9e 0 145px,#899de8 0 146px,#b6cbf3 0 147px,#d7abaa 0 148px,#eca793 0 149px,#b9cef5 0 150px,#a2bdf7 0 151px,#dac7c9 0 152px,#cad0e2 0 153px,#ced5e4 0 154px,#cfd2e2 0 155px,#dbd6d9 0 156px,#5a6dce 0 157px,#d7d3da 0 158px,#e5c4ba 0 159px,#d2d1dc 0 160px,#eca48f 0 161px,#d0d8e6 0 162px,#c1c7e5 0 163px,#f09f85 0 164px,#ebcdbf 0 165px,#dad8db 0 166px,#bec9eb 0 167px,#b4c9f3 0 168px,#93b0f6 0 169px,#b14864 0 170px,#e9c8bc 0 171px,#dedad9 0 172px,#da6a62 0 173px,#ee9279 0 174px,#e67c66 0 175px,#cbc8dc 0 176px,#d6cfd7 0 177px,#bb3956 0 178px,#cdd4e6 0 179px,#cdc3d2 0 180px,#df887c 0 181px,#e89a8c 0 182px,#c43447 0 183px,#edcaba 0 184px,#e9cec3 0 185px,#f19c81 0 186px,#eac1b2 0 187px,#bc4159 0 188px,#d0d6e4 0 189px,#e2c5c0 0 190px,#d86b62 0 191px,#edc2b2 0 192px,#d86b65 0 193px,#c1354b 0 194px,#f1c0ab 0 195px,#f3c5af 0 196px,#e4cbc2 0 197px,#c9bed1 0 198px,#dc665b 0 199px,#d14c50 0 200px,#e99a85 0 201px,#e17769 0 202px,#df675a 0 203px,#e4b3a9 0 204px,#ddb3b2 0 205px,#ea8168 0 206px,#bd3954 0 207px,#ecab99 0 208px,#e57c68 0 209px,#dcdbdc 0 210px,#f0c2ae 0 211px,#f1c7b4 0 212px,#e3d3ce 0 213px,#ec967f 0 214px,#efc1ae 0 215px,#f09073 0 216px,#ea9483 0 217px,#686cbf 0 218px,#f4b298 0 219px,#f0bfaa 0 220px,#bfb2d2 0 221px,#e99986 0 222px,#d8d5db 0 223px,#eec1af 0 224px,#eb8a71 0 225px,#f1ab91 0 226px,#eba999 0 227px,#e6d1c8 0 228px,#c6c8e0 0 229px,#e8937f 0 230px,#ef8e73 0 231px,#dd5f50 0 232px,#9f9cd5 0 233px,#ed8e77 0 234px,#e8afa3 0 235px,#e67e6e 0 236px,#e8ab9d 0 237px,#e99586 0 238px,#efc1ae 0 239px,#bf2f46 0 240px,#9b9dd7 0 241px,#e5ccc4 0 242px,#f3b097 0 243px,#f5bba3 0 244px,#f4bca4 0 245px,#d85952 0 246px,#f1c4b0 0 247px,#f5b399 0 248px,#eeb09b 0 249px,#daa7a8 0 250px,#f1a78f 0 251px,#c3bbd5 0 252px,#f1b099 0 253px,#e3c5bc 0 254px,#d65954 0 255px,#e98067 0 256px,#cc4951 0 257px,#e6b6ab 0 258px,#f4b399 0 259px,#8a99e1 0 260px,#ca353b 0 261px,#de6252 0 262px,#ef9c84 0 263px,#ebccbe 0 264px,#ee9b82 0 265px)"></div>
<div class="hr" style="top:440.25px;height:5.48px;background:linear-gradient(90deg,#99b8fb 1px,#92aff6 0 2px,#afc7f8 0 3px,#b7cbf2 0 4px,#e2c0bb 0 5px,#c0cae5 0 6px,#b2caf7 0 7px,#b6cdf6 0 8px,#7087e0 0 9px,#afc3f0 0 10px,#525bbe 0 11px,#a8c2f7 0 12px,#5264cc 0 13px,#c9cfe5 0 14px,#c4cfe8 0 15px,#a0bdfb 0 16px,#ddcbcb 0 17px,#a4bdf6 0 18px,#a8beef 0 19px,#bbcaeb 0 20px,#6682e4 0 21px,#e6c7bf 0 22px,#dcbab8 0 23px,#c5c6d9 0 24px,#ddd1d2 0 25px,#87a2f1 0 26px,#d5cad1 0 27px,#8aacfc 0 28px,#8daaf4 0 29px,#94b3fa 0 30px,#ced6e7 0 31px,#adc2f3 0 32px,#6983e1 0 33px,#e3c5bf 0 34px,#9dbbfa 0 35px,#98b8fd 0 36px,#8fb0fb 0 37px,#c6d4ed 0 38px,#b4caf5 0 39px,#c8d1e9 0 40px,#eb9e8a 0 41px,#a1b8f4 0 42px,#d3d0db 0 43px,#d1d5e2 0 44px,#9fb3ef 0 45px,#cad4e8 0 46px,#dccecf 0 47px,#efbeab 0 48px,#b6cef8 0 49px,#c7d2e9 0 50px,#aec0f0 0 51px,#c2c9e7 0 52px,#bdccef 0 53px,#ccd2e5 0 54px,#c3c5e1 0 55px,#baccf1 0 56px,#d8cbcf 0 57px,#dbcdd0 0 58px,#bccef3 0 59px,#c1d2f1 0 60px,#c6d4ee 0 61px,#e0d7d4 0 62px,#d8dae0 0 63px,#99b4f4 0 64px,#dfc6c3 0 65px,#c0cae5 0 66px,#e9afa0 0 67px,#a2bcf7 0 68px,#e3d1cc 0 69px,#f0c6b4 0 70px,#acc2f3 0 71px,#cfbdc7 0 72px,#5365cc 0 73px,#b1c4f1 0 74px,#9fb8f3 0 75px,#d1d0dc 0 76px,#a5b8ef 0 77px,#cbd3e6 0 78px,#6677d1 0 79px,#7391ed 0 80px,#b4c8f3 0 81px,#eec2b1 0 82px,#bdceef 0 83px,#cdd6e8 0 84px,#c1cae8 0 85px,#9db8f5 0 86px,#d2d0da 0 87px,#92b3fc 0 88px,#b6cdf6 0 89px,#d0b4bb 0 90px,#ccd5e7 0 91px,#e5ab9e 0 92px,#ced6e6 0 93px,#dad4d8 0 94px,#cbd5e8 0 95px,#b3cbf8 0 96px,#96b7fc 0 97px,#ced6e5 0 98px,#deaca6 0 99px,#eea58e 0 100px,#edc3b2 0 101px,#cfceda 0 102px,#98b1f2 0 103px,#ebbaaa 0 104px,#b8c8f0 0 105px,#838ed7 0 106px,#899de6 0 107px,#ced7e8 0 108px,#d67f79 0 109px,#b1c8f5 0 110px,#cdd5e6 0 111px,#b8ccf2 0 112px,#9dafec 0 113px,#98b4f7 0 114px,#cacfe4 0 115px,#9bb9fb 0 116px,#dad8dc 0 117px,#88a7f6 0 118px,#adc3f2 0 119px,#95b5fc 0 120px,#88a4f1 0 121px,#edbdad 0 122px,#eaccc0 0 123px,#c2c4e0 0 124px,#99a2de 0 125px,#dcd5d7 0 126px,#e9cec2 0 127px,#ebc7b9 0 128px,#cdd0e1 0 129px,#c7d1e7 0 130px,#bac8ed 0 131px,#9cb1ed 0 132px,#e8c8bd 0 133px,#b8c7ea 0 134px,#b7b8dd 0 135px,#d0ccd8 0 136px,#ced5e5 0 137px,#cbd4e8 0 138px,#ced5e6 0 139px,#e3b3aa 0 140px,#93b5fd 0 141px,#a0bdf8 0 142px,#9bb1ef 0 143px,#bdc9e7 0 144px,#dabbbb 0 145px,#9fbcfa 0 146px,#dad7da 0 147px,#ddadaa 0 148px,#e99f8c 0 149px,#cfd1de 0 150px,#93adf1 0 151px,#dbd8da 0 152px,#7792ea 0 153px,#838ed8 0 154px,#b7cdf5 0 155px,#e3c1bb 0 156px,#cbd0e4 0 157px,#d5d3db 0 158px,#e2d5d0 0 159px,#e3b3aa 0 160px,#cad1e6 0 161px,#d9b0b1 0 162px,#c4c4dc 0 163px,#d3d0db 0 164px,#a1ade5 0 165px,#a6bef6 0 166px,#e6cfc6 0 167px,#e4c7c0 0 168px,#eac2b4 0 169px,#ebc8ba 0 170px,#e2d1cb 0 171px,#edc6b5 0 172px,#eb856c 0 173px,#dcafae 0 174px,#f2bca6 0 175px,#bbb5d7 0 176px,#dfd9d8 0 177px,#da7e74 0 178px,#e9a390 0 179px,#cdcbdc 0 180px,#ebc3b3 0 181px,#eb9e8e 0 182px,#d34f4c 0 183px,#cdd0e2 0 184px,#e0d4d1 0 185px,#f2a286 0 186px,#f4a082 0 187px,#e8c7ba 0 188px,#d3cdd7 0 189px,#e9c9be 0 190px,#ecb5a4 0 191px,#ee9980 0 192px,#eea993 0 193px,#e17f6e 0 194px,#e7c5bb 0 195px,#ec856b 0 196px,#dd6051 0 197px,#bcc3e5 0 198px,#ebcbbd 0 199px,#ef9980 0 200px,#e3a299 0 201px,#e9816c 0 202px,#efa088 0 203px,#d1c5d0 0 204px,#e27c6b 0 205px,#d6524c 0 206px,#af3058 0 207px,#e8a192 0 208px,#d95d55 0 209px,#d9ccd1 0 210px,#ebcabc 0 211px,#f4b298 0 212px,#cdcfe0 0 213px,#bdcbed 0 214px,#e5beb4 0 215px,#b5bbe4 0 216px,#f19f83 0 217px,#cfcbda 0 218px,#f0c7b4 0 219px,#e1cfca 0 220px,#ecaf9e 0 221px,#eb9380 0 222px,#d9c8cb 0 223px,#ef9e85 0 224px,#f5b59c 0 225px,#e68c78 0 226px,#e6b8ac 0 227px,#c0bedb 0 228px,#cccbdc 0 229px,#da7e75 0 230px,#da6d62 0 231px,#d04140 0 232px,#c5abc2 0 233px,#ef8e72 0 234px,#d7544d 0 235px,#db5b4d 0 236px,#cb3b42 0 237px,#eda38f 0 238px,#edbeac 0 239px,#c1263b 0 240px,#ccb8c9 0 241px,#e8baaf 0 242px,#f2a084 0 243px,#d86e65 0 244px,#ea9984 0 245px,#c1354c 0 246px,#e6cbc1 0 247px,#e1bfb9 0 248px,#f1bba5 0 249px,#bdc4e6 0 250px,#f4b59b 0 251px,#ecb1a0 0 252px,#e8c7bb 0 253px,#f0b7a2 0 254px,#eb8e76 0 255px,#f29477 0 256px,#bf1e35 0 257px,#eab1a3 0 258px,#e37e6c 0 259px,#9eb8f5 0 260px,#e26d5c 0 261px,#e88771 0 262px,#ddaeac 0 263px,#ebc1b1 0 264px,#eebeac 0 265px)"></div>
<div class="hr" style="top:445.23px;height:5.48px;background:linear-gradient(90deg,#7e9ff6 1px,#748de5 0 2px,#8aa5f0 0 3px,#aac4f8 0 4px,#96b2f4 0 5px,#6c8aea 0 6px,#9ab8fa 0 7px,#87a5f4 0 8px,#7286dc 0 9px,#526cd9 0 10px,#4f5ec3 0 11px,#6c82dc 0 12px,#8eadf6 0 13px,#ddc9c7 0 14px,#617de3 0 15px,#a4c0f9 0 16px,#d0d0db 0 17px,#88aafb 0 18px,#82a3f6 0 19px,#c3cce4 0 20px,#6582e6 0 21px,#cebec9 0 22px,#c9b8c7 0 23px,#93b0f4 0 24px,#7a9af2 0 25px,#8facf5 0 26px,#9cb8f6 0 27px,#88a8f6 0 28px,#a0bcf7 0 29px,#546bd3 0 30px,#b1c5f0 0 31px,#88a7f6 0 32px,#a9c4f9 0 33px,#cbd5e8 0 34px,#88a9fa 0 35px,#576bcf 0 36px,#87a8f8 0 37px,#abc1f4 0 38px,#a9c0f3 0 39px,#c1d2f0 0 40px,#c9c3d3 0 41px,#697dd7 0 42px,#d0d4e0 0 43px,#8595e0 0 44px,#7490e9 0 45px,#a4b9ec 0 46px,#acc5f7 0 47px,#c3d3ef 0 48px,#88a2ee 0 49px,#a7bef3 0 50px,#d0d8e6 0 51px,#708ce7 0 52px,#6474cd 0 53px,#7495f1 0 54px,#dad4d7 0 55px,#acc3f4 0 56px,#bec2dc 0 57px,#c7d4ec 0 58px,#c0cce9 0 59px,#88a7f5 0 60px,#9ab8fa 0 61px,#c9d1e6 0 62px,#c4d4ef 0 63px,#afc7f7 0 64px,#cdd4e5 0 65px,#ccc4d3 0 66px,#e0beba 0 67px,#cfc9d5 0 68px,#cacfe0 0 69px,#dbb8b6 0 70px,#c8d3e9 0 71px,#bdcbe9 0 72px,#5d70d0 0 73px,#d4d9e3 0 74px,#4b61cf 0 75px,#c2cae5 0 76px,#bec8e7 0 77px,#b3c9f4 0 78px,#7f9df0 0 79px,#8aaaf8 0 80px,#bacef4 0 81px,#d4c9d2 0 82px,#a6c0f7 0 83px,#bec8e8 0 84px,#c3c8e5 0 85px,#c3d3f0 0 86px,#b0c7f5 0 87px,#9ab9fc 0 88px,#6e8eee 0 89px,#c0cae5 0 90px,#b5c7f1 0 91px,#899be6 0 92px,#c0cce9 0 93px,#c5cfe7 0 94px,#aec8f8 0 95px,#a5c2fb 0 96px,#b6cdf7 0 97px,#adc5f6 0 98px,#d1ccd6 0 99px,#a9c2f7 0 100px,#ddd9da 0 101px,#bfceed 0 102px,#91acf2 0 103px,#b8c7ea 0 104px,#8fadf5 0 105px,#8ca3eb 0 106px,#c0cded 0 107px,#cfc9d4 0 108px,#cabac8 0 109px,#a3c0fa 0 110px,#86a8fa 0 111px,#97b6fa 0 112px,#4c62ce 0 113px,#6770c9 0 114px,#91a6eb 0 115px,#6885e6 0 116px,#8bacfa 0 117px,#7c98ec 0 118px,#708de9 0 119px,#93aff4 0 120px,#6986e6 0 121px,#d0cdd9 0 122px,#84a1f0 0 123px,#778cdf 0 124px,#96b4f9 0 125px,#9bbafc 0 126px,#95acf0 0 127px,#b7c6ed 0 128px,#b1c7f4 0 129px,#bacbed 0 130px,#c1c8e6 0 131px,#ddd3d3 0 132px,#bfd0f0 0 133px,#c9cbdb 0 134px,#d1d3e0 0 135px,#c8c1d1 0 136px,#b1c8f5 0 137px,#7d8fde 0 138px,#8a9ee7 0 139px,#d5c9d1 0 140px,#637fe1 0 141px,#7d9df3 0 142px,#a9c4f8 0 143px,#586acd 0 144px,#bec8e5 0 145px,#94b1f6 0 146px,#8ba5f0 0 147px,#c3c7da 0 148px,#9fbcf9 0 149px,#b0c6f4 0 150px,#95b3f9 0 151px,#b0c3ed 0 152px,#81a3f7 0 153px,#bcc8e9 0 154px,#e1d5d2 0 155px,#bdd0f4 0 156px,#decbc9 0 157px,#d9847c 0 158px,#e3d1ca 0 159px,#b6bfe2 0 160px,#d9d8dc 0 161px,#e5ab9e 0 162px,#c1cee9 0 163px,#f2b29a 0 164px,#dfccc8 0 165px,#9baeee 0 166px,#c5cfea 0 167px,#6886e8 0 168px,#b7c7ec 0 169px,#e1cbc7 0 170px,#e3cdc7 0 171px,#c6d1eb 0 172px,#eda18b 0 173px,#efa38c 0 174px,#eb8369 0 175px,#dcb9b9 0 176px,#d4d1dc 0 177px,#c2374d 0 178px,#d66661 0 179px,#f3af96 0 180px,#f2c4af 0 181px,#e6b2a8 0 182px,#f4a486 0 183px,#f2c3ae 0 184px,#e9b0a0 0 185px,#f3ae94 0 186px,#f3c5b0 0 187px,#d96860 0 188px,#d4d8e3 0 189px,#cecddd 0 190px,#ecac99 0 191px,#f0ae99 0 192px,#edbaa7 0 193px,#f0b099 0 194px,#ebb09f 0 195px,#bdb5d6 0 196px,#f1a58c 0 197px,#aeb8e7 0 198px,#e3c9c3 0 199px,#ed9c85 0 200px,#eac8bc 0 201px,#ea9380 0 202px,#ea8870 0 203px,#d5d5de 0 204px,#ea917b 0 205px,#e36d58 0 206px,#d7847f 0 207px,#ded8d6 0 208px,#f2baa3 0 209px,#b9caf1 0 210px,#c3b6cf 0 211px,#ec9178 0 212px,#e4afa5 0 213px,#f0b9a4 0 214px,#d8c4c8 0 215px,#e7b7ac 0 216px,#c43043 0 217px,#d1d2df 0 218px,#f1a88f 0 219px,#f1bfaa 0 220px,#d7c6cb 0 221px,#e77a67 0 222px,#f4a88c 0 223px,#d1595c 0 224px,#f4ac90 0 225px,#ba3451 0 226px,#e06654 0 227px,#f39b7d 0 228px,#ea9884 0 229px,#e1beba 0 230px,#ed9178 0 231px,#d8554d 0 232px,#9e9ad5 0 233px,#e2715d 0 234px,#e9c9bc 0 235px,#eca595 0 236px,#ecafa0 0 237px,#e78777 0 238px,#f4a68a 0 239px,#bc2d47 0 240px,#c1c9e7 0 241px,#e6d3ca 0 242px,#e8cfc4 0 243px,#f4bea7 0 244px,#f2ac92 0 245px,#cc444c 0 246px,#c4c0da 0 247px,#f0c0ab 0 248px,#d8ccd0 0 249px,#c0b7d3 0 250px,#cec8d8 0 251px,#a4a2d9 0 252px,#efc5b2 0 253px,#f09e84 0 254px,#f09479 0 255px,#ee9780 0 256px,#d96b62 0 257px,#edc3b3 0 258px,#f1bfaa 0 259px,#97b2f5 0 260px,#ec876d 0 261px,#f1b099 0 262px,#e3ccc5 0 263px,#d8645a 0 264px,#e2c0ba 0 265px)"></div>
<div class="hr" style="top:450.21px;height:5.48px;background:linear-gradient(90deg,#4c64d2 1px,#c1c9e0 0 2px,#677fdd 0 3px,#a8c2f7 0 4px,#acc0ed 0 5px,#a1b9f0 0 6px,#607adf 0 7px,#c2d0ec 0 8px,#576acf 0 9px,#93b1f7 0 10px,#475ccc 0 11px,#98b7fb 0 12px,#768fe6 0 13px,#cbd0e4 0 14px,#4053c6 0 15px,#95b2f6 0 16px,#dfcac7 0 17px,#ced0df 0 18px,#84a2f2 0 19px,#bac1de 0 20px,#a5bff5 0 21px,#c4cce4 0 22px,#bbc6e3 0 23px,#99b8fa 0 24px,#b6cbf3 0 25px,#576dd3 0 26px,#b6c9f0 0 27px,#5b74da 0 28px,#b5c3e8 0 29px,#4457c7 0 30px,#acc6fa 0 31px,#7b98ed 0 32px,#4356c7 0 33px,#bbcbed 0 34px,#5975de 0 35px,#586bcf 0 36px,#adbfeb 0 37px,#c0cbe7 0 38px,#c7c5d4 0 39px,#99b8fb 0 40px,#dab4b2 0 41px,#7d9bf1 0 42px,#e5c1b9 0 43px,#93adf1 0 44px,#4f64cf 0 45px,#7797f1 0 46px,#d7d2d7 0 47px,#e0d5d2 0 48px,#c5cee5 0 49px,#acc5f7 0 50px,#c3d0eb 0 51px,#a3c0fb 0 52px,#93adef 0 53px,#5460c3 0 54px,#8698e2 0 55px,#dfcbc9 0 56px,#acc5f7 0 57px,#b9cff7 0 58px,#6c84de 0 59px,#96b6fb 0 60px,#8ca9f4 0 61px,#a6c2f9 0 62px,#b6cdf7 0 63px,#a0bbf7 0 64px,#e0cdca 0 65px,#afc5f2 0 66px,#d7ccd1 0 67px,#bdccef 0 68px,#9ebbfa 0 69px,#cd9ca2 0 70px,#c2d1ee 0 71px,#abc5f9 0 72px,#99b5f7 0 73px,#dad2d5 0 74px,#cdd6e7 0 75px,#dbcfd1 0 76px,#a9c4f9 0 77px,#90b0fb 0 78px,#7c89d8 0 79px,#86a7f9 0 80px,#ced2e1 0 81px,#dfbeba 0 82px,#e3ccc7 0 83px,#aec7f9 0 84px,#9bb5f4 0 85px,#83a0f1 0 86px,#85a4f4 0 87px,#8babf7 0 88px,#afc1ee 0 89px,#b2bde1 0 90px,#abbff3 0 91px,#beccea 0 92px,#acc6f8 0 93px,#c5d2ec 0 94px,#acc5f7 0 95px,#ebcabd 0 96px,#c3d1ec 0 97px,#d3d5df 0 98px,#d8948f 0 99px,#dbd7d9 0 100px,#ecc4b5 0 101px,#d1c1c9 0 102px,#dbd8da 0 103px,#dcc5c4 0 104px,#dcc2c4 0 105px,#aec7f7 0 106px,#a8b9ed 0 107px,#eaa693 0 108px,#c4d0e9 0 109px,#9fb5f1 0 110px,#c4d2ee 0 111px,#bfceef 0 112px,#6378d7 0 113px,#acc2f3 0 114px,#8fa0e4 0 115px,#d7dae0 0 116px,#a8bff5 0 117px,#cfd5e4 0 118px,#acc3f4 0 119px,#7b9af0 0 120px,#8fa0e4 0 121px,#e8a594 0 122px,#bfd2f4 0 123px,#b9c2e7 0 124px,#98b4f6 0 125px,#bfd2f3 0 126px,#e6b9ae 0 127px,#d9d2d6 0 128px,#9eb0ec 0 129px,#bacbee 0 130px,#95a6e8 0 131px,#808bd8 0 132px,#bdccef 0 133px,#e7bdb3 0 134px,#bdd1f3 0 135px,#b1c8f6 0 136px,#a9c3f8 0 137px,#d5d9e2 0 138px,#b0c3f2 0 139px,#e5c1b8 0 140px,#becdec 0 141px,#9ab9fc 0 142px,#8eabf4 0 143px,#7792ea 0 144px,#c8cee1 0 145px,#7e96e7 0 146px,#ccd0e3 0 147px,#d27f7c 0 148px,#edb6a3 0 149px,#d6d9e1 0 150px,#95b4fa 0 151px,#bacdf2 0 152px,#ced4e3 0 153px,#9db5f4 0 154px,#c9d4ea 0 155px,#89a5f1 0 156px,#decdcb 0 157px,#eab0a0 0 158px,#c6c5dc 0 159px,#e7b5a9 0 160px,#e8c6bb 0 161px,#c5d4ee 0 162px,#ebb4a4 0 163px,#f2c1ac 0 164px,#d0c5d2 0 165px,#b6c5ee 0 166px,#d7cacf 0 167px,#d3d8e2 0 168px,#c1cbe9 0 169px,#eca893 0 170px,#e5d3cc 0 171px,#eacabd 0 172px,#e39080 0 173px,#f0b5a0 0 174px,#e69382 0 175px,#b2b2db 0 176px,#aec3f2 0 177px,#f3ad93 0 178px,#cb4c56 0 179px,#f5c0a9 0 180px,#cdd3e6 0 181px,#f3aa8f 0 182px,#f4a284 0 183px,#e0d3cf 0 184px,#edbbaa 0 185px,#e7c1b5 0 186px,#f5b79d 0 187px,#f1bca6 0 188px,#d0cfdd 0 189px,#efaf9a 0 190px,#ea947f 0 191px,#e3806d 0 192px,#e2ccc8 0 193px,#f2a88e 0 194px,#f3bda6 0 195px,#d9ced0 0 196px,#f0b8a3 0 197px,#ebc1b3 0 198px,#dad6d9 0 199px,#df8476 0 200px,#eb9079 0 201px,#ec9a84 0 202px,#f3b197 0 203px,#bdc3e4 0 204px,#eba895 0 205px,#eb8b73 0 206px,#cc525b 0 207px,#e59382 0 208px,#e18878 0 209px,#d3d4e0 0 210px,#9cace8 0 211px,#e77c65 0 212px,#ddd1d1 0 213px,#e5c4ba 0 214px,#c3b6d2 0 215px,#eabcad 0 216px,#c52e3e 0 217px,#d1d4e2 0 218px,#d4504e 0 219px,#f1ae98 0 220px,#b8a4ca 0 221px,#e9826e 0 222px,#eb957e 0 223px,#f1bca6 0 224px,#ee957b 0 225px,#e1c6c2 0 226px,#ed8b71 0 227px,#decbc9 0 228px,#dd6557 0 229px,#eca38e 0 230px,#f3b097 0 231px,#dd5f50 0 232px,#bba9ca 0 233px,#c8333e 0 234px,#e2c6c0 0 235px,#be1a30 0 236px,#eab3a6 0 237px,#e77d6a 0 238px,#f4b398 0 239px,#e3735f 0 240px,#c1c3e0 0 241px,#eac9bc 0 242px,#eeb9a7 0 243px,#efc6b5 0 244px,#e5816d 0 245px,#e77b64 0 246px,#bdbad9 0 247px,#f2ac92 0 248px,#e2d0ca 0 249px,#d5c2c8 0 250px,#f4b299 0 251px,#d5c3ca 0 252px,#e2c3bc 0 253px,#e5715b 0 254px,#ee9e87 0 255px,#de6454 0 256px,#ba1f3c 0 257px,#e4b8ae 0 258px,#e7c5ba 0 259px,#c8d0e8 0 260px,#e57e6a 0 261px,#f4a88c 0 262px,#f4af94 0 263px,#d7d4da 0 264px,#da6c61 0 265px)"></div>
<div class="hr" style="top:455.19px;height:5.48px;background:linear-gradient(90deg,#5672dd 1px,#a0b8f1 0 2px,#96b6fc 0 3px,#9cb5f2 0 4px,#99b4f4 0 5px,#8fa9ee 0 6px,#bdcbea 0 7px,#a4c0fa 0 8px,#667bd9 0 9px,#83a4f7 0 10px,#5b72d7 0 11px,#7089e2 0 12px,#7392ee 0 13px,#c3d0ea 0 14px,#6685e9 0 15px,#8eadf7 0 16px,#ddc9ca 0 17px,#90b1fc 0 18px,#a0bbf5 0 19px,#d2bac3 0 20px,#a7c2f9 0 21px,#cdc0cc 0 22px,#9bb8f7 0 23px,#e2a195 0 24px,#91b2fc 0 25px,#94b4fc 0 26px,#bdccec 0 27px,#596ccf 0 28px,#adbfeb 0 29px,#aac1f3 0 30px,#bccff2 0 31px,#87a5f3 0 32px,#4a60ce 0 33px,#bbc8e8 0 34px,#5068d5 0 35px,#7088e1 0 36px,#a5bef5 0 37px,#d1d2de 0 38px,#bacbf0 0 39px,#cacfe4 0 40px,#c0d1f1 0 41px,#dcd1d3 0 42px,#d7d4db 0 43px,#e9c9bd 0 44px,#aab0e1 0 45px,#88a7f5 0 46px,#a7bef3 0 47px,#e1d4d0 0 48px,#bacef3 0 49px,#b3ccf9 0 50px,#adc5f6 0 51px,#b5ccf7 0 52px,#9dbafa 0 53px,#6a7dd8 0 54px,#c3d2ef 0 55px,#bbcff4 0 56px,#afc5f5 0 57px,#e0b6af 0 58px,#a6bff6 0 59px,#6d88e6 0 60px,#a0befb 0 61px,#d1d7e5 0 62px,#92aef6 0 63px,#93b0f7 0 64px,#e0b0a9 0 65px,#e7b7ab 0 66px,#9fbaf6 0 67px,#d1c9d3 0 68px,#9fbcfb 0 69px,#e0c4c1 0 70px,#bed1f2 0 71px,#c1cfed 0 72px,#91b2fb 0 73px,#c1d3f2 0 74px,#c3d4f0 0 75px,#b0c3f1 0 76px,#85a1f1 0 77px,#a0baf4 0 78px,#6072d0 0 79px,#82a3f7 0 80px,#ddcbc9 0 81px,#e2a094 0 82px,#6e88e4 0 83px,#9fbdfb 0 84px,#a8c3f9 0 85px,#5f6fcb 0 86px,#8faaf2 0 87px,#5f7de4 0 88px,#bac7eb 0 89px,#b8ccf2 0 90px,#dcc4c5 0 91px,#b2caf8 0 92px,#728ce5 0 93px,#b7ccf3 0 94px,#ddbab9 0 95px,#e3d3ce 0 96px,#aec3f1 0 97px,#97b4f9 0 98px,#dfc0bd 0 99px,#b3c4ef 0 100px,#aab6e7 0 101px,#a3baf3 0 102px,#b1bfec 0 103px,#eab0a0 0 104px,#b5bde1 0 105px,#bcccef 0 106px,#c1c7e5 0 107px,#e5bdb4 0 108px,#c5d3ee 0 109px,#b9ccf1 0 110px,#dfc4c1 0 111px,#9ebcfc 0 112px,#8aa9f6 0 113px,#7b9af1 0 114px,#bccff2 0 115px,#9ab9fc 0 116px,#b0c6f4 0 117px,#a2bbf5 0 118px,#7e9df2 0 119px,#9fb8f4 0 120px,#7888db 0 121px,#d8d9de 0 122px,#bbd1f6 0 123px,#8ea7ee 0 124px,#b7cff8 0 125px,#bbc6ea 0 126px,#dbd8da 0 127px,#97aaea 0 128px,#a0aee8 0 129px,#b5cbf5 0 130px,#a3b1e9 0 131px,#f1c4b0 0 132px,#c1cde9 0 133px,#99b9fb 0 134px,#bec4e4 0 135px,#d3ced8 0 136px,#a3bffa 0 137px,#94a7e7 0 138px,#a0bdfa 0 139px,#eabaac 0 140px,#cbcfe0 0 141px,#c1c0d6 0 142px,#cbd5e9 0 143px,#94b1f5 0 144px,#bfbbd1 0 145px,#aec6f6 0 146px,#cdc5d2 0 147px,#e0b8b4 0 148px,#edc8b9 0 149px,#d4d9e3 0 150px,#aec8fa 0 151px,#d7d9e0 0 152px,#758de5 0 153px,#c9cee4 0 154px,#dfd1cf 0 155px,#aac2f6 0 156px,#a1bcf8 0 157px,#e7b8ab 0 158px,#f2b9a2 0 159px,#eecbbb 0 160px,#eca38e 0 161px,#dd8e84 0 162px,#bbcff4 0 163px,#dfc9c5 0 164px,#c3cbe7 0 165px,#b0c5f4 0 166px,#eeb09d 0 167px,#bbd1f7 0 168px,#e1c2bf 0 169px,#e69280 0 170px,#e79989 0 171px,#c1b6d3 0 172px,#f2c4b0 0 173px,#f1a88f 0 174px,#ec947c 0 175px,#a3afe6 0 176px,#cbd6e9 0 177px,#e9a695 0 178px,#e9b6a8 0 179px,#b1c2ee 0 180px,#efb7a2 0 181px,#ccb7c8 0 182px,#df8274 0 183px,#9dade9 0 184px,#e8bdb2 0 185px,#f3af96 0 186px,#f3b9a1 0 187px,#eeb39f 0 188px,#f1c5b0 0 189px,#dbc5c5 0 190px,#eca28c 0 191px,#dedad9 0 192px,#eea089 0 193px,#ec8d74 0 194px,#ecc2b4 0 195px,#edc4b4 0 196px,#f0c5b3 0 197px,#b6bee5 0 198px,#e59f91 0 199px,#f0b8a3 0 200px,#e8907b 0 201px,#e4d0c9 0 202px,#f19d81 0 203px,#e1ccc7 0 204px,#eab3a3 0 205px,#f2a286 0 206px,#cb5356 0 207px,#d1cfdb 0 208px,#e5816d 0 209px,#c7bfd5 0 210px,#ec9178 0 211px,#eb8870 0 212px,#e1b2ab 0 213px,#eeb19e 0 214px,#ecb0a0 0 215px,#9590ce 0 216px,#d04949 0 217px,#c2cce9 0 218px,#d44f4b 0 219px,#f4b69d 0 220px,#dcc1c0 0 221px,#e88673 0 222px,#d25d5b 0 223px,#ddcdcc 0 224px,#d75854 0 225px,#e9a999 0 226px,#eea692 0 227px,#eaccbf 0 228px,#ea9b8b 0 229px,#e79e8d 0 230px,#f0c9b6 0 231px,#e16a57 0 232px,#9b8bca 0 233px,#db5a4b 0 234px,#ec866c 0 235px,#f29e82 0 236px,#d6b1b5 0 237px,#e98f7e 0 238px,#eac4b6 0 239px,#c43649 0 240px,#e1beb7 0 241px,#e3d1cb 0 242px,#ddd9da 0 243px,#d7d7dd 0 244px,#eda48e 0 245px,#f0ab93 0 246px,#c6c9e2 0 247px,#eec4b3 0 248px,#e5ccc4 0 249px,#d3bbc2 0 250px,#e3cfc8 0 251px,#b9abd0 0 252px,#e8ab9e 0 253px,#e6c5bc 0 254px,#efa68f 0 255px,#f5c1a9 0 256px,#c33145 0 257px,#e9b8ab 0 258px,#f09b81 0 259px,#8c92d6 0 260px,#d3504e 0 261px,#f19d82 0 262px,#d0c8d5 0 263px,#e4cbc2 0 264px,#f2bba4 0 265px)"></div>
<div class="hr" style="top:460.17px;height:5.48px;background:linear-gradient(90deg,#5e7de6 1px,#6b7bd5 0 2px,#80a0f5 0 3px,#8fb0fa 0 4px,#83a0ee 0 5px,#88a2ed 0 6px,#7b98ed 0 7px,#3f50c2 0 8px,#5164cb 0 9px,#88a7f5 0 10px,#80a0f4 0 11px,#5f74d5 0 12px,#7191ef 0 13px,#7e95e7 0 14px,#6987e8 0 15px,#5064ce 0 16px,#a6c2fa 0 17px,#7394f1 0 18px,#829eed 0 19px,#bcc7e4 0 20px,#4458c8 0 21px,#b4bfe2 0 22px,#b0bee6 0 23px,#5264ca 0 24px,#9fb9f4 0 25px,#95b1f5 0 26px,#c2c1d6 0 27px,#aabbe8 0 28px,#acc1f0 0 29px,#7f9ef1 0 30px,#afc8f8 0 31px,#a4bdf3 0 32px,#6684e9 0 33px,#df9b91 0 34px,#88a6f4 0 35px,#6479d6 0 36px,#9db7f3 0 37px,#9cb8f7 0 38px,#cad1e4 0 39px,#7085db 0 40px,#deb8b4 0 41px,#6471c8 0 42px,#bbcaef 0 43px,#99b2f3 0 44px,#7f9bee 0 45px,#b9c6e8 0 46px,#d9cdd0 0 47px,#b5ccf7 0 48px,#a5c0f7 0 49px,#b0c8f7 0 50px,#d0cfdb 0 51px,#7c9af0 0 52px,#a3b5ed 0 53px,#b6caf3 0 54px,#b3caf6 0 55px,#a7c2fa 0 56px,#c6becf 0 57px,#bad0f7 0 58px,#c2d3f1 0 59px,#c5d2eb 0 60px,#6f8ff0 0 61px,#aec6f5 0 62px,#84a3f4 0 63px,#606fca 0 64px,#e3b9b2 0 65px,#c0d1f1 0 67px,#d3d5e0 0 68px,#c7cee3 0 69px,#c5d4ef 0 70px,#b9cbf0 0 71px,#b9c2df 0 72px,#697bd3 0 73px,#d2d6e1 0 74px,#f0bfaa 0 75px,#e3cdc8 0 76px,#869fec 0 77px,#b9bfdf 0 78px,#6f88e2 0 79px,#b0cafa 0 80px,#cbd2e6 0 81px,#be3f58 0 82px,#b8cdf4 0 83px,#cfd3e2 0 84px,#92a3e6 0 85px,#9ab2f3 0 86px,#a6c1f8 0 87px,#93adf2 0 88px,#85a3f3 0 89px,#b1c4ee 0 90px,#e2d5d1 0 91px,#c4d4f0 0 92px,#c1d3f2 0 93px,#d9b7b6 0 94px,#c3d4f0 0 95px,#eac4b7 0 96px,#8aacfa 0 97px,#d5ced6 0 98px,#b9c8ea 0 99px,#e0a49b 0 100px,#dfc8c6 0 101px,#e4c2bb 0 102px,#b1c5f2 0 103px,#f1c8b6 0 104px,#d3d7e2 0 105px,#697ad3 0 106px,#c1d0ee 0 107px,#b2c8f4 0 108px,#e4c1ba 0 109px,#7696f2 0 110px,#c1d1f0 0 111px,#b3ccf9 0 112px,#b6cdf6 0 113px,#808edb 0 114px,#cad2e8 0 115px,#e8cbc1 0 116px,#91adf4 0 117px,#5569cf 0 118px,#84a3f3 0 119px,#aec0ef 0 120px,#9ab3f4 0 121px,#e9beb1 0 122px,#c5d4ef 0 123px,#acbeef 0 124px,#b3cbf8 0 125px,#b4c4ef 0 126px,#92a8ed 0 127px,#a7abdd 0 128px,#c0d1f2 0 129px,#9ab9fb 0 130px,#a1a8df 0 131px,#9ba5e0 0 132px,#c2d0ee 0 133px,#a7c1f7 0 134px,#a2b2ea 0 135px,#becae8 0 136px,#a4c0fa 0 137px,#90aef6 0 138px,#b5c5ef 0 139px,#e2b1a9 0 140px,#a2bcf6 0 141px,#82a3f6 0 142px,#a0bdf9 0 143px,#d3acaf 0 144px,#85a6f8 0 145px,#84a6f9 0 146px,#dad8dc 0 147px,#dbc5c6 0 148px,#d5d9e2 0 149px,#dfb2ae 0 150px,#ccc8d7 0 151px,#bacdf1 0 152px,#abc6fa 0 153px,#8496e3 0 154px,#c5d3ed 0 155px,#a6c1f8 0 156px,#ccd3e5 0 157px,#e5c4bd 0 158px,#e7d2c8 0 159px,#eeb7a4 0 160px,#d7d8df 0 161px,#cecbd8 0 162px,#bed0f1 0 163px,#ccd4e7 0 164px,#dcd8d9 0 165px,#c7d0e8 0 166px,#f3b9a2 0 167px,#dcd8d9 0 168px,#cecbd9 0 169px,#b1345a 0 170px,#e88f7b 0 171px,#f3af96 0 172px,#f1b7a1 0 173px,#ed9f89 0 174px,#ebae9e 0 175px,#d7c6cb 0 176px,#e6d0c8 0 177px,#d35252 0 178px,#d56562 0 179px,#f1c2ae 0 180px,#ea8167 0 181px,#e37c6c 0 182px,#e1d6d1 0 183px,#dad7dc 0 184px,#ebc9bb 0 185px,#d8a4a7 0 186px,#f1a68f 0 187px,#f1bba5 0 188px,#e1b0a9 0 189px,#efa38b 0 190px,#f3b9a1 0 191px,#efac96 0 192px,#f4b399 0 193px,#eba592 0 194px,#eec3b2 0 195px,#f0af97 0 196px,#d45350 0 197px,#e3cdc6 0 198px,#efb39d 0 199px,#e37b67 0 200px,#e9c2b5 0 201px,#ed9985 0 202px,#f39e82 0 203px,#a5b1e6 0 204px,#edb09d 0 205px,#c5404f 0 206px,#e1aca4 0 207px,#e3d1cb 0 208px,#f0c6b4 0 209px,#e8d1c7 0 210px,#d7babe 0 211px,#bf1c32 0 212px,#dec7c6 0 213px,#f5bfa7 0 214px,#e7bfb4 0 215px,#d2b5bd 0 216px,#d6534b 0 217px,#aab8ea 0 218px,#ed947d 0 219px,#ebbaab 0 220px,#ea846e 0 221px,#de6759 0 222px,#c8cde3 0 223px,#ce696e 0 224px,#ca4651 0 225px,#efb19b 0 226px,#f19377 0 227px,#e6d1c8 0 228px,#e28677 0 229px,#ecb4a3 0 230px,#e98a73 0 231px,#c42836 0 232px,#debfbd 0 233px,#c42937 0 234px,#f2b8a1 0 235px,#e49f96 0 236px,#e87b63 0 237px,#e9a597 0 238px,#df6f5f 0 239px,#eb876d 0 240px,#adbeee 0 241px,#e6cdc3 0 242px,#eda692 0 243px,#e8c5b8 0 244px,#be3952 0 245px,#f1ae96 0 246px,#c4b7cf 0 247px,#da776d 0 248px,#e59f91 0 249px,#e3b3a9 0 250px,#ecbaaa 0 251px,#d9bfc2 0 252px,#f0ad98 0 253px,#e3d1cb 0 254px,#cb3e45 0 255px,#e06652 0 256px,#d4504c 0 257px,#f3a88e 0 258px,#f0a289 0 259px,#ced2e3 0 260px,#f19275 0 261px,#d75a53 0 262px,#eca692 0 263px,#f0a891 0 264px,#ef957b 0 265px)"></div>
<div class="hr" style="top:465.15px;height:5.48px;background:linear-gradient(90deg,#7c9ef6 1px,#657ddd 0 2px,#7394f2 0 3px,#4a5fcd 0 4px,#a3baf1 0 5px,#a6b3e0 0 6px,#6d8ded 0 7px,#a5c2fb 0 8px,#8cadfb 0 9px,#7999f1 0 10px,#5e73d3 0 11px,#7e91e0 0 12px,#5768cc 0 13px,#b6ccf5 0 14px,#6281e7 0 15px,#5169d5 0 16px,#cdd2e1 0 17px,#9cb9f9 0 18px,#6483e9 0 19px,#d5aeb1 0 20px,#6a88e9 0 21px,#cacdde 0 22px,#5a75de 0 23px,#85a4f4 0 24px,#83a3f5 0 25px,#b0cafa 0 26px,#94b4fb 0 27px,#7090ee 0 28px,#485dcd 0 29px,#9fb6ef 0 30px,#b5c7ee 0 31px,#8fadf7 0 32px,#7999f2 0 33px,#aac2f5 0 34px,#5f7be1 0 35px,#87a6f5 0 36px,#7898f2 0 37px,#cdd3e2 0 38px,#c3cae1 0 39px,#94b1f7 0 40px,#c8d3ea 0 41px,#b7c5ec 0 42px,#dfc8c6 0 43px,#7e96e7 0 44px,#6680df 0 45px,#92b3fc 0 46px,#85a4f5 0 47px,#d7d6dd 0 48px,#c3cee8 0 49px,#92b1f9 0 50px,#d6d7de 0 51px,#a2b6ef 0 52px,#9dabe6 0 53px,#a5bff7 0 54px,#c4cfe9 0 55px,#dab9ba 0 56px,#aec8fa 0 57px,#bbccef 0 58px,#85a6f7 0 59px,#adc7f9 0 60px,#7ea0f7 0 61px,#c1cde9 0 62px,#b2c3ef 0 63px,#a4baf3 0 64px,#a8c2f8 0 65px,#d2c7d1 0 66px,#d8b1b3 0 67px,#7a9bf4 0 68px,#8daefa 0 69px,#c3d4f1 0 70px,#afbae6 0 71px,#8fabf3 0 72px,#5468cf 0 73px,#99b8fa 0 74px,#cad4ea 0 75px,#ced2e0 0 76px,#a0baf7 0 77px,#6d85e1 0 78px,#8c98de 0 79px,#a0bdf9 0 80px,#d0d5e3 0 81px,#e9ab9b 0 82px,#aec7f7 0 83px,#83a0f0 0 84px,#f1beaa 0 85px,#96b5fa 0 86px,#a7c3fa 0 87px,#8eb0fd 0 88px,#a0b9f3 0 89px,#dec4c1 0 90px,#b8caf1 0 91px,#cac9dd 0 92px,#b1c5f2 0 93px,#dfc9c8 0 94px,#ecc6b8 0 95px,#ddd3d4 0 96px,#b7cdf6 0 97px,#e1d5d2 0 98px,#e5a99c 0 99px,#bec8e9 0 100px,#dad1d4 0 101px,#c0ccea 0 102px,#aec8f8 0 103px,#ccd2e3 0 104px,#afc6f6 0 105px,#a6bef4 0 106px,#d2c9d4 0 107px,#efc7b5 0 108px,#f0baa5 0 109px,#b1c8f6 0 110px,#bdcbed 0 111px,#d4d7e1 0 112px,#8aa6f2 0 113px,#c3d1eb 0 114px,#97b2f5 0 115px,#90acf2 0 116px,#b1c2ef 0 117px,#6a83e2 0 118px,#b6cdf6 0 119px,#9dbcfc 0 120px,#778cde 0 121px,#d7d7dc 0 122px,#d6d7df 0 123px,#868bd2 0 124px,#91a0e3 0 125px,#8daffc 0 126px,#b1c1ed 0 127px,#eacfc2 0 128px,#d3ced8 0 129px,#b4ccf7 0 130px,#c8cbe1 0 131px,#a5b8ee 0 132px,#d6d9e1 0 133px,#9bbbfc 0 134px,#e8c9bf 0 135px,#b8c9ee 0 136px,#a3bcf4 0 137px,#c3d2ef 0 138px,#bfd2f3 0 139px,#e6bfb6 0 140px,#96b7fd 0 141px,#7d9cf1 0 142px,#bdc5e4 0 143px,#b4caf5 0 144px,#cfd6e5 0 145px,#c7d4ec 0 146px,#dfd4d3 0 147px,#d1d5e1 0 148px,#e7cec5 0 149px,#d1d8e5 0 150px,#b9cef5 0 151px,#d6cace 0 152px,#bbcdf1 0 153px,#ccd5e8 0 154px,#e9c7bc 0 155px,#cdccdd 0 156px,#e9bfb1 0 157px,#d2d8e4 0 158px,#d6ced5 0 159px,#ebbbac 0 160px,#d1d6e3 0 161px,#c6d1e8 0 162px,#dad3d6 0 163px,#eac5b6 0 164px,#f2c4af 0 165px,#ddc7c6 0 166px,#d4cbd4 0 167px,#c0d1f1 0 168px,#cac9da 0 169px,#d28685 0 170px,#ecc6b7 0 171px,#f0baa5 0 172px,#f1a186 0 173px,#ed8b73 0 174px,#eeae9c 0 175px,#dbd5d7 0 176px,#e3d1cb 0 177px,#d9756d 0 178px,#eeb19c 0 179px,#d7d6dc 0 180px,#f4a488 0 181px,#f3b298 0 182px,#ca424d 0 183px,#dfcbc7 0 184px,#b0c7f5 0 185px,#ccc5d7 0 186px,#cdcbdb 0 187px,#ce5357 0 188px,#ebb6a5 0 189px,#ebcabc 0 190px,#f4c0a9 0 191px,#edccbd 0 192px,#dd7265 0 193px,#e37763 0 194px,#d7cfd5 0 195px,#f2a88e 0 196px,#e2d3ce 0 197px,#e2bcb5 0 198px,#d9d1d5 0 199px,#e07465 0 200px,#e79988 0 201px,#e2806f 0 202px,#df7464 0 203px,#e8a797 0 204px,#dfc3bf 0 205px,#bc1b35 0 206px,#b13359 0 207px,#f2bea9 0 208px,#f4ae93 0 209px,#eac3b4 0 210px,#f4b298 0 211px,#dd6a5c 0 212px,#e49f91 0 213px,#e6d0c8 0 214px,#eaa99a 0 215px,#d3bfca 0 216px,#d34e4a 0 217px,#cacade 0 218px,#db5e51 0 219px,#e8a497 0 220px,#a195cf 0 221px,#eab4a6 0 222px,#f5af95 0 223px,#cf4a4f 0 224px,#c6303e 0 225px,#f4b196 0 226px,#e87b63 0 227px,#cbc4d5 0 228px,#c2293c 0 229px,#e49586 0 230px,#ea846f 0 231px,#f2b7a0 0 232px,#9689ca 0 233px,#d7534b 0 234px,#f3b59d 0 235px,#e88d7c 0 236px,#ddcac9 0 237px,#d9afb1 0 238px,#f4bda6 0 239px,#ed9e87 0 240px,#e0bfba 0 241px,#c8cee5 0 242px,#f3ab91 0 243px,#e2d5d0 0 244px,#f2987b 0 245px,#e77a62 0 246px,#cab0c3 0 247px,#f09074 0 248px,#c9d5ec 0 249px,#c1b0cd 0 250px,#f1a289 0 251px,#f0b6a1 0 252px,#d3d3de 0 253px,#f3b59d 0 254px,#e5735d 0 255px,#ef967d 0 256px,#cc4248 0 257px,#ecbaaa 0 258px,#ea8971 0 259px,#95a1e1 0 260px,#e87f69 0 261px,#f3b8a0 0 262px,#cbc6d9 0 263px,#e88872 0 264px,#f4b095 0 265px)"></div>
<div class="hr" style="top:470.13px;height:5.48px;background:linear-gradient(90deg,#85a2f1 1px,#5e75d8 0 2px,#5871da 0 3px,#6281e7 0 4px,#a4bdf3 0 5px,#7a99f0 0 6px,#7493ef 0 7px,#728ee9 0 8px,#b3c4ef 0 9px,#81a2f5 0 10px,#7b96eb 0 11px,#7393ef 0 12px,#607be0 0 13px,#a9c4fa 0 14px,#7d99ed 0 15px,#a0bdfa 0 16px,#b6cdf7 0 17px,#9ebbf9 0 18px,#80a0f3 0 19px,#c58087 0 20px,#a8c2f7 0 21px,#d5cad1 0 22px,#abc2f2 0 23px,#aac5f9 0 24px,#adbfec 0 25px,#6a86e6 0 26px,#8bacfa 0 27px,#a1b6ed 0 28px,#8eabf5 0 29px,#89aafa 0 30px,#87a7f6 0 31px,#d0d8e6 0 32px,#87a7f7 0 33px,#b6c9f3 0 34px,#90b2fd 0 35px,#89a6f1 0 36px,#a1bdf7 0 37px,#eeb7a4 0 38px,#d7b6b6 0 39px,#bfcded 0 40px,#a1baf4 0 41px,#8fa6ec 0 42px,#edc1b1 0 43px,#d0d8e6 0 44px,#8fa6eb 0 45px,#b6c5e9 0 46px,#a6bef4 0 47px,#e0cfcc 0 48px,#97b4f7 0 49px,#b3c2e8 0 50px,#adc6f7 0 51px,#d5d8e1 0 52px,#a7bdf3 0 53px,#7692ea 0 54px,#d1d4e2 0 55px,#d1d0de 0 56px,#a2bffb 0 57px,#cfd3e0 0 58px,#98b7fa 0 59px,#8cacf8 0 60px,#c2d0ec 0 61px,#b9ccf1 0 62px,#b4ccf8 0 63px,#a3baf4 0 64px,#e5a496 0 65px,#bccbeb 0 66px,#bad0f6 0 67px,#b8c4e5 0 68px,#cbd2e3 0 69px,#efc2b0 0 70px,#bdcced 0 71px,#d2ccd6 0 72px,#a8bef3 0 73px,#abbdef 0 74px,#e0d7d5 0 75px,#e6d3ca 0 76px,#bccdf0 0 77px,#b1bee6 0 78px,#a2bef8 0 79px,#d2cbd7 0 80px,#b7cdf6 0 81px,#e3d1cc 0 82px,#9fbdfb 0 83px,#b5c8f0 0 84px,#96b4f8 0 85px,#98b8fd 0 86px,#c1d1ef 0 87px,#7694ee 0 88px,#c9ccde 0 89px,#cecbd8 0 90px,#acc5f8 0 91px,#b0c3f0 0 92px,#d9dbdf 0 93px,#d0d7e6 0 94px,#a6c2fb 0 95px,#d5c6ce 0 96px,#dad8dc 0 97px,#d1d5e3 0 98px,#e0b5ae 0 99px,#bcc5e8 0 100px,#d1d6e3 0 101px,#d8d1d6 0 102px,#dbcfd1 0 103px,#eeb09b 0 104px,#c7cde4 0 105px,#859eed 0 106px,#c7cde6 0 107px,#e5c3bb 0 108px,#e8b5a7 0 109px,#cdd6e8 0 110px,#8398e3 0 111px,#d0d4e3 0 112px,#abc4f6 0 113px,#b0c6f4 0 114px,#d2c9d3 0 115px,#b7cbf3 0 116px,#bed2f4 0 117px,#7997ee 0 118px,#a7c3fa 0 119px,#b6cef8 0 120px,#7885d6 0 121px,#c5cbe5 0 122px,#c8d3e9 0 123px,#c2cbe8 0 124px,#e3d6d0 0 125px,#bfceed 0 126px,#d7d7de 0 127px,#d7c6cb 0 128px,#cfd4e3 0 129px,#e58e7c 0 130px,#c6cde6 0 131px,#c2cbe8 0 132px,#d7dae1 0 133px,#cdd4e5 0 134px,#e8cfc5 0 135px,#d6d5dc 0 136px,#c6d4ee 0 137px,#cad5ea 0 138px,#8eaef9 0 139px,#eec2b1 0 140px,#d9d3d8 0 141px,#bfd1f1 0 142px,#e7cec4 0 143px,#bed1f3 0 144px,#d8c7cb 0 145px,#dad5d8 0 146px,#d3c8d2 0 147px,#a9c0f5 0 148px,#a3b7f0 0 149px,#ecab96 0 150px,#acc4f6 0 151px,#ddada7 0 152px,#7f99ea 0 153px,#aabef1 0 154px,#ccd6e9 0 155px,#bfcae5 0 156px,#7f88d5 0 157px,#e7c4bb 0 158px,#d7cacf 0 159px,#e4b8af 0 160px,#e0d2d0 0 161px,#d1d4e1 0 162px,#e0cac7 0 163px,#a8bef3 0 164px,#a4bef7 0 165px,#a5c1f9 0 166px,#cbcee2 0 167px,#b7cff7 0 168px,#d3c1c7 0 169px,#de958b 0 170px,#eca691 0 171px,#c8cfe7 0 172px,#f2b49c 0 173px,#da5d52 0 174px,#ee8a6e 0 175px,#e5b7ac 0 176px,#c3d3f0 0 177px,#be2038 0 178px,#f49d7f 0 179px,#eac6b8 0 180px,#f3b198 0 181px,#eaac9d 0 182px,#f1a78f 0 183px,#e7ccc1 0 184px,#ea856c 0 185px,#f0a58d 0 186px,#f2ac92 0 187px,#d56763 0 188px,#e6cbc2 0 189px,#efa791 0 190px,#eec7b6 0 191px,#dc7064 0 192px,#edcbbb 0 193px,#e27d6b 0 194px,#f0b099 0 195px,#eabcac 0 196px,#e9bcae 0 197px,#eeb5a1 0 198px,#c7515e 0 199px,#f4b8a0 0 200px,#e1897b 0 201px,#ccc1d2 0 202px,#f1987c 0 203px,#cac9dd 0 204px,#e2beb7 0 205px,#dd6557 0 206px,#bb3653 0 207px,#e1cfca 0 208px,#c64351 0 209px,#c8cce2 0 210px,#e9ccbf 0 211px,#db7469 0 212px,#c4cfeb 0 213px,#f3b8a0 0 214px,#ecc1b1 0 215px,#cbc2d4 0 216px,#ec876c 0 217px,#d6ccd3 0 218px,#f3a68b 0 219px,#ddd3d3 0 220px,#c0bcd9 0 221px,#e17e71 0 222px,#ecc7b8 0 223px,#e9a08c 0 224px,#f0bfab 0 225px,#eaac9b 0 226px,#d5b7bc 0 227px,#c0c6e5 0 228px,#e6c7bd 0 229px,#e18c7e 0 230px,#f3b79f 0 231px,#d34843 0 232px,#d6bbbf 0 233px,#bf1d32 0 234px,#f0967a 0 235px,#e48f85 0 236px,#dc5f52 0 237px,#e1b2ac 0 238px,#c9bdd2 0 239px,#b83454 0 240px,#ccc5d7 0 241px,#eac0b2 0 242px,#e4725d 0 243px,#e9c7ba 0 244px,#f1ae96 0 245px,#e47661 0 246px,#e5c9c0 0 247px,#f4b89f 0 248px,#df8679 0 249px,#c5b2c9 0 250px,#eb8a73 0 251px,#9c9cda 0 252px,#f1a68d 0 253px,#e6cbc1 0 254px,#cb3d45 0 255px,#d95549 0 256px,#d8625c 0 257px,#f1a88f 0 258px,#f09174 0 259px,#b6bce3 0 260px,#db6155 0 261px,#ee9e8a 0 262px,#bec2e4 0 263px,#edc2b2 0 264px,#f2a78c 0 265px)"></div>
<div class="hr" style="top:475.11px;height:5.48px;background:linear-gradient(90deg,#6281e9 1px,#97b4f8 0 2px,#c6cade 0 3px,#d5d7df 0 4px,#9fb3ec 0 5px,#7998f1 0 6px,#8cacf7 0 7px,#b0c7f6 0 8px,#99b5f7 0 9px,#7d9df4 0 10px,#5d6dcb 0 11px,#8aa7f3 0 12px,#6e8cea 0 13px,#96abed 0 14px,#91b0f7 0 15px,#96b7fd 0 16px,#e4b5aa 0 17px,#a8c2f6 0 18px,#a9bff0 0 19px,#d2c0c6 0 20px,#96b1f2 0 21px,#daa09d 0 22px,#c2cde7 0 23px,#b2c3ee 0 24px,#87a7f8 0 25px,#7999f0 0 26px,#dbc8cb 0 27px,#6f8eee 0 28px,#9fb8f3 0 29px,#99b3f2 0 30px,#99b7fb 0 31px,#7fa1f7 0 32px,#8eadf7 0 33px,#b1caf8 0 34px,#92adf1 0 35px,#95b4f9 0 36px,#d8d1d7 0 37px,#cfd1e1 0 38px,#c6c2d3 0 39px,#d5d8e0 0 40px,#f0c6b4 0 41px,#91a9ef 0 42px,#a9c0f4 0 43px,#bccef2 0 44px,#b0c8f7 0 45px,#cacfe2 0 46px,#d7d2d8 0 47px,#c2d0ed 0 48px,#b6caf4 0 49px,#e1c0bc 0 50px,#c9d4e9 0 51px,#90aff8 0 52px,#9ebaf9 0 53px,#afbdea 0 54px,#bfc3e2 0 55px,#dcd2d3 0 56px,#bccbeb 0 57px,#d9dade 0 58px,#b1c8f5 0 59px,#a2bdf8 0 60px,#97b6fa 0 61px,#bac6e6 0 62px,#dedad9 0 63px,#b0c5f2 0 64px,#e2cac5 0 65px,#c5d1e9 0 66px,#ebcec1 0 67px,#e3cac5 0 68px,#c9d6eb 0 69px,#d1cad5 0 70px,#acbaeb 0 71px,#e4bbb3 0 72px,#a5b8ef 0 73px,#a1b8f3 0 74px,#ccd6e9 0 75px,#cfd0de 0 76px,#a4c0fb 0 77px,#7c9bf2 0 78px,#646ac1 0 79px,#89a8f5 0 80px,#c6d5ee 0 81px,#ccd4e5 0 82px,#acc5f7 0 83px,#8fa4ec 0 84px,#b3c6f2 0 85px,#bdcbeb 0 86px,#a4bff9 0 87px,#7d9ff6 0 88px,#88a2ee 0 89px,#cdd0dd 0 90px,#9cbafa 0 91px,#e5cdc6 0 92px,#a8c2f8 0 93px,#cfc5d0 0 94px,#bbcff3 0 95px,#b6cdf8 0 96px,#ddbfbd 0 97px,#b1c4ef 0 98px,#cacde1 0 99px,#e6cbc2 0 100px,#efb5a0 0 101px,#b4c9f4 0 102px,#d5d8e0 0 103px,#e2bab3 0 104px,#90aaf2 0 105px,#b5c9f2 0 106px,#a4b9f1 0 107px,#c5d4ef 0 108px,#d6d7de 0 109px,#b4c9f4 0 110px,#86a2ef 0 111px,#a1befb 0 112px,#97b7fc 0 113px,#a1b4ee 0 114px,#bebedc 0 115px,#c0cfee 0 116px,#a1b4ee 0 117px,#9db8f6 0 118px,#90b1fa 0 119px,#9cb9f9 0 120px,#6a69b9 0 121px,#e99f8c 0 122px,#e7c4b9 0 123px,#a7c2f9 0 124px,#a7c4fb 0 125px,#7e9ff5 0 126px,#bdcff3 0 127px,#b3bae3 0 128px,#8b9be1 0 129px,#adc7f9 0 130px,#9db4f3 0 131px,#bccdf0 0 132px,#c7d3ea 0 133px,#b4c0e4 0 134px,#a0aee8 0 135px,#9ebaf7 0 136px,#bed0f2 0 137px,#9faeea 0 138px,#a7bef4 0 139px,#e4ada2 0 140px,#7797f1 0 141px,#9fbcf8 0 142px,#9bbafc 0 143px,#d0b3ba 0 144px,#da9e99 0 145px,#97b6fa 0 146px,#cad4e9 0 147px,#c6d3ec 0 148px,#edc4b4 0 149px,#e9c9bd 0 150px,#c4d1ed 0 151px,#d8c9ce 0 152px,#6f86dd 0 153px,#ddd1d2 0 154px,#a0baf5 0 155px,#9ab3f2 0 156px,#86a1ef 0 157px,#ddc3c2 0 158px,#f2b8a1 0 159px,#aabcef 0 160px,#c4d0eb 0 161px,#b4caf4 0 162px,#bfc5e0 0 163px,#c2d3f1 0 164px,#e7c7be 0 165px,#8aacfb 0 166px,#e5c8c1 0 167px,#dcd9da 0 168px,#cacfe1 0 169px,#e5ab9f 0 170px,#cdcadb 0 171px,#cbd2e6 0 172px,#e17562 0 173px,#e3c5bc 0 174px,#f1b6a0 0 175px,#abaadd 0 176px,#cecddf 0 177px,#ce595f 0 178px,#dcd7d8 0 179px,#f4bea6 0 180px,#eec8b7 0 181px,#e47c68 0 182px,#e48977 0 183px,#b0c6f5 0 184px,#d5ced5 0 185px,#d8c3c6 0 186px,#ecc9b9 0 187px,#f3a286 0 188px,#eacbbf 0 189px,#dfdad8 0 190px,#f3a88c 0 191px,#f3bba5 0 192px,#eac5b9 0 193px,#eeb3a0 0 194px,#f2c5b0 0 195px,#f4b197 0 196px,#efc7b5 0 197px,#d0cbd8 0 198px,#bcc9ed 0 199px,#f0b59f 0 200px,#efb7a3 0 201px,#e9907a 0 202px,#ec866c 0 203px,#e0d7d4 0 204px,#e27b68 0 205px,#e59280 0 206px,#cf5b60 0 207px,#e9d0c5 0 208px,#f3b69e 0 209px,#d4cbd3 0 210px,#d1bfca 0 211px,#f2b69f 0 212px,#eebfae 0 213px,#e36d57 0 214px,#e4cac1 0 215px,#e0d0cc 0 216px,#bf283f 0 217px,#c4c1db 0 218px,#ce4f52 0 219px,#f4aa8f 0 220px,#dfb4b0 0 221px,#f1987c 0 222px,#e5d3cb 0 223px,#ea8c75 0 224px,#ea8268 0 225px,#e1c6c0 0 226px,#e68573 0 227px,#e4c4ba 0 228px,#e1ccc7 0 229px,#e6ac9f 0 230px,#f3b097 0 231px,#cf403f 0 232px,#deb3af 0 233px,#e5745e 0 234px,#f19e85 0 235px,#ed876d 0 236px,#e4aea3 0 237px,#e67b69 0 238px,#f4ad92 0 239px,#ea9f8b 0 240px,#efac96 0 241px,#e4cdc5 0 242px,#e5d0c7 0 243px,#e4c9c1 0 244px,#edc2b2 0 245px,#e97e65 0 246px,#e3bbb2 0 247px,#eea58e 0 248px,#d6d4dc 0 249px,#e1bdb5 0 250px,#e4c8c0 0 251px,#ceb5c3 0 252px,#d75047 0 253px,#f2a68c 0 254px,#d6514a 0 255px,#da5b4f 0 256px,#c3354a 0 257px,#f2ae95 0 258px,#f2a489 0 259px,#c8cde5 0 260px,#e26f5b 0 261px,#efb19e 0 262px,#f0c1ae 0 263px,#f0c9b8 0 264px,#e5836e 0 265px)"></div>
<div class="hr" style="top:480.09px;height:5.48px;background:linear-gradient(90deg,#5974de 1px,#c1cceb 0 2px,#90b1fc 0 3px,#8daffb 0 4px,#a7c1f8 0 5px,#7594ef 0 6px,#87a9fb 0 7px,#beceee 0 8px,#85a5f5 0 9px,#90b0fb 0 10px,#6677d3 0 11px,#aec7f8 0 12px,#7c9cf3 0 13px,#809ff2 0 14px,#4154c6 0 15px,#95b0f3 0 16px,#e1d4d0 0 17px,#d5bbc1 0 18px,#85a5f6 0 19px,#e4c0b8 0 20px,#7091f1 0 21px,#d6c9d0 0 22px,#98b3f3 0 23px,#85a5f5 0 24px,#b6c2e4 0 25px,#6b8aeb 0 26px,#9cb9f7 0 27px,#799af2 0 28px,#8bacfa 0 29px,#bac8e8 0 30px,#9dbbfb 0 31px,#9abafc 0 32px,#b8cdf4 0 33px,#d2d7e2 0 34px,#6e8ae9 0 35px,#93a7eb 0 36px,#87a5f4 0 37px,#e3c8c2 0 38px,#d1b7bf 0 39px,#8d9ce2 0 40px,#e4b0a6 0 41px,#aebfee 0 42px,#ebb6a5 0 43px,#b9c5ea 0 44px,#ccd6e9 0 45px,#80a2f7 0 46px,#dac8ca 0 47px,#b1c4f1 0 48px,#99b4f4 0 49px,#d99b97 0 50px,#ccd5e8 0 51px,#7e9aee 0 52px,#858bd2 0 53px,#7793eb 0 54px,#7b92e4 0 55px,#b0c4f2 0 56px,#bec8e4 0 57px,#c8cbdc 0 58px,#9eb7f5 0 59px,#d9d5da 0 60px,#9db3f1 0 61px,#bac9eb 0 62px,#cbc8d7 0 63px,#a4bff8 0 64px,#bbccef 0 65px,#c6c2d5 0 66px,#c0c2d9 0 67px,#7493ee 0 68px,#c9d1e5 0 69px,#a9c2f7 0 70px,#a9c4f9 0 71px,#bcc0da 0 72px,#7190ed 0 73px,#98b6f8 0 74px,#8c9adf 0 75px,#d5d9e1 0 76px,#a7c3fa 0 77px,#8babf9 0 78px,#8197e8 0 79px,#d2cad1 0 80px,#a7baef 0 81px,#e7ad9e 0 82px,#cdc6d1 0 83px,#a5c1fa 0 84px,#8ca3ea 0 85px,#829bed 0 86px,#7692ea 0 87px,#6781e1 0 88px,#8eacf5 0 89px,#e5c8c1 0 90px,#d4ced7 0 91px,#d0ccda 0 92px,#bbcff4 0 93px,#dfcdcb 0 94px,#b3b7e0 0 95px,#d5d9e2 0 96px,#d3d4df 0 97px,#e1c9c7 0 98px,#d7cdd2 0 99px,#eba997 0 100px,#eebba9 0 101px,#d4ccd4 0 102px,#8aa2eb 0 103px,#e5cec6 0 104px,#d6bec1 0 105px,#c2cdea 0 106px,#e3d1ca 0 107px,#b4c8f3 0 108px,#e2c9c4 0 109px,#8dadf8 0 110px,#c9d4e9 0 111px,#91aff8 0 112px,#b3c6f1 0 113px,#d4ced7 0 114px,#c2d1ee 0 115px,#7384d9 0 116px,#e9cabf 0 117px,#d7d7dd 0 118px,#9ab7f8 0 119px,#adc6f8 0 120px,#d9d9de 0 121px,#eecab9 0 122px,#c6d4ee 0 123px,#aebcea 0 124px,#cbd5e9 0 125px,#bdc9ec 0 126px,#99adeb 0 127px,#dfd4d1 0 128px,#c1d2f0 0 129px,#e1d8d5 0 130px,#bdcaec 0 131px,#d1cdd9 0 132px,#c7cce3 0 133px,#cad1e3 0 134px,#c2d2f0 0 135px,#bac9ec 0 136px,#b4ccf7 0 137px,#a0b3ee 0 138px,#95b1f5 0 139px,#dfc9c8 0 140px,#a9c3f9 0 141px,#99b6f7 0 142px,#7b95e9 0 143px,#bacbef 0 144px,#aac4f7 0 145px,#9bb3f3 0 146px,#bfd2f4 0 147px,#d3c4cd 0 148px,#d4d8e3 0 149px,#e4c3bc 0 150px,#bed2f3 0 151px,#e8d0c6 0 152px,#abc4f6 0 153px,#bfcbeb 0 154px,#e9cfc3 0 155px,#c5d1ed 0 156px,#e5d1ca 0 157px,#e0998e 0 158px,#eec9b9 0 159px,#e2b1a9 0 160px,#ddcdcd 0 161px,#e6b5a8 0 162px,#e2b4ad 0 163px,#cdcedf 0 164px,#f4ae94 0 165px,#d7d3d9 0 166px,#ea8f78 0 167px,#c3d3ef 0 168px,#c2cae2 0 169px,#dfb5b0 0 170px,#c8c5d9 0 171px,#cfd1e1 0 172px,#f4a082 0 173px,#f19f85 0 174px,#f09e85 0 175px,#cccbde 0 176px,#ebccbe 0 177px,#bb2640 0 178px,#eeb5a2 0 179px,#d7cad0 0 180px,#f4bca4 0 181px,#d96056 0 182px,#f3ac91 0 183px,#e4cec8 0 184px,#ea9d89 0 185px,#ef9f87 0 186px,#f1bea9 0 187px,#ddd5d6 0 188px,#eec3b1 0 189px,#ec937b 0 190px,#e77e68 0 191px,#f4bea6 0 192px,#d95d57 0 193px,#c53e4e 0 194px,#bf3851 0 195px,#e99d8f 0 196px,#f5b89f 0 197px,#efb5a0 0 198px,#e2c2bb 0 199px,#c3394c 0 200px,#d8c4c8 0 201px,#d7c7cc 0 202px,#dcc7c6 0 203px,#c2c9e6 0 204px,#e3bfb7 0 205px,#dd6051 0 206px,#bb3855 0 207px,#eda994 0 208px,#c54455 0 209px,#bacdf0 0 210px,#cec3d2 0 211px,#e16c5a 0 212px,#da5f55 0 213px,#cc4550 0 214px,#d1b2bc 0 215px,#a6ade2 0 216px,#da6054 0 217px,#c6cae3 0 218px,#ee8c71 0 219px,#f3b69f 0 220px,#d5b9bf 0 221px,#eb907d 0 222px,#f0ad96 0 223px,#c03a52 0 224px,#e57a64 0 225px,#e4c1ba 0 226px,#e87a62 0 227px,#a3b2ea 0 228px,#e6cec5 0 229px,#e79b8a 0 230px,#ed9178 0 231px,#f09073 0 232px,#afa1cd 0 233px,#dcc0be 0 234px,#ef9075 0 235px,#e36e58 0 236px,#cdbdcb 0 237px,#e7a499 0 238px,#d3ccd7 0 239px,#cc555e 0 240px,#e9ccbf 0 241px,#cbcade 0 242px,#eda995 0 243px,#f2ab90 0 244px,#ea9079 0 245px,#e28170 0 246px,#929cdd 0 247px,#ebb5a4 0 248px,#e4c5bf 0 249px,#cabbce 0 250px,#ecb8a9 0 251px,#a89ed2 0 252px,#c9d1e7 0 253px,#e9ccc0 0 254px,#f19a7e 0 255px,#f3a588 0 256px,#b92543 0 257px,#ef9176 0 258px,#ee987f 0 259px,#b1c6f4 0 260px,#f5b095 0 261px,#edc9b9 0 262px,#cad3e8 0 263px,#d5d5de 0 264px,#f2b8a1 0 265px)"></div>
<div class="hr" style="top:485.07px;height:5.48px;background:linear-gradient(90deg,#7493ed 1px,#9bb6f4 0 2px,#95b6fd 0 3px,#7897f1 0 4px,#c7cfe4 0 5px,#9fb7f2 0 6px,#7794ed 0 7px,#a9c4fa 0 8px,#7588dc 0 9px,#7190ed 0 10px,#5267cf 0 11px,#7f99ea 0 12px,#718eea 0 13px,#bccff2 0 14px,#7799f4 0 15px,#6a83e1 0 16px,#99b5f6 0 17px,#4d61cd 0 18px,#a9c2f5 0 19px,#cfbeca 0 20px,#6c8ced 0 21px,#c4cde4 0 22px,#7594ef 0 23px,#acbdea 0 24px,#799af5 0 25px,#83a5f8 0 26px,#aec8f8 0 27px,#81a1f5 0 28px,#88a8f7 0 29px,#a0bbf6 0 30px,#b4c8f1 0 31px,#4a5fcd 0 32px,#5a75dd 0 33px,#c5d0e8 0 34px,#6883e3 0 35px,#9ebcfb 0 36px,#afc9f9 0 37px,#ded3d3 0 38px,#82a1f3 0 39px,#c8cfe6 0 40px,#cdbeca 0 41px,#d5d7e1 0 42px,#dacfd0 0 43px,#8dacf7 0 44px,#83a3f4 0 45px,#a0bcf7 0 46px,#ced3e1 0 47px,#cbd3e6 0 48px,#9abafc 0 49px,#b0c0e9 0 50px,#ebc9bc 0 51px,#a3c0fa 0 52px,#b5caf4 0 53px,#a6bdf4 0 54px,#bed0f1 0 55px,#dcd6d8 0 56px,#c9d0e6 0 57px,#b9c6e7 0 58px,#d1d2dd 0 59px,#cad4e8 0 60px,#8daefb 0 61px,#c6d3eb 0 62px,#aec9fa 0 63px,#9bbafb 0 64px,#ea9d89 0 65px,#dcd6d8 0 66px,#c8d1e5 0 67px,#e4bdb5 0 68px,#e7cac2 0 69px,#e0bab6 0 70px,#edc8b9 0 71px,#dfc7c4 0 72px,#a4bff9 0 73px,#8fa9ef 0 74px,#c7cee7 0 75px,#ccd2e5 0 76px,#adc3f2 0 77px,#8dadf8 0 78px,#84a7fa 0 79px,#dac5c8 0 80px,#cad1e5 0 81px,#d9d6da 0 82px,#a0befb 0 83px,#c8d3ea 0 84px,#adc5f7 0 85px,#b3cbf8 0 86px,#8da7f0 0 87px,#7895ed 0 88px,#d4d0d6 0 89px,#e0a49a 0 90px,#ccccde 0 91px,#f1c4b1 0 92px,#f3c3ae 0 93px,#dfd4d2 0 94px,#e9d0c4 0 95px,#d5d8e1 0 96px,#cfc6d1 0 97px,#eda892 0 98px,#dda9a2 0 99px,#f0ae96 0 100px,#adbdec 0 101px,#e4ada1 0 102px,#c6cce6 0 103px,#e29284 0 104px,#abb9eb 0 105px,#cfc5d3 0 106px,#decfce 0 107px,#e7a99b 0 108px,#d2cfda 0 109px,#b3c4ef 0 110px,#8fa9ef 0 111px,#ddd6d6 0 112px,#95aaea 0 113px,#becbec 0 114px,#97abeb 0 115px,#a1b0e8 0 116px,#cfccda 0 117px,#bcd0f4 0 118px,#edb7a4 0 119px,#d6d8e0 0 120px,#777cc9 0 121px,#e9c5b9 0 122px,#e3d2cc 0 123px,#d0cfdf 0 124px,#bcc3e5 0 125px,#c9cce2 0 126px,#b5c7f0 0 127px,#d9d0d5 0 128px,#cdc9da 0 129px,#e6cbc1 0 130px,#b5bfe7 0 131px,#d1c9d6 0 132px,#dfd7d5 0 133px,#afc9fa 0 134px,#ceccdc 0 135px,#ddcdcc 0 136px,#f1c0ab 0 137px,#cbc4d6 0 138px,#eacdc0 0 139px,#d06668 0 140px,#c0d2f2 0 141px,#c2d2f0 0 142px,#a6c0f7 0 143px,#e0c5c3 0 144px,#ddc3c2 0 145px,#e0d5d2 0 146px,#e58470 0 147px,#aabbed 0 148px,#d7d7de 0 149px,#ef9e85 0 150px,#d7d5dc 0 151px,#e6beb5 0 152px,#afc3f2 0 153px,#ddc8c6 0 154px,#d4c5cd 0 155px,#d4d9e2 0 156px,#d8cfd4 0 157px,#d67e78 0 158px,#e2d7d1 0 159px,#ec9e88 0 160px,#c9d0e6 0 161px,#e79b89 0 162px,#ecbbab 0 163px,#b3c1ec 0 164px,#dbcccd 0 165px,#edc4b4 0 166px,#b1c7f5 0 167px,#7996ed 0 168px,#bcc9e9 0 169px,#d39697 0 170px,#c1c5e2 0 171px,#c8d0e7 0 172px,#e16c5a 0 173px,#ee9f89 0 174px,#dcc8c8 0 175px,#c3c7e2 0 176px,#99a4e0 0 177px,#e5816d 0 178px,#f1bba6 0 179px,#d6c9d0 0 180px,#f0b6a0 0 181px,#e8856e 0 182px,#f2c7b2 0 183px,#aabff1 0 184px,#dfc7c5 0 185px,#ec9881 0 186px,#eec1af 0 187px,#d55955 0 188px,#dfb6b1 0 189px,#e6baaf 0 190px,#ecb09e 0 191px,#ecc4b5 0 192px,#e9a18e 0 193px,#e58e7b 0 194px,#ecc7b8 0 195px,#eeac98 0 196px,#f0a48a 0 197px,#b2b4de 0 198px,#dfd5d2 0 199px,#dc6c60 0 200px,#d9776d 0 201px,#f2ac92 0 202px,#e8c7bb 0 203px,#dcc6c5 0 204px,#e38375 0 205px,#e77964 0 206px,#e99883 0 207px,#de6959 0 208px,#ec8b72 0 209px,#ddc8c7 0 210px,#dacdcf 0 211px,#d56866 0 212px,#d0c8d3 0 213px,#f1a68d 0 214px,#d7c4ca 0 215px,#eeac99 0 216px,#dc675a 0 217px,#dbcfd1 0 218px,#e4715c 0 219px,#f4a689 0 220px,#f2ae95 0 221px,#efae99 0 222px,#d1d2e0 0 223px,#f1c1ac 0 224px,#f1b39c 0 225px,#e7a393 0 226px,#e9c3b6 0 227px,#d1c9d4 0 228px,#d8c6cb 0 229px,#d7817c 0 230px,#ed8a70 0 231px,#bd182f 0 232px,#ccb6c6 0 233px,#e97c64 0 234px,#ddc5c2 0 235px,#eb856c 0 236px,#d3c7d1 0 237px,#e5b9ae 0 238px,#eec8b9 0 239px,#f0a389 0 240px,#b5bee6 0 241px,#cecada 0 242px,#f3a88c 0 243px,#f4ab8f 0 244px,#f4bba3 0 245px,#f0ae9a 0 246px,#c8abc0 0 247px,#ed9f87 0 248px,#eac3b7 0 249px,#e4a9a0 0 250px,#f4ac91 0 251px,#b0aed8 0 252px,#eeb8a5 0 253px,#efb8a4 0 254px,#c83644 0 255px,#ed886d 0 256px,#e87a62 0 257px,#e36f5b 0 258px,#eac6b9 0 259px,#9eafea 0 260px,#ea927f 0 261px,#dcc0c0 0 262px,#ddcfcf 0 263px,#f1c7b3 0 264px,#eec3b0 0 265px)"></div>
<div class="hr" style="top:490.05px;height:5.48px;background:linear-gradient(90deg,#7798f2 1px,#9ab9fb 0 2px,#92abf2 0 3px,#6985e6 0 4px,#89a7f3 0 5px,#a2b9ef 0 6px,#4d62cf 0 7px,#5d73d7 0 8px,#a3bdf6 0 9px,#617fe5 0 10px,#5063cb 0 11px,#d4d4de 0 12px,#6078db 0 13px,#9ab8f9 0 14px,#485ccb 0 15px,#6e8fef 0 16px,#bfcce9 0 17px,#acbce6 0 18px,#88a3ee 0 19px,#c998a0 0 20px,#80a1f6 0 21px,#b5c1e4 0 22px,#c4c5d8 0 23px,#bbcbec 0 24px,#6a89eb 0 25px,#4a60d0 0 26px,#c0c8e1 0 27px,#4457c7 0 28px,#82a0f1 0 29px,#6b87e5 0 30px,#c4d0e9 0 31px,#7899f3 0 32px,#81a1f4 0 33px,#b9cbf0 0 34px,#6584e7 0 35px,#617adc 0 36px,#a2b8ee 0 37px,#bbcbee 0 38px,#dab4b3 0 39px,#c7d4eb 0 40px,#cfc6d1 0 41px,#adc4f5 0 42px,#9ab0ef 0 43px,#d8d4d9 0 44px,#98b8fc 0 45px,#7491ea 0 46px,#c8d2e7 0 47px,#bacef4 0 48px,#7489dd 0 49px,#8faff9 0 50px,#c9c6d5 0 51px,#afc2f1 0 52px,#86a4f3 0 53px,#7d97eb 0 54px,#5d6dcc 0 55px,#9bbafb 0 56px,#7f9ff4 0 57px,#c6d1e8 0 58px,#bbcff2 0 59px,#c3d1ec 0 60px,#8bacfa 0 61px,#b4c3e9 0 62px,#6b83df 0 63px,#8ba9f5 0 64px,#d27875 0 65px,#d5bbc2 0 66px,#bac3e1 0 67px,#edb8a5 0 68px,#d9d4d9 0 69px,#b5ccf8 0 70px,#c4cfeb 0 71px,#e1b0a9 0 72px,#5a6ccc 0 73px,#b0c8f7 0 74px,#a7c1f7 0 75px,#c1cfee 0 76px,#92acf2 0 77px,#a4bcf2 0 78px,#5e73d4 0 79px,#7fa0f6 0 80px,#adc4f5 0 81px,#e4a092 0 82px,#ced7e7 0 83px,#c7d3ec 0 84px,#9baeeb 0 85px,#7593ed 0 86px,#a5bff8 0 87px,#6d8ded 0 88px,#839fed 0 89px,#bccaea 0 90px,#8aa9f7 0 91px,#cbd5e8 0 92px,#8fb1fc 0 93px,#bacef3 0 94px,#7c94e6 0 95px,#d1d5e1 0 96px,#b7cdf5 0 97px,#ecc4b6 0 98px,#edc0b0 0 99px,#bd3854 0 100px,#ea9d89 0 101px,#c9d1e5 0 102px,#a6bdf3 0 103px,#c7ccdf 0 104px,#c1ccea 0 105px,#84a2f2 0 106px,#96b3f6 0 107px,#ddc2c1 0 108px,#dad4d8 0 109px,#aac4f9 0 110px,#acc2f3 0 111px,#c8d4eb 0 112px,#7989d9 0 113px,#97b0f1 0 114px,#6a6dbf 0 115px,#96b3f7 0 116px,#b2c8f5 0 117px,#8cacf9 0 118px,#a1bdf8 0 119px,#6c7dd5 0 120px,#8988ce 0 121px,#ced5e5 0 122px,#bfd1f2 0 123px,#bfc7e7 0 124px,#96b2f6 0 125px,#d2d0db 0 126px,#6e82d9 0 127px,#b8c1e7 0 128px,#95aaeb 0 129px,#ced7e8 0 130px,#c6cee7 0 131px,#f4a082 0 132px,#cad0e4 0 133px,#dcbbb8 0 134px,#97aaeb 0 135px,#a6bbf1 0 136px,#92aff6 0 137px,#ced7e6 0 138px,#9dbcfc 0 139px,#c5d2ec 0 140px,#d7d7de 0 141px,#bed2f4 0 142px,#e4b0a5 0 143px,#88a8f7 0 144px,#c66974 0 145px,#ccd0e3 0 146px,#e2b6ae 0 147px,#cacbdb 0 148px,#ecaf9c 0 149px,#b3cbf7 0 150px,#ced5e4 0 151px,#dfbab5 0 152px,#7b9bf2 0 153px,#ddd4d4 0 154px,#c2d1ef 0 155px,#c6cfe9 0 156px,#9daee9 0 157px,#eab2a2 0 158px,#cbcddf 0 159px,#c1c6e3 0 160px,#b8c8ee 0 161px,#ebcbbe 0 162px,#e3d0cb 0 163px,#c0c8e6 0 164px,#d2cad5 0 165px,#9eb3f1 0 166px,#b5bfe8 0 167px,#cad3e8 0 168px,#d4d2db 0 169px,#d2c2cc 0 170px,#d4d5df 0 171px,#eacec1 0 172px,#efac96 0 173px,#dd695e 0 174px,#d9574c 0 175px,#e4cfc7 0 176px,#e4d5ce 0 177px,#bc3551 0 178px,#ecb2a0 0 179px,#f2aa91 0 180px,#eac2b3 0 181px,#ea9785 0 182px,#c9414c 0 183px,#e6c9c0 0 184px,#efc7b5 0 185px,#f39e80 0 186px,#f5b79d 0 187px,#ee9d84 0 188px,#e89b88 0 189px,#f0a187 0 190px,#f0b8a6 0 191px,#e6826f 0 192px,#cb4a54 0 193px,#b63051 0 194px,#d2cdda 0 195px,#f3ae94 0 196px,#ee9a84 0 197px,#ebb9aa 0 198px,#e58a77 0 199px,#ee967e 0 200px,#e9a99b 0 201px,#e0705f 0 202px,#efb7a3 0 203px,#c4c0d9 0 204px,#e89384 0 205px,#dc5e50 0 206px,#da7a70 0 207px,#e8bcaf 0 208px,#ec9880 0 209px,#edccbd 0 210px,#edc8b8 0 211px,#ea856d 0 212px,#e4d1ca 0 213px,#d25556 0 214px,#d4c6cf 0 215px,#d5bfc5 0 216px,#c0253a 0 217px,#d5d8e0 0 218px,#f3b198 0 219px,#f4b9a1 0 220px,#bdb6d6 0 221px,#edac9b 0 222px,#eaccbe 0 223px,#f3a588 0 224px,#f1bea8 0 225px,#cb3e48 0 226px,#f49f81 0 227px,#e5d3cb 0 228px,#ebbeae 0 229px,#f1bca7 0 230px,#f4bfa8 0 231px,#e47465 0 232px,#cab4c6 0 233px,#ea8069 0 234px,#f2a68c 0 235px,#e87c68 0 236px,#e97e67 0 237px,#f0b7a1 0 238px,#e6cfc6 0 239px,#eda994 0 240px,#aca3d1 0 241px,#f1a78d 0 242px,#eca793 0 243px,#c5b9d1 0 244px,#eb8c74 0 245px,#dd5f51 0 246px,#b7b6db 0 247px,#f2c0ab 0 248px,#e99682 0 249px,#efaa93 0 250px,#dfd1cf 0 251px,#e4c6bd 0 252px,#d5b7be 0 253px,#f49e81 0 254px,#c42b3e 0 255px,#f39d80 0 256px,#c43043 0 257px,#bdbbdb 0 258px,#e8cfc5 0 259px,#8197e7 0 260px,#e57562 0 261px,#d0c1ce 0 262px,#f0a891 0 263px,#edcbbc 0 264px,#e89581 0 265px)"></div>
<div class="hr" style="top:495.03px;height:5.48px;background:linear-gradient(90deg,#4154c6 1px,#b3c2ec 0 2px,#7c99ee 0 3px,#85a6f7 0 4px,#b6bedc 0 5px,#a9bae8 0 6px,#8eb0fc 0 7px,#9bbafc 0 8px,#6675ce 0 9px,#5769cc 0 10px,#5f74d5 0 11px,#728fea 0 12px,#485dcb 0 13px,#d6d1d7 0 14px,#aac3f5 0 15px,#aac5f9 0 16px,#b9ccf1 0 17px,#6a8aed 0 18px,#90b0f9 0 19px,#bc5b6f 0 20px,#80a1f7 0 21px,#dcaeac 0 22px,#b1c9f6 0 23px,#9bb7f6 0 24px,#8cacf9 0 25px,#9cbafa 0 26px,#adc5f6 0 27px,#7591e9 0 28px,#a1bdf8 0 29px,#a7bcee 0 30px,#a4c1fb 0 31px,#7a9cf5 0 32px,#98b5f7 0 33px,#dbd6d8 0 34px,#627bde 0 35px,#98b3f5 0 36px,#c7d1e7 0 37px,#d5d7df 0 38px,#a4bcf4 0 39px,#dfd9d7 0 40px,#c2d0ed 0 41px,#c3d0ec 0 42px,#e1ccc9 0 43px,#bccbef 0 44px,#aec1f1 0 45px,#c6bfd1 0 46px,#b6c9f2 0 47px,#efc9b7 0 48px,#c9d1e6 0 49px,#d8b2b3 0 50px,#ced6e6 0 51px,#b8cef5 0 52px,#d6d6de 0 53px,#647ddd 0 54px,#aac4f7 0 55px,#bfd1f2 0 56px,#a8c1f4 0 57px,#b7caf3 0 58px,#ddd1d2 0 59px,#a4c0fa 0 60px,#dacfd3 0 61px,#d1cfdb 0 62px,#b6c9f2 0 63px,#94aff5 0 64px,#eca18c 0 65px,#e3bfb9 0 66px,#dcd2d5 0 67px,#b9cbf1 0 68px,#aac3f7 0 69px,#d7c7cd 0 70px,#ced5e6 0 71px,#bdcae8 0 72px,#6f8fef 0 73px,#abc6f9 0 74px,#9fb4ef 0 75px,#d5d3dc 0 76px,#ceceda 0 77px,#aec3f1 0 78px,#7184da 0 79px,#bacbef 0 80px,#afc9f9 0 81px,#e3b2a8 0 82px,#beceee 0 83px,#9fb6f3 0 84px,#727bcb 0 85px,#e6c8c0 0 86px,#b1c6f4 0 87px,#7fa0f5 0 88px,#afc4f1 0 89px,#d1c4cd 0 90px,#b2c6f0 0 91px,#d1c5ce 0 92px,#738fe8 0 93px,#ddd3d3 0 94px,#e7c9be 0 95px,#c8d2e7 0 96px,#9cbbfc 0 97px,#c5d0ea 0 98px,#e2cac5 0 99px,#b9ccf3 0 100px,#d8d2d7 0 101px,#b2c5f1 0 102px,#becff1 0 103px,#ebbdae 0 104px,#bec5e1 0 105px,#5f71d0 0 106px,#c3d2ef 0 107px,#d6dae2 0 108px,#d9c0c0 0 109px,#7190ed 0 110px,#aac5fa 0 111px,#7895eb 0 112px,#7088e2 0 113px,#c6c6de 0 114px,#dfd2d0 0 115px,#abc5f9 0 116px,#bfd0f1 0 117px,#889de8 0 118px,#8ba9f5 0 119px,#c1d2f0 0 120px,#818cd7 0 121px,#e0d6d3 0 122px,#dfd7d6 0 123px,#839ae6 0 124px,#82a2f4 0 125px,#85a5f6 0 126px,#abc6fb 0 127px,#e7cec4 0 128px,#bfc2e1 0 129px,#d5d9e3 0 130px,#adbceb 0 131px,#f4b8a0 0 132px,#cfd5e3 0 133px,#afc1eb 0 134px,#d8d7de 0 135px,#99b8fc 0 136px,#81a0f2 0 137px,#ced5e5 0 138px,#819ced 0 139px,#ddbfbe 0 140px,#8eadf7 0 141px,#97b0f0 0 142px,#bfd0f0 0 143px,#8caefb 0 144px,#cdc9d7 0 145px,#cfcad4 0 146px,#e1d5d1 0 147px,#dda099 0 148px,#edb29f 0 149px,#cbd4e7 0 150px,#b0c5f3 0 151px,#df9a90 0 152px,#7d98eb 0 153px,#a7bff5 0 154px,#ded1cf 0 155px,#bdccec 0 156px,#ced3e3 0 157px,#e8c0b5 0 158px,#cfd6e6 0 159px,#bacbf0 0 160px,#ced4e5 0 161px,#e3cac5 0 162px,#c0bedb 0 163px,#f4c4ad 0 164px,#d3d3de 0 165px,#c2d0ed 0 166px,#e2cfca 0 167px,#a4c0f9 0 168px,#caccdf 0 169px,#b1345b 0 170px,#b9cdf4 0 171px,#e5d4cc 0 172px,#c93f4b 0 173px,#bc1a33 0 174px,#c8343f 0 175px,#f0b7a2 0 176px,#b8c0e5 0 177px,#c33f51 0 178px,#ce5356 0 179px,#e6cec5 0 180px,#ebb8a7 0 181px,#ddb6b6 0 182px,#eb8870 0 183px,#ecc9ba 0 184px,#f1b7a0 0 185px,#f2a88e 0 186px,#dba8a7 0 187px,#e6bfb5 0 188px,#f1b49c 0 189px,#ea917b 0 190px,#f0a890 0 191px,#f39a7c 0 192px,#f09579 0 193px,#be3650 0 194px,#f3a286 0 195px,#f3a589 0 196px,#ea9a8b 0 197px,#e2d1cb 0 198px,#e6cfc6 0 199px,#ef9f87 0 200px,#e79585 0 201px,#ea9d8d 0 202px,#efb6a3 0 203px,#f2bda7 0 204px,#e5c2b8 0 205px,#c83743 0 206px,#c22c40 0 207px,#edbeac 0 208px,#cd3f45 0 209px,#ebc0b2 0 210px,#c6cae3 0 211px,#ea8a72 0 212px,#f0c3af 0 213px,#f0bfab 0 214px,#e07667 0 215px,#a7a4d6 0 216px,#e57761 0 217px,#b2bae5 0 218px,#f1ab95 0 219px,#f3a387 0 220px,#ee9981 0 221px,#e16e5f 0 222px,#f2bfa9 0 223px,#e6806b 0 224px,#e16e5b 0 225px,#f1ab91 0 226px,#e9ab9c 0 227px,#e7c9bf 0 228px,#e9846d 0 229px,#e8bdb1 0 230px,#edaf9e 0 231px,#b80d2a 0 232px,#c8b4c8 0 233px,#c72f3b 0 234px,#f4bca4 0 235px,#eabcac 0 236px,#beb1cf 0 237px,#e89c90 0 238px,#f09d82 0 239px,#c2374d 0 240px,#bec6e7 0 241px,#c9cfe5 0 242px,#ecbcab 0 243px,#d6cfd7 0 244px,#eeaf9c 0 245px,#f3b39b 0 246px,#c1c9e7 0 247px,#f3baa2 0 248px,#ded8d7 0 249px,#f1b39d 0 250px,#ec9c86 0 251px,#e4b2a9 0 252px,#f3a78c 0 253px,#d4c6ce 0 254px,#f09579 0 255px,#ed927c 0 256px,#ea836b 0 257px,#efc6b3 0 258px,#f2b7a0 0 259px,#cbc3d6 0 260px,#efa088 0 261px,#cfc2d0 0 262px,#f3b69e 0 263px,#bac8ec 0 264px,#e5c7bd 0 265px)"></div>
<div class="hr" style="top:500.01px;height:5.48px;background:linear-gradient(90deg,#6f8deb 1px,#8eacf6 0 2px,#7a9cf5 0 3px,#495fcf 0 4px,#88a2ed 0 5px,#6b89e8 0 6px,#6483e9 0 7px,#d4c3cb 0 8px,#5367cf 0 9px,#8eaffb 0 10px,#5264cb 0 11px,#8fb0fa 0 12px,#5670da 0 13px,#6b8bec 0 14px,#6584e8 0 15px,#92b3fd 0 16px,#e7bfb5 0 17px,#9fbdfb 0 18px,#7394f1 0 19px,#85a4f4 0 20px,#8aa8f4 0 21px,#c3c8de 0 22px,#7490e9 0 23px,#c5cbe0 0 24px,#6882e2 0 25px,#495ecc 0 26px,#beceef 0 27px,#7893e9 0 28px,#8fb0fb 0 29px,#8eabf3 0 30px,#bacff5 0 31px,#93b5fd 0 32px,#5d78df 0 33px,#cbcede 0 34px,#627fe4 0 35px,#7f9cef 0 36px,#bcc2dd 0 37px,#d4d0d8 0 38px,#ceb9c3 0 39px,#788cde 0 40px,#cbccdc 0 41px,#91a3e7 0 42px,#bbccf0 0 43px,#9fb0eb 0 44px,#89a4ef 0 45px,#b3c8f3 0 46px,#83a3f5 0 47px,#e3cac5 0 48px,#b6cef8 0 49px,#a9c3f8 0 50px,#c1d0ee 0 51px,#80a1f5 0 52px,#bccdf0 0 53px,#83a3f6 0 54px,#6570c9 0 55px,#cfd3e2 0 56px,#799af3 0 57px,#c9cede 0 58px,#bcc9e9 0 59px,#94b1f7 0 60px,#99b8fb 0 61px,#d4c3cc 0 62px,#97b2f6 0 63px,#646dc3 0 64px,#da766a 0 65px,#caa2ab 0 66px,#d8b5b7 0 67px,#c6d0e6 0 68px,#b3c9f4 0 69px,#ced1e0 0 70px,#b3c9f5 0 71px,#d3c3ca 0 72px,#85a0ee 0 73px,#869deb 0 74px,#9fbbf9 0 75px,#ccd5e9 0 76px,#93aff5 0 77px,#d6d0d7 0 78px,#6369c0 0 79px,#e0c5c2 0 80px,#c6d2ea 0 81px,#de968c 0 82px,#b8c8ec 0 83px,#c7d2ea 0 84px,#adbdec 0 85px,#bed0f1 0 86px,#9cbafb 0 87px,#86a8fa 0 88px,#8ba1ea 0 89px,#acc3f4 0 90px,#d1d8e4 0 91px,#b0c7f5 0 92px,#c5d1ea 0 93px,#dbd4d6 0 94px,#a0baf7 0 95px,#a8c3f9 0 96px,#98b7fa 0 97px,#d6babf 0 98px,#ddb6b3 0 99px,#dfd1d0 0 100px,#bbccf1 0 101px,#d3d3de 0 102px,#91b3fd 0 103px,#decccb 0 104px,#b3c7f3 0 105px,#5a66c7 0 106px,#ded4d4 0 107px,#c5cfe6 0 108px,#dbb9ba 0 109px,#c1d1ee 0 110px,#d5d6df 0 111px,#a1bdf9 0 112px,#7a99f0 0 113px,#a7bff5 0 114px,#bacff4 0 115px,#c7c3d5 0 116px,#9ebbfa 0 117px,#7e98eb 0 118px,#8babf9 0 119px,#c8d3e9 0 120px,#bfc5e5 0 121px,#cd7b7b 0 122px,#a8c2f7 0 123px,#ced3e4 0 124px,#a8c4fb 0 125px,#afc9fa 0 126px,#9eb7f5 0 127px,#c8d1e9 0 128px,#9eb0ec 0 129px,#95b5fb 0 130px,#a1b2ed 0 131px,#e2cec8 0 132px,#e0cfcc 0 133px,#6582e4 0 134px,#f4b69d 0 135px,#b5caf5 0 136px,#9bb8f7 0 137px,#a8c1f6 0 138px,#b2caf7 0 139px,#e19f93 0 140px,#81a1f5 0 141px,#d4ced7 0 142px,#8baaf6 0 143px,#b5cdf8 0 144px,#c5bccd 0 145px,#b2c5ed 0 146px,#a5b6ed 0 147px,#d0d0dd 0 148px,#e8a897 0 149px,#bbd0f4 0 150px,#ddcecf 0 151px,#dfb6b0 0 152px,#a1bbf6 0 153px,#bdc5e7 0 154px,#c2cbe8 0 155px,#adc4f4 0 156px,#a7bcf1 0 157px,#c64b59 0 158px,#e9d0c5 0 159px,#bec7e7 0 160px,#e0d5d3 0 161px,#e79b89 0 162px,#cac0d3 0 163px,#dfdad7 0 164px,#cacee3 0 165px,#bccff3 0 166px,#aeb5e2 0 167px,#b7c1e4 0 168px,#cdc1cd 0 169px,#deb4b0 0 170px,#d2d6e2 0 171px,#c9cde4 0 172px,#bf2b41 0 173px,#d95d54 0 174px,#efa893 0 175px,#edb5a2 0 176px,#eecbbb 0 177px,#c23043 0 178px,#f2bfaa 0 179px,#eba691 0 180px,#d6ccd3 0 181px,#ce4f52 0 182px,#bc233c 0 183px,#e3cbc4 0 184px,#dfd7d6 0 185px,#e98b79 0 186px,#dac3c4 0 187px,#ec8b72 0 188px,#f4af94 0 189px,#f0a48a 0 190px,#d66b66 0 191px,#d04e52 0 192px,#e1d8d3 0 193px,#db6f63 0 194px,#d6d0d8 0 195px,#e67c67 0 196px,#dfb6b3 0 197px,#a8a5d9 0 198px,#e7cbc1 0 199px,#f3ac92 0 200px,#eba38f 0 201px,#e8a99c 0 202px,#d5504b 0 203px,#e9b9aa 0 204px,#d65854 0 205px,#e7806a 0 206px,#bc2640 0 207px,#f0b09a 0 208px,#e77961 0 209px,#f4a487 0 210px,#edc4b3 0 211px,#c1374e 0 212px,#e9ccc1 0 213px,#f5b99f 0 214px,#cd4045 0 215px,#cfc0cd 0 216px,#c83743 0 217px,#d9c6c8 0 218px,#f1ab94 0 219px,#e67862 0 220px,#f0b6a1 0 221px,#e2715d 0 222px,#cacde3 0 223px,#eb876d 0 224px,#e07f6f 0 225px,#e8c6bc 0 226px,#e5d2ca 0 227px,#f1c4b0 0 228px,#e9c7ba 0 229px,#e5b6ac 0 230px,#f2a388 0 231px,#ee9075 0 232px,#d7b8bd 0 233px,#f1a88f 0 234px,#f29a7d 0 235px,#f39b7d 0 236px,#f2b19a 0 237px,#c4adc7 0 238px,#f0b6a1 0 239px,#ced3e2 0 240px,#b3afd7 0 241px,#cfd3e2 0 242px,#f0a389 0 243px,#e3c9c1 0 244px,#ebad9b 0 245px,#cac8dc 0 246px,#babcde 0 247px,#efb6a2 0 248px,#d8d1d7 0 249px,#c0b7d5 0 250px,#ecb3a3 0 251px,#c7bfd5 0 252px,#ddcfce 0 253px,#f2a68b 0 254px,#dd675c 0 255px,#e67a64 0 256px,#bf223a 0 257px,#bab2d3 0 258px,#ed8c72 0 259px,#bdc9ea 0 260px,#f49f82 0 261px,#dd7c71 0 262px,#aeacd9 0 263px,#d9d0d5 0 264px,#e7cfc5 0 265px)"></div>
<div class="hr" style="top:504.99px;height:5.48px;background:linear-gradient(90deg,#b2c7f3 1px,#c9cedf 0 2px,#83a2f4 0 3px,#91b2fb 0 4px,#b8c5e6 0 5px,#bbbfd9 0 6px,#5d79e2 0 7px,#b5cbf5 0 8px,#88a3ef 0 9px,#8eaffb 0 10px,#4a5cc7 0 11px,#89a8f6 0 12px,#4d61cb 0 13px,#96b5fa 0 14px,#7495f2 0 15px,#c4d4ef 0 16px,#d6d6dd 0 17px,#bfd0f0 0 18px,#6685ea 0 19px,#ceafb7 0 20px,#96b5fa 0 21px,#d5c6cd 0 22px,#6e87e3 0 23px,#ddcccd 0 24px,#aec6f5 0 25px,#5e71d1 0 26px,#b2c8f3 0 27px,#92b1f9 0 28px,#89a9f7 0 29px,#a1befa 0 30px,#819def 0 31px,#90adf4 0 32px,#6787eb 0 33px,#b1c6f3 0 34px,#819ff0 0 35px,#758de2 0 36px,#bccae9 0 37px,#e2cac5 0 38px,#b9cef5 0 39px,#c2cfed 0 40px,#b4c6f1 0 41px,#778add 0 42px,#e3d0ca 0 43px,#e5b5ab 0 44px,#94a1e1 0 45px,#b3c2e9 0 46px,#bacdf2 0 47px,#e6cdc4 0 48px,#b4ccf8 0 49px,#adc0ed 0 50px,#c0cfee 0 51px,#9fbaf7 0 52px,#e9c2b6 0 53px,#93adf4 0 54px,#c8d3eb 0 55px,#dfd0ce 0 56px,#bbcdef 0 57px,#c4d3ef 0 58px,#b7cff8 0 59px,#c6d4ed 0 60px,#98b7fb 0 61px,#d5c8cf 0 62px,#d1d3e0 0 63px,#acbbec 0 64px,#f0beaa 0 65px,#e6c3ba 0 66px,#c9d5eb 0 67px,#cad4e8 0 68px,#d5d8e2 0 69px,#c7cfe7 0 70px,#bed0f1 0 71px,#bfcfef 0 72px,#7695ef 0 73px,#9ebcfa 0 74px,#eacfc3 0 75px,#a6baf0 0 76px,#cdd3e5 0 77px,#e0d7d4 0 78px,#a2b2ea 0 79px,#d3d4df 0 80px,#8a9be3 0 81px,#e2988a 0 82px,#e1d8d5 0 83px,#bcc0e1 0 84px,#dbd2d4 0 85px,#b9d0f7 0 86px,#bacdf2 0 87px,#9abafc 0 88px,#cdd0de 0 89px,#e2b9b0 0 90px,#c4d2ef 0 91px,#b1c4f2 0 92px,#edbcaa 0 93px,#c0d2f3 0 94px,#eec8b8 0 95px,#d0d7e6 0 96px,#e7d2c8 0 97px,#d4d4de 0 98px,#dc8379 0 99px,#c5cae5 0 100px,#f0c8b6 0 101px,#f2c0ab 0 102px,#d9d7dc 0 103px,#ecab98 0 104px,#e2d6d1 0 105px,#e2c9c4 0 106px,#c6c9e1 0 107px,#f0bea9 0 108px,#e8a494 0 109px,#ccd5e7 0 110px,#edbeac 0 111px,#f3b59c 0 112px,#a4b5ed 0 113px,#9da7e3 0 114px,#c9cadf 0 115px,#d3d6e1 0 116px,#d6d3dc 0 117px,#a5c0f8 0 118px,#b4c7f1 0 119px,#ebcbbe 0 120px,#b9b2d6 0 121px,#c9cee3 0 122px,#e0d3d0 0 123px,#cdcee0 0 124px,#ebc1b3 0 125px,#c3d3f1 0 126px,#dbc1c1 0 127px,#dac4c5 0 128px,#f4c0a9 0 129px,#d8d7dc 0 130px,#c0ccec 0 131px,#f3c1ab 0 132px,#f2c5b1 0 133px,#ddd3d4 0 134px,#a6bdf3 0 135px,#eac0b4 0 136px,#c7c7df 0 137px,#e5d4cd 0 138px,#e5cac3 0 139px,#eab09f 0 140px,#e2d6d1 0 141px,#9ebaf7 0 142px,#c2cfec 0 143px,#c9d2e6 0 144px,#daadaa 0 145px,#92acf1 0 146px,#e1d3d0 0 147px,#e6cdc5 0 148px,#b8c2e8 0 149px,#d2d7e3 0 150px,#e8cdc2 0 151px,#f0a890 0 152px,#91b3fd 0 153px,#b3c3ee 0 154px,#c2d0ed 0 155px,#ccd3e4 0 156px,#cdcede 0 157px,#d4817e 0 158px,#c5cae2 0 159px,#b3c4ef 0 160px,#bbcaee 0 161px,#c8d2e9 0 162px,#f2b198 0 163px,#eec2b0 0 164px,#bbc6e9 0 165px,#93b1f8 0 166px,#f0c0ad 0 167px,#dad1d6 0 168px,#e5a495 0 169px,#d67f79 0 170px,#dbd7da 0 171px,#f0bba6 0 172px,#ec977f 0 173px,#e2b6af 0 174px,#efa38c 0 175px,#eac1b3 0 176px,#edc7b6 0 177px,#d45958 0 178px,#cf4b51 0 179px,#f0c3b1 0 180px,#eaa28e 0 181px,#ea917d 0 182px,#eda791 0 183px,#e8bfb4 0 184px,#eeae9a 0 185px,#f0a88f 0 186px,#f3ab90 0 187px,#ee9176 0 188px,#eec3b3 0 189px,#d7ced2 0 190px,#eea28b 0 191px,#e9cbbf 0 192px,#eec2b1 0 193px,#ee9d85 0 194px,#efbeab 0 195px,#e7c0b4 0 196px,#c73a49 0 197px,#d5b9c0 0 198px,#f1ac95 0 199px,#d9625a 0 200px,#e5a89e 0 201px,#e78876 0 202px,#f2a68b 0 203px,#b7bfe6 0 204px,#f1c6b3 0 205px,#d9584f 0 206px,#b8304f 0 207px,#e88b76 0 208px,#eeaf9a 0 209px,#f1c5b1 0 210px,#eec8b7 0 211px,#e58571 0 212px,#efb7a2 0 213px,#db665b 0 214px,#f2977a 0 215px,#e8c0b2 0 216px,#f0b5a0 0 217px,#ebbfb0 0 218px,#f5b79d 0 219px,#f2a58a 0 220px,#e88674 0 221px,#df786d 0 222px,#acb3e2 0 223px,#e27663 0 224px,#c54353 0 225px,#efc7b6 0 226px,#c3374c 0 227px,#cacfe5 0 228px,#e0cbc6 0 229px,#bcccef 0 230px,#f39b7d 0 231px,#ec927c 0 232px,#8383cc 0 233px,#e67864 0 234px,#e4c7be 0 235px,#eeb19f 0 236px,#dbc3c4 0 237px,#ecad9c 0 238px,#e0d6d2 0 239px,#efaf99 0 240px,#c6c9e2 0 241px,#d8d3d9 0 242px,#e6d2ca 0 243px,#a2bef8 0 244px,#e9b0a0 0 245px,#e57a65 0 246px,#a2a2da 0 247px,#ccd3e5 0 248px,#d9756b 0 249px,#bbb2d4 0 250px,#bebedf 0 251px,#b3bbe4 0 252px,#d5d1db 0 253px,#ebbbac 0 254px,#e9a593 0 255px,#efad97 0 256px,#e2715e 0 257px,#f3a98e 0 258px,#f2b199 0 259px,#c6cbe4 0 260px,#c42938 0 261px,#f1ac94 0 262px,#e2c6bf 0 263px,#e1d7d3 0 264px,#f4baa2 0 265px)"></div>
<div class="hr" style="top:509.97px;height:5.48px;background:linear-gradient(90deg,#6988e9 1px,#9bb8f9 0 2px,#7899f4 0 3px,#7c9ef6 0 4px,#87a4f1 0 5px,#87a8f7 0 6px,#6988eb 0 7px,#4f65d0 0 8px,#617de1 0 9px,#5a74dc 0 10px,#5770d8 0 11px,#a8c4f9 0 12px,#5a71d5 0 13px,#c5d2eb 0 14px,#6c8aea 0 15px,#b9c5e6 0 16px,#d7d2d8 0 17px,#afc8f9 0 18px,#546fdb 0 19px,#b9beda 0 20px,#7596f2 0 21px,#bec6e1 0 22px,#a0b8f3 0 23px,#7999f1 0 24px,#6a88ea 0 25px,#b2c4ed 0 26px,#8facf2 0 27px,#6f8eed 0 28px,#9cbafb 0 29px,#5e7ce4 0 30px,#c7cee2 0 31px,#83a3f5 0 32px,#94b5fc 0 33px,#d6d7de 0 34px,#6f8eec 0 35px,#a5b7ed 0 36px,#90b0fa 0 37px,#dbd5d8 0 38px,#b7c6e9 0 39px,#edc6b7 0 40px,#d6c5ca 0 41px,#9ebbf9 0 42px,#d9d8dc 0 43px,#90a8ef 0 44px,#89a6f3 0 45px,#85a6f8 0 46px,#b1caf9 0 47px,#d6cdd4 0 48px,#aac5fa 0 49px,#a9beee 0 50px,#a9c0f5 0 51px,#9bb4f4 0 52px,#8ba5f0 0 53px,#a3bbf1 0 54px,#b9c8ec 0 55px,#dbd9db 0 56px,#aec1ee 0 57px,#adc7f9 0 58px,#a2bcf6 0 59px,#adc5f6 0 60px,#97b6fb 0 61px,#89acfc 0 62px,#c3c9df 0 63px,#829ff0 0 64px,#ecc2b3 0 65px,#d3acb0 0 66px,#d0c4cf 0 67px,#ccd3e5 0 68px,#9fbdfc 0 69px,#8daefa 0 70px,#a5bff7 0 71px,#c7d5ed 0 72px,#7c9bf0 0 73px,#b3cbf8 0 74px,#d9d7dc 0 75px,#d5d8e1 0 76px,#e2c6c1 0 77px,#a5bef6 0 78px,#b5c3eb 0 79px,#e4bfb7 0 80px,#d6d1d8 0 81px,#e29c90 0 82px,#92b2fa 0 83px,#96b0f4 0 84px,#bcccef 0 85px,#738ee8 0 86px,#a8c3f8 0 87px,#6883e2 0 88px,#c6cfe6 0 89px,#d3ced6 0 90px,#efc6b5 0 91px,#e4d0ca 0 92px,#e28c7d 0 93px,#d5c9d0 0 94px,#e3d4ce 0 95px,#cfd7e7 0 96px,#c7d4ec 0 97px,#eec5b5 0 98px,#e8b1a3 0 99px,#c6cce6 0 100px,#d6c5cb 0 101px,#e0b2ad 0 102px,#b1c2ef 0 103px,#e9c0b5 0 104px,#d98a81 0 105px,#b9c2e7 0 106px,#b0aed8 0 107px,#e5cbc4 0 108px,#beceee 0 109px,#a6bcf3 0 110px,#9fbbf8 0 111px,#8aa6f0 0 112px,#adbfef 0 113px,#bac5e9 0 114px,#c9c9de 0 115px,#bdcdf0 0 116px,#d3d7e3 0 117px,#b9ccf2 0 118px,#b6c5e9 0 119px,#b0c7f6 0 120px,#d5d5de 0 121px,#e5b8ad 0 122px,#cdd1e2 0 123px,#7f84cf 0 124px,#e9ccc1 0 125px,#c6d3ec 0 126px,#cdcdde 0 127px,#e5c8bf 0 128px,#c5d4ee 0 129px,#e2d4cf 0 130px,#c3c8e4 0 131px,#b0b7e3 0 132px,#e4b8b0 0 133px,#d2ccd7 0 134px,#cbcadd 0 135px,#e0bfbb 0 136px,#c5cee9 0 137px,#dbdbdd 0 138px,#edcaba 0 139px,#e3cbc5 0 140px,#a7c3fb 0 141px,#cec7d4 0 142px,#cdd6e8 0 143px,#b8cff8 0 144px,#d7bcc0 0 145px,#93aaef 0 146px,#b9caf1 0 147px,#ba4e67 0 148px,#edad99 0 149px,#acc2f3 0 150px,#7f99ea 0 151px,#d7d4db 0 152px,#abc3f5 0 153px,#97adf0 0 154px,#d4d2dc 0 155px,#d9d0d5 0 156px,#9ab7f9 0 157px,#c97173 0 158px,#c4c9e3 0 159px,#dcd3d6 0 160px,#c4cbe5 0 161px,#adbeea 0 162px,#a7c2f8 0 163px,#d5d6df 0 164px,#e2d6d1 0 165px,#bed1f3 0 166px,#c0cae9 0 167px,#b6cbf4 0 168px,#8eacf6 0 169px,#d49796 0 170px,#bdccee 0 171px,#b6c8f1 0 172px,#ea9079 0 173px,#ea8d7a 0 174px,#f0b29c 0 175px,#c6b7cf 0 176px,#bfc6e5 0 177px,#cf4b50 0 178px,#f2ae95 0 179px,#eea78f 0 180px,#eaa18d 0 181px,#d34946 0 182px,#dd6a5d 0 183px,#eccbbd 0 184px,#c3cae6 0 185px,#e8beb3 0 186px,#eabbac 0 187px,#d9d6db 0 188px,#ecc5b6 0 189px,#efc8b6 0 190px,#f1c4b0 0 191px,#f2b39b 0 192px,#ecc4b5 0 193px,#bf374e 0 194px,#c7cde6 0 195px,#cfd0e0 0 196px,#f4ae93 0 197px,#edb29f 0 198px,#e6cbc3 0 199px,#bd3852 0 200px,#f1bfaa 0 201px,#d37873 0 202px,#e5c5bc 0 203px,#c7c6dd 0 204px,#eca28d 0 205px,#f1ab91 0 206px,#e48573 0 207px,#e2d2cd 0 208px,#de6d5f 0 209px,#ecbdac 0 210px,#b7c6ed 0 211px,#ee9379 0 212px,#e6bcb2 0 213px,#f1997d 0 214px,#ed917b 0 215px,#dec3bf 0 216px,#e16d5c 0 217px,#bec4e5 0 218px,#f19477 0 219px,#e6765f 0 220px,#e1afa9 0 221px,#eb9e8e 0 222px,#e9cbbf 0 223px,#f1c1ac 0 224px,#ec9178 0 225px,#d86e67 0 226px,#efaa95 0 227px,#a8b5e8 0 228px,#e7b6a9 0 229px,#efae98 0 230px,#ee9d87 0 231px,#c62f3e 0 232px,#ac9fce 0 233px,#ea8f79 0 234px,#e38272 0 235px,#da584b 0 236px,#c0b2cf 0 237px,#ef9076 0 238px,#f2a489 0 239px,#ee8f75 0 240px,#d4c4cb 0 241px,#d47f7c 0 242px,#e48674 0 243px,#eacdc0 0 244px,#e88973 0 245px,#e47763 0 246px,#d2cfdb 0 247px,#e67862 0 248px,#e8c8be 0 249px,#cdacbb 0 250px,#e8b3a6 0 251px,#cfbac7 0 252px,#eda796 0 253px,#f0bdaa 0 254px,#c22b3f 0 255px,#d04242 0 256px,#df6655 0 257px,#e6765e 0 258px,#f29577 0 259px,#c6cee7 0 260px,#c43448 0 261px,#efa894 0 262px,#f0b7a3 0 263px,#f2aa90 0 264px,#d86c66 0 265px)"></div>
<div class="hr" style="top:514.95px;height:5.48px;background:linear-gradient(90deg,#5b77e0 1px,#c7c6da 0 2px,#5064ce 0 3px,#6e8eed 0 4px,#b2c0e6 0 5px,#95b0f1 0 6px,#6882e1 0 7px,#8baaf7 0 8px,#586acd 0 9px,#7a99f0 0 10px,#495bc7 0 11px,#6d89e7 0 12px,#5669cc 0 13px,#738ee6 0 14px,#6e8ce9 0 15px,#5f7ce4 0 16px,#abc4f7 0 17px,#b1caf8 0 18px,#607de3 0 19px,#acc6f8 0 20px,#93b3fb 0 21px,#b7c8ed 0 22px,#d4a2a2 0 23px,#a4baef 0 24px,#708de8 0 25px,#4d62ce 0 26px,#c8c7d9 0 27px,#545bbc 0 28px,#90adf4 0 29px,#7f9ef3 0 30px,#80a2f8 0 31px,#a6b7e7 0 32px,#6b86e5 0 33px,#e5a496 0 34px,#6d8ceb 0 35px,#5a6dcf 0 36px,#bac8ea 0 37px,#7690e7 0 38px,#98b6f8 0 39px,#95a6e7 0 40px,#dcb0ae 0 41px,#6b86e3 0 42px,#c3d0eb 0 43px,#cacfe0 0 44px,#92b2fa 0 45px,#ddbcba 0 46px,#cdcede 0 47px,#acc2f3 0 48px,#afc8f7 0 49px,#8caefb 0 50px,#afc8f7 0 51px,#84a3f5 0 52px,#7c9cf2 0 53px,#82a1f3 0 54px,#8eaefa 0 55px,#7b97ed 0 56px,#d3babe 0 57px,#adc8fa 0 58px,#bed0f2 0 59px,#cbd4e7 0 60px,#6888ed 0 61px,#bacdf2 0 62px,#dbbdbd 0 63px,#5c6ece 0 64px,#d3cfd7 0 65px,#98b4f4 0 66px,#b8ccf2 0 67px,#a8c3f8 0 68px,#d6dae1 0 69px,#e1b1aa 0 70px,#b5bde4 0 71px,#b5ccf7 0 72px,#5d6ccb 0 73px,#c1cdeb 0 74px,#d1cad6 0 75px,#ebbaaa 0 76px,#eac5b9 0 77px,#d5b6ba 0 78px,#929adb 0 79px,#f1c8b5 0 80px,#c8d4eb 0 81px,#bfd0f1 0 82px,#ded3d2 0 83px,#b3c9f5 0 84px,#dbd5d8 0 85px,#a5bff8 0 86px,#c2d2ef 0 87px,#90b1fb 0 88px,#a4bbf1 0 89px,#aec1ee 0 90px,#a5bff7 0 91px,#e1cfcb 0 92px,#d0d7e5 0 93px,#e2a297 0 94px,#89a8f6 0 95px,#90b0f9 0 96px,#97b7fc 0 97px,#9ebbf9 0 98px,#dfb8b4 0 99px,#e7c1b7 0 100px,#ccd2e5 0 101px,#d9d6da 0 102px,#a3bef8 0 103px,#eac5b9 0 104px,#a3bdf6 0 105px,#cad4e9 0 106px,#a8c0f5 0 107px,#b7c3e5 0 108px,#d5d4dd 0 109px,#a4bef6 0 110px,#b4c2ea 0 111px,#bfceed 0 112px,#6d7ed3 0 113px,#768adf 0 114px,#7a8bdd 0 115px,#95b1f5 0 116px,#85a4f5 0 117px,#8dabf5 0 118px,#cad2e5 0 119px,#8faffa 0 120px,#7581d3 0 121px,#c5cfe6 0 122px,#88a7f5 0 123px,#8e9bdf 0 124px,#849fec 0 125px,#a3bef7 0 126px,#9db9f8 0 127px,#d7cdd2 0 128px,#cdd5e7 0 129px,#c7cae1 0 130px,#dec6c5 0 131px,#93a4e7 0 132px,#c7d0e5 0 133px,#acc7f9 0 134px,#bdd0f3 0 135px,#d8c7cc 0 136px,#b8cff8 0 137px,#acc3f5 0 138px,#c7d4ed 0 139px,#e9bfb2 0 140px,#a2bef9 0 141px,#97b4f6 0 142px,#b2c4ed 0 143px,#93aff3 0 144px,#cbd1e2 0 145px,#b0c2ee 0 146px,#eb9f89 0 147px,#d3d3dd 0 148px,#e8cabf 0 149px,#bbd0f5 0 150px,#abc6f9 0 151px,#6d83dd 0 152px,#95b4f9 0 153px,#98b8fc 0 154px,#b1c6f4 0 155px,#df958a 0 156px,#bbd0f5 0 157px,#d0bcc3 0 158px,#d9cbcc 0 159px,#cfccda 0 160px,#b6c9f1 0 161px,#d6ced5 0 162px,#91a6eb 0 163px,#d7cdd2 0 164px,#96a1e0 0 165px,#93adf2 0 166px,#e0c4be 0 167px,#e0d0cd 0 168px,#beceee 0 169px,#bc3953 0 170px,#edb5a3 0 171px,#edc7b8 0 172px,#e68874 0 173px,#d9b3b5 0 174px,#e78f7b 0 175px,#c8c8de 0 176px,#dbcfd1 0 177px,#ea8a72 0 178px,#f2b69e 0 179px,#c5c9e2 0 180px,#ed8f75 0 181px,#e3b3ac 0 182px,#ee9278 0 183px,#f4c1aa 0 184px,#dad4d8 0 185px,#e5cec5 0 186px,#edb9a8 0 187px,#e9b9ad 0 188px,#f3bda6 0 189px,#edbeac 0 190px,#eea38e 0 191px,#d6c9cf 0 192px,#ecbcac 0 193px,#e16d5b 0 194px,#da7c71 0 195px,#f1b6a0 0 196px,#e5bbb1 0 197px,#9cafed 0 198px,#e8d0c5 0 199px,#e39889 0 200px,#e5a092 0 201px,#df8072 0 202px,#f4bba3 0 203px,#dfc7c3 0 204px,#e7a190 0 205px,#f3a185 0 206px,#c44658 0 207px,#f0b19b 0 208px,#d66e69 0 209px,#c0c0de 0 210px,#f4b49c 0 211px,#d8534a 0 212px,#e1d2cd 0 213px,#eea48d 0 214px,#e16a59 0 215px,#c5abc2 0 216px,#de6454 0 217px,#a2ace3 0 218px,#c12237 0 219px,#efa792 0 220px,#e4bab2 0 221px,#d65750 0 222px,#e58472 0 223px,#ce5257 0 224px,#e17462 0 225px,#ea9a85 0 226px,#f2a287 0 227px,#ec8d75 0 228px,#f1987c 0 229px,#eaaf9f 0 230px,#f2b19a 0 231px,#de9996 0 232px,#aca9d7 0 233px,#eb8670 0 234px,#f2c0aa 0 235px,#f2a489 0 236px,#c2b8d4 0 237px,#e1a49e 0 238px,#e6d2ca 0 239px,#e8b1a3 0 240px,#ebbcac 0 241px,#d8ced3 0 242px,#dec4c1 0 243px,#d2d8e3 0 244px,#f2a58b 0 245px,#e5b1a6 0 246px,#cec2cf 0 247px,#eccabd 0 248px,#e7aa9c 0 249px,#cdbbcb 0 250px,#cc5a5f 0 251px,#e0afaa 0 252px,#f2997c 0 253px,#e5cfc6 0 254px,#cf494d 0 255px,#e36f5b 0 256px,#ee8c72 0 257px,#eea791 0 258px,#ebc2b3 0 259px,#b1bbe8 0 260px,#bb142e 0 261px,#dc6053 0 262px,#f3b49c 0 263px,#f3ae95 0 264px,#e6cfc7 0 265px)"></div>
<div class="hr" style="top:519.93px;height:5.48px;background:linear-gradient(90deg,#9cb9f8 1px,#6178da 0 2px,#5c77dd 0 3px,#96b6fd 0 4px,#bfbcd2 0 5px,#93acee 0 6px,#85a1f0 0 7px,#c7d2ea 0 8px,#91aef5 0 9px,#8daef9 0 10px,#5c74d8 0 11px,#a7bef5 0 12px,#738ee7 0 13px,#99aae9 0 14px,#9db7f3 0 15px,#a4c0fa 0 16px,#c9d1e7 0 17px,#b6cdf6 0 18px,#93b1f7 0 19px,#bbccef 0 20px,#b6c5ea 0 21px,#c4cde6 0 22px,#e3c1bc 0 23px,#acc3f5 0 24px,#8ca8f1 0 25px,#96b6fb 0 26px,#bfcfef 0 27px,#758ce3 0 28px,#98b5f7 0 29px,#7e9df1 0 30px,#dfcecd 0 31px,#9ebcfb 0 32px,#80a2f6 0 33px,#ddd4d4 0 34px,#c9d3e9 0 35px,#e4d3cd 0 36px,#d0cdd6 0 37px,#ccd3e3 0 38px,#b9cbf0 0 39px,#b8cef6 0 40px,#aec6f6 0 41px,#a6bbf2 0 42px,#cdd1e4 0 43px,#afbfee 0 44px,#6b7ed6 0 45px,#8eaffa 0 46px,#b4c4ee 0 47px,#dcdadb 0 48px,#768cdf 0 49px,#6785e8 0 50px,#d4ced7 0 51px,#9dbbfa 0 52px,#aec0ee 0 53px,#a5bdf4 0 54px,#c5cee9 0 55px,#aec5f5 0 56px,#abbff0 0 57px,#9db9f7 0 58px,#c1cdeb 0 59px,#9db5f4 0 60px,#d5cad3 0 61px,#91b3fd 0 62px,#ded0d0 0 63px,#a0b6f1 0 64px,#e9ad9c 0 65px,#dea198 0 66px,#a2bef9 0 67px,#8aabf9 0 68px,#b8c7ea 0 69px,#bcc6e2 0 70px,#cad0e5 0 71px,#cab5c2 0 72px,#647ddd 0 73px,#91aff7 0 74px,#d9d4d8 0 75px,#dad7d9 0 76px,#ef9f86 0 77px,#a4c0fa 0 78px,#7788db 0 79px,#92b1f9 0 80px,#acb8e9 0 81px,#e7bfb4 0 82px,#b4c8f2 0 83px,#ebc7b9 0 84px,#abb1e1 0 85px,#8994db 0 86px,#7a98ef 0 87px,#6e88e3 0 88px,#a5bef5 0 89px,#d9acab 0 90px,#b3c7f4 0 91px,#98a8e8 0 92px,#c8d3e8 0 93px,#d5d9e1 0 94px,#d4d9e3 0 95px,#d8d5db 0 96px,#a7bef3 0 97px,#8cacf8 0 98px,#d37b78 0 99px,#cad2e7 0 100px,#dfcecb 0 101px,#bbcbee 0 102px,#9cbafa 0 103px,#d2d5df 0 104px,#9dbbfa 0 105px,#7792e9 0 106px,#adbdec 0 107px,#ced3e2 0 108px,#c1d1f0 0 109px,#b2bae4 0 110px,#bac3e8 0 111px,#c7cee3 0 112px,#8eabf4 0 113px,#c3cae4 0 114px,#d1d5df 0 115px,#adc6f8 0 116px,#cfd4e3 0 117px,#93abf0 0 118px,#a6bff7 0 119px,#bdcdf0 0 120px,#b4ccf7 0 121px,#e7b4a6 0 122px,#829eee 0 123px,#a6bef4 0 124px,#7b94e8 0 125px,#c2d3f1 0 126px,#a3bff9 0 127px,#9eaee9 0 128px,#bac7eb 0 129px,#799af4 0 130px,#e4c2bb 0 131px,#d9d1d5 0 132px,#e9ad9d 0 133px,#859fee 0 134px,#ccd5e8 0 135px,#becef0 0 136px,#9dbaf9 0 137px,#adc5f7 0 138px,#b8c4eb 0 139px,#c5d2ea 0 140px,#667edd 0 141px,#a4bcf1 0 142px,#adc6f7 0 143px,#a7c3fa 0 144px,#d1c9d4 0 145px,#a5c0f8 0 146px,#c9ccdf 0 147px,#e5c2bb 0 148px,#edb3a1 0 149px,#decece 0 150px,#c1d3f1 0 151px,#bbcef2 0 152px,#7393ef 0 153px,#dfd1d0 0 154px,#dcdadb 0 155px,#bbccf0 0 156px,#8fa0e5 0 157px,#ebb5a5 0 158px,#e2d4cf 0 159px,#d0bfc6 0 160px,#cdd3e5 0 161px,#e7a999 0 162px,#abc5f8 0 163px,#c5c6df 0 164px,#b3c6f1 0 165px,#ccd3e5 0 166px,#afb9e6 0 167px,#b5ccf7 0 168px,#d5cdd5 0 169px,#dc968f 0 170px,#bfcced 0 171px,#ded7d6 0 172px,#eba08b 0 173px,#eb9884 0 174px,#dc5e4f 0 175px,#edcabb 0 176px,#eb9982 0 177px,#df8577 0 178px,#f3bba3 0 179px,#f0c5b2 0 180px,#ddd7d7 0 181px,#ee947c 0 182px,#e0d8d5 0 183px,#cdccde 0 184px,#d0d8e6 0 185px,#de6c5c 0 186px,#c3c5e0 0 187px,#dfcdcc 0 188px,#a1b6f0 0 189px,#f3c4ae 0 190px,#f4c3ac 0 191px,#e7a191 0 192px,#eeab94 0 193px,#e19589 0 194px,#eccdbe 0 195px,#f4b095 0 196px,#f1bea8 0 197px,#cfc9d6 0 198px,#eac3b6 0 199px,#d16063 0 200px,#db7d72 0 201px,#f2b29a 0 202px,#d3d1dd 0 203px,#ced0e2 0 204px,#c3c2dd 0 205px,#e6b9ad 0 206px,#e07d6e 0 207px,#eeac97 0 208px,#f4aa8f 0 209px,#e2d1ca 0 210px,#eeb4a1 0 211px,#f4b59c 0 212px,#e9ccc0 0 213px,#b4c8f3 0 214px,#e0bcb9 0 215px,#afb0dc 0 216px,#c22b3f 0 217px,#a5b1e6 0 218px,#ecbdab 0 219px,#f4bea6 0 220px,#e7beb2 0 221px,#f0b7a3 0 222px,#e8cdc2 0 223px,#bb4058 0 224px,#e77e67 0 225px,#eecaba 0 226px,#cfc6d5 0 227px,#bfb9d7 0 228px,#eb9e8d 0 229px,#e79b8a 0 230px,#d4c6cf 0 231px,#f09d82 0 232px,#e7b6a8 0 233px,#ecb8a7 0 234px,#eec7b5 0 235px,#f2af96 0 236px,#cebdcc 0 237px,#dbaeaf 0 238px,#f2a990 0 239px,#e28271 0 240px,#a4a2d6 0 241px,#c5c7e1 0 242px,#edc6b5 0 243px,#e2d1cb 0 244px,#e6cdc3 0 245px,#e67a63 0 246px,#bbc6ea 0 247px,#da5f56 0 248px,#e7b0a2 0 249px,#ddcece 0 250px,#ce494d 0 251px,#979bde 0 252px,#f3baa3 0 253px,#cebcc8 0 254px,#f29a7e 0 255px,#e87e67 0 256px,#c23348 0 257px,#f09b80 0 258px,#f0ae96 0 259px,#bac4e8 0 260px,#df6b5b 0 261px,#e37b6a 0 262px,#e1cdc9 0 263px,#f2b199 0 264px,#f4a68a 0 265px)"></div>
<div class="hr" style="top:524.91px;height:5.48px;background:linear-gradient(90deg,#7798f2 1px,#a0bdf9 0 2px,#7d9bef 0 3px,#4b5fcb 0 4px,#cdb1bb 0 5px,#acbae4 0 6px,#6b8cee 0 7px,#9bbafb 0 8px,#6987e9 0 9px,#6171ce 0 10px,#83a2f3 0 11px,#d2d6e2 0 12px,#5266ce 0 13px,#8daaf3 0 14px,#a5bbef 0 15px,#83a3f6 0 16px,#c8d1e6 0 17px,#bcccef 0 18px,#95b2f5 0 19px,#a2b6eb 0 20px,#8daffc 0 21px,#d6c0c5 0 22px,#b0c1ee 0 23px,#a7c2f9 0 24px,#a8bff2 0 25px,#5c71d4 0 26px,#aec2ee 0 27px,#9bb8f9 0 28px,#96b3f6 0 29px,#94b1f5 0 30px,#7492ed 0 31px,#81a2f6 0 32px,#7999f2 0 33px,#b9cef4 0 34px,#6986e7 0 35px,#7084da 0 36px,#9fbbf8 0 37px,#dcd3d4 0 38px,#c2c6db 0 39px,#cfd7e6 0 40px,#c4c7d9 0 41px,#adc1f1 0 42px,#bacdf2 0 43px,#a8bdf2 0 44px,#92aaee 0 45px,#7b9cf4 0 46px,#a6bdf5 0 47px,#96b2f5 0 48px,#b3c8f2 0 49px,#6c89e9 0 50px,#9db9f8 0 51px,#6c79cd 0 52px,#b4c6f0 0 53px,#b6c7ee 0 54px,#809cee 0 55px,#abc5f9 0 56px,#c2cce6 0 57px,#adc7f8 0 58px,#94b4fb 0 59px,#9ab9fc 0 60px,#b6caf1 0 61px,#aac5fb 0 62px,#9ab8fa 0 63px,#8ea6ed 0 64px,#daa6a2 0 65px,#d1a7ab 0 66px,#b7cbf2 0 67px,#cdd7e9 0 68px,#9cbafa 0 69px,#ccd6ea 0 70px,#dcd3d4 0 71px,#d8d7dc 0 72px,#a4bcf4 0 73px,#e6cac3 0 74px,#c9cadf 0 75px,#f1bba6 0 76px,#b5c8f1 0 77px,#9ab7f8 0 78px,#9da9e4 0 79px,#cad3e6 0 80px,#efbfab 0 81px,#e2d1cd 0 82px,#a2befa 0 83px,#d2d4e0 0 84px,#f5b89f 0 85px,#e1d3cf 0 86px,#b4c8f3 0 87px,#a3c0fa 0 88px,#82a1f2 0 89px,#e2c1ba 0 90px,#cfd1e0 0 91px,#d2d3df 0 92px,#c6c6d9 0 93px,#dcb5b3 0 94px,#e0d8d5 0 95px,#b6cef8 0 96px,#ddd0d1 0 97px,#cf5a5d 0 98px,#e0bdb9 0 99px,#e7cfc6 0 100px,#d9cdd2 0 101px,#f0a990 0 102px,#b8c4ea 0 103px,#d7cbd2 0 104px,#a9bff4 0 105px,#98b0f2 0 106px,#dfd7d5 0 107px,#afc9f9 0 108px,#bdc8ea 0 109px,#d8d3d8 0 110px,#b0c8f8 0 111px,#cad2e8 0 112px,#819def 0 113px,#a3b3eb 0 114px,#e4d2cc 0 115px,#abc3f6 0 116px,#f2bfa9 0 117px,#dcd4d5 0 118px,#9ebcfc 0 119px,#eaad9c 0 120px,#8f9de0 0 121px,#e8b3a5 0 122px,#cfd6e4 0 123px,#d0d6e4 0 124px,#93b0f7 0 125px,#dfd9d7 0 126px,#afc3f1 0 127px,#a6b0e3 0 128px,#dbd5d8 0 129px,#eca895 0 130px,#d5d1d9 0 131px,#ddd3d3 0 132px,#cfd7e7 0 133px,#e2c2bc 0 134px,#8090dc 0 135px,#e9cabf 0 136px,#d7d8de 0 137px,#ecc9ba 0 138px,#a6c1f8 0 139px,#edbead 0 140px,#a2baf4 0 141px,#ddd4d5 0 142px,#d2d6e1 0 143px,#95b1f7 0 144px,#edad98 0 145px,#e0d1cf 0 146px,#edbbab 0 147px,#ebcabd 0 148px,#e6cec6 0 149px,#d5b4b7 0 150px,#f3a58a 0 151px,#ddc2c2 0 152px,#8daaf4 0 153px,#8cabf7 0 154px,#becae8 0 155px,#b8ccf4 0 156px,#a7c1f7 0 157px,#e2aaa0 0 158px,#c7c7de 0 159px,#c8c6d9 0 160px,#a7bef5 0 161px,#d2d2dc 0 162px,#c0cfec 0 163px,#f2b39b 0 164px,#ccc6d7 0 165px,#97a9e7 0 166px,#e3c9c1 0 167px,#ecc1b2 0 168px,#bfcce9 0 169px,#d48987 0 170px,#e7ac9e 0 171px,#c9c9de 0 172px,#e47b66 0 173px,#f19679 0 174px,#f4a88c 0 175px,#e0b8b4 0 176px,#e1cac7 0 177px,#f1bda8 0 178px,#ec937b 0 179px,#ecc9bb 0 180px,#dfdad9 0 181px,#ea9e8d 0 182px,#edc9b9 0 183px,#dcd5d6 0 184px,#d7d1d7 0 185px,#e98b75 0 186px,#ddb4b3 0 187px,#f4ab8f 0 188px,#f1a68b 0 189px,#c7d3eb 0 190px,#efae98 0 191px,#cb5a63 0 192px,#de8f85 0 193px,#c34d61 0 194px,#e4d3cc 0 195px,#d3ccd7 0 196px,#e6b6aa 0 197px,#dbc3c4 0 198px,#9eafeb 0 199px,#f49f81 0 200px,#e9c7ba 0 201px,#e1cfca 0 202px,#e7c2b5 0 203px,#c5c9e3 0 204px,#e18879 0 205px,#de7163 0 206px,#b13057 0 207px,#eb9f89 0 208px,#e38776 0 209px,#d3d6e1 0 210px,#acaad9 0 211px,#e79684 0 212px,#ddc5c4 0 213px,#f2baa4 0 214px,#dac2c4 0 215px,#dcd0d1 0 216px,#e07260 0 217px,#b7c0e7 0 218px,#f2baa4 0 219px,#e5c2b7 0 220px,#ccc3d4 0 221px,#ec9a85 0 222px,#eb9179 0 223px,#f2b9a1 0 224px,#ee957c 0 225px,#ecc9bb 0 226px,#f1aa91 0 227px,#909bdd 0 228px,#d5d2dc 0 229px,#edc8b9 0 230px,#f3b39b 0 231px,#f3a084 0 232px,#8473c0 0 233px,#ea8972 0 234px,#e3d1ca 0 235px,#f1a48c 0 236px,#deb7b3 0 237px,#dea8a5 0 238px,#cecedd 0 239px,#e49889 0 240px,#cbd2e6 0 241px,#eba693 0 242px,#f3ac92 0 243px,#f0a58c 0 244px,#f0b8a3 0 245px,#eb9079 0 246px,#b1bae6 0 247px,#eebaa8 0 248px,#dbbcbd 0 249px,#d9c5c6 0 250px,#cdcedf 0 251px,#cdb0be 0 252px,#eacdc0 0 253px,#f3c3ae 0 254px,#ed8c72 0 255px,#f1977b 0 256px,#bc1630 0 257px,#ef967c 0 258px,#dfcdca 0 259px,#a4abe1 0 260px,#f09e84 0 261px,#f09377 0 262px,#d0ccda 0 263px,#f0baa5 0 264px,#e4a79a 0 265px)"></div>
<div class="hr" style="top:529.89px;height:5.48px;background:linear-gradient(90deg,#4c62cf 1px,#aac5fa 0 2px,#5164cd 0 3px,#6887eb 0 4px,#7596f3 0 5px,#aabdeb 0 6px,#8bacfa 0 7px,#8098e7 0 8px,#5c6bc8 0 9px,#7f9df1 0 10px,#505dc1 0 11px,#afc6f5 0 12px,#4b5cc6 0 13px,#6780df 0 14px,#95b1f4 0 15px,#5064ce 0 16px,#a3c0fa 0 17px,#a8c1f6 0 18px,#8aa9f6 0 19px,#dbaba9 0 20px,#82a2f6 0 21px,#bccbed 0 22px,#b1bee6 0 23px,#98b4f5 0 24px,#9ab7f7 0 25px,#9fbcfa 0 26px,#a9c2f5 0 27px,#5169d5 0 28px,#ccb6c0 0 29px,#b8c6e8 0 30px,#83a3f5 0 31px,#c7cee2 0 32px,#cbd4e7 0 33px,#e7c2b9 0 34px,#8bacfa 0 35px,#606fcb 0 36px,#a3bcf4 0 37px,#e0c6c2 0 38px,#b5c9f0 0 39px,#e0d8d5 0 40px,#baccf2 0 41px,#758de4 0 42px,#b7ccf3 0 43px,#9bb4f4 0 44px,#bcd1f6 0 45px,#6886e8 0 46px,#ced2df 0 47px,#97b3f6 0 48px,#98b7fb 0 49px,#b9c3e2 0 50px,#c4d1ed 0 51px,#839deb 0 52px,#b6cef8 0 53px,#99b5f6 0 54px,#c2d3f1 0 55px,#bdd0f3 0 56px,#b9c7eb 0 57px,#caccdc 0 58px,#7898f0 0 59px,#b1c9f6 0 60px,#8aabfa 0 61px,#91b0f9 0 62px,#c8d1e8 0 63px,#ccd2e4 0 64px,#b4c6ee 0 65px,#cd969b 0 66px,#e1b8b3 0 67px,#b8cbf0 0 68px,#c2d2ef 0 69px,#c1cbe9 0 70px,#c6d1eb 0 71px,#d4ced7 0 72px,#a5baf1 0 73px,#adc0f0 0 74px,#dfd2d0 0 75px,#e6d0c7 0 76px,#e2c6c1 0 77px,#d8d0d6 0 78px,#92a2e6 0 79px,#e4cfc9 0 80px,#b4c7f1 0 81px,#eca995 0 82px,#a4bef7 0 83px,#f4bea6 0 84px,#bbbddf 0 85px,#e6cfc7 0 86px,#e4d2cb 0 87px,#839ae8 0 88px,#ddc4c2 0 89px,#d1c0c9 0 90px,#cad0e6 0 91px,#d5d1da 0 92px,#d5d5df 0 93px,#ebc1b4 0 94px,#d9cccf 0 95px,#c7d5ed 0 96px,#b9cff6 0 97px,#c6cbe4 0 98px,#efa991 0 99px,#e5d3cb 0 100px,#f09f85 0 101px,#c9d3e9 0 102px,#dfd0cd 0 103px,#d97369 0 104px,#dccdce 0 105px,#94a9eb 0 106px,#ee9379 0 107px,#d7d8df 0 108px,#e0cbc8 0 109px,#cbd5e9 0 110px,#dfcecc 0 111px,#afc8f8 0 112px,#b4c8f3 0 113px,#b9c9ef 0 114px,#b5c2ea 0 115px,#afbdea 0 116px,#cdd0e2 0 117px,#8a9fe8 0 118px,#abc6fb 0 119px,#bdc9ec 0 120px,#c5cbe6 0 121px,#d7d0d6 0 122px,#d3d4df 0 123px,#b9bfe2 0 124px,#bbc7ea 0 125px,#abc6fb 0 126px,#aab7ea 0 127px,#e7d1c7 0 128px,#a6b5ea 0 129px,#c4d3ef 0 130px,#bdc8ea 0 131px,#c5cae5 0 132px,#bccef3 0 133px,#ebc6ba 0 134px,#dbd8db 0 135px,#c3c8dc 0 136px,#e8ccc2 0 137px,#aabbee 0 138px,#e0d9d6 0 139px,#e69c8b 0 140px,#b2caf7 0 141px,#b2c6f3 0 142px,#a3bffa 0 143px,#d7bdbf 0 144px,#adbfeb 0 145px,#afc7f6 0 146px,#d68d88 0 147px,#d3d2db 0 148px,#cacce1 0 149px,#d4d4dd 0 150px,#b7c7ee 0 151px,#dcc8c8 0 152px,#c3cee7 0 153px,#d5d0da 0 154px,#bbcdf0 0 155px,#eec8b7 0 156px,#ddd6d6 0 157px,#da7f75 0 158px,#a2b0e7 0 159px,#e5d2ca 0 160px,#f2bba4 0 161px,#eda58e 0 162px,#97b5f8 0 163px,#f0b19c 0 164px,#b7c4eb 0 165px,#a7c0f6 0 166px,#d5c9d0 0 167px,#c5cde5 0 168px,#c2cfec 0 169px,#d9837b 0 170px,#d5c9ce 0 171px,#c6c1da 0 172px,#ef9c82 0 173px,#e8c0b3 0 174px,#f2b39b 0 175px,#b4bae2 0 176px,#cad4e8 0 177px,#ebc5b7 0 178px,#efc1af 0 179px,#e0ccc8 0 180px,#f4ab90 0 181px,#ddb6b5 0 182px,#f3a98e 0 183px,#e4cdc5 0 184px,#ddd6d6 0 185px,#e2cec9 0 186px,#f4bea7 0 187px,#dfcbca 0 188px,#cdd6e6 0 189px,#e3bfb8 0 190px,#dfb3ae 0 191px,#dfc4c2 0 192px,#ddd5d5 0 193px,#b9304e 0 194px,#eb9e89 0 195px,#efb9a6 0 196px,#e3d5cf 0 197px,#b8c5eb 0 198px,#b7bee3 0 199px,#e2cfc9 0 200px,#dcc7c7 0 201px,#d4cad1 0 202px,#e1c4c1 0 203px,#daced0 0 204px,#e0bab4 0 205px,#de6c5b 0 206px,#cb636a 0 207px,#ecc6b8 0 208px,#f4bba3 0 209px,#b2c8f5 0 210px,#b1b5df 0 211px,#f0ad95 0 212px,#cbd0e4 0 213px,#e9cdc2 0 214px,#bebada 0 215px,#c8bed3 0 216px,#f4a083 0 217px,#c9c8de 0 218px,#e58a77 0 219px,#ddcecd 0 220px,#f1af98 0 221px,#eaa79a 0 222px,#efbfad 0 223px,#f3ad92 0 224px,#f0beab 0 225px,#d5d6df 0 226px,#c1b8d3 0 227px,#e3d0c9 0 228px,#f29f83 0 229px,#e6b3a7 0 230px,#efb5a0 0 231px,#cb373d 0 232px,#928bca 0 233px,#f1b6a1 0 234px,#d3d8e3 0 235px,#f4b79e 0 236px,#d9cbce 0 237px,#d6bbc0 0 238px,#d2d3df 0 239px,#e69e8e 0 240px,#8082cb 0 241px,#dfd7d5 0 242px,#e6d3ca 0 243px,#aeb8e6 0 244px,#e08779 0 245px,#f0b8a3 0 246px,#e0d9d6 0 247px,#cdd3e5 0 248px,#da8880 0 249px,#e4d1c9 0 250px,#f0a187 0 251px,#e1d1ce 0 252px,#babddf 0 253px,#c9c8dd 0 254px,#d5605e 0 255px,#f39d80 0 256px,#efbfad 0 257px,#d1cfdd 0 258px,#eec8b9 0 259px,#d1cfdc 0 260px,#f2ab91 0 261px,#e0d2ce 0 262px,#c7cce4 0 263px,#eec6b6 0 264px,#e6c1b8 0 265px)"></div>
<div class="hr" style="top:534.87px;height:5.48px;background:linear-gradient(90deg,#89aaf9 1px,#bfd1f2 0 2px,#6078db 0 3px,#97b6fb 0 4px,#b7c1e1 0 5px,#c9b6c4 0 6px,#5d75d8 0 7px,#bdcdee 0 8px,#bec1e0 0 9px,#6785e9 0 10px,#96aff2 0 11px,#a3baf3 0 12px,#566acf 0 13px,#b9cbf0 0 14px,#6481e6 0 15px,#a0b9f4 0 16px,#c8d5eb 0 17px,#b1cafa 0 18px,#80a2f8 0 19px,#b4c3e9 0 20px,#b3caf6 0 21px,#cdd4e4 0 22px,#c6d1e9 0 23px,#5c73d7 0 24px,#8faaf2 0 25px,#9fbaf6 0 26px,#afc2ed 0 27px,#617bde 0 28px,#99b7f9 0 29px,#90aef6 0 30px,#a9c3f8 0 31px,#a2bef9 0 32px,#4f62cc 0 33px,#becbea 0 34px,#637ddf 0 35px,#9ab4f3 0 36px,#cfc4ce 0 37px,#aebdec 0 38px,#92b0f5 0 39px,#e0cdca 0 40px,#ded9d8 0 41px,#a8bbef 0 42px,#e2d3ce 0 43px,#edbdac 0 44px,#a1bdf8 0 45px,#cbd4e8 0 46px,#94b3f9 0 47px,#c3d1ee 0 48px,#acc6f9 0 49px,#bbc4e1 0 50px,#db9c97 0 51px,#a6bff6 0 52px,#afbeec 0 53px,#97aaeb 0 54px,#bfcff0 0 55px,#f1b8a3 0 56px,#9ab2f1 0 57px,#a6bff6 0 58px,#a7bdf2 0 59px,#a0b9f4 0 60px,#84a0ef 0 61px,#cfcad5 0 62px,#bccdee 0 63px,#9db5f3 0 64px,#c4cde5 0 65px,#d4c3ca 0 66px,#c8d5ec 0 67px,#c1ceea 0 68px,#95b4fa 0 69px,#dfc8c5 0 70px,#bbb4d3 0 71px,#c2c3d7 0 72px,#839eef 0 73px,#839deb 0 74px,#bdcaed 0 75px,#b8caf1 0 76px,#aec4f4 0 77px,#c9d0e6 0 78px,#8b9fe7 0 79px,#b0c6f4 0 80px,#d4d5df 0 81px,#e7ab9d 0 82px,#d9d1d6 0 83px,#b6c8f0 0 84px,#8b93d9 0 85px,#b5cbf5 0 86px,#6774cd 0 87px,#98b7fa 0 88px,#6471ca 0 89px,#e2b7b0 0 90px,#bccbef 0 91px,#cecfe0 0 92px,#c0d2f2 0 93px,#dfcccb 0 94px,#d7d2d8 0 95px,#e7c6bd 0 96px,#d4d8e1 0 97px,#cad3e8 0 98px,#e3bbb4 0 99px,#bdcaec 0 100px,#bebfde 0 101px,#ded6d6 0 102px,#ddd4d4 0 103px,#c2cfea 0 104px,#b2c4f1 0 105px,#96b0f4 0 106px,#ced6e6 0 107px,#d1d2df 0 108px,#e9a392 0 109px,#86a6f7 0 110px,#c7d1e9 0 111px,#bfceed 0 112px,#a1b3ec 0 113px,#9daeeb 0 114px,#91a4e8 0 115px,#9ebaf7 0 116px,#acc4f6 0 117px,#a6c2fa 0 118px,#d7d1d8 0 119px,#c2d1ee 0 120px,#b2c8f3 0 121px,#dac0c0 0 122px,#ced1df 0 123px,#a3b7f0 0 124px,#93b2fa 0 125px,#abc2f5 0 126px,#b2cbfa 0 127px,#dfd3d0 0 128px,#b9bfe3 0 129px,#b6caf3 0 130px,#b0c0ed 0 131px,#e8d0c5 0 132px,#d0d5e2 0 133px,#bbcbec 0 134px,#b9cbf1 0 135px,#b2c3eb 0 136px,#b4c3e9 0 137px,#d3d3de 0 138px,#6a85e3 0 139px,#c9cee0 0 140px,#a6c3fb 0 141px,#b3c2e9 0 142px,#edcbbc 0 143px,#b8c8ec 0 144px,#c5d2ea 0 145px,#82a2f5 0 146px,#b0c9f9 0 147px,#edc1b0 0 148px,#e5d3cc 0 149px,#b8c9f1 0 150px,#7d9aee 0 151px,#daced2 0 152px,#b1cafa 0 153px,#bbcdf2 0 154px,#bac3e6 0 155px,#d4d7e0 0 156px,#a4b3ea 0 157px,#e8cfc4 0 158px,#cfd7e7 0 159px,#efc0ad 0 160px,#cad1e4 0 161px,#e2c8c4 0 162px,#93a3e6 0 163px,#cdd1e3 0 164px,#a7b4e8 0 165px,#92a7eb 0 166px,#edbcab 0 167px,#a9c5fb 0 168px,#dac9cc 0 169px,#d47b77 0 170px,#d8d0d5 0 171px,#dec9c7 0 172px,#de9187 0 173px,#e99888 0 174px,#f4a184 0 175px,#c9bed3 0 176px,#eea68e 0 177px,#eda28b 0 178px,#e97c63 0 179px,#f0b8a3 0 180px,#d7dae1 0 181px,#e4bbb3 0 182px,#eaa28e 0 183px,#f3ae94 0 184px,#d7d4da 0 185px,#de6c5f 0 186px,#ee9781 0 187px,#f19f85 0 188px,#eac3b5 0 189px,#f4bca4 0 190px,#e88771 0 191px,#f5bda5 0 192px,#f3ab90 0 193px,#be455d 0 194px,#ed9c85 0 195px,#f3bea8 0 196px,#e5afa7 0 197px,#c8bed4 0 198px,#ecc4b5 0 199px,#ddcecd 0 200px,#e89987 0 201px,#f2b7a0 0 202px,#dcd5d6 0 203px,#d5cad1 0 204px,#d45f59 0 205px,#ef8f73 0 206px,#bf3951 0 207px,#f3b9a1 0 208px,#c1364c 0 209px,#f4af95 0 210px,#c7b7ce 0 211px,#dc6054 0 212px,#d4d0da 0 213px,#d87f78 0 214px,#e5c2b8 0 215px,#f1b29c 0 216px,#da5a4e 0 217px,#b1b7e2 0 218px,#c03249 0 219px,#f29a7d 0 220px,#eab3a4 0 221px,#e0c9c3 0 222px,#f4a285 0 223px,#e68c79 0 224px,#e68470 0 225px,#ddd4d4 0 226px,#ef9b83 0 227px,#f0c9b7 0 228px,#ef9479 0 229px,#efbfab 0 230px,#f3b096 0 231px,#e26e59 0 232px,#c9aec2 0 233px,#f2a78d 0 234px,#d8d5da 0 235px,#efc0ad 0 236px,#ebb5a6 0 237px,#e6aba1 0 238px,#f1c2ad 0 239px,#da7970 0 240px,#d6ced5 0 241px,#d1d1e0 0 242px,#dec8c5 0 243px,#dacfd2 0 244px,#e09d93 0 245px,#f1a991 0 246px,#cacde1 0 247px,#efc8b7 0 248px,#e1d2ce 0 249px,#d3b7bf 0 250px,#e6c1b8 0 251px,#e9ccc0 0 252px,#cac7db 0 253px,#e4cdc5 0 254px,#ef9a80 0 255px,#e47762 0 256px,#d6635e 0 257px,#e1d2cd 0 258px,#f2ac93 0 259px,#7a89d8 0 260px,#e47661 0 261px,#ebc7b8 0 262px,#e3d3cd 0 263px,#ebc9bb 0 264px,#e8b4a7 0 265px)"></div>
<div class="hr" style="top:539.85px;height:5.48px;background:linear-gradient(90deg,#adbfeb 1px,#d9d3d7 0 2px,#b9cff6 0 3px,#82a1f3 0 4px,#d2898a 0 5px,#c9b1be 0 6px,#879fea 0 7px,#c5cde7 0 8px,#a0aee6 0 9px,#c5d2ed 0 10px,#a4b3ea 0 11px,#c1d1f0 0 12px,#bbcdf0 0 13px,#b9c3e8 0 14px,#c8c5d5 0 15px,#d1d6e3 0 16px,#e1cbc6 0 17px,#cdd2e3 0 18px,#ccd1e1 0 19px,#d78e89 0 20px,#9ebbf9 0 21px,#b5c9f1 0 22px,#c2cae2 0 23px,#d7c0c4 0 24px,#b7c9f1 0 25px,#cdd5e5 0 26px,#d58582 0 27px,#9fbdfa 0 28px,#cfb7c1 0 29px,#7896ee 0 30px,#e1d3d0 0 31px,#bfd1f2 0 32px,#e4cbc4 0 33px,#e2d0cc 0 34px,#abc4f7 0 35px,#839ce9 0 36px,#e9ccc1 0 37px,#e4d5ce 0 38px,#d5d7e0 0 39px,#dbcccd 0 40px,#da877f 0 41px,#819def 0 42px,#f1af96 0 43px,#d7d7de 0 44px,#b7c5eb 0 45px,#b0c8f8 0 46px,#cdcddd 0 47px,#e7cdc5 0 48px,#c8d0e8 0 49px,#d6d2d9 0 50px,#acc1f1 0 51px,#8ba1ea 0 52px,#b1b9e5 0 53px,#e4d4cd 0 54px,#e1d7d3 0 55px,#efc0ad 0 56px,#d6d1d7 0 57px,#abc5f7 0 58px,#b7ccf5 0 59px,#cfd6e6 0 60px,#d0d7e6 0 61px,#c7d1e7 0 62px,#a0b8f4 0 63px,#8ea2e7 0 64px,#eeaa95 0 65px,#d9d5d9 0 66px,#beccee 0 67px,#ded0d0 0 68px,#b8c6e8 0 69px,#e19b8f 0 70px,#b7c0e7 0 71px,#b8ccf4 0 72px,#6c81dc 0 73px,#bac6e9 0 74px,#d9c8ca 0 75px,#e6c3b9 0 76px,#d9d2d6 0 77px,#a6c2fa 0 78px,#a4b7ee 0 79px,#b7caf1 0 80px,#bdcff1 0 81px,#e8a999 0 82px,#e9a290 0 83px,#98b1f3 0 84px,#f3bca5 0 85px,#decdcd 0 86px,#9da7e1 0 87px,#bfcff0 0 88px,#d8d5d9 0 89px,#e4a99c 0 90px,#b3c9f4 0 91px,#d6d3da 0 92px,#a7c2f9 0 93px,#bcccee 0 94px,#d2d2df 0 95px,#b9cff6 0 96px,#e1d5d2 0 97px,#acbaeb 0 98px,#e9b9ac 0 99px,#deb1ab 0 100px,#edc6b6 0 101px,#e6907d 0 102px,#cdcee1 0 103px,#e1897b 0 104px,#bbcef2 0 105px,#c7cde4 0 106px,#f0baa5 0 107px,#efb49f 0 108px,#efa48c 0 109px,#cad5ea 0 110px,#cbd4e7 0 111px,#707cd1 0 112px,#b8c8ef 0 113px,#bbccf1 0 114px,#aebbe9 0 115px,#e0d3d0 0 116px,#ced5e6 0 117px,#a5bdf4 0 118px,#a8c3f8 0 119px,#86a2f0 0 120px,#7179c9 0 121px,#e6aea1 0 122px,#e9cabf 0 123px,#bec1e0 0 124px,#dcd1d3 0 125px,#9daae5 0 126px,#e3d0ca 0 127px,#f3baa2 0 128px,#dec9c5 0 129px,#e9c8bd 0 130px,#bcbbdc 0 131px,#c0c1df 0 132px,#e6cdc4 0 133px,#d2d5e0 0 134px,#bdc9eb 0 135px,#dcd0d1 0 136px,#aac3f7 0 137px,#c2d1ef 0 138px,#c4d4ef 0 139px,#f2b69e 0 140px,#e0d6d4 0 141px,#d2bcc4 0 142px,#91a2e7 0 143px,#95b4f9 0 144px,#dccfd1 0 145px,#85a6f9 0 146px,#e1d5d1 0 147px,#e6bfb5 0 148px,#e5d1c8 0 149px,#e4d4cd 0 150px,#b9cef4 0 151px,#e3cac4 0 152px,#5369d1 0 153px,#92aef5 0 154px,#a1befa 0 155px,#99b9fc 0 156px,#c5d1ec 0 157px,#de9990 0 158px,#c8cfe6 0 159px,#d58480 0 160px,#c3cfea 0 161px,#dabfc2 0 162px,#c3cde5 0 163px,#aabdf0 0 164px,#b5c0e8 0 165px,#a2b7f0 0 166px,#a7a6db 0 167px,#becfef 0 168px,#ddbcba 0 169px,#d47d79 0 170px,#dfccc8 0 171px,#a1a3d9 0 172px,#ef9379 0 173px,#f1a389 0 174px,#f0a791 0 175px,#8f91d3 0 176px,#e0d1cd 0 177px,#c23348 0 178px,#c94d5a 0 179px,#d7d0d6 0 180px,#efbba7 0 181px,#df7564 0 182px,#de8275 0 183px,#d3cad4 0 184px,#dbd3d6 0 185px,#f2a58a 0 186px,#f2b49c 0 187px,#c64555 0 188px,#eac7ba 0 189px,#dfd4d2 0 190px,#efbcaa 0 191px,#ed8d73 0 192px,#e68772 0 193px,#cb414c 0 194px,#d9655f 0 195px,#dfcecc 0 196px,#f1b199 0 197px,#c7c9e0 0 198px,#eccbbc 0 199px,#c04258 0 200px,#e1b9b6 0 201px,#dfb9b7 0 202px,#f3b8a1 0 203px,#dccfd0 0 204px,#e3bdb4 0 205px,#de6152 0 206px,#be3550 0 207px,#f0997f 0 208px,#f4b8a0 0 209px,#efaa93 0 210px,#98a8e8 0 211px,#e18b7b 0 212px,#b3caf6 0 213px,#d4d8e2 0 214px,#f3ae94 0 215px,#f2b59d 0 216px,#efa78e 0 217px,#ced4e6 0 218px,#f3ae93 0 219px,#c9cbe0 0 220px,#beb4d2 0 221px,#e0b3ae 0 222px,#f3a083 0 223px,#ed9b83 0 224px,#efbba8 0 225px,#e0d8d6 0 226px,#e88c77 0 227px,#b7c1e7 0 228px,#cdbecd 0 229px,#ed967e 0 230px,#bb1935 0 231px,#ec9b88 0 232px,#d7cad1 0 233px,#eda493 0 234px,#f0c3b0 0 235px,#dcbcb9 0 236px,#e2bfb6 0 237px,#ddb2b0 0 238px,#c4cfea 0 239px,#c9505d 0 240px,#e8cdc2 0 241px,#f0c5b2 0 242px,#e5ccc5 0 243px,#f0a991 0 244px,#e4806c 0 245px,#f2aa90 0 246px,#cfcbdb 0 247px,#f0c1ae 0 248px,#e3cbc4 0 249px,#c5bed7 0 250px,#f0baa5 0 251px,#d5c1c7 0 252px,#ea7f66 0 253px,#e16b57 0 254px,#f3a88d 0 255px,#f19376 0 256px,#cc464d 0 257px,#edbfae 0 258px,#d1ccd9 0 259px,#656fc6 0 260px,#d54e48 0 261px,#d8645b 0 262px,#aeafdd 0 263px,#eeb29f 0 264px,#dab5b5 0 265px)"></div>
<div class="hr" style="top:544.83px;height:5.48px;background:linear-gradient(90deg,#97b6fa 1px,#b7caf1 0 2px,#9ebaf8 0 3px,#bacdf2 0 4px,#b5bedf 0 5px,#aab9e4 0 6px,#5d77dd 0 7px,#a2bef9 0 8px,#899ee9 0 9px,#adc8fa 0 10px,#5163ca 0 11px,#9db2f0 0 12px,#96aef1 0 13px,#9cb4f3 0 14px,#95b5fb 0 15px,#8fb0fc 0 16px,#8fb0fb 0 17px,#7c99ee 0 18px,#7c9cf3 0 19px,#bac4e3 0 20px,#a1befa 0 21px,#bfcbe7 0 22px,#bec6e0 0 23px,#8eaffb 0 24px,#a4c0fa 0 25px,#9bbafc 0 26px,#8caefb 0 27px,#a9c1f5 0 28px,#8faaf1 0 29px,#5b71d6 0 30px,#8eb0fc 0 31px,#b5c4e8 0 32px,#7394f1 0 33px,#94b5fc 0 34px,#7e9ff6 0 35px,#94b1f6 0 36px,#9bb5f1 0 37px,#eca894 0 38px,#cfcfdc 0 39px,#a3bffa 0 40px,#cccee0 0 41px,#93aaee 0 42px,#d8d5db 0 43px,#bbc9ee 0 44px,#829fef 0 45px,#b2c6ef 0 46px,#afc6f4 0 47px,#b7c6ed 0 48px,#a8c3f9 0 49px,#98b6f9 0 50px,#b9cef4 0 51px,#7d9bf0 0 52px,#7187de 0 53px,#6674ce 0 54px,#d3d6e1 0 55px,#bdcced 0 56px,#8fb0fb 0 57px,#abc4f7 0 58px,#5669cd 0 59px,#c4d3ef 0 60px,#c8cada 0 61px,#97b5f8 0 62px,#a1bdf9 0 63px,#97b2f3 0 64px,#dac0c2 0 65px,#b1c2eb 0 66px,#ded8d7 0 67px,#d1d8e5 0 68px,#c1d0ed 0 69px,#d8b5b8 0 70px,#8fa4eb 0 71px,#9bb7f6 0 72px,#748be1 0 73px,#98b7fa 0 74px,#bbb6d7 0 75px,#e2d4cf 0 76px,#d8d0d5 0 77px,#b9cef6 0 78px,#7e93e4 0 79px,#adc8fa 0 80px,#cbd2e6 0 81px,#e8b5a7 0 82px,#a4c1fb 0 83px,#e2d4cf 0 84px,#9db6f4 0 85px,#6780df 0 86px,#d0d4e2 0 87px,#5d6cca 0 88px,#e5c5bd 0 89px,#e1c5c2 0 90px,#7f92e1 0 91px,#cec7d4 0 92px,#bdc6e8 0 93px,#bed2f4 0 94px,#b7cef6 0 95px,#c8d1e6 0 96px,#9ab3f2 0 97px,#bdd0f3 0 98px,#e9b0a0 0 99px,#e07f6f 0 100px,#e0d6d4 0 101px,#d8d9df 0 102px,#d7d3d8 0 103px,#dbc1c0 0 104px,#bacff5 0 105px,#8c9ee4 0 106px,#b7c3ea 0 107px,#a8c3f9 0 108px,#bfd1f2 0 109px,#b0caf9 0 110px,#c6cee7 0 111px,#b7cdf5 0 112px,#6075d4 0 113px,#89a1ec 0 114px,#a0b3ee 0 115px,#c8d0e7 0 116px,#a6bff7 0 117px,#b2c9f5 0 118px,#bbcaec 0 119px,#86a2ef 0 120px,#9daae5 0 121px,#e6b9ae 0 122px,#c7cfe7 0 123px,#aebceb 0 124px,#b7cdf6 0 125px,#f0beab 0 126px,#ddd5d7 0 127px,#a1abe3 0 128px,#dcdadb 0 129px,#c8d4ec 0 130px,#dfd7d5 0 131px,#c8cfe7 0 132px,#b4c6f0 0 133px,#dccfd0 0 134px,#c0ceed 0 135px,#b9ccf2 0 136px,#95b2f7 0 137px,#aec0ef 0 138px,#a9c3f7 0 139px,#eec9b9 0 140px,#d1d3df 0 141px,#bac0dc 0 142px,#e6cac2 0 143px,#d3c4cd 0 144px,#d9bec1 0 145px,#92b1f8 0 146px,#eebeab 0 147px,#e0b9b3 0 148px,#c9d4e9 0 149px,#e5ccc4 0 150px,#ddcbcc 0 151px,#bacdf2 0 152px,#bbcef2 0 153px,#9eb9f7 0 154px,#e69380 0 155px,#94aff4 0 156px,#9eb7f4 0 157px,#ecc5b6 0 158px,#bbcbef 0 159px,#dcd3d5 0 160px,#b0c5f2 0 161px,#e2c3be 0 162px,#beceee 0 163px,#e6d3ca 0 164px,#c7d0e9 0 165px,#b6c5ed 0 166px,#e9826d 0 167px,#c6d3ed 0 168px,#cbcede 0 169px,#e19486 0 170px,#f0b29d 0 171px,#94a8e9 0 172px,#edb29d 0 173px,#f19d82 0 174px,#f3c1ac 0 175px,#c9c4d8 0 176px,#91b1fa 0 177px,#efad97 0 178px,#e68773 0 179px,#e3d4ce 0 180px,#f2b69e 0 181px,#e8d1c6 0 182px,#e27e6c 0 183px,#dec6c6 0 184px,#c0ceee 0 185px,#eb927b 0 186px,#c6b6cd 0 187px,#e07261 0 188px,#e5d4cb 0 189px,#e4d2cc 0 190px,#dec4c3 0 191px,#edb5a4 0 192px,#e8cec4 0 193px,#f0a890 0 194px,#b4c6f0 0 195px,#edb29f 0 196px,#d4b9c2 0 197px,#dbc7c8 0 198px,#d5d7e0 0 199px,#f0b19b 0 200px,#c0c7e5 0 201px,#dd786b 0 202px,#ddcdcd 0 203px,#f0b8a4 0 204px,#e38376 0 205px,#e47563 0 206px,#d9766e 0 207px,#f2c5b0 0 208px,#f1c7b4 0 209px,#f3bea7 0 210px,#e3cac1 0 211px,#f4b9a1 0 212px,#f3a488 0 213px,#eacec1 0 214px,#e9a597 0 215px,#d1c2cd 0 216px,#ec8f76 0 217px,#d1d3e1 0 218px,#f29a7d 0 219px,#f2b8a2 0 220px,#c4c2dc 0 221px,#d9b4b5 0 222px,#f4bba3 0 223px,#e8c5bb 0 224px,#e67d67 0 225px,#edb3a1 0 226px,#ebafa0 0 227px,#bfbfdd 0 228px,#dfcac7 0 229px,#e5c6be 0 230px,#e16855 0 231px,#e26c58 0 232px,#e8bdaf 0 233px,#eca998 0 234px,#d6ced5 0 235px,#eb8c77 0 236px,#e7b3a7 0 237px,#d3b0b9 0 238px,#e5836f 0 239px,#dc6a5e 0 240px,#ced3e5 0 241px,#e2d5d0 0 242px,#f0c1ad 0 243px,#ebc6b7 0 244px,#efcab8 0 245px,#ecbeb0 0 246px,#e3aea6 0 247px,#dc7f74 0 248px,#efc2af 0 249px,#b8b0d5 0 250px,#c0b7d5 0 251px,#f0ad97 0 252px,#efc6b4 0 253px,#e5c4ba 0 254px,#e5715b 0 255px,#f2a489 0 256px,#c2283c 0 257px,#eab3a2 0 258px,#f3bda6 0 259px,#b0c3f0 0 260px,#e67763 0 261px,#efb29f 0 262px,#acbdee 0 263px,#f2b097 0 264px,#edcbbc 0 265px)"></div>
<div class="hr" style="top:549.81px;height:5.48px;background:linear-gradient(90deg,#b9c3e1 1px,#a1b6ee 0 2px,#6a79d2 0 3px,#9cb7f7 0 4px,#cdb5bf 0 5px,#5c79e3 0 6px,#b4ccf8 0 7px,#a0bbf7 0 8px,#95a9eb 0 9px,#b4c4eb 0 10px,#5c74d9 0 11px,#96b6fd 0 12px,#7695f0 0 13px,#c3d1ee 0 14px,#a2bef9 0 15px,#c0d1f0 0 16px,#bfd2f3 0 17px,#a2bef9 0 18px,#97b3f5 0 19px,#e7aa9c 0 20px,#95b4fa 0 21px,#d2a8ac 0 22px,#b8c6e8 0 23px,#a6c2fa 0 24px,#b2c9f6 0 25px,#92b3fb 0 26px,#ccd5e6 0 27px,#acc4f5 0 28px,#c7d0e6 0 29px,#99b7f9 0 30px,#7d96e8 0 31px,#7596f3 0 32px,#a6c2fa 0 33px,#d5d9e2 0 34px,#b1c7f3 0 35px,#c4cce7 0 36px,#799bf4 0 37px,#a2bef8 0 38px,#cacddf 0 39px,#c7cfe7 0 40px,#c3d2ee 0 41px,#6c78cc 0 42px,#e6ccc3 0 43px,#aec6f5 0 44px,#9db3f1 0 45px,#b3c5ef 0 46px,#e3ccc6 0 47px,#e3ccc5 0 48px,#90b1fb 0 49px,#d4d2dc 0 50px,#b3ccf8 0 51px,#9bb7f8 0 52px,#c7c8df 0 53px,#a9c5fb 0 54px,#cfd7e6 0 55px,#ced6e7 0 56px,#d9d2d6 0 57px,#ccd4e6 0 58px,#d1d8e5 0 59px,#d4d7df 0 60px,#8dadf8 0 61px,#cacbdc 0 62px,#a2b9f3 0 63px,#8aa1ea 0 64px,#e99f8c 0 65px,#b0c6f3 0 66px,#bdccec 0 67px,#b5ccf6 0 68px,#a6c1f9 0 69px,#d3c0c8 0 70px,#a4b2ea 0 71px,#d2b7bf 0 72px,#82a0f3 0 73px,#b3c1ec 0 74px,#8eadf7 0 75px,#e8bfb3 0 76px,#8eadf9 0 77px,#c4d1eb 0 78px,#a0b4ee 0 79px,#cdcddc 0 80px,#dfd5d3 0 81px,#eebaa8 0 82px,#d6d5dc 0 83px,#b4c4ef 0 84px,#a9bef2 0 85px,#a4c0f9 0 86px,#8aa9f6 0 87px,#6074d4 0 88px,#bdcbea 0 89px,#cbccdb 0 90px,#84a4f6 0 91px,#d7d3d9 0 92px,#acc7fa 0 93px,#bbcef2 0 94px,#ccd4e8 0 95px,#e7c5bc 0 96px,#c0d0ef 0 97px,#e6b2a6 0 98px,#da9c94 0 99px,#e5d3cb 0 100px,#d5d7e0 0 101px,#cdd6e8 0 102px,#8da7ef 0 103px,#b7c9f1 0 104px,#b5bee4 0 105px,#acc1f2 0 106px,#d6cfd7 0 107px,#ccd2e6 0 108px,#bfcdeb 0 109px,#a2bcf7 0 110px,#c5d2eb 0 111px,#b6ccf5 0 112px,#86a3f1 0 113px,#adc4f4 0 114px,#97a4e3 0 115px,#a9b8eb 0 116px,#8499e4 0 117px,#acc6fa 0 118px,#aac4f8 0 119px,#9fb5f0 0 120px,#6b61b0 0 121px,#d3cdd4 0 122px,#b2bee8 0 123px,#9cb2ef 0 124px,#bdcdef 0 125px,#b1c9f8 0 126px,#b7bfe5 0 127px,#c3c5e1 0 128px,#efc7b5 0 129px,#ecb09d 0 130px,#b6c4ec 0 131px,#c0c4e2 0 132px,#e2c8c3 0 133px,#becff0 0 134px,#d7d5dd 0 135px,#d9b9bb 0 136px,#bfd0f0 0 137px,#afc4f3 0 138px,#7393ee 0 139px,#d2d7e3 0 140px,#b5cdf8 0 141px,#a2bdf7 0 142px,#ccd2e4 0 143px,#adc4f4 0 144px,#c3d0eb 0 145px,#a8b9ee 0 146px,#bdd1f4 0 147px,#e09387 0 148px,#c5d0e9 0 149px,#b9c9ec 0 150px,#d59d9d 0 151px,#d9d1d6 0 152px,#d5d2db 0 153px,#abbdef 0 154px,#dbcfd1 0 155px,#c7d3eb 0 156px,#d5d5dd 0 157px,#e8c8be 0 158px,#e9ccc1 0 159px,#eab0a0 0 160px,#eec9b9 0 161px,#c1d0ec 0 162px,#dfbcb6 0 163px,#ccd4e7 0 164px,#b7c6ee 0 165px,#8caaf6 0 166px,#e7cbc0 0 167px,#c8d5ec 0 168px,#d2d2de 0 169px,#c04d63 0 170px,#ced3e3 0 171px,#a5bff6 0 172px,#edac97 0 173px,#f1b59f 0 174px,#f3a78b 0 175px,#9997d5 0 176px,#ced6e7 0 177px,#d37471 0 178px,#ecaf9d 0 179px,#8d92d5 0 180px,#d9d1d4 0 181px,#d9b7ba 0 182px,#ecc8b9 0 183px,#a6b7ed 0 184px,#e8c0b5 0 185px,#dbd0d3 0 186px,#edc5b4 0 187px,#e6d0c8 0 188px,#e4d4cc 0 189px,#e6c5be 0 190px,#d35855 0 191px,#e8b3a5 0 192px,#d5d7df 0 193px,#d18280 0 194px,#decfce 0 195px,#b3bbe4 0 196px,#efc8b7 0 197px,#cac3d7 0 198px,#cbd1e5 0 199px,#e48b78 0 200px,#dcbebd 0 201px,#d3cdd7 0 202px,#ed8c72 0 203px,#d4d1da 0 204px,#e2c1ba 0 205px,#e06f5e 0 206px,#ca535e 0 207px,#edcbbc 0 208px,#f4a184 0 209px,#d5d2da 0 210px,#e8cfc3 0 211px,#e9c2b5 0 212px,#ecc7ba 0 213px,#e4816d 0 214px,#f3b59d 0 215px,#f19377 0 216px,#cf4549 0 217px,#afb8e5 0 218px,#f4ae93 0 219px,#e6816c 0 220px,#aab0e0 0 221px,#e6c2b7 0 222px,#e1d8d4 0 223px,#ec9780 0 224px,#ea8d76 0 225px,#efc2af 0 226px,#eebeac 0 227px,#e1bdb7 0 228px,#ee8d72 0 229px,#db857c 0 230px,#f1a287 0 231px,#e16f5d 0 232px,#ddb9b6 0 233px,#d85a52 0 234px,#f2b59e 0 235px,#ee9176 0 236px,#f09c82 0 237px,#c6adc4 0 238px,#e6b8ad 0 239px,#e99883 0 240px,#d0cddb 0 241px,#adb5e3 0 242px,#aabdef 0 243px,#bdcbed 0 244px,#edc3b2 0 245px,#f2bca6 0 246px,#bac4e8 0 247px,#c84754 0 248px,#d4d4de 0 249px,#cfc3d0 0 250px,#dfd0ce 0 251px,#eeb5a3 0 252px,#d8c2c6 0 253px,#f2bba5 0 254px,#f1bda8 0 255px,#f4b297 0 256px,#f2c2ad 0 257px,#ebcbbd 0 258px,#dfd4d3 0 259px,#b2c1ed 0 260px,#bd3249 0 261px,#f0b8a4 0 262px,#d2ceda 0 263px,#eeb29e 0 264px,#e7c8bf 0 265px)"></div>
<div class="hr" style="top:554.79px;height:5.48px;background:linear-gradient(90deg,#b5c7ee 1px,#84a2f3 0 2px,#91b3fd 0 3px,#9db7f3 0 4px,#beb8ce 0 5px,#c1afc1 0 6px,#9bbafc 0 7px,#cdd4e5 0 8px,#93acf0 0 9px,#7fa0f7 0 10px,#5265cb 0 11px,#98b7fb 0 12px,#4d61cb 0 13px,#abc5f9 0 14px,#4e5ec6 0 15px,#d7cbd2 0 16px,#e7c8be 0 17px,#88a5f1 0 18px,#9db8f4 0 19px,#cdd4e4 0 20px,#91b3fd 0 21px,#c2d2ef 0 22px,#7492ec 0 23px,#a4bcf2 0 24px,#b5c9f3 0 25px,#9fbaf7 0 26px,#89a9f7 0 27px,#b9cef3 0 28px,#829ff1 0 29px,#7690e7 0 30px,#bed1f3 0 31px,#7d9ff7 0 32px,#748ee6 0 33px,#e2c7c0 0 34px,#89a9f6 0 35px,#7b97ed 0 36px,#c0cbe7 0 37px,#ded2d1 0 38px,#dbcbcd 0 39px,#c2cfed 0 40px,#d0d4e1 0 41px,#b2c3ef 0 42px,#e4cdc6 0 43px,#afc0ee 0 44px,#8496e1 0 45px,#83a2f4 0 46px,#d9d2d6 0 47px,#e2d7d1 0 48px,#cad4e9 0 49px,#96b5fa 0 50px,#d0d6e4 0 51px,#95b0f5 0 52px,#d1d6e3 0 53px,#a5bef6 0 54px,#93b3fb 0 55px,#d6cfd7 0 56px,#b9c8eb 0 57px,#b6cdf6 0 58px,#c2cfeb 0 59px,#c4d4f0 0 60px,#b2caf7 0 61px,#dcb4b3 0 62px,#d0d4e2 0 63px,#8ca3ea 0 64px,#e19a8d 0 65px,#cdd5e6 0 66px,#ebc2b4 0 67px,#b4c8f3 0 68px,#a1b3ed 0 69px,#d4b2b7 0 70px,#c4cee9 0 71px,#dacfd3 0 72px,#acc7fa 0 73px,#b6cef9 0 74px,#e1d6d3 0 75px,#ddd8d8 0 76px,#bbd0f5 0 77px,#a6bcef 0 78px,#d9d1d5 0 79px,#bbcff3 0 80px,#ddcbcb 0 81px,#ecab98 0 82px,#9dbaf8 0 83px,#89a7f3 0 84px,#91a5e9 0 85px,#afc4f3 0 86px,#b9ccf2 0 87px,#b3caf7 0 88px,#a8bdf1 0 89px,#c2c7dd 0 90px,#e7cfc6 0 91px,#9eb6f4 0 92px,#ccd5e6 0 93px,#e8bcb1 0 94px,#b4ccf8 0 95px,#adc8fa 0 96px,#b0c7f5 0 97px,#c7cee2 0 98px,#e2ccc8 0 99px,#ccd1e1 0 100px,#cdc6d7 0 101px,#dbc1c2 0 102px,#f0ab93 0 103px,#dfd6d4 0 104px,#616cc9 0 105px,#c2ceeb 0 106px,#899ae1 0 107px,#a1b7f2 0 108px,#e0b3ad 0 109px,#acc6f9 0 110px,#c7d4eb 0 111px,#cad6ea 0 112px,#b0c1ee 0 113px,#98adec 0 114px,#ddcccb 0 115px,#afc4f2 0 116px,#8894db 0 117px,#c5cfe6 0 118px,#c1cde9 0 119px,#a9c1f5 0 120px,#7382d3 0 121px,#e6b9ae 0 122px,#c2d1ee 0 123px,#b6c9f3 0 124px,#a4c0f9 0 125px,#e9ccc1 0 126px,#d3d5e1 0 127px,#e5cdc4 0 128px,#abbdef 0 129px,#dccccb 0 130px,#e2d4cf 0 131px,#e3d4ce 0 132px,#eeb7a3 0 133px,#a6c1f9 0 134px,#f2c0ab 0 135px,#a8c2f8 0 136px,#abc4f8 0 137px,#b3c1ec 0 138px,#7d9aee 0 139px,#d9d4d8 0 140px,#d0d5e2 0 141px,#a6bef4 0 142px,#92b0f6 0 143px,#83a2f4 0 144px,#d4b6b9 0 145px,#c4d2ec 0 146px,#decdcc 0 147px,#e0b6b0 0 148px,#eeb9a6 0 149px,#a9c0f5 0 150px,#d9d2d7 0 151px,#afc3f2 0 152px,#8198e8 0 153px,#d2cfda 0 154px,#d8d9de 0 155px,#cad0e2 0 156px,#adbbeb 0 157px,#dfc3c0 0 158px,#ddd6d6 0 159px,#d8ced2 0 160px,#f3c3ae 0 161px,#e5cdc6 0 162px,#d9d3d9 0 163px,#b0bfed 0 164px,#cbcce0 0 165px,#b1beea 0 166px,#e07260 0 167px,#d6dae1 0 168px,#e4c1ba 0 169px,#dc8074 0 170px,#b9b6d9 0 171px,#dececc 0 172px,#c2273a 0 173px,#eeb5a2 0 174px,#c1253a 0 175px,#d7c2c7 0 176px,#d8d4da 0 177px,#d76964 0 178px,#c0374f 0 179px,#f4ac91 0 180px,#ee8e73 0 181px,#df6759 0 182px,#db6053 0 183px,#b1c4f2 0 184px,#eaac9b 0 185px,#e47662 0 186px,#efbfad 0 187px,#f0b099 0 188px,#edbcab 0 189px,#dacdcf 0 190px,#eeb19d 0 191px,#e78873 0 192px,#e5907e 0 193px,#b93553 0 194px,#cdd4e6 0 195px,#ed8c72 0 196px,#ea836a 0 197px,#c4cbe7 0 198px,#f0c7b4 0 199px,#db655b 0 200px,#ebc0b1 0 201px,#f1a48a 0 202px,#e9a391 0 203px,#c6cce5 0 204px,#eb9d8b 0 205px,#c12437 0 206px,#be3851 0 207px,#c2364b 0 208px,#de7f71 0 209px,#d2d3df 0 210px,#dbd9db 0 211px,#e28c7c 0 212px,#e5cec5 0 213px,#f0b49e 0 214px,#f0c1ae 0 215px,#bbc2e6 0 216px,#ca3941 0 217px,#7276c5 0 218px,#ea9984 0 219px,#f0bfac 0 220px,#eb9986 0 221px,#eea58e 0 222px,#dcdbdd 0 223px,#dd796d 0 224px,#e78d79 0 225px,#efa58d 0 226px,#ec9785 0 227px,#f4ac91 0 228px,#ed9279 0 229px,#e3aca1 0 230px,#d1d3e1 0 231px,#f3a589 0 232px,#c7c7de 0 233px,#efa58e 0 234px,#e8cfc5 0 235px,#f1af97 0 236px,#f4a385 0 237px,#bcb1d3 0 238px,#c7d0e9 0 239px,#f4b59c 0 240px,#a6c0f7 0 241px,#d4d4de 0 242px,#e3d5cf 0 243px,#d5d1da 0 244px,#f1af96 0 245px,#d96b62 0 246px,#a2b1e9 0 247px,#eeaa96 0 248px,#efcab8 0 249px,#b7b9de 0 250px,#c9cce2 0 251px,#e5aea5 0 252px,#efc4b2 0 253px,#d2ced9 0 254px,#eccabb 0 255px,#eccbbc 0 256px,#db746a 0 257px,#f3a88c 0 258px,#d6d9e0 0 259px,#7382d4 0 260px,#d75751 0 261px,#e5cfc6 0 262px,#e0cecb 0 263px,#dcdadb 0 264px,#dfd6d4 0 265px)"></div>
<div class="hr" style="top:559.77px;height:5.48px;background:linear-gradient(90deg,#7998f0 1px,#b4c3e9 0 2px,#5469cf 0 3px,#8daefa 0 4px,#cbc8d8 0 5px,#9db7f3 0 6px,#b9caee 0 7px,#9ab9fb 0 8px,#c5d1eb 0 9px,#8bacfa 0 10px,#5b76dd 0 11px,#7495f2 0 12px,#6e8eef 0 13px,#dfc2c0 0 14px,#7690e7 0 15px,#6884e4 0 16px,#e1cbc7 0 17px,#b2caf8 0 18px,#9ebaf8 0 19px,#d3d1dc 0 20px,#bdd2f5 0 21px,#e4b8af 0 22px,#829bec 0 23px,#cbcad9 0 24px,#b7caf1 0 25px,#8cadfa 0 26px,#b7c4e5 0 27px,#6d8ae9 0 28px,#8cadf9 0 29px,#5d7ae4 0 30px,#a6c0f6 0 31px,#96b4f9 0 32px,#8aabf9 0 33px,#b9c3e9 0 34px,#a9c4fb 0 35px,#d7d3da 0 36px,#c9d3e7 0 37px,#9fbbf8 0 38px,#cfbac2 0 39px,#c0caea 0 40px,#9fbcf9 0 41px,#6a85e4 0 42px,#e6c6be 0 43px,#b9c6eb 0 44px,#809def 0 45px,#9db7f3 0 46px,#bcc9e9 0 47px,#d9d3d7 0 48px,#c2d1ed 0 49px,#bfcdeb 0 50px,#d7cfd5 0 51px,#afc5f5 0 52px,#b8ccf3 0 53px,#7894ea 0 54px,#cdd1df 0 55px,#cad3e8 0 56px,#b0beeb 0 57px,#bac8e8 0 58px,#9db6f4 0 59px,#a5c1f8 0 60px,#607de4 0 61px,#c1d3f2 0 62px,#9bbafb 0 63px,#9bb1ef 0 64px,#e29d91 0 65px,#ceb7c2 0 66px,#bacbee 0 67px,#dad1d5 0 68px,#b8cef7 0 69px,#e5a192 0 70px,#d0d2e0 0 71px,#c1cce7 0 72px,#8494e0 0 73px,#bbd1f6 0 74px,#92aef4 0 75px,#c2d3f1 0 76px,#b9caef 0 77px,#c3c2d8 0 78px,#93a3e3 0 79px,#c4cce2 0 80px,#dacccc 0 81px,#d7c1c5 0 82px,#c4cfe8 0 83px,#abc5f8 0 84px,#9da8e3 0 85px,#dccecd 0 86px,#c6d4ed 0 87px,#7190ee 0 88px,#adc6f6 0 89px,#cbb5c1 0 90px,#eac8bc 0 91px,#b8c5eb 0 92px,#d4d5df 0 93px,#dcd6d7 0 94px,#d6dae1 0 95px,#e4cfc9 0 96px,#cdccdb 0 97px,#acc0f2 0 98px,#c5cfe7 0 99px,#d87b72 0 100px,#f1b8a2 0 101px,#e3c8c3 0 102px,#bbcff5 0 103px,#e3cfca 0 104px,#8ca0ea 0 105px,#b8c9ef 0 106px,#dfd8d7 0 107px,#d4d6df 0 108px,#c9d1e7 0 109px,#c4d4f0 0 110px,#ced6e6 0 111px,#93b4fc 0 112px,#718ae2 0 113px,#b0b5e1 0 114px,#c3cce8 0 115px,#a9bbee 0 116px,#c8cee5 0 117px,#86a1ee 0 118px,#a4bff7 0 119px,#e3c9c3 0 120px,#686dc0 0 121px,#ddbfbd 0 122px,#c2d0ed 0 123px,#cfd6e5 0 124px,#d2d5e2 0 125px,#bdd2f5 0 126px,#9eb1ed 0 127px,#cad2e8 0 128px,#d2d7e3 0 129px,#9bace9 0 130px,#bccbef 0 131px,#c4cbe7 0 132px,#ebb19f 0 133px,#bad1f7 0 134px,#e8d1c6 0 135px,#b7cbf3 0 136px,#e7cbc1 0 137px,#ced6e6 0 138px,#8da0e7 0 139px,#eeb19c 0 140px,#c0cfed 0 141px,#c8c4d5 0 142px,#d7d7de 0 143px,#ced1df 0 144px,#ddada8 0 145px,#b1cbfa 0 146px,#e8bbae 0 147px,#dbc5c6 0 148px,#f0b6a1 0 149px,#d4cad2 0 150px,#b0c5f3 0 151px,#c7cfe9 0 152px,#92b0f6 0 153px,#d1d2e0 0 154px,#c0cfef 0 155px,#b4ccf9 0 156px,#aac2f7 0 157px,#e4c0ba 0 158px,#c4cfeb 0 159px,#d1d7e5 0 160px,#bbccef 0 161px,#b4caf5 0 162px,#c8cedf 0 163px,#a5b9f1 0 164px,#cccddf 0 165px,#9dafec 0 166px,#8887cd 0 167px,#cdd5e6 0 168px,#abc6fa 0 169px,#bd5f70 0 170px,#e7b2a5 0 171px,#dfd7d5 0 172px,#e6998d 0 173px,#ed937c 0 174px,#eabfaf 0 175px,#9fa0d8 0 176px,#e1d1cd 0 177px,#c65967 0 178px,#eda38c 0 179px,#ecc8b8 0 180px,#f1c6b2 0 181px,#ebb9aa 0 182px,#f1a288 0 183px,#f0977d 0 184px,#ddc7c6 0 185px,#eca18e 0 186px,#c0c1e0 0 187px,#edc9b9 0 188px,#e18675 0 189px,#b3375d 0 190px,#e6ccc3 0 191px,#ccc9db 0 192px,#bad0f5 0 193px,#d86059 0 194px,#e6c8be 0 195px,#e8bcae 0 196px,#f2aa90 0 197px,#ddd5d5 0 198px,#bbcff5 0 199px,#f1b8a3 0 200px,#e4998a 0 201px,#e0d5d2 0 202px,#f4ae93 0 203px,#f2b59e 0 204px,#dec5c2 0 205px,#eb8971 0 206px,#c4384b 0 207px,#d5ccd3 0 208px,#f1a288 0 209px,#d7d2d8 0 210px,#afbdeb 0 211px,#dfcfce 0 212px,#7a94ea 0 213px,#c8cce3 0 214px,#e2c0b8 0 215px,#a7a3d5 0 216px,#eb9780 0 217px,#d2d5e1 0 218px,#e48471 0 219px,#f3bba3 0 220px,#efbca8 0 221px,#eea089 0 222px,#e3d1cb 0 223px,#e2aca3 0 224px,#f1a88f 0 225px,#e6cfc6 0 226px,#b4b4dc 0 227px,#f5c2ab 0 228px,#f4b298 0 229px,#dbd5d8 0 230px,#f09d84 0 231px,#ea8975 0 232px,#eab0a0 0 233px,#eb856c 0 234px,#e9c8bb 0 235px,#f3b097 0 236px,#cbb6c6 0 237px,#eb8972 0 238px,#e8d0c6 0 239px,#c13248 0 240px,#bec5e5 0 241px,#edc7b7 0 242px,#eb886f 0 243px,#ea8a71 0 244px,#e8937f 0 245px,#e78975 0 246px,#c4c3dd 0 247px,#f2ac93 0 248px,#ecaa97 0 249px,#e49f96 0 250px,#efae9a 0 251px,#cbcfe4 0 252px,#b5c0e8 0 253px,#ccc4d4 0 254px,#f3a88d 0 255px,#eebdaa 0 256px,#d65d58 0 257px,#f4a689 0 258px,#f3b39a 0 259px,#dececb 0 260px,#f0bba6 0 261px,#eca997 0 262px,#f3b7a0 0 263px,#f1b9a4 0 264px,#e5afa3 0 265px)"></div>
<div class="hr" style="top:564.75px;height:5.48px;background:linear-gradient(90deg,#4458c9 1px,#a0bcf8 0 2px,#abc5f8 0 3px,#b7cdf5 0 4px,#cccfdf 0 5px,#c8bac8 0 6px,#a1bcf8 0 7px,#cfd7e6 0 8px,#dbd1d3 0 9px,#616dc9 0 10px,#97b3f4 0 11px,#99b5f6 0 12px,#637bdc 0 13px,#8ea2e9 0 14px,#b1c8f6 0 15px,#7e9bee 0 16px,#e3cec9 0 17px,#bdcff1 0 18px,#6f8fee 0 19px,#b7c7eb 0 20px,#a8bff5 0 21px,#decdcd 0 22px,#89a8f7 0 23px,#97aff0 0 24px,#bdccec 0 25px,#90aff9 0 26px,#d4ced7 0 27px,#b5c1e6 0 28px,#a2bef8 0 29px,#a1bcf7 0 30px,#efc7b6 0 31px,#c4d2ed 0 32px,#94b5fd 0 33px,#c3c6e1 0 34px,#a4c1fa 0 35px,#b8cdf5 0 36px,#cad5ea 0 37px,#e5d0c9 0 38px,#bbcef1 0 39px,#c7cae2 0 40px,#ddb6b3 0 41px,#9cb7f6 0 42px,#dbd7d8 0 43px,#b9ccf2 0 44px,#6e7cd0 0 45px,#becbe9 0 46px,#d9c7cc 0 47px,#a1bdf8 0 48px,#dbd7d9 0 49px,#dac4c7 0 50px,#dad6da 0 51px,#dadadd 0 52px,#c2cdea 0 53px,#bed2f4 0 54px,#b4c5ef 0 55px,#c0c9e8 0 56px,#8ca9f2 0 57px,#c4ceea 0 58px,#cad0e1 0 59px,#dcaca8 0 60px,#c5d4ef 0 61px,#d6cfd7 0 62px,#dd9b92 0 63px,#a9b3e5 0 64px,#bc4b64 0 65px,#d7d9df 0 66px,#b0c8f7 0 67px,#d9cbcf 0 68px,#7e9df2 0 69px,#e4b6ad 0 70px,#9fbbf9 0 71px,#ddd6d6 0 72px,#7a8ede 0 73px,#696cbd 0 74px,#dfd6d5 0 75px,#d5d4dd 0 76px,#d6c9cf 0 77px,#c5d4ee 0 78px,#5768cb 0 79px,#d3c3cc 0 80px,#a3bcf6 0 81px,#c6cde5 0 82px,#c7d1e7 0 83px,#c3cdea 0 84px,#7c84d0 0 85px,#d4d2db 0 86px,#adc4f5 0 87px,#5a6ccc 0 88px,#c3cfe9 0 89px,#d99c98 0 90px,#bfd1f2 0 91px,#efae98 0 92px,#a5bff6 0 93px,#edbcaa 0 94px,#eec7b6 0 95px,#d1ced7 0 96px,#cad4e9 0 97px,#d9cfd3 0 98px,#e5b7ae 0 99px,#edbdab 0 100px,#dacbcd 0 101px,#ecbcad 0 102px,#f1c7b4 0 103px,#eaa190 0 104px,#f19174 0 105px,#8395e4 0 106px,#9f9dd5 0 107px,#e18474 0 108px,#e7bcb1 0 109px,#c6d1ea 0 110px,#e3d6d1 0 111px,#b3c9f4 0 112px,#8fa8ee 0 113px,#afbfee 0 114px,#9bb4f4 0 115px,#bfd1f1 0 116px,#c6d4ee 0 117px,#bdc7e7 0 118px,#d9b0b0 0 119px,#cacadb 0 120px,#959cda 0 121px,#dbcbcb 0 122px,#ebaa97 0 123px,#abbeef 0 124px,#859ae5 0 125px,#a5abdf 0 126px,#b6c6ef 0 127px,#ccd2e5 0 128px,#c5cee8 0 129px,#a8c1f6 0 130px,#bfc0e0 0 131px,#d2c4ce 0 132px,#de8d81 0 133px,#afc7f6 0 134px,#99b4f6 0 135px,#e99985 0 136px,#97b5f9 0 137px,#ddd8d9 0 138px,#eccdbf 0 139px,#efc2b0 0 140px,#a7c3f9 0 141px,#96b6fc 0 142px,#c3d1ec 0 143px,#a7c3fb 0 144px,#e2988b 0 145px,#d4d4de 0 146px,#eeb6a3 0 147px,#c8d2e8 0 148px,#e7c8be 0 149px,#ccd0e2 0 150px,#e7c4bb 0 151px,#e0b2ac 0 152px,#b7cff8 0 153px,#a2bcf6 0 154px,#adbae9 0 155px,#e2c7c3 0 156px,#ebc9bc 0 157px,#d88f87 0 158px,#a9b7ea 0 159px,#d5c9cf 0 160px,#decdcc 0 161px,#e3cdc8 0 162px,#d3d8e3 0 163px,#edc6b6 0 164px,#d3d1dd 0 165px,#efc9b8 0 166px,#f3ab91 0 167px,#cdd6e8 0 168px,#d1cdd8 0 169px,#e08d7f 0 170px,#f0b8a2 0 171px,#f4bca4 0 172px,#ec9e88 0 173px,#efb39e 0 174px,#f1b099 0 175px,#e7c3b8 0 176px,#d8d8de 0 177px,#ec937a 0 178px,#f2a58a 0 179px,#ecc3b3 0 180px,#dbcdcd 0 181px,#cec2d0 0 182px,#eac3b5 0 183px,#d6d0d8 0 184px,#e3ccc7 0 185px,#efa58f 0 186px,#e4c9bf 0 187px,#ee967c 0 188px,#e7cbc0 0 189px,#eecab9 0 190px,#eccbbd 0 191px,#f3a98e 0 192px,#ebad9a 0 193px,#e08c80 0 194px,#e3bfb8 0 195px,#e1cfc9 0 196px,#e98d76 0 197px,#d9d1d5 0 198px,#b9c6eb 0 199px,#d56a66 0 200px,#e3d3cc 0 201px,#dbc3c3 0 202px,#e9cec2 0 203px,#e0d0cd 0 204px,#e8c0b5 0 205px,#e48577 0 206px,#b53153 0 207px,#d3d3dd 0 208px,#f3a88c 0 209px,#edbdac 0 210px,#cfc9d7 0 211px,#f1b8a1 0 212px,#e3cdc8 0 213px,#efc6b5 0 214px,#e0c1ba 0 215px,#edc6b6 0 216px,#ec886f 0 217px,#d0cbd9 0 218px,#efc5b3 0 219px,#ecc6b6 0 220px,#f2a78d 0 221px,#e9a394 0 222px,#c3cae6 0 223px,#f4b49b 0 224px,#f1bba5 0 225px,#e3cfc9 0 226px,#e47661 0 227px,#f4ab90 0 228px,#e7b0a3 0 229px,#dfc4c2 0 230px,#f3c3ad 0 231px,#f3a387 0 232px,#a7a3d5 0 233px,#ea8067 0 234px,#f09478 0 235px,#f0967a 0 236px,#9b98d1 0 237px,#dab3b4 0 238px,#cf555b 0 239px,#efbaa7 0 240px,#b1c8f6 0 241px,#e3d3ce 0 242px,#e49585 0 243px,#d4d2dc 0 244px,#e0d9d5 0 245px,#f0a68e 0 246px,#ea9682 0 247px,#e8a290 0 248px,#d9d7dc 0 249px,#a8a8d9 0 250px,#e4cac2 0 251px,#abaad9 0 252px,#bcbedf 0 253px,#dfcdcb 0 254px,#f2a387 0 255px,#d35857 0 256px,#bf3c54 0 257px,#e0aba6 0 258px,#e2cfca 0 259px,#a7c1f7 0 260px,#f4b49a 0 261px,#f19b80 0 262px,#f0c2ae 0 263px,#ddd6d6 0 264px,#e48f7e 0 265px)"></div>
<div class="hr" style="top:569.73px;height:5.48px;background:linear-gradient(90deg,#a7c2f8 1px,#b6badd 0 2px,#7292ef 0 3px,#d2d8e3 0 4px,#b8ccf2 0 5px,#a9bff2 0 6px,#6b86e5 0 7px,#a7c1f7 0 8px,#94b2f9 0 9px,#95abed 0 10px,#8daffc 0 11px,#bcd0f4 0 12px,#728ce5 0 13px,#b5c8f2 0 14px,#90b0fb 0 15px,#bfcdec 0 16px,#dc958d 0 17px,#b2cbf9 0 18px,#7a99f2 0 19px,#e1bab3 0 20px,#586bce 0 21px,#c9d2e7 0 22px,#cdcfde 0 23px,#ccbdcb 0 24px,#bbd0f5 0 25px,#7493ee 0 26px,#d9ccd0 0 27px,#aac4f8 0 28px,#94b0f5 0 29px,#89aafa 0 30px,#b1c2eb 0 31px,#bbbcd6 0 32px,#a4bff9 0 33px,#e2c8c3 0 34px,#a5c0f8 0 35px,#9fbbf9 0 36px,#bbcdf1 0 37px,#e2cec9 0 38px,#b5bfe5 0 39px,#c5d0eb 0 40px,#e8bcb1 0 41px,#c2d2f0 0 42px,#c3d1ed 0 43px,#bbccf1 0 44px,#8091de 0 45px,#9bbafc 0 46px,#f0bfac 0 47px,#e0c6c3 0 48px,#b1caf9 0 49px,#768ee5 0 50px,#adc1f2 0 51px,#a0ade6 0 52px,#a2bffb 0 53px,#dbd0d3 0 54px,#dcd9db 0 55px,#d7dae0 0 56px,#adc6f8 0 57px,#c9d3e8 0 58px,#c4d2ed 0 59px,#c8d2ea 0 60px,#91aff7 0 61px,#bfcdee 0 62px,#acbff0 0 63px,#8da4eb 0 64px,#dbc7c7 0 65px,#c6cde2 0 66px,#dcd2d4 0 67px,#b8c5e7 0 68px,#b9cdf2 0 69px,#dfc0bd 0 70px,#bfcbea 0 71px,#b2caf8 0 72px,#8190dc 0 73px,#7a95ec 0 74px,#94a6e9 0 75px,#e6ada0 0 76px,#b7cdf5 0 77px,#bdcff1 0 78px,#5c65c2 0 79px,#bacbed 0 80px,#ced2e0 0 81px,#e5a497 0 82px,#c2cce5 0 83px,#6c87e4 0 84px,#7e99ec 0 85px,#b1c8f5 0 86px,#9fb5f0 0 87px,#a0bdf9 0 88px,#8faef8 0 89px,#cbc4d4 0 90px,#97b6fa 0 91px,#b4c9f3 0 92px,#eccbbc 0 93px,#b7cef7 0 94px,#d3d8e2 0 95px,#d5d9e1 0 96px,#c9d0e3 0 97px,#89a5f2 0 98px,#e0cdc9 0 99px,#b7bde3 0 100px,#c1c7e4 0 101px,#c1cdeb 0 102px,#c9d1e7 0 103px,#c3d1ed 0 104px,#adbee9 0 105px,#90abf3 0 106px,#edcaba 0 107px,#9fb7f4 0 108px,#d5ced5 0 109px,#bccff3 0 110px,#e7cdc3 0 111px,#e5d1c9 0 112px,#d7dae1 0 113px,#e1d5d1 0 114px,#7c88d4 0 115px,#c8d5eb 0 116px,#798de1 0 117px,#bac4e8 0 118px,#b6ccf5 0 119px,#8ba9f5 0 120px,#b2c2ed 0 121px,#bccef1 0 122px,#ebbfb0 0 123px,#7a87d6 0 124px,#bed0f1 0 125px,#b1c6f5 0 126px,#b9cdf3 0 127px,#868cd4 0 128px,#91a1e3 0 129px,#d6d7de 0 130px,#8ea3ec 0 131px,#d4cdd6 0 132px,#cfd4e2 0 133px,#bdcff1 0 134px,#f2b49c 0 135px,#c6d3ed 0 136px,#e3d3cd 0 137px,#b5c5ee 0 138px,#ced7e7 0 139px,#dfd2d0 0 140px,#dbd0d3 0 141px,#c6c5d8 0 142px,#b9cff6 0 143px,#c0cce9 0 144px,#e0c3c0 0 145px,#c2d3f0 0 146px,#e89d8b 0 147px,#dbcdd0 0 148px,#eda892 0 149px,#98b4f6 0 150px,#d3d9e4 0 151px,#b9ccf1 0 152px,#84a4f5 0 153px,#b1c3f0 0 154px,#c6d3ed 0 155px,#bfd2f4 0 156px,#afc1ef 0 157px,#e3b0a6 0 158px,#dacfd2 0 159px,#c8d3e9 0 160px,#e2cdc9 0 161px,#edc8b9 0 162px,#e2cbc7 0 163px,#bbcbed 0 164px,#9fb0ea 0 165px,#ccd4e7 0 166px,#e2c8c1 0 167px,#cbd3e7 0 168px,#d2cfd9 0 169px,#b0345c 0 170px,#edbdac 0 171px,#8da6ed 0 172px,#f49e80 0 173px,#dfb1ae 0 174px,#ec9078 0 175px,#d0c3cf 0 176px,#dad6da 0 177px,#d8625d 0 178px,#df8678 0 179px,#dbcacc 0 180px,#eacdc0 0 181px,#d44f4c 0 182px,#f0977c 0 183px,#cbd1e5 0 184px,#efc4b2 0 185px,#f2a78c 0 186px,#eac6b9 0 187px,#eaa795 0 188px,#e5ccc5 0 189px,#e1d7d3 0 190px,#f1b8a2 0 191px,#f1b099 0 192px,#eaa492 0 193px,#e19689 0 194px,#e4d1c9 0 195px,#edbbaa 0 196px,#f1b9a4 0 197px,#e1cfca 0 198px,#9caeea 0 199px,#ba3f5b 0 200px,#decdcc 0 201px,#e88a76 0 202px,#efaa94 0 203px,#ebafa0 0 204px,#cac4d6 0 205px,#dc6b5e 0 206px,#bd334d 0 207px,#ed987f 0 208px,#f2a589 0 209px,#d5d9e3 0 210px,#e2d0ca 0 211px,#e4d2cb 0 212px,#e0d6d4 0 213px,#ddd9d9 0 214px,#f4bfa8 0 215px,#9aa5e1 0 216px,#f2bca6 0 217px,#bccbef 0 218px,#f3c6b1 0 219px,#f1ad94 0 220px,#c8c4da 0 221px,#f19e83 0 222px,#cbd6ea 0 223px,#e8a897 0 224px,#edc5b5 0 225px,#ddcfcf 0 226px,#f0a28a 0 227px,#b3c3ee 0 228px,#a7abdd 0 229px,#dbd0d1 0 230px,#f39f82 0 231px,#ef8d73 0 232px,#dea7a4 0 233px,#ecac9a 0 234px,#f4b299 0 235px,#eac6b8 0 236px,#c3b3cc 0 237px,#e8816e 0 238px,#f4bea6 0 239px,#ea8e76 0 240px,#c4c2dc 0 241px,#dbd0d2 0 242px,#d5d7e0 0 243px,#b3b1d9 0 244px,#eec8b7 0 245px,#c53040 0 246px,#eab9ab 0 247px,#f5b59c 0 248px,#ecb7a7 0 249px,#9a97d4 0 250px,#e2d7d2 0 251px,#f3ad93 0 252px,#bfbad8 0 253px,#f4b49a 0 254px,#dc7367 0 255px,#f39e81 0 256px,#e97e66 0 257px,#f29b7e 0 258px,#eeac96 0 259px,#99a8e8 0 260px,#e36d58 0 261px,#dbcbcc 0 262px,#d9d0d3 0 263px,#ebc7b9 0 264px,#b6c9f1 0 265px)"></div>
<div class="hr" style="top:574.71px;height:5.48px;background:linear-gradient(90deg,#89a8f5 1px,#7d9ef4 0 2px,#94b2f8 0 3px,#6b8bee 0 4px,#b6c0e1 0 5px,#607ee4 0 6px,#556acf 0 7px,#b8cff7 0 8px,#d5d6dd 0 9px,#7b9cf5 0 10px,#4458c7 0 11px,#acc3f4 0 12px,#a4bef5 0 13px,#87a3ef 0 14px,#7191ee 0 15px,#7a97ed 0 16px,#d9cbce 0 17px,#a1bcf6 0 18px,#6985e5 0 19px,#aac0f0 0 20px,#6b89ea 0 21px,#dccbcc 0 22px,#d2c4cd 0 23px,#e0c5c3 0 24px,#a4c1fb 0 25px,#bbc9ea 0 26px,#ddc2c3 0 27px,#84a6f9 0 28px,#aabbe9 0 29px,#546dd7 0 30px,#a3c1fb 0 31px,#6f90f0 0 32px,#ccccdc 0 33px,#b1cafa 0 34px,#bbcbee 0 35px,#616eca 0 36px,#c9c6d6 0 37px,#abc4f7 0 38px,#b2c0e6 0 39px,#bbd0f5 0 40px,#d5ced5 0 41px,#9cb0ec 0 42px,#b1c2ed 0 43px,#90b1fb 0 44px,#7d9ef4 0 45px,#8caefc 0 46px,#6b8aea 0 47px,#c0d1f0 0 48px,#b5c5ea 0 49px,#c0c5db 0 50px,#c1cde8 0 51px,#7993e9 0 52px,#d3d9e4 0 53px,#90adf5 0 54px,#7692e9 0 55px,#acc3f4 0 56px,#99b2f2 0 57px,#a6c0f7 0 58px,#adc1f1 0 59px,#a1bef9 0 60px,#a3bffa 0 61px,#c1d1ef 0 62px,#94b3fa 0 63px,#7997ee 0 64px,#bbcdf0 0 65px,#c5cae2 0 66px,#e2cdc9 0 67px,#b5c8f1 0 68px,#d0d5e3 0 69px,#d6b0b2 0 70px,#ddd4d4 0 71px,#b8caf0 0 72px,#9ebaf9 0 73px,#99b8fb 0 74px,#ced4e4 0 75px,#d4d6e0 0 76px,#debdba 0 77px,#9dbcfc 0 78px,#a5c0f8 0 79px,#bfd0f1 0 80px,#dccfd2 0 81px,#d07475 0 82px,#c3d2ee 0 83px,#99b2f4 0 84px,#b0bce9 0 85px,#d9d7db 0 86px,#8296e3 0 87px,#abbeed 0 88px,#aac3f5 0 89px,#c8c7d9 0 90px,#b9c8ed 0 91px,#c3d3f0 0 92px,#adbeee 0 93px,#c8d3e8 0 94px,#c2d2f0 0 95px,#c6d4ee 0 96px,#e2cbc7 0 97px,#8ea9f2 0 98px,#efb6a1 0 99px,#d9867f 0 100px,#ebc8ba 0 101px,#cecfdc 0 102px,#bfd1f2 0 103px,#e7b9ad 0 104px,#c6c9dd 0 105px,#a8bdf2 0 106px,#a7baef 0 107px,#e2cac6 0 108px,#d7cdd4 0 109px,#bbc8e8 0 110px,#bbc7e9 0 111px,#e7cdc5 0 112px,#708be6 0 113px,#677ad4 0 114px,#b5ccf6 0 115px,#e8cdc3 0 116px,#e2d7d2 0 117px,#b2c8f4 0 118px,#c9bdcb 0 119px,#a2bbf6 0 120px,#90a9f0 0 121px,#cdd5e7 0 122px,#dcd2d2 0 123px,#a9c3f8 0 124px,#d8d5da 0 125px,#82a0f1 0 126px,#a2baf4 0 127px,#aac0f4 0 128px,#b4c6f0 0 129px,#87a8f8 0 130px,#86a0ee 0 131px,#d6c7cd 0 132px,#dec1c0 0 133px,#b7c7eb 0 134px,#a6c1f8 0 135px,#bdcced 0 136px,#9fbcf9 0 137px,#d6d5dd 0 138px,#c7d5ed 0 139px,#dbc8ca 0 140px,#a3c0fb 0 141px,#cad4e9 0 142px,#8faef8 0 143px,#afc5f2 0 144px,#d1d5e1 0 145px,#ced6e6 0 146px,#bfcbea 0 147px,#d5c9d0 0 148px,#dad4d6 0 149px,#ceccdb 0 150px,#e0c0bd 0 151px,#d3c3cb 0 152px,#708deb 0 153px,#a8c1f7 0 154px,#c8cfe7 0 155px,#e8bcb0 0 156px,#c4cce9 0 157px,#e3c4bd 0 158px,#ebbfb0 0 159px,#be3751 0 160px,#f0c4b1 0 161px,#f2b49b 0 162px,#b9c6eb 0 163px,#d4d0d9 0 164px,#bfcbeb 0 165px,#d1d7e4 0 166px,#ea917a 0 167px,#e0b6b2 0 168px,#dda6a1 0 169px,#d89b96 0 170px,#e5cbc2 0 171px,#c8cde4 0 172px,#ee977e 0 173px,#b8c4ea 0 174px,#eeb6a3 0 175px,#a8b0e3 0 176px,#eacfc2 0 177px,#eebeab 0 178px,#e7d1c8 0 179px,#e0d0cc 0 180px,#d7d7de 0 181px,#d5cdd5 0 182px,#f3b299 0 183px,#7483d5 0 184px,#c0c9e7 0 185px,#f1b9a4 0 186px,#eb8970 0 187px,#ed957c 0 188px,#c8c8df 0 189px,#d2ced9 0 190px,#eca691 0 191px,#e8b0a3 0 192px,#cfcdda 0 193px,#e8826b 0 194px,#e7ccc2 0 195px,#f3bda6 0 196px,#f1a991 0 197px,#efa995 0 198px,#d2ced8 0 199px,#d45857 0 200px,#e5b3a9 0 201px,#e1cdc9 0 202px,#e87f6a 0 203px,#d5d1db 0 204px,#e5ccc4 0 205px,#df796a 0 206px,#df8274 0 207px,#e8c3b6 0 208px,#e58673 0 209px,#e0d9d5 0 210px,#d1cddb 0 211px,#dedad9 0 212px,#e1c7c4 0 213px,#e8ab9c 0 214px,#c8bed5 0 215px,#9ea4e1 0 216px,#e98c77 0 217px,#d2d7e3 0 218px,#d95a52 0 219px,#f1ae97 0 220px,#af9fcc 0 221px,#eb8b76 0 222px,#abbcee 0 223px,#e28e80 0 224px,#ed8f76 0 225px,#eebbaa 0 226px,#f19c80 0 227px,#ecc1b0 0 228px,#e3d3cd 0 229px,#e0c2be 0 230px,#ec886e 0 231px,#d24642 0 232px,#c9c8dd 0 233px,#d04b4f 0 234px,#f4b69d 0 235px,#f39d7f 0 236px,#a298d0 0 237px,#eb9583 0 238px,#f4b399 0 239px,#f09073 0 240px,#b4bee6 0 241px,#e4d2cb 0 242px,#ebb2a0 0 243px,#cecadb 0 244px,#f2ad93 0 245px,#e98169 0 246px,#c6bcd3 0 247px,#e1ccc6 0 248px,#dfdad8 0 249px,#acaddb 0 250px,#ecc4b6 0 251px,#efb6a2 0 252px,#efc5b3 0 253px,#f2a58a 0 254px,#e2d3ce 0 255px,#da5c53 0 256px,#f4ab90 0 257px,#efc8b7 0 258px,#dd796c 0 259px,#cdcbdc 0 260px,#bc203b 0 261px,#efa38a 0 262px,#d9c9cc 0 263px,#e6d1c8 0 264px,#eebba8 0 265px)"></div>
<svg width="685" height="581" viewBox="0 0 685 581" font-family='"Liberation Sans", sans-serif' style="position:absolute;left:0;top:0"><text x="5.6" y="15.3" font-size="19.3" font-weight="bold">a</text>
<text x="176.0" y="15.4" font-size="19.3" font-weight="bold">b</text>
<text x="369.2" y="15.0" font-size="19.3" font-weight="bold">c</text>
<text x="510.8" y="15.6" font-size="19.3" font-weight="bold">d</text>
<text x="5.4" y="210.3" font-size="19.3" font-weight="bold">e</text>
<line x1="21.10" y1="26.60" x2="21.10" y2="137.80" stroke="#c4c4c4" stroke-width="1.6"/>
<line x1="20.30" y1="137.80" x2="158.60" y2="137.80" stroke="#c4c4c4" stroke-width="1.6"/>
<line x1="19.00" y1="40.24" x2="21.00" y2="40.24" stroke="#444" stroke-width="0.7"/>
<text x="17.3" y="42.5" font-size="6.55" text-anchor="end" textLength="3.8" lengthAdjust="spacingAndGlyphs" stroke="#000" stroke-width="0.05">1</text>
<line x1="19.00" y1="58.50" x2="21.00" y2="58.50" stroke="#444" stroke-width="0.7"/>
<text x="17.3" y="60.8" font-size="6.55" text-anchor="end" textLength="3.8" lengthAdjust="spacingAndGlyphs" stroke="#000" stroke-width="0.05">0</text>
<line x1="19.00" y1="76.76" x2="21.00" y2="76.76" stroke="#444" stroke-width="0.7"/>
<text x="17.3" y="79.1" font-size="6.55" text-anchor="end" textLength="8.8" lengthAdjust="spacingAndGlyphs" stroke="#000" stroke-width="0.05">−1</text>
<line x1="19.00" y1="95.02" x2="21.00" y2="95.02" stroke="#444" stroke-width="0.7"/>
<text x="17.3" y="97.3" font-size="6.55" text-anchor="end" textLength="8.8" lengthAdjust="spacingAndGlyphs" stroke="#000" stroke-width="0.05">−2</text>
<line x1="19.00" y1="113.28" x2="21.00" y2="113.28" stroke="#444" stroke-width="0.7"/>
<text x="17.3" y="115.6" font-size="6.55" text-anchor="end" textLength="8.8" lengthAdjust="spacingAndGlyphs" stroke="#000" stroke-width="0.05">−3</text>
<line x1="19.00" y1="131.54" x2="21.00" y2="131.54" stroke="#444" stroke-width="0.7"/>
<text x="17.3" y="133.8" font-size="6.55" text-anchor="end" textLength="8.8" lengthAdjust="spacingAndGlyphs" stroke="#000" stroke-width="0.05">−4</text>
<line x1="40.56" y1="137.70" x2="40.56" y2="139.80" stroke="#444" stroke-width="0.7"/>
<text x="40.6" y="146.1" font-size="6.55" text-anchor="middle" textLength="3.8" lengthAdjust="spacingAndGlyphs" stroke="#000" stroke-width="0.05">2</text>
<line x1="72.12" y1="137.70" x2="72.12" y2="139.80" stroke="#444" stroke-width="0.7"/>
<text x="72.1" y="146.1" font-size="6.55" text-anchor="middle" textLength="3.8" lengthAdjust="spacingAndGlyphs" stroke="#000" stroke-width="0.05">4</text>
<line x1="103.68" y1="137.70" x2="103.68" y2="139.80" stroke="#444" stroke-width="0.7"/>
<text x="103.7" y="146.1" font-size="6.55" text-anchor="middle" textLength="3.8" lengthAdjust="spacingAndGlyphs" stroke="#000" stroke-width="0.05">6</text>
<line x1="135.24" y1="137.70" x2="135.24" y2="139.80" stroke="#444" stroke-width="0.7"/>
<text x="135.2" y="146.1" font-size="6.55" text-anchor="middle" textLength="3.8" lengthAdjust="spacingAndGlyphs" stroke="#000" stroke-width="0.05">8</text>
<text x="88.8" y="153.0" font-size="6.55" text-anchor="middle" textLength="21.1" lengthAdjust="spacingAndGlyphs" stroke="#000" stroke-width="0.05">UMAP1</text>
<text x="5.9" y="82.9" font-size="6.55" text-anchor="middle" textLength="21.1" lengthAdjust="spacingAndGlyphs" transform="rotate(-90 5.9 82.9)" stroke="#000" stroke-width="0.05">UMAP2</text>
<line x1="196.50" y1="20.10" x2="196.50" y2="136.60" stroke="#6a6a6a" stroke-width="1.0"/>
<line x1="196.00" y1="136.80" x2="338.70" y2="136.80" stroke="#a0a0a0" stroke-width="1.5"/>
<line x1="194.80" y1="34.42" x2="196.50" y2="34.42" stroke="#333" stroke-width="0.7"/>
<line x1="194.80" y1="53.60" x2="196.50" y2="53.60" stroke="#333" stroke-width="0.7"/>
<line x1="194.80" y1="72.78" x2="196.50" y2="72.78" stroke="#333" stroke-width="0.7"/>
<line x1="194.80" y1="91.96" x2="196.50" y2="91.96" stroke="#333" stroke-width="0.7"/>
<line x1="194.80" y1="111.14" x2="196.50" y2="111.14" stroke="#333" stroke-width="0.7"/>
<line x1="194.80" y1="130.32" x2="196.50" y2="130.32" stroke="#333" stroke-width="0.7"/>
<line x1="217.21" y1="137.50" x2="217.21" y2="138.90" stroke="#333" stroke-width="0.7"/>
<text x="217.2" y="145.1" font-size="6.55" text-anchor="middle" textLength="3.8" lengthAdjust="spacingAndGlyphs" stroke="#000" stroke-width="0.05">2</text>
<line x1="250.35" y1="137.50" x2="250.35" y2="138.90" stroke="#333" stroke-width="0.7"/>
<text x="250.3" y="145.1" font-size="6.55" text-anchor="middle" textLength="3.8" lengthAdjust="spacingAndGlyphs" stroke="#000" stroke-width="0.05">4</text>
<line x1="283.49" y1="137.50" x2="283.49" y2="138.90" stroke="#333" stroke-width="0.7"/>
<text x="283.5" y="145.1" font-size="6.55" text-anchor="middle" textLength="3.8" lengthAdjust="spacingAndGlyphs" stroke="#000" stroke-width="0.05">6</text>
<line x1="316.63" y1="137.50" x2="316.63" y2="138.90" stroke="#333" stroke-width="0.7"/>
<text x="316.6" y="145.1" font-size="6.55" text-anchor="middle" textLength="3.8" lengthAdjust="spacingAndGlyphs" stroke="#000" stroke-width="0.05">8</text>
<text x="267.9" y="153.0" font-size="6.55" text-anchor="middle" textLength="21.1" lengthAdjust="spacingAndGlyphs" stroke="#000" stroke-width="0.05">UMAP1</text>
<g stroke-width="0.35">
<circle cx="30.7" cy="86.1" r="1.42" class="aN"/>
<circle cx="83.4" cy="53.7" r="1.42" class="aN"/>
<circle cx="39.8" cy="98.7" r="1.42" class="aN"/>
<circle cx="90.4" cy="83.1" r="1.42" class="aN"/>
<circle cx="96.5" cy="56.3" r="1.42" class="aN"/>
<circle cx="40.0" cy="62.8" r="1.42" class="aD"/>
<circle cx="90.7" cy="69.3" r="1.42" class="aN"/>
<circle cx="40.8" cy="82.4" r="1.42" class="aN"/>
<circle cx="137.6" cy="70.9" r="1.42" class="aD"/>
<circle cx="87.3" cy="48.5" r="1.42" class="aD"/>
<circle cx="71.2" cy="119.2" r="1.42" class="aN"/>
<circle cx="95.4" cy="113.7" r="1.42" class="aN"/>
<circle cx="110.9" cy="58.2" r="1.42" class="aD"/>
<circle cx="109.9" cy="100.2" r="1.42" class="aN"/>
<circle cx="119.1" cy="97.9" r="1.42" class="aP"/>
<circle cx="109.4" cy="87.3" r="1.42" class="aD"/>
<circle cx="67.6" cy="120.2" r="1.42" class="aD"/>
<circle cx="66.5" cy="67.6" r="1.42" class="aN"/>
<circle cx="110.2" cy="72.5" r="1.42" class="aN"/>
<circle cx="65.4" cy="82.0" r="1.42" class="aN"/>
<circle cx="110.8" cy="80.4" r="1.42" class="aD"/>
<circle cx="119.1" cy="109.6" r="1.42" class="aN"/>
<circle cx="87.5" cy="129.8" r="1.42" class="aD"/>
<circle cx="132.1" cy="60.8" r="1.42" class="aN"/>
<circle cx="76.4" cy="98.9" r="1.42" class="aD"/>
<circle cx="86.3" cy="74.3" r="1.42" class="aN"/>
<circle cx="128.3" cy="102.9" r="1.42" class="aN"/>
<circle cx="60.9" cy="53.8" r="1.42" class="aD"/>
<circle cx="116.8" cy="45.2" r="1.42" class="aD"/>
<circle cx="70.3" cy="71.8" r="1.42" class="aN"/>
<circle cx="89.4" cy="128.4" r="1.42" class="aN"/>
<circle cx="70.1" cy="101.8" r="1.42" class="aN"/>
<circle cx="76.8" cy="118.2" r="1.42" class="aN"/>
<circle cx="78.1" cy="61.1" r="1.42" class="aD"/>
<circle cx="94.1" cy="103.5" r="1.42" class="aN"/>
<circle cx="36.2" cy="78.9" r="1.42" class="aN"/>
<circle cx="149.7" cy="85.3" r="1.42" class="aN"/>
<circle cx="116.3" cy="66.1" r="1.42" class="aP"/>
<circle cx="149.0" cy="102.6" r="1.42" class="aD"/>
<circle cx="36.2" cy="72.9" r="1.42" class="aP"/>
<circle cx="103.8" cy="108.4" r="1.42" class="aN"/>
<circle cx="60.3" cy="102.6" r="1.42" class="aN"/>
<circle cx="120.6" cy="83.1" r="1.42" class="aP"/>
<circle cx="140.3" cy="73.5" r="1.42" class="aP"/>
<circle cx="55.3" cy="83.7" r="1.42" class="aN"/>
<circle cx="96.4" cy="68.8" r="1.42" class="aP"/>
<circle cx="58.2" cy="98.2" r="1.42" class="aN"/>
<circle cx="85.1" cy="98.7" r="1.42" class="aP"/>
<circle cx="147.9" cy="88.5" r="1.42" class="aD"/>
<circle cx="109.9" cy="89.2" r="1.42" class="aP"/>
<circle cx="143.1" cy="89.7" r="1.42" class="aD"/>
<circle cx="117.0" cy="90.1" r="1.42" class="aN"/>
<circle cx="43.0" cy="81.6" r="1.42" class="aN"/>
<circle cx="52.9" cy="103.8" r="1.42" class="aN"/>
<circle cx="134.0" cy="83.6" r="1.42" class="aD"/>
<circle cx="111.6" cy="89.0" r="1.42" class="aN"/>
<circle cx="109.6" cy="35.4" r="1.42" class="aN"/>
<circle cx="72.2" cy="93.8" r="1.42" class="aN"/>
<circle cx="70.1" cy="90.4" r="1.42" class="aN"/>
<circle cx="111.7" cy="85.3" r="1.42" class="aN"/>
<circle cx="131.4" cy="99.3" r="1.42" class="aP"/>
<circle cx="124.4" cy="68.3" r="1.42" class="aD"/>
<circle cx="108.2" cy="45.8" r="1.42" class="aD"/>
<circle cx="113.0" cy="76.9" r="1.42" class="aN"/>
<circle cx="76.9" cy="88.5" r="1.42" class="aN"/>
<circle cx="106.6" cy="44.6" r="1.42" class="aN"/>
<circle cx="59.7" cy="100.6" r="1.42" class="aN"/>
<circle cx="110.2" cy="73.3" r="1.42" class="aP"/>
<circle cx="111.5" cy="49.3" r="1.42" class="aD"/>
<circle cx="80.2" cy="119.5" r="1.42" class="aN"/>
<circle cx="79.1" cy="62.2" r="1.42" class="aN"/>
<circle cx="91.8" cy="50.9" r="1.42" class="aD"/>
<circle cx="50.9" cy="97.6" r="1.42" class="aN"/>
<circle cx="39.7" cy="97.3" r="1.42" class="aN"/>
<circle cx="73.4" cy="78.9" r="1.42" class="aP"/>
<circle cx="68.2" cy="70.5" r="1.42" class="aN"/>
<circle cx="63.1" cy="80.5" r="1.42" class="aN"/>
<circle cx="26.4" cy="81.4" r="1.42" class="aN"/>
<circle cx="99.1" cy="62.0" r="1.42" class="aP"/>
<circle cx="117.5" cy="105.7" r="1.42" class="aP"/>
<circle cx="112.2" cy="88.6" r="1.42" class="aP"/>
<circle cx="117.6" cy="65.9" r="1.42" class="aP"/>
<circle cx="75.6" cy="62.4" r="1.42" class="aN"/>
<circle cx="51.3" cy="75.8" r="1.42" class="aN"/>
<circle cx="55.4" cy="98.1" r="1.42" class="aP"/>
<circle cx="70.5" cy="82.2" r="1.42" class="aN"/>
<circle cx="86.8" cy="91.4" r="1.42" class="aN"/>
<circle cx="108.8" cy="84.8" r="1.42" class="aN"/>
<circle cx="96.3" cy="54.8" r="1.42" class="aN"/>
<circle cx="36.2" cy="75.9" r="1.42" class="aN"/>
<circle cx="106.9" cy="62.3" r="1.42" class="aP"/>
<circle cx="42.8" cy="87.7" r="1.42" class="aN"/>
<circle cx="51.0" cy="66.8" r="1.42" class="aN"/>
<circle cx="107.6" cy="53.0" r="1.42" class="aP"/>
<circle cx="42.0" cy="74.6" r="1.42" class="aN"/>
<circle cx="125.4" cy="98.2" r="1.42" class="aN"/>
<circle cx="113.3" cy="36.8" r="1.42" class="aN"/>
<circle cx="53.6" cy="83.3" r="1.42" class="aN"/>
<circle cx="136.4" cy="56.1" r="1.42" class="aN"/>
<circle cx="64.2" cy="115.9" r="1.42" class="aN"/>
<circle cx="48.0" cy="90.6" r="1.42" class="aN"/>
<circle cx="113.1" cy="50.3" r="1.42" class="aN"/>
<circle cx="125.6" cy="72.2" r="1.42" class="aN"/>
<circle cx="80.4" cy="122.9" r="1.42" class="aP"/>
<circle cx="121.8" cy="71.3" r="1.42" class="aN"/>
<circle cx="74.2" cy="58.2" r="1.42" class="aD"/>
<circle cx="138.1" cy="105.7" r="1.42" class="aD"/>
<circle cx="89.7" cy="96.6" r="1.42" class="aN"/>
<circle cx="87.6" cy="115.3" r="1.42" class="aN"/>
<circle cx="115.1" cy="56.1" r="1.42" class="aP"/>
<circle cx="80.2" cy="120.4" r="1.42" class="aN"/>
<circle cx="81.4" cy="110.4" r="1.42" class="aD"/>
<circle cx="81.3" cy="69.4" r="1.42" class="aN"/>
<circle cx="93.1" cy="112.8" r="1.42" class="aN"/>
<circle cx="106.1" cy="70.1" r="1.42" class="aP"/>
<circle cx="37.6" cy="64.7" r="1.42" class="aD"/>
<circle cx="63.5" cy="86.6" r="1.42" class="aN"/>
<circle cx="85.6" cy="130.8" r="1.42" class="aD"/>
<circle cx="121.0" cy="61.8" r="1.42" class="aP"/>
<circle cx="103.4" cy="54.4" r="1.42" class="aN"/>
<circle cx="70.2" cy="52.2" r="1.42" class="aD"/>
<circle cx="72.4" cy="74.9" r="1.42" class="aN"/>
<circle cx="125.8" cy="47.9" r="1.42" class="aD"/>
<circle cx="124.2" cy="97.6" r="1.42" class="aN"/>
<circle cx="92.6" cy="72.4" r="1.42" class="aN"/>
<circle cx="31.3" cy="79.6" r="1.42" class="aN"/>
<circle cx="49.0" cy="89.6" r="1.42" class="aN"/>
<circle cx="72.8" cy="120.4" r="1.42" class="aN"/>
<circle cx="93.2" cy="132.2" r="1.42" class="aD"/>
<circle cx="150.2" cy="84.9" r="1.42" class="aD"/>
<circle cx="130.9" cy="98.0" r="1.42" class="aN"/>
<circle cx="119.1" cy="104.0" r="1.42" class="aN"/>
<circle cx="138.6" cy="100.6" r="1.42" class="aD"/>
<circle cx="85.9" cy="54.3" r="1.42" class="aD"/>
<circle cx="36.2" cy="67.6" r="1.42" class="aN"/>
<circle cx="118.7" cy="110.5" r="1.42" class="aD"/>
<circle cx="91.3" cy="63.8" r="1.42" class="aN"/>
<circle cx="95.9" cy="50.7" r="1.42" class="aP"/>
<circle cx="57.8" cy="99.3" r="1.42" class="aN"/>
<circle cx="124.7" cy="62.2" r="1.42" class="aN"/>
<circle cx="83.5" cy="86.1" r="1.42" class="aN"/>
<circle cx="123.6" cy="90.6" r="1.42" class="aN"/>
<circle cx="114.7" cy="102.3" r="1.42" class="aN"/>
<circle cx="124.3" cy="80.5" r="1.42" class="aN"/>
<circle cx="82.8" cy="86.2" r="1.42" class="aN"/>
<circle cx="101.6" cy="84.0" r="1.42" class="aN"/>
<circle cx="78.2" cy="74.7" r="1.42" class="aN"/>
<circle cx="91.7" cy="69.7" r="1.42" class="aN"/>
<circle cx="124.1" cy="83.4" r="1.42" class="aP"/>
<circle cx="49.9" cy="76.6" r="1.42" class="aN"/>
<circle cx="65.9" cy="97.0" r="1.42" class="aN"/>
<circle cx="63.9" cy="101.8" r="1.42" class="aN"/>
<circle cx="83.0" cy="79.2" r="1.42" class="aN"/>
<circle cx="111.9" cy="86.4" r="1.42" class="aN"/>
<circle cx="102.7" cy="87.1" r="1.42" class="aN"/>
<circle cx="147.2" cy="97.8" r="1.42" class="aD"/>
<circle cx="117.8" cy="76.0" r="1.42" class="aN"/>
<circle cx="142.4" cy="91.1" r="1.42" class="aD"/>
<circle cx="73.5" cy="79.0" r="1.42" class="aD"/>
<circle cx="89.2" cy="56.5" r="1.42" class="aD"/>
<circle cx="50.2" cy="78.1" r="1.42" class="aP"/>
<circle cx="138.9" cy="61.4" r="1.42" class="aD"/>
<circle cx="45.1" cy="68.8" r="1.42" class="aN"/>
<circle cx="128.7" cy="53.6" r="1.42" class="aN"/>
<circle cx="137.9" cy="78.6" r="1.42" class="aD"/>
<circle cx="139.0" cy="102.6" r="1.42" class="aN"/>
<circle cx="123.3" cy="89.6" r="1.42" class="aN"/>
<circle cx="103.8" cy="60.6" r="1.42" class="aD"/>
<circle cx="70.4" cy="78.5" r="1.42" class="aN"/>
<circle cx="78.5" cy="71.8" r="1.42" class="aN"/>
<circle cx="121.4" cy="95.6" r="1.42" class="aD"/>
<circle cx="119.9" cy="94.5" r="1.42" class="aP"/>
<circle cx="127.2" cy="66.6" r="1.42" class="aN"/>
<circle cx="94.5" cy="99.1" r="1.42" class="aN"/>
<circle cx="125.7" cy="101.3" r="1.42" class="aN"/>
<circle cx="119.4" cy="93.7" r="1.42" class="aN"/>
<circle cx="73.9" cy="120.1" r="1.42" class="aN"/>
<circle cx="100.6" cy="76.1" r="1.42" class="aD"/>
<circle cx="63.4" cy="69.7" r="1.42" class="aN"/>
<circle cx="120.7" cy="71.9" r="1.42" class="aP"/>
<circle cx="55.9" cy="87.1" r="1.42" class="aN"/>
<circle cx="82.6" cy="106.3" r="1.42" class="aN"/>
<circle cx="35.5" cy="83.3" r="1.42" class="aN"/>
<circle cx="138.1" cy="73.3" r="1.42" class="aD"/>
<circle cx="147.4" cy="87.6" r="1.42" class="aD"/>
<circle cx="137.2" cy="84.4" r="1.42" class="aP"/>
<circle cx="78.5" cy="93.2" r="1.42" class="aN"/>
<circle cx="39.9" cy="65.2" r="1.42" class="aN"/>
<circle cx="113.1" cy="105.4" r="1.42" class="aN"/>
<circle cx="40.7" cy="72.9" r="1.42" class="aN"/>
<circle cx="48.0" cy="72.2" r="1.42" class="aN"/>
<circle cx="44.6" cy="71.1" r="1.42" class="aN"/>
<circle cx="129.5" cy="97.1" r="1.42" class="aD"/>
<circle cx="51.8" cy="70.1" r="1.42" class="aN"/>
<circle cx="99.9" cy="49.9" r="1.42" class="aN"/>
<circle cx="125.5" cy="80.5" r="1.42" class="aD"/>
<circle cx="65.8" cy="60.3" r="1.42" class="aN"/>
<circle cx="125.1" cy="50.9" r="1.42" class="aD"/>
<circle cx="134.1" cy="63.3" r="1.42" class="aN"/>
<circle cx="139.5" cy="103.7" r="1.42" class="aD"/>
<circle cx="127.9" cy="79.7" r="1.42" class="aN"/>
<circle cx="69.9" cy="106.9" r="1.42" class="aN"/>
<circle cx="55.1" cy="79.8" r="1.42" class="aN"/>
<circle cx="120.0" cy="72.4" r="1.42" class="aP"/>
<circle cx="95.5" cy="112.4" r="1.42" class="aP"/>
<circle cx="42.2" cy="76.6" r="1.42" class="aN"/>
<circle cx="76.0" cy="72.2" r="1.42" class="aN"/>
<circle cx="35.9" cy="93.4" r="1.42" class="aN"/>
<circle cx="99.2" cy="54.3" r="1.42" class="aD"/>
<circle cx="56.9" cy="61.9" r="1.42" class="aN"/>
<circle cx="77.2" cy="86.9" r="1.42" class="aN"/>
<circle cx="127.2" cy="96.3" r="1.42" class="aN"/>
<circle cx="57.6" cy="95.3" r="1.42" class="aN"/>
<circle cx="109.1" cy="62.6" r="1.42" class="aD"/>
<circle cx="84.1" cy="110.8" r="1.42" class="aN"/>
<circle cx="62.7" cy="88.4" r="1.42" class="aN"/>
<circle cx="41.7" cy="67.6" r="1.42" class="aN"/>
<circle cx="120.4" cy="95.8" r="1.42" class="aP"/>
<circle cx="121.8" cy="99.1" r="1.42" class="aN"/>
<circle cx="133.8" cy="65.5" r="1.42" class="aN"/>
<circle cx="53.2" cy="60.7" r="1.42" class="aN"/>
<circle cx="119.5" cy="100.7" r="1.42" class="aN"/>
<circle cx="97.2" cy="109.3" r="1.42" class="aN"/>
<circle cx="119.4" cy="51.8" r="1.42" class="aN"/>
<circle cx="51.6" cy="96.5" r="1.42" class="aN"/>
<circle cx="151.6" cy="91.0" r="1.42" class="aD"/>
<circle cx="34.1" cy="75.9" r="1.42" class="aP"/>
<circle cx="52.8" cy="77.6" r="1.42" class="aN"/>
<circle cx="107.8" cy="97.7" r="1.42" class="aN"/>
<circle cx="142.9" cy="85.6" r="1.42" class="aN"/>
<circle cx="131.8" cy="97.6" r="1.42" class="aP"/>
<circle cx="83.4" cy="63.0" r="1.42" class="aN"/>
<circle cx="70.5" cy="54.0" r="1.42" class="aD"/>
<circle cx="135.7" cy="96.5" r="1.42" class="aD"/>
<circle cx="142.7" cy="99.7" r="1.42" class="aN"/>
<circle cx="90.6" cy="106.5" r="1.42" class="aN"/>
<circle cx="119.9" cy="92.4" r="1.42" class="aP"/>
<circle cx="70.5" cy="55.2" r="1.42" class="aN"/>
<circle cx="51.6" cy="96.4" r="1.42" class="aN"/>
<circle cx="128.4" cy="102.6" r="1.42" class="aN"/>
<circle cx="52.2" cy="82.2" r="1.42" class="aN"/>
<circle cx="51.5" cy="101.8" r="1.42" class="aN"/>
<circle cx="40.7" cy="67.9" r="1.42" class="aN"/>
<circle cx="27.5" cy="81.7" r="1.42" class="aN"/>
<circle cx="82.7" cy="113.4" r="1.42" class="aP"/>
<circle cx="124.2" cy="69.4" r="1.42" class="aN"/>
<circle cx="120.1" cy="49.6" r="1.42" class="aD"/>
<circle cx="113.8" cy="109.7" r="1.42" class="aN"/>
<circle cx="59.7" cy="95.4" r="1.42" class="aN"/>
<circle cx="37.5" cy="97.2" r="1.42" class="aN"/>
<circle cx="125.4" cy="104.2" r="1.42" class="aN"/>
<circle cx="118.0" cy="92.6" r="1.42" class="aN"/>
<circle cx="127.7" cy="79.9" r="1.42" class="aN"/>
<circle cx="90.4" cy="90.1" r="1.42" class="aN"/>
<circle cx="50.9" cy="65.3" r="1.42" class="aD"/>
<circle cx="66.8" cy="73.3" r="1.42" class="aP"/>
<circle cx="43.4" cy="77.2" r="1.42" class="aN"/>
<circle cx="95.9" cy="77.8" r="1.42" class="aN"/>
<circle cx="82.2" cy="90.7" r="1.42" class="aN"/>
<circle cx="117.5" cy="86.2" r="1.42" class="aD"/>
<circle cx="126.8" cy="95.8" r="1.42" class="aN"/>
<circle cx="83.7" cy="131.2" r="1.42" class="aN"/>
<circle cx="64.7" cy="70.1" r="1.42" class="aN"/>
<circle cx="97.4" cy="67.2" r="1.42" class="aN"/>
<circle cx="97.5" cy="69.4" r="1.42" class="aN"/>
<circle cx="125.8" cy="110.0" r="1.42" class="aN"/>
<circle cx="86.5" cy="113.8" r="1.42" class="aN"/>
<circle cx="65.3" cy="118.5" r="1.42" class="aN"/>
<circle cx="91.5" cy="94.9" r="1.42" class="aN"/>
<circle cx="72.7" cy="104.3" r="1.42" class="aP"/>
<circle cx="109.7" cy="33.0" r="1.42" class="aN"/>
<circle cx="63.5" cy="60.6" r="1.42" class="aN"/>
<circle cx="109.9" cy="103.9" r="1.42" class="aN"/>
<circle cx="86.8" cy="111.3" r="1.42" class="aN"/>
<circle cx="130.0" cy="79.6" r="1.42" class="aN"/>
<circle cx="78.1" cy="64.2" r="1.42" class="aD"/>
<circle cx="130.9" cy="58.4" r="1.42" class="aP"/>
<circle cx="34.5" cy="76.7" r="1.42" class="aN"/>
<circle cx="43.5" cy="86.4" r="1.42" class="aN"/>
<circle cx="96.2" cy="82.0" r="1.42" class="aP"/>
<circle cx="136.4" cy="71.3" r="1.42" class="aD"/>
<circle cx="94.8" cy="56.5" r="1.42" class="aN"/>
<circle cx="111.4" cy="79.4" r="1.42" class="aN"/>
<circle cx="103.8" cy="112.1" r="1.42" class="aN"/>
<circle cx="127.8" cy="86.3" r="1.42" class="aD"/>
<circle cx="81.0" cy="67.5" r="1.42" class="aN"/>
<circle cx="64.8" cy="53.2" r="1.42" class="aN"/>
<circle cx="38.9" cy="67.0" r="1.42" class="aD"/>
<circle cx="97.9" cy="99.9" r="1.42" class="aN"/>
<circle cx="67.1" cy="72.8" r="1.42" class="aN"/>
<circle cx="63.4" cy="66.2" r="1.42" class="aP"/>
<circle cx="110.8" cy="45.6" r="1.42" class="aD"/>
<circle cx="112.8" cy="95.8" r="1.42" class="aN"/>
<circle cx="85.3" cy="62.3" r="1.42" class="aD"/>
<circle cx="129.7" cy="74.6" r="1.42" class="aD"/>
<circle cx="121.0" cy="52.8" r="1.42" class="aD"/>
<circle cx="33.3" cy="79.2" r="1.42" class="aN"/>
<circle cx="136.3" cy="94.9" r="1.42" class="aD"/>
<circle cx="97.3" cy="65.8" r="1.42" class="aN"/>
<circle cx="44.8" cy="93.4" r="1.42" class="aN"/>
<circle cx="137.1" cy="69.0" r="1.42" class="aD"/>
<circle cx="105.3" cy="84.7" r="1.42" class="aP"/>
<circle cx="61.3" cy="67.0" r="1.42" class="aN"/>
<circle cx="85.8" cy="75.4" r="1.42" class="aN"/>
<circle cx="112.5" cy="62.7" r="1.42" class="aN"/>
<circle cx="112.6" cy="43.6" r="1.42" class="aD"/>
<circle cx="123.2" cy="87.2" r="1.42" class="aD"/>
<circle cx="105.3" cy="75.6" r="1.42" class="aN"/>
<circle cx="123.1" cy="77.7" r="1.42" class="aD"/>
<circle cx="73.0" cy="52.0" r="1.42" class="aD"/>
<circle cx="70.3" cy="80.3" r="1.42" class="aN"/>
<circle cx="81.5" cy="116.5" r="1.42" class="aN"/>
<circle cx="111.9" cy="102.3" r="1.42" class="aN"/>
<circle cx="114.9" cy="87.7" r="1.42" class="aD"/>
<circle cx="113.7" cy="48.6" r="1.42" class="aD"/>
<circle cx="124.2" cy="55.2" r="1.42" class="aN"/>
<circle cx="82.7" cy="102.5" r="1.42" class="aP"/>
<circle cx="93.0" cy="68.6" r="1.42" class="aN"/>
<circle cx="42.3" cy="77.2" r="1.42" class="aN"/>
<circle cx="72.3" cy="119.1" r="1.42" class="aN"/>
<circle cx="63.6" cy="107.0" r="1.42" class="aN"/>
<circle cx="115.3" cy="95.5" r="1.42" class="aD"/>
<circle cx="92.3" cy="129.3" r="1.42" class="aP"/>
<circle cx="42.4" cy="86.8" r="1.42" class="aN"/>
<circle cx="61.7" cy="96.1" r="1.42" class="aN"/>
<circle cx="83.2" cy="65.5" r="1.42" class="aN"/>
<circle cx="124.0" cy="72.3" r="1.42" class="aN"/>
<circle cx="95.8" cy="57.0" r="1.42" class="aD"/>
<circle cx="71.1" cy="76.1" r="1.42" class="aN"/>
<circle cx="62.0" cy="75.0" r="1.42" class="aP"/>
<circle cx="79.0" cy="51.4" r="1.42" class="aD"/>
<circle cx="34.6" cy="83.8" r="1.42" class="aN"/>
<circle cx="149.7" cy="99.5" r="1.42" class="aD"/>
<circle cx="102.0" cy="55.5" r="1.42" class="aD"/>
<circle cx="91.0" cy="107.4" r="1.42" class="aN"/>
<circle cx="53.8" cy="67.8" r="1.42" class="aN"/>
<circle cx="52.6" cy="76.5" r="1.42" class="aP"/>
<circle cx="43.4" cy="66.0" r="1.42" class="aN"/>
<circle cx="134.5" cy="77.8" r="1.42" class="aD"/>
<circle cx="46.9" cy="84.3" r="1.42" class="aN"/>
<circle cx="60.1" cy="66.1" r="1.42" class="aN"/>
<circle cx="99.2" cy="69.1" r="1.42" class="aN"/>
<circle cx="91.3" cy="93.3" r="1.42" class="aN"/>
<circle cx="35.4" cy="86.1" r="1.42" class="aN"/>
<circle cx="72.1" cy="56.6" r="1.42" class="aD"/>
<circle cx="68.4" cy="83.3" r="1.42" class="aN"/>
<circle cx="52.0" cy="61.8" r="1.42" class="aN"/>
<circle cx="54.5" cy="76.7" r="1.42" class="aN"/>
<circle cx="57.8" cy="66.2" r="1.42" class="aN"/>
<circle cx="49.7" cy="98.6" r="1.42" class="aP"/>
<circle cx="99.9" cy="73.4" r="1.42" class="aN"/>
<circle cx="107.1" cy="83.8" r="1.42" class="aP"/>
<circle cx="43.9" cy="100.9" r="1.42" class="aN"/>
<circle cx="122.9" cy="49.5" r="1.42" class="aD"/>
<circle cx="108.2" cy="50.0" r="1.42" class="aD"/>
<circle cx="94.1" cy="60.7" r="1.42" class="aD"/>
<circle cx="27.9" cy="83.5" r="1.42" class="aN"/>
<circle cx="101.1" cy="51.9" r="1.42" class="aP"/>
<circle cx="82.0" cy="83.7" r="1.42" class="aN"/>
<circle cx="99.9" cy="60.3" r="1.42" class="aP"/>
<circle cx="121.9" cy="79.2" r="1.42" class="aN"/>
<circle cx="100.5" cy="78.1" r="1.42" class="aN"/>
<circle cx="116.7" cy="100.9" r="1.42" class="aN"/>
<circle cx="84.0" cy="60.6" r="1.42" class="aP"/>
<circle cx="121.7" cy="88.7" r="1.42" class="aN"/>
<circle cx="97.7" cy="61.9" r="1.42" class="aN"/>
<circle cx="110.2" cy="43.5" r="1.42" class="aD"/>
<circle cx="138.5" cy="98.2" r="1.42" class="aN"/>
<circle cx="107.6" cy="51.8" r="1.42" class="aD"/>
<circle cx="29.9" cy="78.9" r="1.42" class="aN"/>
<circle cx="42.3" cy="65.9" r="1.42" class="aN"/>
<circle cx="45.9" cy="68.9" r="1.42" class="aN"/>
<circle cx="137.4" cy="100.7" r="1.42" class="aN"/>
<circle cx="96.0" cy="50.3" r="1.42" class="aP"/>
<circle cx="125.6" cy="106.2" r="1.42" class="aD"/>
<circle cx="42.0" cy="88.9" r="1.42" class="aN"/>
<circle cx="56.3" cy="88.7" r="1.42" class="aN"/>
<circle cx="30.1" cy="72.2" r="1.42" class="aN"/>
<circle cx="143.8" cy="102.0" r="1.42" class="aD"/>
<circle cx="124.1" cy="102.8" r="1.42" class="aN"/>
<circle cx="97.7" cy="87.4" r="1.42" class="aD"/>
<circle cx="127.6" cy="93.3" r="1.42" class="aD"/>
<circle cx="97.4" cy="115.3" r="1.42" class="aN"/>
<circle cx="55.1" cy="56.1" r="1.42" class="aN"/>
<circle cx="92.9" cy="48.9" r="1.42" class="aD"/>
<circle cx="137.4" cy="67.7" r="1.42" class="aN"/>
<circle cx="85.6" cy="70.5" r="1.42" class="aN"/>
<circle cx="57.1" cy="73.2" r="1.42" class="aN"/>
<circle cx="68.7" cy="80.9" r="1.42" class="aN"/>
<circle cx="127.2" cy="105.4" r="1.42" class="aD"/>
<circle cx="57.8" cy="108.0" r="1.42" class="aN"/>
<circle cx="30.3" cy="86.4" r="1.42" class="aP"/>
<circle cx="52.3" cy="64.0" r="1.42" class="aD"/>
<circle cx="40.0" cy="100.5" r="1.42" class="aP"/>
<circle cx="84.7" cy="100.1" r="1.42" class="aN"/>
<circle cx="148.6" cy="89.5" r="1.42" class="aD"/>
<circle cx="72.3" cy="86.9" r="1.42" class="aN"/>
<circle cx="48.6" cy="101.4" r="1.42" class="aN"/>
<circle cx="70.7" cy="64.9" r="1.42" class="aP"/>
<circle cx="107.5" cy="69.9" r="1.42" class="aN"/>
<circle cx="108.5" cy="103.0" r="1.42" class="aN"/>
<circle cx="79.8" cy="60.4" r="1.42" class="aD"/>
<circle cx="76.1" cy="103.4" r="1.42" class="aN"/>
<circle cx="109.9" cy="42.9" r="1.42" class="aD"/>
<circle cx="59.3" cy="94.1" r="1.42" class="aN"/>
<circle cx="66.0" cy="90.4" r="1.42" class="aD"/>
<circle cx="55.4" cy="97.8" r="1.42" class="aN"/>
<circle cx="59.4" cy="83.4" r="1.42" class="aN"/>
<circle cx="87.6" cy="47.9" r="1.42" class="aD"/>
<circle cx="92.8" cy="93.3" r="1.42" class="aN"/>
<circle cx="58.6" cy="105.5" r="1.42" class="aN"/>
<circle cx="94.7" cy="76.6" r="1.42" class="aN"/>
<circle cx="61.0" cy="59.6" r="1.42" class="aN"/>
<circle cx="148.8" cy="84.8" r="1.42" class="aD"/>
<circle cx="103.2" cy="61.7" r="1.42" class="aP"/>
<circle cx="104.1" cy="100.5" r="1.42" class="aP"/>
<circle cx="125.7" cy="64.0" r="1.42" class="aP"/>
<circle cx="81.8" cy="121.8" r="1.42" class="aN"/>
<circle cx="44.8" cy="88.8" r="1.42" class="aN"/>
<circle cx="125.4" cy="110.4" r="1.42" class="aN"/>
<circle cx="80.2" cy="83.6" r="1.42" class="aP"/>
<circle cx="108.9" cy="101.4" r="1.42" class="aN"/>
<circle cx="100.4" cy="65.8" r="1.42" class="aN"/>
<circle cx="37.7" cy="87.1" r="1.42" class="aN"/>
<circle cx="37.8" cy="80.5" r="1.42" class="aD"/>
<circle cx="121.6" cy="109.7" r="1.42" class="aN"/>
<circle cx="90.0" cy="49.3" r="1.42" class="aD"/>
<circle cx="112.5" cy="43.7" r="1.42" class="aD"/>
<circle cx="51.7" cy="65.0" r="1.42" class="aN"/>
<circle cx="128.8" cy="71.3" r="1.42" class="aP"/>
<circle cx="141.8" cy="74.9" r="1.42" class="aD"/>
<circle cx="124.9" cy="59.9" r="1.42" class="aN"/>
<circle cx="43.3" cy="80.8" r="1.42" class="aN"/>
<circle cx="62.5" cy="72.6" r="1.42" class="aN"/>
<circle cx="63.4" cy="109.0" r="1.42" class="aN"/>
<circle cx="94.9" cy="110.9" r="1.42" class="aN"/>
<circle cx="40.3" cy="64.8" r="1.42" class="aP"/>
<circle cx="73.0" cy="117.4" r="1.42" class="aN"/>
<circle cx="109.6" cy="41.4" r="1.42" class="aD"/>
<circle cx="90.4" cy="131.7" r="1.42" class="aN"/>
<circle cx="75.4" cy="84.2" r="1.42" class="aN"/>
<circle cx="125.1" cy="105.5" r="1.42" class="aN"/>
<circle cx="105.0" cy="64.2" r="1.42" class="aN"/>
<circle cx="119.8" cy="89.2" r="1.42" class="aN"/>
<circle cx="117.8" cy="97.7" r="1.42" class="aN"/>
<circle cx="91.1" cy="66.7" r="1.42" class="aN"/>
<circle cx="122.9" cy="114.5" r="1.42" class="aN"/>
<circle cx="35.8" cy="80.4" r="1.42" class="aN"/>
<circle cx="98.5" cy="73.4" r="1.42" class="aN"/>
<circle cx="91.5" cy="94.2" r="1.42" class="aN"/>
<circle cx="115.7" cy="55.6" r="1.42" class="aN"/>
<circle cx="132.5" cy="75.1" r="1.42" class="aD"/>
<circle cx="148.8" cy="92.3" r="1.42" class="aD"/>
<circle cx="107.8" cy="57.0" r="1.42" class="aD"/>
<circle cx="95.9" cy="103.3" r="1.42" class="aP"/>
<circle cx="125.0" cy="95.1" r="1.42" class="aN"/>
<circle cx="113.3" cy="44.0" r="1.42" class="aN"/>
<circle cx="73.7" cy="118.2" r="1.42" class="aN"/>
<circle cx="150.7" cy="84.2" r="1.42" class="aD"/>
<circle cx="117.6" cy="62.3" r="1.42" class="aD"/>
<circle cx="136.7" cy="106.6" r="1.42" class="aN"/>
<circle cx="147.3" cy="82.0" r="1.42" class="aD"/>
<circle cx="73.3" cy="118.3" r="1.42" class="aN"/>
<circle cx="112.7" cy="92.5" r="1.42" class="aN"/>
<circle cx="119.0" cy="76.6" r="1.42" class="aN"/>
<circle cx="144.4" cy="104.1" r="1.42" class="aD"/>
<circle cx="53.2" cy="62.1" r="1.42" class="aD"/>
<circle cx="126.9" cy="59.2" r="1.42" class="aN"/>
<circle cx="138.0" cy="75.1" r="1.42" class="aN"/>
<circle cx="65.9" cy="69.8" r="1.42" class="aN"/>
<circle cx="77.9" cy="89.6" r="1.42" class="aP"/>
<circle cx="76.2" cy="88.3" r="1.42" class="aP"/>
<circle cx="73.4" cy="60.6" r="1.42" class="aN"/>
<circle cx="62.0" cy="86.1" r="1.42" class="aN"/>
<circle cx="83.8" cy="82.4" r="1.42" class="aN"/>
<circle cx="92.2" cy="119.9" r="1.42" class="aN"/>
<circle cx="55.9" cy="84.1" r="1.42" class="aN"/>
<circle cx="29.5" cy="80.7" r="1.42" class="aN"/>
<circle cx="138.1" cy="56.8" r="1.42" class="aD"/>
<circle cx="98.9" cy="108.4" r="1.42" class="aN"/>
<circle cx="78.6" cy="69.1" r="1.42" class="aN"/>
<circle cx="64.8" cy="67.4" r="1.42" class="aN"/>
<circle cx="69.4" cy="90.5" r="1.42" class="aN"/>
<circle cx="65.0" cy="110.0" r="1.42" class="aP"/>
<circle cx="120.2" cy="94.4" r="1.42" class="aN"/>
<circle cx="41.8" cy="96.1" r="1.42" class="aN"/>
<circle cx="64.8" cy="102.9" r="1.42" class="aN"/>
<circle cx="65.9" cy="72.2" r="1.42" class="aN"/>
<circle cx="81.5" cy="104.3" r="1.42" class="aN"/>
<circle cx="70.9" cy="62.5" r="1.42" class="aN"/>
<circle cx="45.8" cy="102.5" r="1.42" class="aP"/>
<circle cx="72.4" cy="61.5" r="1.42" class="aD"/>
<circle cx="122.6" cy="92.1" r="1.42" class="aN"/>
<circle cx="115.0" cy="87.6" r="1.42" class="aN"/>
<circle cx="76.1" cy="58.5" r="1.42" class="aD"/>
<circle cx="76.1" cy="95.1" r="1.42" class="aN"/>
<circle cx="107.6" cy="95.7" r="1.42" class="aN"/>
<circle cx="41.7" cy="87.1" r="1.42" class="aD"/>
<circle cx="105.0" cy="76.1" r="1.42" class="aP"/>
<circle cx="131.7" cy="95.6" r="1.42" class="aN"/>
<circle cx="75.4" cy="101.4" r="1.42" class="aN"/>
<circle cx="62.0" cy="109.6" r="1.42" class="aN"/>
<circle cx="98.7" cy="88.1" r="1.42" class="aP"/>
<circle cx="31.9" cy="69.5" r="1.42" class="aN"/>
<circle cx="113.8" cy="105.8" r="1.42" class="aN"/>
<circle cx="77.9" cy="75.3" r="1.42" class="aN"/>
<circle cx="53.0" cy="74.5" r="1.42" class="aN"/>
<circle cx="64.2" cy="95.6" r="1.42" class="aN"/>
<circle cx="73.2" cy="101.7" r="1.42" class="aP"/>
<circle cx="99.9" cy="49.7" r="1.42" class="aD"/>
<circle cx="128.9" cy="104.8" r="1.42" class="aP"/>
<circle cx="85.7" cy="97.8" r="1.42" class="aP"/>
<circle cx="105.3" cy="68.3" r="1.42" class="aP"/>
<circle cx="85.3" cy="105.9" r="1.42" class="aN"/>
<circle cx="123.5" cy="94.5" r="1.42" class="aP"/>
<circle cx="59.7" cy="86.5" r="1.42" class="aN"/>
<circle cx="118.5" cy="52.8" r="1.42" class="aD"/>
<circle cx="141.4" cy="88.8" r="1.42" class="aD"/>
<circle cx="77.7" cy="78.8" r="1.42" class="aN"/>
<circle cx="38.7" cy="70.8" r="1.42" class="aN"/>
<circle cx="61.5" cy="85.4" r="1.42" class="aN"/>
<circle cx="58.5" cy="108.5" r="1.42" class="aN"/>
<circle cx="88.8" cy="57.7" r="1.42" class="aN"/>
<circle cx="29.0" cy="79.1" r="1.42" class="aN"/>
<circle cx="125.8" cy="48.0" r="1.42" class="aP"/>
<circle cx="99.4" cy="94.3" r="1.42" class="aD"/>
<circle cx="47.8" cy="84.2" r="1.42" class="aN"/>
<circle cx="119.7" cy="70.1" r="1.42" class="aN"/>
<circle cx="125.5" cy="96.4" r="1.42" class="aP"/>
<circle cx="75.3" cy="64.2" r="1.42" class="aN"/>
<circle cx="102.8" cy="71.0" r="1.42" class="aN"/>
<circle cx="117.0" cy="62.9" r="1.42" class="aD"/>
<circle cx="93.6" cy="110.4" r="1.42" class="aN"/>
<circle cx="106.7" cy="33.4" r="1.42" class="aN"/>
<circle cx="88.0" cy="86.2" r="1.42" class="aN"/>
<circle cx="104.4" cy="99.1" r="1.42" class="aN"/>
<circle cx="83.6" cy="74.0" r="1.42" class="aN"/>
<circle cx="35.6" cy="95.4" r="1.42" class="aN"/>
<circle cx="47.5" cy="80.8" r="1.42" class="aN"/>
<circle cx="94.8" cy="84.8" r="1.42" class="aN"/>
<circle cx="136.6" cy="80.7" r="1.42" class="aN"/>
<circle cx="108.3" cy="39.9" r="1.42" class="aN"/>
<circle cx="139.7" cy="92.9" r="1.42" class="aP"/>
<circle cx="40.9" cy="85.4" r="1.42" class="aN"/>
<circle cx="62.0" cy="55.2" r="1.42" class="aD"/>
<circle cx="43.0" cy="94.5" r="1.42" class="aN"/>
<circle cx="139.1" cy="98.4" r="1.42" class="aN"/>
<circle cx="105.1" cy="62.4" r="1.42" class="aP"/>
<circle cx="94.6" cy="105.1" r="1.42" class="aP"/>
<circle cx="104.8" cy="43.3" r="1.42" class="aD"/>
<circle cx="80.6" cy="100.4" r="1.42" class="aN"/>
<circle cx="130.7" cy="51.0" r="1.42" class="aN"/>
<circle cx="57.7" cy="66.9" r="1.42" class="aD"/>
<circle cx="116.7" cy="82.2" r="1.42" class="aN"/>
<circle cx="66.4" cy="116.9" r="1.42" class="aP"/>
<circle cx="46.9" cy="86.9" r="1.42" class="aN"/>
<circle cx="69.4" cy="83.6" r="1.42" class="aP"/>
<circle cx="135.5" cy="68.7" r="1.42" class="aD"/>
<circle cx="49.6" cy="85.2" r="1.42" class="aN"/>
<circle cx="105.4" cy="43.5" r="1.42" class="aD"/>
<circle cx="78.2" cy="59.7" r="1.42" class="aN"/>
<circle cx="74.4" cy="60.4" r="1.42" class="aD"/>
<circle cx="61.5" cy="56.7" r="1.42" class="aN"/>
<circle cx="51.6" cy="100.1" r="1.42" class="aN"/>
<circle cx="108.4" cy="51.7" r="1.42" class="aP"/>
<circle cx="73.6" cy="113.6" r="1.42" class="aP"/>
<circle cx="114.1" cy="83.2" r="1.42" class="aN"/>
<circle cx="34.4" cy="81.9" r="1.42" class="aN"/>
<circle cx="78.2" cy="52.2" r="1.42" class="aP"/>
<circle cx="52.4" cy="90.3" r="1.42" class="aN"/>
<circle cx="64.1" cy="87.2" r="1.42" class="aN"/>
<circle cx="112.0" cy="92.0" r="1.42" class="aN"/>
<circle cx="59.3" cy="94.5" r="1.42" class="aN"/>
<circle cx="49.5" cy="76.4" r="1.42" class="aN"/>
<circle cx="133.3" cy="93.4" r="1.42" class="aN"/>
<circle cx="117.8" cy="84.7" r="1.42" class="aP"/>
<circle cx="58.6" cy="90.3" r="1.42" class="aN"/>
<circle cx="68.6" cy="75.3" r="1.42" class="aN"/>
<circle cx="48.9" cy="90.0" r="1.42" class="aN"/>
<circle cx="87.3" cy="122.4" r="1.42" class="aN"/>
<circle cx="109.4" cy="47.6" r="1.42" class="aD"/>
<circle cx="124.4" cy="57.5" r="1.42" class="aN"/>
<circle cx="127.9" cy="96.6" r="1.42" class="aP"/>
<circle cx="106.9" cy="69.4" r="1.42" class="aN"/>
<circle cx="98.2" cy="100.1" r="1.42" class="aN"/>
<circle cx="50.1" cy="98.8" r="1.42" class="aN"/>
<circle cx="125.5" cy="100.1" r="1.42" class="aN"/>
<circle cx="126.9" cy="98.0" r="1.42" class="aN"/>
<circle cx="57.3" cy="97.6" r="1.42" class="aN"/>
<circle cx="98.5" cy="109.9" r="1.42" class="aN"/>
<circle cx="114.6" cy="76.4" r="1.42" class="aN"/>
<circle cx="57.2" cy="84.6" r="1.42" class="aP"/>
<circle cx="95.8" cy="71.5" r="1.42" class="aN"/>
<circle cx="128.9" cy="108.5" r="1.42" class="aD"/>
<circle cx="48.2" cy="80.4" r="1.42" class="aN"/>
<circle cx="112.1" cy="45.8" r="1.42" class="aN"/>
<circle cx="123.4" cy="100.2" r="1.42" class="aP"/>
<circle cx="119.4" cy="96.4" r="1.42" class="aD"/>
<circle cx="43.1" cy="91.6" r="1.42" class="aN"/>
<circle cx="100.1" cy="79.1" r="1.42" class="aD"/>
<circle cx="81.6" cy="54.8" r="1.42" class="aD"/>
<circle cx="122.4" cy="87.1" r="1.42" class="aN"/>
<circle cx="97.3" cy="59.0" r="1.42" class="aN"/>
<circle cx="129.3" cy="78.6" r="1.42" class="aD"/>
<circle cx="115.3" cy="92.0" r="1.42" class="aP"/>
<circle cx="33.2" cy="67.2" r="1.42" class="aN"/>
<circle cx="136.9" cy="106.5" r="1.42" class="aP"/>
<circle cx="75.7" cy="106.3" r="1.42" class="aN"/>
<circle cx="90.5" cy="85.0" r="1.42" class="aP"/>
<circle cx="103.9" cy="60.9" r="1.42" class="aD"/>
<circle cx="75.3" cy="113.8" r="1.42" class="aN"/>
<circle cx="126.2" cy="110.1" r="1.42" class="aP"/>
<circle cx="31.2" cy="89.4" r="1.42" class="aN"/>
<circle cx="51.3" cy="91.3" r="1.42" class="aN"/>
<circle cx="56.8" cy="68.4" r="1.42" class="aN"/>
<circle cx="35.7" cy="82.8" r="1.42" class="aN"/>
<circle cx="56.8" cy="81.0" r="1.42" class="aN"/>
<circle cx="52.4" cy="92.7" r="1.42" class="aP"/>
<circle cx="94.4" cy="86.3" r="1.42" class="aN"/>
<circle cx="110.2" cy="95.4" r="1.42" class="aN"/>
<circle cx="111.7" cy="34.4" r="1.42" class="aN"/>
<circle cx="59.3" cy="65.7" r="1.42" class="aN"/>
<circle cx="47.0" cy="84.3" r="1.42" class="aN"/>
<circle cx="110.6" cy="87.4" r="1.42" class="aN"/>
<circle cx="66.3" cy="73.3" r="1.42" class="aN"/>
<circle cx="133.6" cy="109.3" r="1.42" class="aD"/>
<circle cx="109.2" cy="98.5" r="1.42" class="aN"/>
<circle cx="131.1" cy="104.1" r="1.42" class="aD"/>
<circle cx="84.8" cy="59.5" r="1.42" class="aD"/>
<circle cx="98.3" cy="47.0" r="1.42" class="aP"/>
<circle cx="145.9" cy="104.5" r="1.42" class="aD"/>
<circle cx="87.1" cy="72.2" r="1.42" class="aN"/>
<circle cx="54.8" cy="92.7" r="1.42" class="aP"/>
<circle cx="128.6" cy="82.9" r="1.42" class="aD"/>
<circle cx="137.7" cy="103.5" r="1.42" class="aD"/>
<circle cx="113.2" cy="35.5" r="1.42" class="aN"/>
<circle cx="90.0" cy="95.8" r="1.42" class="aN"/>
<circle cx="51.0" cy="89.9" r="1.42" class="aN"/>
<circle cx="62.6" cy="86.1" r="1.42" class="aN"/>
<circle cx="106.3" cy="79.9" r="1.42" class="aD"/>
<circle cx="96.7" cy="101.8" r="1.42" class="aN"/>
<circle cx="125.9" cy="49.5" r="1.42" class="aD"/>
<circle cx="55.1" cy="74.8" r="1.42" class="aN"/>
<circle cx="127.0" cy="67.5" r="1.42" class="aP"/>
<circle cx="129.4" cy="95.7" r="1.42" class="aP"/>
<circle cx="125.2" cy="52.0" r="1.42" class="aN"/>
<circle cx="31.7" cy="86.4" r="1.42" class="aN"/>
<circle cx="122.9" cy="100.1" r="1.42" class="aN"/>
<circle cx="107.2" cy="42.3" r="1.42" class="aD"/>
<circle cx="61.4" cy="80.8" r="1.42" class="aN"/>
<circle cx="135.3" cy="82.2" r="1.42" class="aN"/>
<circle cx="57.9" cy="90.8" r="1.42" class="aP"/>
<circle cx="49.0" cy="85.1" r="1.42" class="aN"/>
<circle cx="60.9" cy="53.2" r="1.42" class="aD"/>
<circle cx="141.2" cy="97.2" r="1.42" class="aD"/>
<circle cx="75.6" cy="58.6" r="1.42" class="aN"/>
<circle cx="126.4" cy="108.6" r="1.42" class="aN"/>
<circle cx="139.1" cy="100.3" r="1.42" class="aD"/>
<circle cx="44.6" cy="61.7" r="1.42" class="aN"/>
<circle cx="102.5" cy="107.2" r="1.42" class="aN"/>
<circle cx="108.5" cy="35.0" r="1.42" class="aN"/>
<circle cx="102.2" cy="81.7" r="1.42" class="aN"/>
<circle cx="100.3" cy="79.6" r="1.42" class="aN"/>
<circle cx="94.9" cy="102.5" r="1.42" class="aN"/>
<circle cx="86.3" cy="60.7" r="1.42" class="aN"/>
<circle cx="126.2" cy="65.1" r="1.42" class="aP"/>
<circle cx="83.2" cy="68.5" r="1.42" class="aN"/>
<circle cx="109.4" cy="58.9" r="1.42" class="aP"/>
<circle cx="61.4" cy="105.1" r="1.42" class="aN"/>
<circle cx="109.6" cy="86.8" r="1.42" class="aN"/>
<circle cx="115.0" cy="103.6" r="1.42" class="aN"/>
<circle cx="117.6" cy="85.2" r="1.42" class="aN"/>
<circle cx="50.3" cy="66.5" r="1.42" class="aN"/>
<circle cx="100.2" cy="103.7" r="1.42" class="aP"/>
<circle cx="40.4" cy="99.9" r="1.42" class="aN"/>
<circle cx="125.6" cy="62.9" r="1.42" class="aD"/>
<circle cx="101.1" cy="107.3" r="1.42" class="aN"/>
<circle cx="39.7" cy="64.7" r="1.42" class="aN"/>
<circle cx="139.1" cy="99.2" r="1.42" class="aP"/>
<circle cx="112.3" cy="87.0" r="1.42" class="aN"/>
<circle cx="123.0" cy="62.0" r="1.42" class="aD"/>
<circle cx="111.1" cy="107.2" r="1.42" class="aP"/>
<circle cx="109.7" cy="87.5" r="1.42" class="aN"/>
<circle cx="90.5" cy="96.0" r="1.42" class="aN"/>
<circle cx="73.1" cy="73.0" r="1.42" class="aD"/>
<circle cx="133.2" cy="74.7" r="1.42" class="aP"/>
<circle cx="112.3" cy="41.1" r="1.42" class="aD"/>
<circle cx="115.5" cy="75.8" r="1.42" class="aP"/>
<circle cx="112.3" cy="114.9" r="1.42" class="aN"/>
<circle cx="108.8" cy="33.3" r="1.42" class="aN"/>
<circle cx="64.3" cy="64.8" r="1.42" class="aN"/>
<circle cx="120.6" cy="116.2" r="1.42" class="aN"/>
<circle cx="123.7" cy="55.1" r="1.42" class="aP"/>
<circle cx="78.0" cy="110.1" r="1.42" class="aD"/>
<circle cx="132.5" cy="54.9" r="1.42" class="aD"/>
<circle cx="42.8" cy="64.7" r="1.42" class="aN"/>
<circle cx="86.6" cy="50.9" r="1.42" class="aD"/>
<circle cx="116.3" cy="104.2" r="1.42" class="aN"/>
<circle cx="41.8" cy="83.9" r="1.42" class="aN"/>
<circle cx="84.1" cy="104.2" r="1.42" class="aN"/>
<circle cx="123.2" cy="71.4" r="1.42" class="aD"/>
<circle cx="39.3" cy="88.5" r="1.42" class="aN"/>
<circle cx="65.7" cy="113.5" r="1.42" class="aN"/>
<circle cx="95.8" cy="63.5" r="1.42" class="aP"/>
<circle cx="123.9" cy="85.1" r="1.42" class="aP"/>
<circle cx="105.9" cy="109.8" r="1.42" class="aN"/>
<circle cx="80.3" cy="125.4" r="1.42" class="aN"/>
<circle cx="102.8" cy="51.7" r="1.42" class="aD"/>
<circle cx="30.1" cy="73.6" r="1.42" class="aN"/>
<circle cx="44.5" cy="82.0" r="1.42" class="aN"/>
<circle cx="79.6" cy="70.5" r="1.42" class="aN"/>
<circle cx="55.1" cy="80.8" r="1.42" class="aP"/>
<circle cx="52.9" cy="65.0" r="1.42" class="aD"/>
<circle cx="122.2" cy="98.4" r="1.42" class="aN"/>
<circle cx="106.8" cy="90.1" r="1.42" class="aN"/>
<circle cx="63.0" cy="85.9" r="1.42" class="aN"/>
<circle cx="86.3" cy="93.8" r="1.42" class="aN"/>
<circle cx="84.7" cy="86.6" r="1.42" class="aN"/>
<circle cx="119.4" cy="89.3" r="1.42" class="aN"/>
<circle cx="131.7" cy="102.8" r="1.42" class="aP"/>
<circle cx="80.1" cy="88.9" r="1.42" class="aN"/>
<circle cx="72.7" cy="108.4" r="1.42" class="aN"/>
<circle cx="67.7" cy="83.2" r="1.42" class="aP"/>
<circle cx="50.2" cy="97.6" r="1.42" class="aN"/>
<circle cx="83.4" cy="121.3" r="1.42" class="aP"/>
<circle cx="81.5" cy="63.7" r="1.42" class="aD"/>
<circle cx="86.0" cy="88.4" r="1.42" class="aN"/>
<circle cx="59.6" cy="94.0" r="1.42" class="aN"/>
<circle cx="113.9" cy="102.5" r="1.42" class="aN"/>
<circle cx="82.6" cy="54.3" r="1.42" class="aD"/>
<circle cx="113.9" cy="71.0" r="1.42" class="aN"/>
<circle cx="110.1" cy="64.5" r="1.42" class="aN"/>
</g>
<g stroke-width="0.4">
<circle cx="206.9" cy="82.6" r="1.5" class="b1"/>
<circle cx="262.2" cy="48.5" r="1.5" class="b1"/>
<circle cx="216.4" cy="95.8" r="1.5" class="b1"/>
<circle cx="269.6" cy="79.5" r="1.5" class="b0"/>
<circle cx="275.9" cy="51.3" r="1.5" class="b2"/>
<circle cx="216.6" cy="58.1" r="1.5" class="b1"/>
<circle cx="269.9" cy="64.9" r="1.5" class="b0"/>
<circle cx="217.4" cy="78.7" r="1.5" class="b1"/>
<circle cx="319.1" cy="66.6" r="1.5" class="b2"/>
<circle cx="266.3" cy="43.1" r="1.5" class="b1"/>
<circle cx="249.3" cy="117.4" r="1.5" class="b0"/>
<circle cx="274.8" cy="111.6" r="1.5" class="b0"/>
<circle cx="291.1" cy="53.2" r="1.5" class="b2"/>
<circle cx="290.0" cy="97.4" r="1.5" class="b0"/>
<circle cx="299.7" cy="95.0" r="1.5" class="b0"/>
<circle cx="289.5" cy="83.8" r="1.5" class="b0"/>
<circle cx="245.6" cy="118.4" r="1.5" class="b0"/>
<circle cx="244.5" cy="63.2" r="1.5" class="b1"/>
<circle cx="290.4" cy="68.4" r="1.5" class="b2"/>
<circle cx="243.3" cy="78.2" r="1.5" class="b1"/>
<circle cx="291.0" cy="76.6" r="1.5" class="b2"/>
<circle cx="299.7" cy="107.3" r="1.5" class="b0"/>
<circle cx="266.5" cy="128.5" r="1.5" class="b0"/>
<circle cx="313.4" cy="56.0" r="1.5" class="b2"/>
<circle cx="254.9" cy="96.1" r="1.5" class="b0"/>
<circle cx="265.2" cy="70.2" r="1.5" class="b0"/>
<circle cx="309.3" cy="100.3" r="1.5" class="b2"/>
<circle cx="238.5" cy="48.7" r="1.5" class="b1"/>
<circle cx="297.3" cy="39.6" r="1.5" class="b2"/>
<circle cx="248.5" cy="67.5" r="1.5" class="b1"/>
<circle cx="268.5" cy="127.0" r="1.5" class="b0"/>
<circle cx="248.2" cy="99.1" r="1.5" class="b0"/>
<circle cx="255.2" cy="116.3" r="1.5" class="b0"/>
<circle cx="256.6" cy="56.4" r="1.5" class="b1"/>
<circle cx="273.4" cy="100.9" r="1.5" class="b0"/>
<circle cx="212.6" cy="75.1" r="1.5" class="b1"/>
<circle cx="331.8" cy="81.7" r="1.5" class="b2"/>
<circle cx="296.8" cy="61.6" r="1.5" class="b2"/>
<circle cx="331.1" cy="99.9" r="1.5" class="b2"/>
<circle cx="212.6" cy="68.7" r="1.5" class="b1"/>
<circle cx="283.6" cy="106.0" r="1.5" class="b0"/>
<circle cx="238.0" cy="99.9" r="1.5" class="b0"/>
<circle cx="301.2" cy="79.4" r="1.5" class="b2"/>
<circle cx="322.0" cy="69.4" r="1.5" class="b2"/>
<circle cx="232.7" cy="80.1" r="1.5" class="b1"/>
<circle cx="275.8" cy="64.4" r="1.5" class="b0"/>
<circle cx="235.8" cy="95.3" r="1.5" class="b1"/>
<circle cx="263.9" cy="95.8" r="1.5" class="b0"/>
<circle cx="329.9" cy="85.1" r="1.5" class="b2"/>
<circle cx="290.1" cy="85.9" r="1.5" class="b2"/>
<circle cx="324.8" cy="86.4" r="1.5" class="b2"/>
<circle cx="297.5" cy="86.8" r="1.5" class="b0"/>
<circle cx="219.8" cy="77.8" r="1.5" class="b1"/>
<circle cx="230.1" cy="101.2" r="1.5" class="b0"/>
<circle cx="315.4" cy="80.0" r="1.5" class="b2"/>
<circle cx="291.8" cy="85.7" r="1.5" class="b2"/>
<circle cx="289.8" cy="29.3" r="1.5" class="b2"/>
<circle cx="250.4" cy="90.7" r="1.5" class="b0"/>
<circle cx="248.3" cy="87.1" r="1.5" class="b0"/>
<circle cx="291.9" cy="81.7" r="1.5" class="b0"/>
<circle cx="312.6" cy="96.5" r="1.5" class="b2"/>
<circle cx="305.3" cy="63.9" r="1.5" class="b2"/>
<circle cx="288.2" cy="40.3" r="1.5" class="b2"/>
<circle cx="293.3" cy="72.9" r="1.5" class="b2"/>
<circle cx="255.4" cy="85.2" r="1.5" class="b0"/>
<circle cx="286.6" cy="39.0" r="1.5" class="b2"/>
<circle cx="237.3" cy="97.9" r="1.5" class="b0"/>
<circle cx="290.4" cy="69.1" r="1.5" class="b2"/>
<circle cx="291.7" cy="43.9" r="1.5" class="b2"/>
<circle cx="258.8" cy="117.7" r="1.5" class="b0"/>
<circle cx="257.7" cy="57.5" r="1.5" class="b1"/>
<circle cx="271.1" cy="45.7" r="1.5" class="b2"/>
<circle cx="228.1" cy="94.6" r="1.5" class="b1"/>
<circle cx="216.3" cy="94.4" r="1.5" class="b1"/>
<circle cx="251.7" cy="75.0" r="1.5" class="b0"/>
<circle cx="246.2" cy="66.2" r="1.5" class="b1"/>
<circle cx="240.8" cy="76.8" r="1.5" class="b1"/>
<circle cx="202.4" cy="77.6" r="1.5" class="b1"/>
<circle cx="278.7" cy="57.3" r="1.5" class="b2"/>
<circle cx="298.0" cy="103.2" r="1.5" class="b2"/>
<circle cx="292.4" cy="85.2" r="1.5" class="b0"/>
<circle cx="298.1" cy="61.4" r="1.5" class="b2"/>
<circle cx="254.0" cy="57.7" r="1.5" class="b1"/>
<circle cx="228.5" cy="71.8" r="1.5" class="b1"/>
<circle cx="232.8" cy="95.2" r="1.5" class="b0"/>
<circle cx="248.7" cy="78.5" r="1.5" class="b0"/>
<circle cx="265.8" cy="88.1" r="1.5" class="b0"/>
<circle cx="288.9" cy="81.2" r="1.5" class="b2"/>
<circle cx="275.8" cy="49.7" r="1.5" class="b2"/>
<circle cx="212.6" cy="71.8" r="1.5" class="b1"/>
<circle cx="286.8" cy="57.6" r="1.5" class="b2"/>
<circle cx="219.5" cy="84.3" r="1.5" class="b1"/>
<circle cx="228.1" cy="62.3" r="1.5" class="b1"/>
<circle cx="287.6" cy="47.8" r="1.5" class="b2"/>
<circle cx="218.7" cy="70.5" r="1.5" class="b1"/>
<circle cx="306.3" cy="95.3" r="1.5" class="b2"/>
<circle cx="293.6" cy="30.8" r="1.5" class="b2"/>
<circle cx="230.9" cy="79.6" r="1.5" class="b1"/>
<circle cx="317.9" cy="51.0" r="1.5" class="b2"/>
<circle cx="242.0" cy="113.9" r="1.5" class="b0"/>
<circle cx="225.0" cy="87.3" r="1.5" class="b1"/>
<circle cx="293.3" cy="45.0" r="1.5" class="b2"/>
<circle cx="306.5" cy="68.0" r="1.5" class="b2"/>
<circle cx="259.0" cy="121.2" r="1.5" class="b0"/>
<circle cx="302.5" cy="67.0" r="1.5" class="b2"/>
<circle cx="252.5" cy="53.3" r="1.5" class="b1"/>
<circle cx="319.6" cy="103.2" r="1.5" class="b2"/>
<circle cx="268.8" cy="93.7" r="1.5" class="b0"/>
<circle cx="266.6" cy="113.2" r="1.5" class="b0"/>
<circle cx="295.5" cy="51.1" r="1.5" class="b2"/>
<circle cx="258.9" cy="118.6" r="1.5" class="b0"/>
<circle cx="260.1" cy="108.1" r="1.5" class="b0"/>
<circle cx="260.0" cy="65.1" r="1.5" class="b1"/>
<circle cx="272.4" cy="110.6" r="1.5" class="b0"/>
<circle cx="286.0" cy="65.8" r="1.5" class="b2"/>
<circle cx="214.1" cy="60.2" r="1.5" class="b1"/>
<circle cx="241.3" cy="83.1" r="1.5" class="b1"/>
<circle cx="264.5" cy="129.5" r="1.5" class="b0"/>
<circle cx="301.7" cy="57.1" r="1.5" class="b2"/>
<circle cx="283.2" cy="49.3" r="1.5" class="b2"/>
<circle cx="248.4" cy="47.0" r="1.5" class="b1"/>
<circle cx="250.6" cy="70.8" r="1.5" class="b1"/>
<circle cx="306.7" cy="42.5" r="1.5" class="b2"/>
<circle cx="305.0" cy="94.7" r="1.5" class="b2"/>
<circle cx="271.8" cy="68.2" r="1.5" class="b0"/>
<circle cx="207.5" cy="75.7" r="1.5" class="b1"/>
<circle cx="226.0" cy="86.2" r="1.5" class="b1"/>
<circle cx="251.1" cy="118.6" r="1.5" class="b0"/>
<circle cx="272.5" cy="131.0" r="1.5" class="b0"/>
<circle cx="332.4" cy="81.3" r="1.5" class="b2"/>
<circle cx="312.1" cy="95.1" r="1.5" class="b2"/>
<circle cx="299.7" cy="101.4" r="1.5" class="b0"/>
<circle cx="320.2" cy="97.8" r="1.5" class="b2"/>
<circle cx="264.8" cy="49.1" r="1.5" class="b1"/>
<circle cx="212.6" cy="63.1" r="1.5" class="b1"/>
<circle cx="299.3" cy="108.2" r="1.5" class="b0"/>
<circle cx="270.5" cy="59.2" r="1.5" class="b0"/>
<circle cx="275.4" cy="45.4" r="1.5" class="b2"/>
<circle cx="235.3" cy="96.5" r="1.5" class="b0"/>
<circle cx="305.6" cy="57.5" r="1.5" class="b2"/>
<circle cx="262.3" cy="82.6" r="1.5" class="b0"/>
<circle cx="304.4" cy="87.3" r="1.5" class="b2"/>
<circle cx="295.0" cy="99.6" r="1.5" class="b0"/>
<circle cx="305.2" cy="76.7" r="1.5" class="b2"/>
<circle cx="261.5" cy="82.7" r="1.5" class="b0"/>
<circle cx="281.3" cy="80.3" r="1.5" class="b0"/>
<circle cx="256.7" cy="70.6" r="1.5" class="b1"/>
<circle cx="270.9" cy="65.4" r="1.5" class="b0"/>
<circle cx="304.9" cy="79.7" r="1.5" class="b2"/>
<circle cx="227.0" cy="72.6" r="1.5" class="b1"/>
<circle cx="243.8" cy="94.1" r="1.5" class="b0"/>
<circle cx="241.7" cy="99.0" r="1.5" class="b0"/>
<circle cx="261.8" cy="75.3" r="1.5" class="b0"/>
<circle cx="292.1" cy="82.9" r="1.5" class="b2"/>
<circle cx="282.5" cy="83.6" r="1.5" class="b0"/>
<circle cx="329.2" cy="94.9" r="1.5" class="b2"/>
<circle cx="298.3" cy="72.0" r="1.5" class="b2"/>
<circle cx="324.2" cy="87.8" r="1.5" class="b2"/>
<circle cx="251.8" cy="75.2" r="1.5" class="b0"/>
<circle cx="268.3" cy="51.5" r="1.5" class="b1"/>
<circle cx="227.4" cy="74.2" r="1.5" class="b1"/>
<circle cx="320.5" cy="56.6" r="1.5" class="b2"/>
<circle cx="222.0" cy="64.4" r="1.5" class="b1"/>
<circle cx="309.8" cy="48.5" r="1.5" class="b2"/>
<circle cx="319.4" cy="74.7" r="1.5" class="b2"/>
<circle cx="320.5" cy="99.9" r="1.5" class="b2"/>
<circle cx="304.1" cy="86.3" r="1.5" class="b2"/>
<circle cx="283.6" cy="55.8" r="1.5" class="b2"/>
<circle cx="248.6" cy="74.6" r="1.5" class="b1"/>
<circle cx="257.1" cy="67.6" r="1.5" class="b1"/>
<circle cx="302.1" cy="92.6" r="1.5" class="b0"/>
<circle cx="300.5" cy="91.4" r="1.5" class="b2"/>
<circle cx="308.2" cy="62.1" r="1.5" class="b2"/>
<circle cx="273.8" cy="96.2" r="1.5" class="b0"/>
<circle cx="306.6" cy="98.5" r="1.5" class="b0"/>
<circle cx="300.0" cy="90.6" r="1.5" class="b2"/>
<circle cx="252.2" cy="118.3" r="1.5" class="b0"/>
<circle cx="280.2" cy="72.1" r="1.5" class="b0"/>
<circle cx="241.2" cy="65.3" r="1.5" class="b1"/>
<circle cx="301.3" cy="67.7" r="1.5" class="b2"/>
<circle cx="233.3" cy="83.7" r="1.5" class="b1"/>
<circle cx="261.4" cy="103.8" r="1.5" class="b0"/>
<circle cx="211.9" cy="79.7" r="1.5" class="b1"/>
<circle cx="319.6" cy="69.1" r="1.5" class="b2"/>
<circle cx="329.4" cy="84.2" r="1.5" class="b2"/>
<circle cx="318.7" cy="80.8" r="1.5" class="b2"/>
<circle cx="257.0" cy="90.0" r="1.5" class="b1"/>
<circle cx="216.6" cy="60.6" r="1.5" class="b1"/>
<circle cx="293.4" cy="102.9" r="1.5" class="b0"/>
<circle cx="217.4" cy="68.8" r="1.5" class="b1"/>
<circle cx="225.1" cy="68.0" r="1.5" class="b1"/>
<circle cx="221.4" cy="66.9" r="1.5" class="b1"/>
<circle cx="310.6" cy="94.1" r="1.5" class="b2"/>
<circle cx="229.0" cy="65.8" r="1.5" class="b1"/>
<circle cx="279.5" cy="44.5" r="1.5" class="b2"/>
<circle cx="306.4" cy="76.7" r="1.5" class="b2"/>
<circle cx="243.7" cy="55.5" r="1.5" class="b1"/>
<circle cx="306.0" cy="45.6" r="1.5" class="b2"/>
<circle cx="315.4" cy="58.7" r="1.5" class="b2"/>
<circle cx="321.1" cy="101.1" r="1.5" class="b2"/>
<circle cx="308.9" cy="75.9" r="1.5" class="b2"/>
<circle cx="248.1" cy="104.4" r="1.5" class="b0"/>
<circle cx="232.5" cy="76.0" r="1.5" class="b1"/>
<circle cx="300.6" cy="68.2" r="1.5" class="b2"/>
<circle cx="274.9" cy="110.2" r="1.5" class="b0"/>
<circle cx="218.9" cy="72.6" r="1.5" class="b1"/>
<circle cx="254.4" cy="68.0" r="1.5" class="b1"/>
<circle cx="212.3" cy="90.3" r="1.5" class="b1"/>
<circle cx="278.8" cy="49.2" r="1.5" class="b2"/>
<circle cx="234.3" cy="57.1" r="1.5" class="b1"/>
<circle cx="255.7" cy="83.5" r="1.5" class="b0"/>
<circle cx="308.2" cy="93.3" r="1.5" class="b2"/>
<circle cx="235.1" cy="92.2" r="1.5" class="b1"/>
<circle cx="289.1" cy="57.9" r="1.5" class="b2"/>
<circle cx="263.0" cy="108.5" r="1.5" class="b0"/>
<circle cx="240.4" cy="85.0" r="1.5" class="b0"/>
<circle cx="218.4" cy="63.2" r="1.5" class="b1"/>
<circle cx="301.1" cy="92.8" r="1.5" class="b0"/>
<circle cx="302.5" cy="96.3" r="1.5" class="b0"/>
<circle cx="315.1" cy="60.9" r="1.5" class="b2"/>
<circle cx="230.5" cy="55.9" r="1.5" class="b1"/>
<circle cx="300.1" cy="97.9" r="1.5" class="b2"/>
<circle cx="276.7" cy="107.0" r="1.5" class="b0"/>
<circle cx="300.0" cy="46.5" r="1.5" class="b2"/>
<circle cx="228.8" cy="93.5" r="1.5" class="b1"/>
<circle cx="333.8" cy="87.7" r="1.5" class="b2"/>
<circle cx="210.5" cy="71.9" r="1.5" class="b1"/>
<circle cx="230.1" cy="73.7" r="1.5" class="b1"/>
<circle cx="287.8" cy="94.7" r="1.5" class="b0"/>
<circle cx="324.7" cy="82.1" r="1.5" class="b2"/>
<circle cx="313.0" cy="94.7" r="1.5" class="b2"/>
<circle cx="262.2" cy="58.3" r="1.5" class="b1"/>
<circle cx="248.6" cy="48.9" r="1.5" class="b1"/>
<circle cx="317.1" cy="93.5" r="1.5" class="b2"/>
<circle cx="324.5" cy="96.8" r="1.5" class="b2"/>
<circle cx="269.8" cy="104.0" r="1.5" class="b0"/>
<circle cx="300.5" cy="89.2" r="1.5" class="b2"/>
<circle cx="248.7" cy="50.1" r="1.5" class="b1"/>
<circle cx="228.8" cy="93.4" r="1.5" class="b1"/>
<circle cx="309.5" cy="100.0" r="1.5" class="b2"/>
<circle cx="229.5" cy="78.5" r="1.5" class="b1"/>
<circle cx="228.7" cy="99.0" r="1.5" class="b1"/>
<circle cx="217.3" cy="63.5" r="1.5" class="b1"/>
<circle cx="203.5" cy="78.0" r="1.5" class="b1"/>
<circle cx="261.5" cy="111.3" r="1.5" class="b0"/>
<circle cx="305.1" cy="65.0" r="1.5" class="b2"/>
<circle cx="300.7" cy="44.2" r="1.5" class="b2"/>
<circle cx="294.1" cy="107.3" r="1.5" class="b0"/>
<circle cx="237.3" cy="92.3" r="1.5" class="b0"/>
<circle cx="214.0" cy="94.2" r="1.5" class="b1"/>
<circle cx="306.3" cy="101.6" r="1.5" class="b2"/>
<circle cx="298.5" cy="89.4" r="1.5" class="b2"/>
<circle cx="308.7" cy="76.1" r="1.5" class="b2"/>
<circle cx="269.6" cy="86.8" r="1.5" class="b0"/>
<circle cx="228.1" cy="60.7" r="1.5" class="b1"/>
<circle cx="244.7" cy="69.2" r="1.5" class="b1"/>
<circle cx="220.1" cy="73.2" r="1.5" class="b1"/>
<circle cx="275.3" cy="73.9" r="1.5" class="b0"/>
<circle cx="260.9" cy="87.4" r="1.5" class="b0"/>
<circle cx="298.0" cy="82.7" r="1.5" class="b2"/>
<circle cx="307.8" cy="92.8" r="1.5" class="b0"/>
<circle cx="262.5" cy="130.0" r="1.5" class="b1"/>
<circle cx="242.5" cy="65.8" r="1.5" class="b1"/>
<circle cx="276.9" cy="62.7" r="1.5" class="b2"/>
<circle cx="277.0" cy="65.0" r="1.5" class="b1"/>
<circle cx="306.7" cy="107.7" r="1.5" class="b0"/>
<circle cx="265.5" cy="111.7" r="1.5" class="b0"/>
<circle cx="243.2" cy="116.6" r="1.5" class="b0"/>
<circle cx="270.7" cy="91.9" r="1.5" class="b0"/>
<circle cx="251.0" cy="101.7" r="1.5" class="b0"/>
<circle cx="289.8" cy="26.8" r="1.5" class="b2"/>
<circle cx="241.3" cy="55.8" r="1.5" class="b1"/>
<circle cx="290.0" cy="101.3" r="1.5" class="b0"/>
<circle cx="265.8" cy="109.1" r="1.5" class="b0"/>
<circle cx="311.1" cy="75.7" r="1.5" class="b2"/>
<circle cx="256.7" cy="59.6" r="1.5" class="b1"/>
<circle cx="312.1" cy="53.5" r="1.5" class="b2"/>
<circle cx="210.8" cy="72.7" r="1.5" class="b1"/>
<circle cx="220.3" cy="82.9" r="1.5" class="b1"/>
<circle cx="275.6" cy="78.3" r="1.5" class="b0"/>
<circle cx="317.9" cy="67.0" r="1.5" class="b2"/>
<circle cx="274.2" cy="51.5" r="1.5" class="b0"/>
<circle cx="291.6" cy="75.5" r="1.5" class="b2"/>
<circle cx="283.6" cy="110.0" r="1.5" class="b0"/>
<circle cx="308.8" cy="82.8" r="1.5" class="b2"/>
<circle cx="259.7" cy="63.1" r="1.5" class="b1"/>
<circle cx="242.7" cy="48.0" r="1.5" class="b1"/>
<circle cx="215.4" cy="62.5" r="1.5" class="b1"/>
<circle cx="277.4" cy="97.0" r="1.5" class="b0"/>
<circle cx="245.1" cy="68.6" r="1.5" class="b1"/>
<circle cx="241.2" cy="61.7" r="1.5" class="b1"/>
<circle cx="291.0" cy="40.0" r="1.5" class="b1"/>
<circle cx="293.0" cy="92.7" r="1.5" class="b2"/>
<circle cx="264.2" cy="57.6" r="1.5" class="b1"/>
<circle cx="310.8" cy="70.5" r="1.5" class="b2"/>
<circle cx="301.7" cy="47.6" r="1.5" class="b2"/>
<circle cx="209.5" cy="75.3" r="1.5" class="b1"/>
<circle cx="317.8" cy="91.9" r="1.5" class="b2"/>
<circle cx="276.8" cy="61.2" r="1.5" class="b0"/>
<circle cx="221.6" cy="90.3" r="1.5" class="b1"/>
<circle cx="318.5" cy="64.7" r="1.5" class="b2"/>
<circle cx="285.2" cy="81.2" r="1.5" class="b0"/>
<circle cx="239.0" cy="62.6" r="1.5" class="b1"/>
<circle cx="264.7" cy="71.4" r="1.5" class="b0"/>
<circle cx="292.7" cy="58.0" r="1.5" class="b2"/>
<circle cx="292.9" cy="37.9" r="1.5" class="b2"/>
<circle cx="304.0" cy="83.7" r="1.5" class="b2"/>
<circle cx="285.2" cy="71.6" r="1.5" class="b0"/>
<circle cx="303.9" cy="73.8" r="1.5" class="b2"/>
<circle cx="251.3" cy="46.8" r="1.5" class="b1"/>
<circle cx="248.4" cy="76.5" r="1.5" class="b0"/>
<circle cx="260.2" cy="114.5" r="1.5" class="b0"/>
<circle cx="292.2" cy="99.6" r="1.5" class="b0"/>
<circle cx="295.3" cy="84.3" r="1.5" class="b2"/>
<circle cx="294.1" cy="43.2" r="1.5" class="b2"/>
<circle cx="305.0" cy="50.1" r="1.5" class="b2"/>
<circle cx="261.4" cy="99.8" r="1.5" class="b0"/>
<circle cx="272.3" cy="64.2" r="1.5" class="b0"/>
<circle cx="219.1" cy="73.3" r="1.5" class="b1"/>
<circle cx="250.6" cy="117.2" r="1.5" class="b0"/>
<circle cx="241.4" cy="104.6" r="1.5" class="b0"/>
<circle cx="295.7" cy="92.5" r="1.5" class="b0"/>
<circle cx="271.5" cy="128.0" r="1.5" class="b0"/>
<circle cx="219.1" cy="83.3" r="1.5" class="b1"/>
<circle cx="239.4" cy="93.1" r="1.5" class="b0"/>
<circle cx="262.0" cy="61.0" r="1.5" class="b1"/>
<circle cx="304.8" cy="68.1" r="1.5" class="b2"/>
<circle cx="275.2" cy="52.1" r="1.5" class="b2"/>
<circle cx="249.3" cy="72.1" r="1.5" class="b1"/>
<circle cx="239.8" cy="70.9" r="1.5" class="b1"/>
<circle cx="257.6" cy="46.1" r="1.5" class="b1"/>
<circle cx="210.9" cy="80.2" r="1.5" class="b1"/>
<circle cx="331.8" cy="96.6" r="1.5" class="b2"/>
<circle cx="281.7" cy="50.4" r="1.5" class="b2"/>
<circle cx="270.2" cy="104.9" r="1.5" class="b0"/>
<circle cx="231.1" cy="63.4" r="1.5" class="b1"/>
<circle cx="229.9" cy="72.5" r="1.5" class="b1"/>
<circle cx="220.2" cy="61.4" r="1.5" class="b1"/>
<circle cx="315.9" cy="73.9" r="1.5" class="b2"/>
<circle cx="223.9" cy="80.7" r="1.5" class="b1"/>
<circle cx="237.7" cy="61.5" r="1.5" class="b1"/>
<circle cx="278.8" cy="64.8" r="1.5" class="b2"/>
<circle cx="270.5" cy="90.1" r="1.5" class="b0"/>
<circle cx="211.8" cy="82.6" r="1.5" class="b1"/>
<circle cx="250.3" cy="51.6" r="1.5" class="b1"/>
<circle cx="246.5" cy="79.7" r="1.5" class="b0"/>
<circle cx="229.2" cy="57.0" r="1.5" class="b1"/>
<circle cx="231.8" cy="72.8" r="1.5" class="b1"/>
<circle cx="235.3" cy="61.6" r="1.5" class="b1"/>
<circle cx="226.8" cy="95.7" r="1.5" class="b1"/>
<circle cx="279.5" cy="69.3" r="1.5" class="b0"/>
<circle cx="287.1" cy="80.1" r="1.5" class="b2"/>
<circle cx="220.7" cy="98.1" r="1.5" class="b1"/>
<circle cx="303.6" cy="44.2" r="1.5" class="b2"/>
<circle cx="288.3" cy="44.7" r="1.5" class="b2"/>
<circle cx="273.4" cy="56.0" r="1.5" class="b2"/>
<circle cx="203.9" cy="79.9" r="1.5" class="b1"/>
<circle cx="280.7" cy="46.6" r="1.5" class="b2"/>
<circle cx="260.7" cy="80.1" r="1.5" class="b0"/>
<circle cx="279.5" cy="55.5" r="1.5" class="b2"/>
<circle cx="302.6" cy="75.3" r="1.5" class="b2"/>
<circle cx="280.1" cy="74.2" r="1.5" class="b0"/>
<circle cx="297.1" cy="98.1" r="1.5" class="b2"/>
<circle cx="262.8" cy="55.8" r="1.5" class="b1"/>
<circle cx="302.4" cy="85.3" r="1.5" class="b0"/>
<circle cx="277.2" cy="57.2" r="1.5" class="b2"/>
<circle cx="290.3" cy="37.8" r="1.5" class="b2"/>
<circle cx="320.0" cy="95.3" r="1.5" class="b2"/>
<circle cx="287.6" cy="46.6" r="1.5" class="b2"/>
<circle cx="206.0" cy="75.1" r="1.5" class="b1"/>
<circle cx="219.1" cy="61.3" r="1.5" class="b1"/>
<circle cx="222.8" cy="64.6" r="1.5" class="b1"/>
<circle cx="318.9" cy="98.0" r="1.5" class="b2"/>
<circle cx="275.4" cy="45.0" r="1.5" class="b2"/>
<circle cx="306.5" cy="103.7" r="1.5" class="b2"/>
<circle cx="218.7" cy="85.6" r="1.5" class="b1"/>
<circle cx="233.7" cy="85.3" r="1.5" class="b1"/>
<circle cx="206.3" cy="68.0" r="1.5" class="b1"/>
<circle cx="325.6" cy="99.3" r="1.5" class="b2"/>
<circle cx="305.0" cy="100.2" r="1.5" class="b2"/>
<circle cx="277.3" cy="83.9" r="1.5" class="b0"/>
<circle cx="308.6" cy="90.2" r="1.5" class="b2"/>
<circle cx="276.9" cy="113.3" r="1.5" class="b0"/>
<circle cx="232.5" cy="51.0" r="1.5" class="b1"/>
<circle cx="272.2" cy="43.5" r="1.5" class="b2"/>
<circle cx="318.9" cy="63.3" r="1.5" class="b2"/>
<circle cx="264.6" cy="66.2" r="1.5" class="b0"/>
<circle cx="234.6" cy="69.1" r="1.5" class="b1"/>
<circle cx="246.7" cy="77.1" r="1.5" class="b1"/>
<circle cx="308.2" cy="102.9" r="1.5" class="b2"/>
<circle cx="235.3" cy="105.6" r="1.5" class="b0"/>
<circle cx="206.5" cy="82.9" r="1.5" class="b1"/>
<circle cx="229.5" cy="59.4" r="1.5" class="b1"/>
<circle cx="216.6" cy="97.7" r="1.5" class="b1"/>
<circle cx="263.6" cy="97.3" r="1.5" class="b0"/>
<circle cx="330.7" cy="86.1" r="1.5" class="b2"/>
<circle cx="250.5" cy="83.5" r="1.5" class="b0"/>
<circle cx="225.6" cy="98.7" r="1.5" class="b1"/>
<circle cx="248.9" cy="60.3" r="1.5" class="b1"/>
<circle cx="287.5" cy="65.6" r="1.5" class="b2"/>
<circle cx="288.5" cy="100.4" r="1.5" class="b0"/>
<circle cx="258.4" cy="55.6" r="1.5" class="b1"/>
<circle cx="254.5" cy="100.8" r="1.5" class="b0"/>
<circle cx="290.0" cy="37.2" r="1.5" class="b2"/>
<circle cx="236.8" cy="91.0" r="1.5" class="b1"/>
<circle cx="243.9" cy="87.1" r="1.5" class="b0"/>
<circle cx="232.7" cy="94.9" r="1.5" class="b1"/>
<circle cx="237.0" cy="79.8" r="1.5" class="b1"/>
<circle cx="266.6" cy="42.5" r="1.5" class="b1"/>
<circle cx="272.1" cy="90.2" r="1.5" class="b0"/>
<circle cx="236.1" cy="102.9" r="1.5" class="b0"/>
<circle cx="274.1" cy="72.6" r="1.5" class="b0"/>
<circle cx="238.7" cy="54.7" r="1.5" class="b1"/>
<circle cx="330.9" cy="81.3" r="1.5" class="b2"/>
<circle cx="283.0" cy="57.0" r="1.5" class="b1"/>
<circle cx="283.9" cy="97.7" r="1.5" class="b0"/>
<circle cx="306.6" cy="59.4" r="1.5" class="b2"/>
<circle cx="260.6" cy="120.1" r="1.5" class="b0"/>
<circle cx="221.7" cy="85.5" r="1.5" class="b1"/>
<circle cx="306.3" cy="108.1" r="1.5" class="b0"/>
<circle cx="258.8" cy="80.0" r="1.5" class="b0"/>
<circle cx="288.9" cy="98.7" r="1.5" class="b0"/>
<circle cx="280.0" cy="61.3" r="1.5" class="b2"/>
<circle cx="214.2" cy="83.7" r="1.5" class="b1"/>
<circle cx="214.3" cy="76.7" r="1.5" class="b1"/>
<circle cx="302.3" cy="107.4" r="1.5" class="b0"/>
<circle cx="269.1" cy="44.0" r="1.5" class="b1"/>
<circle cx="292.7" cy="38.0" r="1.5" class="b2"/>
<circle cx="228.9" cy="60.5" r="1.5" class="b1"/>
<circle cx="309.9" cy="67.1" r="1.5" class="b2"/>
<circle cx="323.6" cy="70.9" r="1.5" class="b2"/>
<circle cx="305.8" cy="55.0" r="1.5" class="b2"/>
<circle cx="220.1" cy="77.0" r="1.5" class="b1"/>
<circle cx="240.3" cy="68.5" r="1.5" class="b1"/>
<circle cx="241.2" cy="106.6" r="1.5" class="b0"/>
<circle cx="274.3" cy="108.7" r="1.5" class="b0"/>
<circle cx="216.9" cy="60.2" r="1.5" class="b1"/>
<circle cx="251.3" cy="115.4" r="1.5" class="b0"/>
<circle cx="289.7" cy="35.7" r="1.5" class="b2"/>
<circle cx="269.5" cy="130.5" r="1.5" class="b0"/>
<circle cx="253.8" cy="80.6" r="1.5" class="b0"/>
<circle cx="306.0" cy="102.9" r="1.5" class="b0"/>
<circle cx="284.9" cy="59.6" r="1.5" class="b2"/>
<circle cx="300.4" cy="85.8" r="1.5" class="b0"/>
<circle cx="298.3" cy="94.7" r="1.5" class="b0"/>
<circle cx="270.2" cy="62.3" r="1.5" class="b0"/>
<circle cx="303.7" cy="112.4" r="1.5" class="b0"/>
<circle cx="212.2" cy="76.6" r="1.5" class="b1"/>
<circle cx="278.1" cy="69.3" r="1.5" class="b0"/>
<circle cx="270.7" cy="91.1" r="1.5" class="b0"/>
<circle cx="296.1" cy="50.5" r="1.5" class="b2"/>
<circle cx="313.8" cy="71.0" r="1.5" class="b2"/>
<circle cx="330.9" cy="89.1" r="1.5" class="b2"/>
<circle cx="287.8" cy="52.1" r="1.5" class="b2"/>
<circle cx="275.4" cy="100.6" r="1.5" class="b0"/>
<circle cx="305.9" cy="92.0" r="1.5" class="b0"/>
<circle cx="293.6" cy="38.4" r="1.5" class="b2"/>
<circle cx="252.0" cy="116.3" r="1.5" class="b0"/>
<circle cx="332.8" cy="80.6" r="1.5" class="b2"/>
<circle cx="298.1" cy="57.6" r="1.5" class="b2"/>
<circle cx="318.1" cy="104.1" r="1.5" class="b2"/>
<circle cx="329.3" cy="78.3" r="1.5" class="b2"/>
<circle cx="251.6" cy="116.5" r="1.5" class="b0"/>
<circle cx="292.9" cy="89.3" r="1.5" class="b0"/>
<circle cx="299.6" cy="72.7" r="1.5" class="b2"/>
<circle cx="326.2" cy="101.4" r="1.5" class="b2"/>
<circle cx="230.5" cy="57.4" r="1.5" class="b1"/>
<circle cx="307.9" cy="54.4" r="1.5" class="b2"/>
<circle cx="319.6" cy="71.1" r="1.5" class="b2"/>
<circle cx="243.9" cy="65.4" r="1.5" class="b1"/>
<circle cx="256.4" cy="86.3" r="1.5" class="b0"/>
<circle cx="254.6" cy="84.9" r="1.5" class="b0"/>
<circle cx="251.7" cy="55.9" r="1.5" class="b1"/>
<circle cx="239.7" cy="82.6" r="1.5" class="b1"/>
<circle cx="262.6" cy="78.7" r="1.5" class="b0"/>
<circle cx="271.4" cy="118.1" r="1.5" class="b0"/>
<circle cx="233.3" cy="80.5" r="1.5" class="b1"/>
<circle cx="205.6" cy="76.9" r="1.5" class="b1"/>
<circle cx="319.7" cy="51.9" r="1.5" class="b2"/>
<circle cx="278.5" cy="106.0" r="1.5" class="b0"/>
<circle cx="257.1" cy="64.8" r="1.5" class="b1"/>
<circle cx="242.6" cy="62.9" r="1.5" class="b1"/>
<circle cx="247.5" cy="87.3" r="1.5" class="b0"/>
<circle cx="242.9" cy="107.7" r="1.5" class="b0"/>
<circle cx="300.8" cy="91.3" r="1.5" class="b2"/>
<circle cx="218.5" cy="93.1" r="1.5" class="b1"/>
<circle cx="242.7" cy="100.2" r="1.5" class="b0"/>
<circle cx="243.8" cy="68.0" r="1.5" class="b1"/>
<circle cx="260.2" cy="101.7" r="1.5" class="b0"/>
<circle cx="249.0" cy="57.8" r="1.5" class="b1"/>
<circle cx="222.7" cy="99.9" r="1.5" class="b1"/>
<circle cx="250.6" cy="56.8" r="1.5" class="b1"/>
<circle cx="303.4" cy="88.9" r="1.5" class="b2"/>
<circle cx="295.4" cy="84.1" r="1.5" class="b0"/>
<circle cx="254.6" cy="53.6" r="1.5" class="b1"/>
<circle cx="254.6" cy="92.0" r="1.5" class="b0"/>
<circle cx="287.6" cy="92.7" r="1.5" class="b0"/>
<circle cx="218.4" cy="83.6" r="1.5" class="b1"/>
<circle cx="284.9" cy="72.1" r="1.5" class="b2"/>
<circle cx="312.9" cy="92.6" r="1.5" class="b2"/>
<circle cx="253.8" cy="98.7" r="1.5" class="b0"/>
<circle cx="239.7" cy="107.2" r="1.5" class="b0"/>
<circle cx="278.3" cy="84.6" r="1.5" class="b0"/>
<circle cx="208.2" cy="65.1" r="1.5" class="b1"/>
<circle cx="294.2" cy="103.3" r="1.5" class="b0"/>
<circle cx="256.4" cy="71.2" r="1.5" class="b0"/>
<circle cx="230.3" cy="70.4" r="1.5" class="b1"/>
<circle cx="242.0" cy="92.5" r="1.5" class="b0"/>
<circle cx="251.5" cy="99.0" r="1.5" class="b0"/>
<circle cx="279.5" cy="44.4" r="1.5" class="b2"/>
<circle cx="309.9" cy="102.2" r="1.5" class="b2"/>
<circle cx="264.6" cy="94.8" r="1.5" class="b0"/>
<circle cx="285.2" cy="63.9" r="1.5" class="b2"/>
<circle cx="264.1" cy="103.4" r="1.5" class="b0"/>
<circle cx="304.3" cy="91.5" r="1.5" class="b0"/>
<circle cx="237.3" cy="83.0" r="1.5" class="b1"/>
<circle cx="299.1" cy="47.7" r="1.5" class="b2"/>
<circle cx="323.1" cy="85.4" r="1.5" class="b2"/>
<circle cx="256.2" cy="74.9" r="1.5" class="b0"/>
<circle cx="215.3" cy="66.6" r="1.5" class="b1"/>
<circle cx="239.2" cy="81.8" r="1.5" class="b1"/>
<circle cx="236.1" cy="106.1" r="1.5" class="b0"/>
<circle cx="267.9" cy="52.7" r="1.5" class="b1"/>
<circle cx="205.1" cy="75.3" r="1.5" class="b1"/>
<circle cx="306.8" cy="42.6" r="1.5" class="b2"/>
<circle cx="279.0" cy="91.2" r="1.5" class="b0"/>
<circle cx="224.8" cy="80.6" r="1.5" class="b1"/>
<circle cx="300.4" cy="65.8" r="1.5" class="b2"/>
<circle cx="306.4" cy="93.4" r="1.5" class="b0"/>
<circle cx="253.7" cy="59.6" r="1.5" class="b1"/>
<circle cx="282.5" cy="66.8" r="1.5" class="b0"/>
<circle cx="297.4" cy="58.2" r="1.5" class="b2"/>
<circle cx="272.9" cy="108.1" r="1.5" class="b0"/>
<circle cx="286.7" cy="27.2" r="1.5" class="b2"/>
<circle cx="267.0" cy="82.7" r="1.5" class="b0"/>
<circle cx="284.2" cy="96.2" r="1.5" class="b0"/>
<circle cx="262.4" cy="69.9" r="1.5" class="b0"/>
<circle cx="212.0" cy="92.4" r="1.5" class="b1"/>
<circle cx="224.5" cy="77.0" r="1.5" class="b1"/>
<circle cx="274.1" cy="81.3" r="1.5" class="b0"/>
<circle cx="318.1" cy="76.9" r="1.5" class="b2"/>
<circle cx="288.3" cy="34.0" r="1.5" class="b2"/>
<circle cx="321.3" cy="89.8" r="1.5" class="b2"/>
<circle cx="217.6" cy="81.9" r="1.5" class="b1"/>
<circle cx="239.7" cy="50.2" r="1.5" class="b1"/>
<circle cx="219.8" cy="91.4" r="1.5" class="b1"/>
<circle cx="320.7" cy="95.5" r="1.5" class="b2"/>
<circle cx="285.0" cy="57.7" r="1.5" class="b2"/>
<circle cx="273.9" cy="102.6" r="1.5" class="b0"/>
<circle cx="284.7" cy="37.7" r="1.5" class="b2"/>
<circle cx="259.3" cy="97.6" r="1.5" class="b0"/>
<circle cx="311.9" cy="45.7" r="1.5" class="b2"/>
<circle cx="235.2" cy="62.4" r="1.5" class="b1"/>
<circle cx="297.2" cy="78.5" r="1.5" class="b2"/>
<circle cx="244.4" cy="114.9" r="1.5" class="b0"/>
<circle cx="223.9" cy="83.4" r="1.5" class="b1"/>
<circle cx="247.5" cy="80.0" r="1.5" class="b0"/>
<circle cx="317.0" cy="64.4" r="1.5" class="b2"/>
<circle cx="226.7" cy="81.7" r="1.5" class="b1"/>
<circle cx="285.3" cy="37.8" r="1.5" class="b2"/>
<circle cx="256.7" cy="54.9" r="1.5" class="b1"/>
<circle cx="252.7" cy="55.6" r="1.5" class="b1"/>
<circle cx="239.2" cy="51.7" r="1.5" class="b1"/>
<circle cx="228.8" cy="97.2" r="1.5" class="b1"/>
<circle cx="288.5" cy="46.4" r="1.5" class="b2"/>
<circle cx="251.9" cy="111.5" r="1.5" class="b0"/>
<circle cx="294.5" cy="79.6" r="1.5" class="b0"/>
<circle cx="210.8" cy="78.2" r="1.5" class="b1"/>
<circle cx="256.7" cy="47.0" r="1.5" class="b1"/>
<circle cx="229.6" cy="87.0" r="1.5" class="b1"/>
<circle cx="241.9" cy="83.8" r="1.5" class="b0"/>
<circle cx="292.2" cy="88.8" r="1.5" class="b0"/>
<circle cx="236.9" cy="91.4" r="1.5" class="b1"/>
<circle cx="226.6" cy="72.4" r="1.5" class="b1"/>
<circle cx="314.6" cy="90.2" r="1.5" class="b2"/>
<circle cx="298.4" cy="81.1" r="1.5" class="b2"/>
<circle cx="236.2" cy="87.0" r="1.5" class="b1"/>
<circle cx="246.7" cy="71.2" r="1.5" class="b1"/>
<circle cx="226.0" cy="86.7" r="1.5" class="b1"/>
<circle cx="266.2" cy="120.7" r="1.5" class="b0"/>
<circle cx="289.4" cy="42.2" r="1.5" class="b2"/>
<circle cx="305.2" cy="52.6" r="1.5" class="b2"/>
<circle cx="308.9" cy="93.6" r="1.5" class="b2"/>
<circle cx="286.9" cy="65.1" r="1.5" class="b2"/>
<circle cx="277.7" cy="97.3" r="1.5" class="b0"/>
<circle cx="227.2" cy="95.9" r="1.5" class="b1"/>
<circle cx="306.4" cy="97.3" r="1.5" class="b2"/>
<circle cx="307.9" cy="95.1" r="1.5" class="b0"/>
<circle cx="234.7" cy="94.7" r="1.5" class="b1"/>
<circle cx="278.1" cy="107.6" r="1.5" class="b0"/>
<circle cx="294.9" cy="72.4" r="1.5" class="b2"/>
<circle cx="234.6" cy="81.0" r="1.5" class="b1"/>
<circle cx="275.2" cy="67.2" r="1.5" class="b0"/>
<circle cx="310.0" cy="106.1" r="1.5" class="b2"/>
<circle cx="225.3" cy="76.6" r="1.5" class="b1"/>
<circle cx="292.4" cy="40.3" r="1.5" class="b2"/>
<circle cx="304.2" cy="97.4" r="1.5" class="b0"/>
<circle cx="300.0" cy="93.4" r="1.5" class="b2"/>
<circle cx="219.9" cy="88.4" r="1.5" class="b1"/>
<circle cx="279.7" cy="75.2" r="1.5" class="b2"/>
<circle cx="260.3" cy="49.7" r="1.5" class="b1"/>
<circle cx="303.1" cy="83.6" r="1.5" class="b2"/>
<circle cx="276.8" cy="54.1" r="1.5" class="b0"/>
<circle cx="310.4" cy="74.7" r="1.5" class="b2"/>
<circle cx="295.7" cy="88.8" r="1.5" class="b2"/>
<circle cx="209.5" cy="62.7" r="1.5" class="b1"/>
<circle cx="318.3" cy="104.1" r="1.5" class="b2"/>
<circle cx="254.1" cy="103.8" r="1.5" class="b0"/>
<circle cx="269.7" cy="81.4" r="1.5" class="b0"/>
<circle cx="283.7" cy="56.2" r="1.5" class="b2"/>
<circle cx="253.7" cy="111.7" r="1.5" class="b0"/>
<circle cx="307.1" cy="107.8" r="1.5" class="b2"/>
<circle cx="207.3" cy="86.0" r="1.5" class="b1"/>
<circle cx="228.5" cy="88.1" r="1.5" class="b1"/>
<circle cx="234.2" cy="64.0" r="1.5" class="b1"/>
<circle cx="212.1" cy="79.1" r="1.5" class="b1"/>
<circle cx="234.3" cy="77.2" r="1.5" class="b1"/>
<circle cx="229.6" cy="89.6" r="1.5" class="b1"/>
<circle cx="273.8" cy="82.8" r="1.5" class="b0"/>
<circle cx="290.3" cy="92.4" r="1.5" class="b2"/>
<circle cx="292.0" cy="28.3" r="1.5" class="b2"/>
<circle cx="236.9" cy="61.2" r="1.5" class="b1"/>
<circle cx="224.0" cy="80.7" r="1.5" class="b1"/>
<circle cx="290.8" cy="84.0" r="1.5" class="b0"/>
<circle cx="244.3" cy="69.2" r="1.5" class="b1"/>
<circle cx="314.9" cy="106.9" r="1.5" class="b2"/>
<circle cx="289.3" cy="95.6" r="1.5" class="b2"/>
<circle cx="312.3" cy="101.4" r="1.5" class="b2"/>
<circle cx="263.7" cy="54.6" r="1.5" class="b1"/>
<circle cx="277.8" cy="41.5" r="1.5" class="b2"/>
<circle cx="327.8" cy="101.9" r="1.5" class="b2"/>
<circle cx="266.0" cy="68.0" r="1.5" class="b0"/>
<circle cx="232.1" cy="89.5" r="1.5" class="b1"/>
<circle cx="309.6" cy="79.2" r="1.5" class="b2"/>
<circle cx="319.2" cy="100.9" r="1.5" class="b2"/>
<circle cx="293.5" cy="29.5" r="1.5" class="b2"/>
<circle cx="269.1" cy="92.8" r="1.5" class="b0"/>
<circle cx="228.2" cy="86.6" r="1.5" class="b1"/>
<circle cx="240.4" cy="82.6" r="1.5" class="b1"/>
<circle cx="286.3" cy="76.1" r="1.5" class="b0"/>
<circle cx="276.1" cy="99.1" r="1.5" class="b0"/>
<circle cx="306.8" cy="44.2" r="1.5" class="b2"/>
<circle cx="232.5" cy="70.7" r="1.5" class="b1"/>
<circle cx="308.0" cy="63.0" r="1.5" class="b2"/>
<circle cx="310.5" cy="92.7" r="1.5" class="b2"/>
<circle cx="306.1" cy="46.8" r="1.5" class="b2"/>
<circle cx="207.9" cy="82.9" r="1.5" class="b1"/>
<circle cx="303.6" cy="97.3" r="1.5" class="b2"/>
<circle cx="287.2" cy="36.6" r="1.5" class="b2"/>
<circle cx="239.1" cy="77.0" r="1.5" class="b1"/>
<circle cx="316.7" cy="78.5" r="1.5" class="b2"/>
<circle cx="235.4" cy="87.5" r="1.5" class="b0"/>
<circle cx="226.0" cy="81.5" r="1.5" class="b1"/>
<circle cx="238.6" cy="48.1" r="1.5" class="b1"/>
<circle cx="322.9" cy="94.3" r="1.5" class="b2"/>
<circle cx="254.0" cy="53.7" r="1.5" class="b1"/>
<circle cx="307.4" cy="106.2" r="1.5" class="b2"/>
<circle cx="320.7" cy="97.5" r="1.5" class="b2"/>
<circle cx="221.4" cy="57.0" r="1.5" class="b1"/>
<circle cx="282.3" cy="104.7" r="1.5" class="b0"/>
<circle cx="288.6" cy="28.9" r="1.5" class="b2"/>
<circle cx="282.0" cy="78.0" r="1.5" class="b0"/>
<circle cx="279.9" cy="75.8" r="1.5" class="b2"/>
<circle cx="274.3" cy="99.8" r="1.5" class="b0"/>
<circle cx="265.2" cy="55.9" r="1.5" class="b1"/>
<circle cx="307.1" cy="60.6" r="1.5" class="b2"/>
<circle cx="261.9" cy="64.1" r="1.5" class="b1"/>
<circle cx="289.5" cy="54.1" r="1.5" class="b2"/>
<circle cx="239.1" cy="102.6" r="1.5" class="b0"/>
<circle cx="289.7" cy="83.4" r="1.5" class="b0"/>
<circle cx="295.4" cy="101.0" r="1.5" class="b0"/>
<circle cx="298.2" cy="81.6" r="1.5" class="b0"/>
<circle cx="227.4" cy="62.0" r="1.5" class="b1"/>
<circle cx="279.8" cy="101.0" r="1.5" class="b0"/>
<circle cx="217.0" cy="97.1" r="1.5" class="b1"/>
<circle cx="306.5" cy="58.3" r="1.5" class="b2"/>
<circle cx="280.8" cy="104.9" r="1.5" class="b0"/>
<circle cx="216.3" cy="60.1" r="1.5" class="b1"/>
<circle cx="320.6" cy="96.4" r="1.5" class="b2"/>
<circle cx="292.5" cy="83.5" r="1.5" class="b0"/>
<circle cx="303.8" cy="57.3" r="1.5" class="b2"/>
<circle cx="291.3" cy="104.7" r="1.5" class="b0"/>
<circle cx="289.8" cy="84.0" r="1.5" class="b2"/>
<circle cx="269.7" cy="93.0" r="1.5" class="b0"/>
<circle cx="251.4" cy="68.8" r="1.5" class="b1"/>
<circle cx="314.5" cy="70.6" r="1.5" class="b2"/>
<circle cx="292.5" cy="35.3" r="1.5" class="b2"/>
<circle cx="295.9" cy="71.8" r="1.5" class="b2"/>
<circle cx="292.5" cy="112.8" r="1.5" class="b0"/>
<circle cx="288.9" cy="27.1" r="1.5" class="b2"/>
<circle cx="242.1" cy="60.2" r="1.5" class="b1"/>
<circle cx="301.2" cy="114.2" r="1.5" class="b0"/>
<circle cx="304.5" cy="50.0" r="1.5" class="b2"/>
<circle cx="256.6" cy="107.8" r="1.5" class="b0"/>
<circle cx="313.8" cy="49.8" r="1.5" class="b2"/>
<circle cx="219.6" cy="60.1" r="1.5" class="b1"/>
<circle cx="265.6" cy="45.6" r="1.5" class="b1"/>
<circle cx="296.7" cy="101.6" r="1.5" class="b2"/>
<circle cx="218.5" cy="80.2" r="1.5" class="b1"/>
<circle cx="262.9" cy="101.7" r="1.5" class="b0"/>
<circle cx="304.0" cy="67.1" r="1.5" class="b2"/>
<circle cx="215.9" cy="85.1" r="1.5" class="b1"/>
<circle cx="243.7" cy="111.4" r="1.5" class="b0"/>
<circle cx="275.2" cy="58.8" r="1.5" class="b2"/>
<circle cx="304.7" cy="81.5" r="1.5" class="b2"/>
<circle cx="285.8" cy="107.4" r="1.5" class="b0"/>
<circle cx="258.9" cy="123.9" r="1.5" class="b0"/>
<circle cx="282.6" cy="46.5" r="1.5" class="b2"/>
<circle cx="206.3" cy="69.5" r="1.5" class="b1"/>
<circle cx="221.4" cy="78.3" r="1.5" class="b1"/>
<circle cx="258.2" cy="66.2" r="1.5" class="b1"/>
<circle cx="232.5" cy="77.1" r="1.5" class="b1"/>
<circle cx="230.2" cy="60.4" r="1.5" class="b1"/>
<circle cx="302.9" cy="95.5" r="1.5" class="b2"/>
<circle cx="286.7" cy="86.8" r="1.5" class="b2"/>
<circle cx="240.7" cy="82.4" r="1.5" class="b1"/>
<circle cx="265.2" cy="90.7" r="1.5" class="b0"/>
<circle cx="263.5" cy="83.2" r="1.5" class="b0"/>
<circle cx="300.0" cy="86.0" r="1.5" class="b1"/>
<circle cx="313.0" cy="100.1" r="1.5" class="b2"/>
<circle cx="258.7" cy="85.6" r="1.5" class="b0"/>
<circle cx="250.9" cy="106.0" r="1.5" class="b0"/>
<circle cx="245.7" cy="79.6" r="1.5" class="b0"/>
<circle cx="227.3" cy="94.7" r="1.5" class="b1"/>
<circle cx="262.2" cy="119.6" r="1.5" class="b0"/>
<circle cx="260.2" cy="59.1" r="1.5" class="b1"/>
<circle cx="264.9" cy="85.0" r="1.5" class="b0"/>
<circle cx="237.2" cy="90.9" r="1.5" class="b1"/>
<circle cx="294.3" cy="99.9" r="1.5" class="b2"/>
<circle cx="261.4" cy="49.2" r="1.5" class="b1"/>
<circle cx="294.3" cy="66.7" r="1.5" class="b2"/>
<circle cx="290.3" cy="59.9" r="1.5" class="b2"/>
</g>
<circle cx="32.2" cy="168.1" r="1.42" fill="rgb(128, 182, 122)" stroke="rgb(96, 150, 92)" stroke-width="0.35"/>
<text x="43.2" y="169.6" font-size="6.55" textLength="16.4" lengthAdjust="spacingAndGlyphs" stroke="#000" stroke-width="0.05">Norm</text>
<circle cx="77.6" cy="168.1" r="1.42" fill="rgb(232, 182, 62)" stroke="rgb(196, 150, 45)" stroke-width="0.35"/>
<text x="88.8" y="169.6" font-size="6.55" textLength="19.3" lengthAdjust="spacingAndGlyphs" stroke="#000" stroke-width="0.05">PreDM</text>
<circle cx="126.1" cy="168.1" r="1.42" fill="rgb(218, 108, 200)" stroke="rgb(185, 80, 168)" stroke-width="0.35"/>
<text x="137.4" y="169.6" font-size="6.55" textLength="9.8" lengthAdjust="spacingAndGlyphs" stroke="#000" stroke-width="0.05">DM</text>
<circle cx="208.8" cy="168.3" r="1.5" fill="rgb(184, 236, 180)" stroke="rgb(125, 170, 122)" stroke-width="0.4"/>
<text x="220.1" y="170.5" font-size="6.55" textLength="3.8" lengthAdjust="spacingAndGlyphs" stroke="#000" stroke-width="0.05">1</text>
<circle cx="242.8" cy="168.3" r="1.5" fill="rgb(245, 216, 182)" stroke="rgb(185, 160, 135)" stroke-width="0.4"/>
<text x="254.3" y="170.5" font-size="6.55" textLength="3.8" lengthAdjust="spacingAndGlyphs" stroke="#000" stroke-width="0.05">0</text>
<circle cx="277.6" cy="168.3" r="1.5" fill="rgb(200, 162, 214)" stroke="rgb(145, 115, 160)" stroke-width="0.4"/>
<text x="288.9" y="170.5" font-size="6.55" textLength="3.8" lengthAdjust="spacingAndGlyphs" stroke="#000" stroke-width="0.05">2</text>
<line x1="391.00" y1="9.00" x2="391.00" y2="169.60" stroke="#999" stroke-width="1.0"/>
<line x1="391.00" y1="169.60" x2="506.00" y2="169.60" stroke="#999" stroke-width="1.0"/>
<line x1="391.04" y1="169.10" x2="391.04" y2="171.30" stroke="#c4c4c4" stroke-width="0.7"/>
<text x="391.0" y="175.9" font-size="5.2" text-anchor="middle" textLength="12.1" lengthAdjust="spacingAndGlyphs" stroke="#000" stroke-width="0.05">−0.1</text>
<line x1="413.90" y1="169.10" x2="413.90" y2="171.30" stroke="#c4c4c4" stroke-width="0.7"/>
<text x="413.9" y="175.9" font-size="5.2" text-anchor="middle" textLength="8.0" lengthAdjust="spacingAndGlyphs" stroke="#000" stroke-width="0.05">0.0</text>
<line x1="436.76" y1="169.10" x2="436.76" y2="171.30" stroke="#c4c4c4" stroke-width="0.7"/>
<text x="436.8" y="175.9" font-size="5.2" text-anchor="middle" textLength="8.0" lengthAdjust="spacingAndGlyphs" stroke="#000" stroke-width="0.05">0.1</text>
<line x1="482.48" y1="169.10" x2="482.48" y2="171.30" stroke="#c4c4c4" stroke-width="0.7"/>
<text x="482.5" y="175.9" font-size="5.2" text-anchor="middle" textLength="8.0" lengthAdjust="spacingAndGlyphs" stroke="#000" stroke-width="0.05">0.3</text>
<text x="448.6" y="181.9" font-size="5.2" text-anchor="middle" textLength="81.2" lengthAdjust="spacingAndGlyphs" stroke="#000" stroke-width="0.05">The silhouette coefficient values</text>
<text x="388.0" y="89.5" font-size="5.2" text-anchor="middle" textLength="31.4" lengthAdjust="spacingAndGlyphs" transform="rotate(-90 388.0 89.5)" stroke="#000" stroke-width="0.05">Cluster label</text>
<text x="403.7" y="38.2" font-size="5.2" text-anchor="middle" textLength="3.2" lengthAdjust="spacingAndGlyphs" stroke="#000" stroke-width="0.05">2</text>
<text x="403.8" y="92.0" font-size="5.2" text-anchor="middle" textLength="3.2" lengthAdjust="spacingAndGlyphs" stroke="#000" stroke-width="0.05">1</text>
<text x="403.4" y="143.4" font-size="5.2" text-anchor="middle" textLength="3.2" lengthAdjust="spacingAndGlyphs" stroke="#000" stroke-width="0.05">0</text>
<polygon points="413.8,11.2 447.8,11.2 444.2,12.8 439.7,15.6 435.3,18.4 431.9,21.2 429.7,24.6 427.4,27.9 424.6,31.8 421.8,35.8 419.0,39.7 416.2,43.6 413.8,47.5 411.8,50.8 409.5,56.4 407.3,60.9 403.9,64.3 403.5,64.6 413.8,64.6" fill="#f5dec4"/>
<polygon points="413.8,67.0 455.4,67.0 448.7,68.2 444.2,71.0 439.7,74.9 435.3,79.3 430.8,84.4 428.5,88.8 425.2,94.4 421.8,100.0 418.5,105.6 415.1,111.2 413.8,113.4 411.8,116.8 411.3,117.4 413.8,117.4" fill="#d7b9dd"/>
<polygon points="413.8,119.3 443.1,119.3 439.7,122.1 435.3,126.5 433.0,131.0 430.8,136.6 428.5,142.2 425.8,147.8 423.5,154.5 420.7,160.1 417.4,165.1 414.6,167.7 413.8,167.7" fill="#c8f0c6"/>
<line x1="425.45" y1="8.90" x2="425.45" y2="169.10" stroke="#f03a3a" stroke-width="1.0" stroke-dasharray="2.3,1.05"/>
<rect x="570.70" y="44.70" width="28.40" height="16.60" fill="#8199ea"/>
<text x="584.9" y="55.4" font-size="8.11" text-anchor="middle" textLength="14.9" lengthAdjust="spacingAndGlyphs" fill="#fff">184</text>
<rect x="600.30" y="44.70" width="28.40" height="16.60" fill="#94a9eb"/>
<text x="614.5" y="55.4" font-size="8.11" text-anchor="middle" textLength="14.9" lengthAdjust="spacingAndGlyphs" fill="#fff">178</text>
<rect x="629.90" y="44.70" width="28.40" height="16.60" fill="#c6d0f0"/>
<text x="644.1" y="55.4" font-size="8.11" text-anchor="middle" textLength="14.9" lengthAdjust="spacingAndGlyphs" fill="#222">105</text>
<rect x="570.70" y="62.80" width="28.40" height="16.60" fill="#dde2f2"/>
<text x="584.9" y="73.5" font-size="8.11" text-anchor="middle" textLength="9.9" lengthAdjust="spacingAndGlyphs" fill="#222">20</text>
<rect x="600.30" y="62.80" width="28.40" height="16.60" fill="#a9b8ed"/>
<text x="614.5" y="73.5" font-size="8.11" text-anchor="middle" textLength="9.9" lengthAdjust="spacingAndGlyphs" fill="#222">37</text>
<rect x="629.90" y="62.80" width="28.40" height="16.60" fill="#7791ec"/>
<text x="644.1" y="73.5" font-size="8.11" text-anchor="middle" textLength="9.9" lengthAdjust="spacingAndGlyphs" fill="#fff">53</text>
<rect x="570.70" y="80.90" width="28.40" height="16.60" fill="#bac7f1"/>
<text x="584.9" y="91.6" font-size="8.11" text-anchor="middle" textLength="9.9" lengthAdjust="spacingAndGlyphs" fill="#222">38</text>
<rect x="600.30" y="80.90" width="28.40" height="16.60" fill="#efeff1"/>
<text x="614.5" y="91.6" font-size="8.11" text-anchor="middle" textLength="9.9" lengthAdjust="spacingAndGlyphs" fill="#222">17</text>
<rect x="629.90" y="80.90" width="28.40" height="16.60" fill="#4a6cf0"/>
<text x="644.1" y="91.6" font-size="8.11" text-anchor="middle" textLength="14.9" lengthAdjust="spacingAndGlyphs" fill="#fff">100</text>
<text x="567.2" y="55.3" font-size="8.01" text-anchor="end" textLength="21.0" lengthAdjust="spacingAndGlyphs">Norm</text>
<text x="567.2" y="73.4" font-size="8.01" text-anchor="end" textLength="24.8" lengthAdjust="spacingAndGlyphs">PreDM</text>
<text x="567.2" y="91.5" font-size="8.01" text-anchor="end" textLength="12.6" lengthAdjust="spacingAndGlyphs">DM</text>
<defs><linearGradient id="cbd" x1="0" y1="1" x2="0" y2="0"><stop offset="0" stop-color="#f0f0f2"/><stop offset="1" stop-color="#4169f0"/></linearGradient><linearGradient id="cbe" x1="0" y1="1" x2="0" y2="0"><stop offset="0.000" stop-color="#3b4cc0"/><stop offset="0.125" stop-color="#6282ea"/><stop offset="0.250" stop-color="#8db0fe"/><stop offset="0.375" stop-color="#b8d0f9"/><stop offset="0.500" stop-color="#dddcdc"/><stop offset="0.625" stop-color="#f5c4ac"/><stop offset="0.750" stop-color="#f49a7b"/><stop offset="0.875" stop-color="#dc5d4a"/><stop offset="1.000" stop-color="#b40426"/></linearGradient></defs>
<rect x="664.00" y="44.20" width="2.80" height="53.80" fill="url(#cbd)"/>
<line x1="666.80" y1="48.80" x2="668.80" y2="48.80" stroke="#333" stroke-width="0.6"/>
<text x="671.5" y="51.5" font-size="8.22" textLength="12.6" lengthAdjust="spacingAndGlyphs">0.6</text>
<line x1="666.80" y1="69.60" x2="668.80" y2="69.60" stroke="#333" stroke-width="0.6"/>
<text x="671.5" y="72.3" font-size="8.22" textLength="12.6" lengthAdjust="spacingAndGlyphs">0.4</text>
<line x1="666.80" y1="90.00" x2="668.80" y2="90.00" stroke="#333" stroke-width="0.6"/>
<text x="671.5" y="92.7" font-size="8.22" textLength="12.6" lengthAdjust="spacingAndGlyphs">0.2</text>
<text x="582.5" y="103.2" font-size="8.42" text-anchor="end" textLength="49.4" lengthAdjust="spacingAndGlyphs" transform="rotate(-45 582.5 103.2)">1: Norm-like</text>
<text x="612.0" y="103.2" font-size="8.42" text-anchor="end" textLength="62.7" lengthAdjust="spacingAndGlyphs" transform="rotate(-45 612.0 103.2)">0: Intermediate</text>
<text x="641.5" y="103.2" font-size="8.42" text-anchor="end" textLength="40.5" lengthAdjust="spacingAndGlyphs" transform="rotate(-45 641.5 103.2)">2: DM-like</text>
<g stroke="#9a9a9a" stroke-width="0.6" fill="none">
<line x1="73.1" y1="353.1" x2="82.0" y2="353.1"/>
<line x1="73.1" y1="358.1" x2="82.0" y2="358.1"/>
<line x1="73.1" y1="353.1" x2="73.1" y2="358.1"/>
<line x1="68.4" y1="348.1" x2="82.0" y2="348.1"/>
<line x1="68.4" y1="355.6" x2="73.1" y2="355.6"/>
<line x1="68.4" y1="348.1" x2="68.4" y2="355.6"/>
<line x1="57.2" y1="363.1" x2="82.0" y2="363.1"/>
<line x1="57.2" y1="368.0" x2="82.0" y2="368.0"/>
<line x1="57.2" y1="363.1" x2="57.2" y2="368.0"/>
<line x1="51.3" y1="351.9" x2="68.4" y2="351.9"/>
<line x1="51.3" y1="365.5" x2="57.2" y2="365.5"/>
<line x1="51.3" y1="351.9" x2="51.3" y2="365.5"/>
<line x1="65.4" y1="383.0" x2="82.0" y2="383.0"/>
<line x1="65.4" y1="388.0" x2="82.0" y2="388.0"/>
<line x1="65.4" y1="383.0" x2="65.4" y2="388.0"/>
<line x1="78.3" y1="412.9" x2="82.0" y2="412.9"/>
<line x1="78.3" y1="417.8" x2="82.0" y2="417.8"/>
<line x1="78.3" y1="412.9" x2="78.3" y2="417.8"/>
<line x1="70.1" y1="407.9" x2="82.0" y2="407.9"/>
<line x1="70.1" y1="415.4" x2="78.3" y2="415.4"/>
<line x1="70.1" y1="407.9" x2="70.1" y2="415.4"/>
<line x1="61.5" y1="442.7" x2="82.0" y2="442.7"/>
<line x1="61.5" y1="447.7" x2="82.0" y2="447.7"/>
<line x1="61.5" y1="442.7" x2="61.5" y2="447.7"/>
<line x1="60.2" y1="437.8" x2="82.0" y2="437.8"/>
<line x1="60.2" y1="445.2" x2="61.5" y2="445.2"/>
<line x1="60.2" y1="437.8" x2="60.2" y2="445.2"/>
<line x1="78.3" y1="452.7" x2="82.0" y2="452.7"/>
<line x1="78.3" y1="457.7" x2="82.0" y2="457.7"/>
<line x1="78.3" y1="452.7" x2="78.3" y2="457.7"/>
<line x1="57.2" y1="441.5" x2="60.2" y2="441.5"/>
<line x1="57.2" y1="455.2" x2="78.3" y2="455.2"/>
<line x1="57.2" y1="441.5" x2="57.2" y2="455.2"/>
<line x1="72.7" y1="467.6" x2="82.0" y2="467.6"/>
<line x1="72.7" y1="472.6" x2="82.0" y2="472.6"/>
<line x1="72.7" y1="467.6" x2="72.7" y2="472.6"/>
<line x1="62.4" y1="462.7" x2="82.0" y2="462.7"/>
<line x1="62.4" y1="470.1" x2="72.7" y2="470.1"/>
<line x1="62.4" y1="462.7" x2="62.4" y2="470.1"/>
<line x1="67.1" y1="487.6" x2="82.0" y2="487.6"/>
<line x1="67.1" y1="492.5" x2="82.0" y2="492.5"/>
<line x1="67.1" y1="487.6" x2="67.1" y2="492.5"/>
<line x1="74.9" y1="502.5" x2="82.0" y2="502.5"/>
<line x1="74.9" y1="507.5" x2="82.0" y2="507.5"/>
<line x1="74.9" y1="502.5" x2="74.9" y2="507.5"/>
<line x1="71.4" y1="497.5" x2="82.0" y2="497.5"/>
<line x1="71.4" y1="505.0" x2="74.9" y2="505.0"/>
<line x1="71.4" y1="497.5" x2="71.4" y2="505.0"/>
<line x1="66.0" y1="490.0" x2="67.1" y2="490.0"/>
<line x1="66.0" y1="501.3" x2="71.4" y2="501.3"/>
<line x1="66.0" y1="490.0" x2="66.0" y2="501.3"/>
<line x1="63.3" y1="482.6" x2="82.0" y2="482.6"/>
<line x1="63.3" y1="495.7" x2="66.0" y2="495.7"/>
<line x1="63.3" y1="482.6" x2="63.3" y2="495.7"/>
<line x1="60.2" y1="477.6" x2="82.0" y2="477.6"/>
<line x1="60.2" y1="489.1" x2="63.3" y2="489.1"/>
<line x1="60.2" y1="477.6" x2="60.2" y2="489.1"/>
<line x1="59.6" y1="466.4" x2="62.4" y2="466.4"/>
<line x1="59.6" y1="483.4" x2="60.2" y2="483.4"/>
<line x1="59.6" y1="466.4" x2="59.6" y2="483.4"/>
<line x1="56.5" y1="448.3" x2="57.2" y2="448.3"/>
<line x1="56.5" y1="474.9" x2="59.6" y2="474.9"/>
<line x1="56.5" y1="448.3" x2="56.5" y2="474.9"/>
<line x1="55.1" y1="432.8" x2="82.0" y2="432.8"/>
<line x1="55.1" y1="461.6" x2="56.5" y2="461.6"/>
<line x1="55.1" y1="432.8" x2="55.1" y2="461.6"/>
<line x1="59.8" y1="517.4" x2="82.0" y2="517.4"/>
<line x1="59.8" y1="522.4" x2="82.0" y2="522.4"/>
<line x1="59.8" y1="517.4" x2="59.8" y2="522.4"/>
<line x1="81.3" y1="542.3" x2="82.0" y2="542.3"/>
<line x1="81.3" y1="547.3" x2="82.0" y2="547.3"/>
<line x1="81.3" y1="542.3" x2="81.3" y2="547.3"/>
<line x1="80.5" y1="537.4" x2="82.0" y2="537.4"/>
<line x1="80.5" y1="544.8" x2="81.3" y2="544.8"/>
<line x1="80.5" y1="537.4" x2="80.5" y2="544.8"/>
<line x1="72.3" y1="532.4" x2="82.0" y2="532.4"/>
<line x1="72.3" y1="541.1" x2="80.5" y2="541.1"/>
<line x1="72.3" y1="532.4" x2="72.3" y2="541.1"/>
<line x1="59.0" y1="527.4" x2="82.0" y2="527.4"/>
<line x1="59.0" y1="536.7" x2="72.3" y2="536.7"/>
<line x1="59.0" y1="527.4" x2="59.0" y2="536.7"/>
<line x1="57.0" y1="519.9" x2="59.8" y2="519.9"/>
<line x1="57.0" y1="532.1" x2="59.0" y2="532.1"/>
<line x1="57.0" y1="519.9" x2="57.0" y2="532.1"/>
<line x1="54.2" y1="512.5" x2="82.0" y2="512.5"/>
<line x1="54.2" y1="526.0" x2="57.0" y2="526.0"/>
<line x1="54.2" y1="512.5" x2="54.2" y2="526.0"/>
<line x1="53.6" y1="447.2" x2="55.1" y2="447.2"/>
<line x1="53.6" y1="519.2" x2="54.2" y2="519.2"/>
<line x1="53.6" y1="447.2" x2="53.6" y2="519.2"/>
<line x1="52.5" y1="427.8" x2="82.0" y2="427.8"/>
<line x1="52.5" y1="483.2" x2="53.6" y2="483.2"/>
<line x1="52.5" y1="427.8" x2="52.5" y2="483.2"/>
<line x1="51.6" y1="422.8" x2="82.0" y2="422.8"/>
<line x1="51.6" y1="455.5" x2="52.5" y2="455.5"/>
<line x1="51.6" y1="422.8" x2="51.6" y2="455.5"/>
<line x1="50.2" y1="411.6" x2="70.1" y2="411.6"/>
<line x1="50.2" y1="439.2" x2="51.6" y2="439.2"/>
<line x1="50.2" y1="411.6" x2="50.2" y2="439.2"/>
<line x1="49.5" y1="402.9" x2="82.0" y2="402.9"/>
<line x1="49.5" y1="425.4" x2="50.2" y2="425.4"/>
<line x1="49.5" y1="402.9" x2="49.5" y2="425.4"/>
<line x1="57.7" y1="557.3" x2="82.0" y2="557.3"/>
<line x1="57.7" y1="562.3" x2="82.0" y2="562.3"/>
<line x1="57.7" y1="557.3" x2="57.7" y2="562.3"/>
<line x1="49.5" y1="552.3" x2="82.0" y2="552.3"/>
<line x1="49.5" y1="559.8" x2="57.7" y2="559.8"/>
<line x1="49.5" y1="552.3" x2="49.5" y2="559.8"/>
<line x1="48.6" y1="414.1" x2="49.5" y2="414.1"/>
<line x1="48.6" y1="556.0" x2="49.5" y2="556.0"/>
<line x1="48.6" y1="414.1" x2="48.6" y2="556.0"/>
<line x1="48.2" y1="397.9" x2="82.0" y2="397.9"/>
<line x1="48.2" y1="485.1" x2="48.6" y2="485.1"/>
<line x1="48.2" y1="397.9" x2="48.2" y2="485.1"/>
<line x1="46.9" y1="392.9" x2="82.0" y2="392.9"/>
<line x1="46.9" y1="441.5" x2="48.2" y2="441.5"/>
<line x1="46.9" y1="392.9" x2="46.9" y2="441.5"/>
<line x1="45.6" y1="385.5" x2="65.4" y2="385.5"/>
<line x1="45.6" y1="417.2" x2="46.9" y2="417.2"/>
<line x1="45.6" y1="385.5" x2="45.6" y2="417.2"/>
<line x1="42.6" y1="378.0" x2="82.0" y2="378.0"/>
<line x1="42.6" y1="401.3" x2="45.6" y2="401.3"/>
<line x1="42.6" y1="378.0" x2="42.6" y2="401.3"/>
<line x1="42.2" y1="373.0" x2="82.0" y2="373.0"/>
<line x1="42.2" y1="389.7" x2="42.6" y2="389.7"/>
<line x1="42.2" y1="373.0" x2="42.2" y2="389.7"/>
<line x1="44.3" y1="572.2" x2="82.0" y2="572.2"/>
<line x1="44.3" y1="577.2" x2="82.0" y2="577.2"/>
<line x1="44.3" y1="572.2" x2="44.3" y2="577.2"/>
<line x1="42.2" y1="567.2" x2="82.0" y2="567.2"/>
<line x1="42.2" y1="574.7" x2="44.3" y2="574.7"/>
<line x1="42.2" y1="567.2" x2="42.2" y2="574.7"/>
<line x1="40.5" y1="381.3" x2="42.2" y2="381.3"/>
<line x1="40.5" y1="571.0" x2="42.2" y2="571.0"/>
<line x1="40.5" y1="381.3" x2="40.5" y2="571.0"/>
<line x1="39.5" y1="358.7" x2="51.3" y2="358.7"/>
<line x1="39.5" y1="476.2" x2="40.5" y2="476.2"/>
<line x1="39.5" y1="358.7" x2="39.5" y2="476.2"/>
<line x1="38.0" y1="343.1" x2="82.0" y2="343.1"/>
<line x1="38.0" y1="417.4" x2="39.5" y2="417.4"/>
<line x1="38.0" y1="343.1" x2="38.0" y2="417.4"/>
</g>
<rect x="46.40" y="220.70" width="19.40" height="91.90" fill="url(#cbe)"/>
<line x1="65.80" y1="221.00" x2="67.40" y2="221.00" stroke="#333" stroke-width="0.5"/>
<text x="68.2" y="222.6" font-size="4.47" textLength="6.8" lengthAdjust="spacingAndGlyphs" stroke="#000" stroke-width="0.13">2.0</text>
<line x1="65.80" y1="232.33" x2="67.40" y2="232.33" stroke="#333" stroke-width="0.5"/>
<text x="68.2" y="233.9" font-size="4.47" textLength="6.8" lengthAdjust="spacingAndGlyphs" stroke="#000" stroke-width="0.13">1.5</text>
<line x1="65.80" y1="243.66" x2="67.40" y2="243.66" stroke="#333" stroke-width="0.5"/>
<text x="68.2" y="245.2" font-size="4.47" textLength="6.8" lengthAdjust="spacingAndGlyphs" stroke="#000" stroke-width="0.13">1.0</text>
<line x1="65.80" y1="254.99" x2="67.40" y2="254.99" stroke="#333" stroke-width="0.5"/>
<text x="68.2" y="256.5" font-size="4.47" textLength="6.8" lengthAdjust="spacingAndGlyphs" stroke="#000" stroke-width="0.13">0.5</text>
<line x1="65.80" y1="266.32" x2="67.40" y2="266.32" stroke="#333" stroke-width="0.5"/>
<text x="68.2" y="267.9" font-size="4.47" textLength="6.8" lengthAdjust="spacingAndGlyphs" stroke="#000" stroke-width="0.13">0.0</text>
<line x1="65.80" y1="277.65" x2="67.40" y2="277.65" stroke="#333" stroke-width="0.5"/>
<text x="68.2" y="279.2" font-size="4.47" textLength="10.4" lengthAdjust="spacingAndGlyphs" stroke="#000" stroke-width="0.13">−0.5</text>
<line x1="65.80" y1="288.98" x2="67.40" y2="288.98" stroke="#333" stroke-width="0.5"/>
<text x="68.2" y="290.5" font-size="4.47" textLength="10.4" lengthAdjust="spacingAndGlyphs" stroke="#000" stroke-width="0.13">−1.0</text>
<line x1="65.80" y1="300.31" x2="67.40" y2="300.31" stroke="#333" stroke-width="0.5"/>
<text x="68.2" y="301.9" font-size="4.47" textLength="10.4" lengthAdjust="spacingAndGlyphs" stroke="#000" stroke-width="0.13">−1.5</text>
<line x1="65.80" y1="311.64" x2="67.40" y2="311.64" stroke="#333" stroke-width="0.5"/>
<text x="68.2" y="313.2" font-size="4.47" textLength="10.4" lengthAdjust="spacingAndGlyphs" stroke="#000" stroke-width="0.13">−2.0</text>
<line x1="346.80" y1="207.79" x2="348.40" y2="207.79" stroke="#333" stroke-width="0.5"/>
<text x="349.4" y="209.5" font-size="4.58" textLength="27.8" lengthAdjust="spacingAndGlyphs" stroke="#000" stroke-width="0.18">cluster_label</text>
<line x1="346.80" y1="223.38" x2="348.40" y2="223.38" stroke="#333" stroke-width="0.5"/>
<text x="349.4" y="225.1" font-size="4.58" textLength="41.9" lengthAdjust="spacingAndGlyphs" stroke="#000" stroke-width="0.18">diabetes_diagnosis</text>
<line x1="346.80" y1="238.97" x2="348.40" y2="238.97" stroke="#333" stroke-width="0.5"/>
<text x="349.4" y="240.7" font-size="4.58" textLength="48.1" lengthAdjust="spacingAndGlyphs" stroke="#000" stroke-width="0.18">bmi_diagnosis_coarse</text>
<line x1="346.80" y1="254.56" x2="348.40" y2="254.56" stroke="#333" stroke-width="0.5"/>
<text x="349.4" y="256.3" font-size="4.58" textLength="17.2" lengthAdjust="spacingAndGlyphs" stroke="#000" stroke-width="0.18">age_cat</text>
<line x1="346.80" y1="270.15" x2="348.40" y2="270.15" stroke="#333" stroke-width="0.5"/>
<text x="349.4" y="271.9" font-size="4.58" textLength="7.5" lengthAdjust="spacingAndGlyphs" stroke="#000" stroke-width="0.18">sex</text>
<line x1="346.80" y1="285.75" x2="348.40" y2="285.75" stroke="#333" stroke-width="0.5"/>
<text x="349.4" y="287.5" font-size="4.58" textLength="39.9" lengthAdjust="spacingAndGlyphs" stroke="#000" stroke-width="0.18">has_comorbidities</text>
<line x1="346.80" y1="301.33" x2="348.40" y2="301.33" stroke="#333" stroke-width="0.5"/>
<text x="349.4" y="303.1" font-size="4.58" textLength="63.9" lengthAdjust="spacingAndGlyphs" stroke="#000" stroke-width="0.18">medication_for_hypertension</text>
<line x1="346.80" y1="316.93" x2="348.40" y2="316.93" stroke="#333" stroke-width="0.5"/>
<text x="349.4" y="318.7" font-size="4.58" textLength="45.3" lengthAdjust="spacingAndGlyphs" stroke="#000" stroke-width="0.18">meds_statins_visit_1</text>
<line x1="346.80" y1="332.51" x2="348.40" y2="332.51" stroke="#333" stroke-width="0.5"/>
<text x="349.4" y="334.3" font-size="4.58" textLength="49.5" lengthAdjust="spacingAndGlyphs" stroke="#000" stroke-width="0.18">meds_diabetes_visit_1</text>
<line x1="346.80" y1="343.14" x2="348.40" y2="343.14" stroke="#333" stroke-width="0.5"/>
<text x="349.4" y="345.1" font-size="4.58" textLength="11.8" lengthAdjust="spacingAndGlyphs" stroke="#000" stroke-width="0.18">SAA1</text>
<line x1="346.80" y1="348.12" x2="348.40" y2="348.12" stroke="#333" stroke-width="0.5"/>
<text x="349.4" y="350.1" font-size="4.58" textLength="15.0" lengthAdjust="spacingAndGlyphs" stroke="#000" stroke-width="0.18">APOC4</text>
<line x1="346.80" y1="353.10" x2="348.40" y2="353.10" stroke="#333" stroke-width="0.5"/>
<text x="349.4" y="355.1" font-size="4.58" textLength="15.0" lengthAdjust="spacingAndGlyphs" stroke="#000" stroke-width="0.18">APOC2</text>
<line x1="346.80" y1="358.08" x2="348.40" y2="358.08" stroke="#333" stroke-width="0.5"/>
<text x="349.4" y="360.1" font-size="4.58" textLength="15.0" lengthAdjust="spacingAndGlyphs" stroke="#000" stroke-width="0.18">APOC3</text>
<line x1="346.80" y1="363.06" x2="348.40" y2="363.06" stroke="#333" stroke-width="0.5"/>
<text x="349.4" y="365.1" font-size="4.58" textLength="11.9" lengthAdjust="spacingAndGlyphs" stroke="#000" stroke-width="0.18">PRG4</text>
<line x1="346.80" y1="368.04" x2="348.40" y2="368.04" stroke="#333" stroke-width="0.5"/>
<text x="349.4" y="370.0" font-size="4.58" textLength="12.2" lengthAdjust="spacingAndGlyphs" stroke="#000" stroke-width="0.18">PROC</text>
<line x1="346.80" y1="373.02" x2="348.40" y2="373.02" stroke="#333" stroke-width="0.5"/>
<text x="349.4" y="375.0" font-size="4.58" textLength="11.4" lengthAdjust="spacingAndGlyphs" stroke="#000" stroke-width="0.18">ITIH3</text>
<line x1="346.80" y1="378.00" x2="348.40" y2="378.00" stroke="#333" stroke-width="0.5"/>
<text x="349.4" y="380.0" font-size="4.58" textLength="8.3" lengthAdjust="spacingAndGlyphs" stroke="#000" stroke-width="0.18">CFP</text>
<line x1="346.80" y1="382.98" x2="348.40" y2="382.98" stroke="#333" stroke-width="0.5"/>
<text x="349.4" y="385.0" font-size="4.58" textLength="17.0" lengthAdjust="spacingAndGlyphs" stroke="#000" stroke-width="0.18">S100A8</text>
<line x1="346.80" y1="387.96" x2="348.40" y2="387.96" stroke="#333" stroke-width="0.5"/>
<text x="349.4" y="390.0" font-size="4.58" textLength="17.0" lengthAdjust="spacingAndGlyphs" stroke="#000" stroke-width="0.18">S100A9</text>
<line x1="346.80" y1="392.94" x2="348.40" y2="392.94" stroke="#333" stroke-width="0.5"/>
<text x="349.4" y="394.9" font-size="4.58" textLength="10.1" lengthAdjust="spacingAndGlyphs" stroke="#000" stroke-width="0.18">GGH</text>
<line x1="346.80" y1="397.92" x2="348.40" y2="397.92" stroke="#333" stroke-width="0.5"/>
<text x="349.4" y="399.9" font-size="4.58" textLength="24.5" lengthAdjust="spacingAndGlyphs" stroke="#000" stroke-width="0.18">SERPINA10</text>
<line x1="346.80" y1="402.90" x2="348.40" y2="402.90" stroke="#333" stroke-width="0.5"/>
<text x="349.4" y="404.9" font-size="4.58" textLength="9.4" lengthAdjust="spacingAndGlyphs" stroke="#000" stroke-width="0.18">CBG</text>
<line x1="346.80" y1="407.88" x2="348.40" y2="407.88" stroke="#333" stroke-width="0.5"/>
<text x="349.4" y="409.9" font-size="4.58" textLength="22.1" lengthAdjust="spacingAndGlyphs" stroke="#000" stroke-width="0.18">SERPIND1</text>
<line x1="346.80" y1="412.86" x2="348.40" y2="412.86" stroke="#333" stroke-width="0.5"/>
<text x="349.4" y="414.9" font-size="4.58" textLength="6.0" lengthAdjust="spacingAndGlyphs" stroke="#000" stroke-width="0.18">HP</text>
<line x1="346.80" y1="417.84" x2="348.40" y2="417.84" stroke="#333" stroke-width="0.5"/>
<text x="349.4" y="419.8" font-size="4.58" textLength="16.5" lengthAdjust="spacingAndGlyphs" stroke="#000" stroke-width="0.18">HP;HPR</text>
<line x1="346.80" y1="422.82" x2="348.40" y2="422.82" stroke="#333" stroke-width="0.5"/>
<text x="349.4" y="424.8" font-size="4.58" textLength="11.4" lengthAdjust="spacingAndGlyphs" stroke="#000" stroke-width="0.18">C1RL</text>
<line x1="346.80" y1="427.80" x2="348.40" y2="427.80" stroke="#333" stroke-width="0.5"/>
<text x="349.4" y="429.8" font-size="4.58" textLength="5.9" lengthAdjust="spacingAndGlyphs" stroke="#000" stroke-width="0.18">C6</text>
<line x1="346.80" y1="432.78" x2="348.40" y2="432.78" stroke="#333" stroke-width="0.5"/>
<text x="349.4" y="434.8" font-size="4.58" textLength="5.9" lengthAdjust="spacingAndGlyphs" stroke="#000" stroke-width="0.18">C2</text>
<line x1="346.80" y1="437.76" x2="348.40" y2="437.76" stroke="#333" stroke-width="0.5"/>
<text x="349.4" y="439.8" font-size="4.58" textLength="9.0" lengthAdjust="spacingAndGlyphs" stroke="#000" stroke-width="0.18">HPX</text>
<line x1="346.80" y1="442.74" x2="348.40" y2="442.74" stroke="#333" stroke-width="0.5"/>
<text x="349.4" y="444.7" font-size="4.58" textLength="12.4" lengthAdjust="spacingAndGlyphs" stroke="#000" stroke-width="0.18">KNG1</text>
<line x1="346.80" y1="447.72" x2="348.40" y2="447.72" stroke="#333" stroke-width="0.5"/>
<text x="349.4" y="449.7" font-size="4.58" textLength="9.0" lengthAdjust="spacingAndGlyphs" stroke="#000" stroke-width="0.18">VTN</text>
<line x1="346.80" y1="452.70" x2="348.40" y2="452.70" stroke="#333" stroke-width="0.5"/>
<text x="349.4" y="454.7" font-size="4.58" textLength="8.9" lengthAdjust="spacingAndGlyphs" stroke="#000" stroke-width="0.18">C1R</text>
<line x1="346.80" y1="457.68" x2="348.40" y2="457.68" stroke="#333" stroke-width="0.5"/>
<text x="349.4" y="459.7" font-size="4.58" textLength="8.7" lengthAdjust="spacingAndGlyphs" stroke="#000" stroke-width="0.18">C1S</text>
<line x1="346.80" y1="462.66" x2="348.40" y2="462.66" stroke="#333" stroke-width="0.5"/>
<text x="349.4" y="464.7" font-size="4.58" textLength="11.5" lengthAdjust="spacingAndGlyphs" stroke="#000" stroke-width="0.18">APCS</text>
<line x1="346.80" y1="467.64" x2="348.40" y2="467.64" stroke="#333" stroke-width="0.5"/>
<text x="349.4" y="469.6" font-size="4.58" textLength="14.3" lengthAdjust="spacingAndGlyphs" stroke="#000" stroke-width="0.18">C4BPA</text>
<line x1="346.80" y1="472.62" x2="348.40" y2="472.62" stroke="#333" stroke-width="0.5"/>
<text x="349.4" y="474.6" font-size="4.58" textLength="14.8" lengthAdjust="spacingAndGlyphs" stroke="#000" stroke-width="0.18">PROS1</text>
<line x1="346.80" y1="477.60" x2="348.40" y2="477.60" stroke="#333" stroke-width="0.5"/>
<text x="349.4" y="479.6" font-size="4.58" textLength="5.3" lengthAdjust="spacingAndGlyphs" stroke="#000" stroke-width="0.18">F9</text>
<line x1="346.80" y1="482.58" x2="348.40" y2="482.58" stroke="#333" stroke-width="0.5"/>
<text x="349.4" y="484.6" font-size="4.58" textLength="5.9" lengthAdjust="spacingAndGlyphs" stroke="#000" stroke-width="0.18">C5</text>
<line x1="346.80" y1="487.56" x2="348.40" y2="487.56" stroke="#333" stroke-width="0.5"/>
<text x="349.4" y="489.6" font-size="4.58" textLength="8.6" lengthAdjust="spacingAndGlyphs" stroke="#000" stroke-width="0.18">CFB</text>
<line x1="346.80" y1="492.54" x2="348.40" y2="492.54" stroke="#333" stroke-width="0.5"/>
<text x="349.4" y="494.5" font-size="4.58" textLength="6.9" lengthAdjust="spacingAndGlyphs" stroke="#000" stroke-width="0.18">CFI</text>
<line x1="346.80" y1="497.52" x2="348.40" y2="497.52" stroke="#333" stroke-width="0.5"/>
<text x="349.4" y="499.5" font-size="4.58" textLength="25.2" lengthAdjust="spacingAndGlyphs" stroke="#000" stroke-width="0.18">CFH;CFHR2</text>
<line x1="346.80" y1="502.50" x2="348.40" y2="502.50" stroke="#333" stroke-width="0.5"/>
<text x="349.4" y="504.5" font-size="4.58" textLength="5.9" lengthAdjust="spacingAndGlyphs" stroke="#000" stroke-width="0.18">C3</text>
<line x1="346.80" y1="507.48" x2="348.40" y2="507.48" stroke="#333" stroke-width="0.5"/>
<text x="349.4" y="509.5" font-size="4.58" textLength="8.9" lengthAdjust="spacingAndGlyphs" stroke="#000" stroke-width="0.18">CFH</text>
<line x1="346.80" y1="512.46" x2="348.40" y2="512.46" stroke="#333" stroke-width="0.5"/>
<text x="349.4" y="514.5" font-size="4.58" textLength="18.7" lengthAdjust="spacingAndGlyphs" stroke="#000" stroke-width="0.18">MAN1A1</text>
<line x1="346.80" y1="517.44" x2="348.40" y2="517.44" stroke="#333" stroke-width="0.5"/>
<text x="349.4" y="519.4" font-size="4.58" textLength="8.8" lengthAdjust="spacingAndGlyphs" stroke="#000" stroke-width="0.18">CRP</text>
<line x1="346.80" y1="522.42" x2="348.40" y2="522.42" stroke="#333" stroke-width="0.5"/>
<text x="349.4" y="524.4" font-size="4.58" textLength="8.1" lengthAdjust="spacingAndGlyphs" stroke="#000" stroke-width="0.18">LBP</text>
<line x1="346.80" y1="527.40" x2="348.40" y2="527.40" stroke="#333" stroke-width="0.5"/>
<text x="349.4" y="529.4" font-size="4.58" textLength="5.9" lengthAdjust="spacingAndGlyphs" stroke="#000" stroke-width="0.18">C9</text>
<line x1="346.80" y1="532.38" x2="348.40" y2="532.38" stroke="#333" stroke-width="0.5"/>
<text x="349.4" y="534.4" font-size="4.58" textLength="17.5" lengthAdjust="spacingAndGlyphs" stroke="#000" stroke-width="0.18">PCOLCE</text>
<line x1="346.80" y1="537.36" x2="348.40" y2="537.36" stroke="#333" stroke-width="0.5"/>
<text x="349.4" y="539.4" font-size="4.58" textLength="9.4" lengthAdjust="spacingAndGlyphs" stroke="#000" stroke-width="0.18">FGG</text>
<line x1="346.80" y1="542.34" x2="348.40" y2="542.34" stroke="#333" stroke-width="0.5"/>
<text x="349.4" y="544.3" font-size="4.58" textLength="9.0" lengthAdjust="spacingAndGlyphs" stroke="#000" stroke-width="0.18">FGA</text>
<line x1="346.80" y1="547.32" x2="348.40" y2="547.32" stroke="#333" stroke-width="0.5"/>
<text x="349.4" y="549.3" font-size="4.58" textLength="9.0" lengthAdjust="spacingAndGlyphs" stroke="#000" stroke-width="0.18">FGB</text>
<line x1="346.80" y1="552.30" x2="348.40" y2="552.30" stroke="#333" stroke-width="0.5"/>
<text x="349.4" y="554.3" font-size="4.58" textLength="21.2" lengthAdjust="spacingAndGlyphs" stroke="#000" stroke-width="0.18">SERPINF1</text>
<line x1="346.80" y1="557.28" x2="348.40" y2="557.28" stroke="#333" stroke-width="0.5"/>
<text x="349.4" y="559.3" font-size="4.58" textLength="8.1" lengthAdjust="spacingAndGlyphs" stroke="#000" stroke-width="0.18">F10</text>
<line x1="346.80" y1="562.26" x2="348.40" y2="562.26" stroke="#333" stroke-width="0.5"/>
<text x="349.4" y="564.3" font-size="4.58" textLength="13.1" lengthAdjust="spacingAndGlyphs" stroke="#000" stroke-width="0.18">ORM2</text>
<line x1="346.80" y1="567.24" x2="348.40" y2="567.24" stroke="#333" stroke-width="0.5"/>
<text x="349.4" y="569.2" font-size="4.58" textLength="9.4" lengthAdjust="spacingAndGlyphs" stroke="#000" stroke-width="0.18">ENH</text>
<line x1="346.80" y1="572.22" x2="348.40" y2="572.22" stroke="#333" stroke-width="0.5"/>
<text x="349.4" y="574.2" font-size="4.58" textLength="22.6" lengthAdjust="spacingAndGlyphs" stroke="#000" stroke-width="0.18">LGALS3BP</text>
<line x1="346.80" y1="577.20" x2="348.40" y2="577.20" stroke="#333" stroke-width="0.5"/>
<text x="349.4" y="579.2" font-size="4.58" textLength="10.4" lengthAdjust="spacingAndGlyphs" stroke="#000" stroke-width="0.18">PIGR</text>
<rect x="463.7" y="223.7" width="106.8" height="333.7" rx="1.5" fill="#fff" stroke="#dcdcdc" stroke-width="0.7"/>
<text x="481.9" y="236.0" font-size="5.82" font-weight="bold" textLength="37.4" lengthAdjust="spacingAndGlyphs" stroke="#000" stroke-width="0.05">cluster label</text>
<rect x="465.80" y="240.35" width="11.30" height="3.70" fill="rgb(180,236,178)"/>
<text x="481.9" y="244.3" font-size="5.82" textLength="25.7" lengthAdjust="spacingAndGlyphs" stroke="#000" stroke-width="0.05">Norm-like</text>
<rect x="465.80" y="248.25" width="11.30" height="3.70" fill="rgb(245,216,184)"/>
<text x="481.9" y="252.2" font-size="5.82" textLength="28.3" lengthAdjust="spacingAndGlyphs" stroke="#000" stroke-width="0.05">PreDM-like</text>
<rect x="465.80" y="256.15" width="11.30" height="3.70" fill="rgb(199,160,207)"/>
<text x="481.9" y="260.1" font-size="5.82" textLength="19.8" lengthAdjust="spacingAndGlyphs" stroke="#000" stroke-width="0.05">DM-like</text>
<text x="481.9" y="274.6" font-size="5.82" font-weight="bold" textLength="56.8" lengthAdjust="spacingAndGlyphs" stroke="#000" stroke-width="0.05">diabetes diagnosis</text>
<rect x="465.80" y="278.95" width="11.30" height="3.70" fill="rgb(123,174,114)"/>
<text x="481.9" y="282.9" font-size="5.82" textLength="14.6" lengthAdjust="spacingAndGlyphs" stroke="#000" stroke-width="0.05">Norm</text>
<rect x="465.80" y="286.85" width="11.30" height="3.70" fill="rgb(227,173,58)"/>
<text x="481.9" y="290.8" font-size="5.82" textLength="17.2" lengthAdjust="spacingAndGlyphs" stroke="#000" stroke-width="0.05">PreDM</text>
<rect x="465.80" y="294.75" width="11.30" height="3.70" fill="rgb(212,100,182)"/>
<text x="481.9" y="298.7" font-size="5.82" textLength="8.7" lengthAdjust="spacingAndGlyphs" stroke="#000" stroke-width="0.05">DM</text>
<text x="481.9" y="314.1" font-size="5.82" font-weight="bold" textLength="63.7" lengthAdjust="spacingAndGlyphs" stroke="#000" stroke-width="0.05">bmi diagnosis coarse</text>
<rect x="465.80" y="318.45" width="11.30" height="3.70" fill="rgb(208,226,242)"/>
<text x="481.9" y="322.4" font-size="5.82" textLength="42.2" lengthAdjust="spacingAndGlyphs" stroke="#000" stroke-width="0.05">01 underweight</text>
<rect x="465.80" y="326.35" width="11.30" height="3.70" fill="rgb(157,205,226)"/>
<text x="481.9" y="330.2" font-size="5.82" textLength="48.0" lengthAdjust="spacingAndGlyphs" stroke="#000" stroke-width="0.05">02 normal_weight</text>
<rect x="465.80" y="334.25" width="11.30" height="3.70" fill="rgb(91,159,205)"/>
<text x="481.9" y="338.2" font-size="5.82" textLength="38.5" lengthAdjust="spacingAndGlyphs" stroke="#000" stroke-width="0.05">03 overweight</text>
<rect x="465.80" y="342.15" width="11.30" height="3.70" fill="rgb(53,104,173)"/>
<text x="481.9" y="346.1" font-size="5.82" textLength="24.5" lengthAdjust="spacingAndGlyphs" stroke="#000" stroke-width="0.05">04 obese</text>
<text x="481.9" y="361.6" font-size="5.82" font-weight="bold" textLength="22.3" lengthAdjust="spacingAndGlyphs" stroke="#000" stroke-width="0.05">age cat</text>
<rect x="465.80" y="365.95" width="11.30" height="3.70" fill="rgb(236,236,245)"/>
<text x="481.9" y="369.9" font-size="5.82" textLength="41.4" lengthAdjust="spacingAndGlyphs" stroke="#000" stroke-width="0.05">02 young_adult</text>
<rect x="465.80" y="373.85" width="11.30" height="3.70" fill="rgb(212,212,234)"/>
<text x="481.9" y="377.8" font-size="5.82" textLength="26.8" lengthAdjust="spacingAndGlyphs" stroke="#000" stroke-width="0.05">03 middle</text>
<rect x="465.80" y="381.75" width="11.30" height="3.70" fill="rgb(172,172,214)"/>
<text x="481.9" y="385.7" font-size="5.82" textLength="22.2" lengthAdjust="spacingAndGlyphs" stroke="#000" stroke-width="0.05">04 older</text>
<rect x="465.80" y="389.65" width="11.30" height="3.70" fill="rgb(134,130,194)"/>
<text x="481.9" y="393.6" font-size="5.82" textLength="26.2" lengthAdjust="spacingAndGlyphs" stroke="#000" stroke-width="0.05">05 retired</text>
<rect x="465.80" y="397.55" width="11.30" height="3.70" fill="rgb(101,80,164)"/>
<text x="481.9" y="401.5" font-size="5.82" textLength="26.8" lengthAdjust="spacingAndGlyphs" stroke="#000" stroke-width="0.05">06 elderly</text>
<text x="481.9" y="416.7" font-size="5.82" font-weight="bold" textLength="10.3" lengthAdjust="spacingAndGlyphs" stroke="#000" stroke-width="0.05">sex</text>
<rect x="465.80" y="421.05" width="11.30" height="3.70" fill="rgb(243,180,196)"/>
<text x="481.9" y="425.0" font-size="5.82" textLength="18.4" lengthAdjust="spacingAndGlyphs" stroke="#000" stroke-width="0.05">female</text>
<rect x="465.80" y="428.95" width="11.30" height="3.70" fill="rgb(176,226,231)"/>
<text x="481.9" y="432.9" font-size="5.82" textLength="13.3" lengthAdjust="spacingAndGlyphs" stroke="#000" stroke-width="0.05">male</text>
<text x="481.9" y="446.7" font-size="5.82" font-weight="bold" textLength="53.7" lengthAdjust="spacingAndGlyphs" stroke="#000" stroke-width="0.05">has comorbidities</text>
<rect x="465.80" y="451.05" width="11.30" height="3.70" fill="rgb(211,211,211)"/>
<text x="481.9" y="455.0" font-size="5.82" textLength="3.4" lengthAdjust="spacingAndGlyphs" stroke="#000" stroke-width="0.05">0</text>
<rect x="465.80" y="458.95" width="11.30" height="3.70" fill="rgb(0,0,0)"/>
<text x="481.9" y="462.9" font-size="5.82" textLength="3.4" lengthAdjust="spacingAndGlyphs" stroke="#000" stroke-width="0.05">1</text>
<text x="481.9" y="477.4" font-size="5.82" font-weight="bold" textLength="85.8" lengthAdjust="spacingAndGlyphs" stroke="#000" stroke-width="0.05">medication for hypertension</text>
<rect x="465.80" y="481.85" width="11.30" height="3.70" fill="rgb(211,211,211)"/>
<text x="481.9" y="485.8" font-size="5.82" textLength="3.4" lengthAdjust="spacingAndGlyphs" stroke="#000" stroke-width="0.05">0</text>
<rect x="465.80" y="489.75" width="11.30" height="3.70" fill="rgb(0,0,0)"/>
<text x="481.9" y="493.6" font-size="5.82" textLength="3.4" lengthAdjust="spacingAndGlyphs" stroke="#000" stroke-width="0.05">1</text>
<text x="481.9" y="508.4" font-size="5.82" font-weight="bold" textLength="59.2" lengthAdjust="spacingAndGlyphs" stroke="#000" stroke-width="0.05">meds statins visit 1</text>
<rect x="465.80" y="512.75" width="11.30" height="3.70" fill="rgb(211,211,211)"/>
<text x="481.9" y="516.6" font-size="5.82" textLength="3.4" lengthAdjust="spacingAndGlyphs" stroke="#000" stroke-width="0.05">0</text>
<rect x="465.80" y="520.65" width="11.30" height="3.70" fill="rgb(0,0,0)"/>
<text x="481.9" y="524.5" font-size="5.82" textLength="3.4" lengthAdjust="spacingAndGlyphs" stroke="#000" stroke-width="0.05">1</text>
<text x="481.9" y="538.2" font-size="5.82" font-weight="bold" textLength="64.5" lengthAdjust="spacingAndGlyphs" stroke="#000" stroke-width="0.05">meds diabetes visit 1</text>
<rect x="465.80" y="542.65" width="11.30" height="3.70" fill="rgb(211,211,211)"/>
<text x="481.9" y="546.5" font-size="5.82" textLength="3.4" lengthAdjust="spacingAndGlyphs" stroke="#000" stroke-width="0.05">0</text>
<rect x="465.80" y="550.55" width="11.30" height="3.70" fill="rgb(0,0,0)"/>
<text x="481.9" y="554.4" font-size="5.82" textLength="3.4" lengthAdjust="spacingAndGlyphs" stroke="#000" stroke-width="0.05">1</text></svg>
</body></html>
